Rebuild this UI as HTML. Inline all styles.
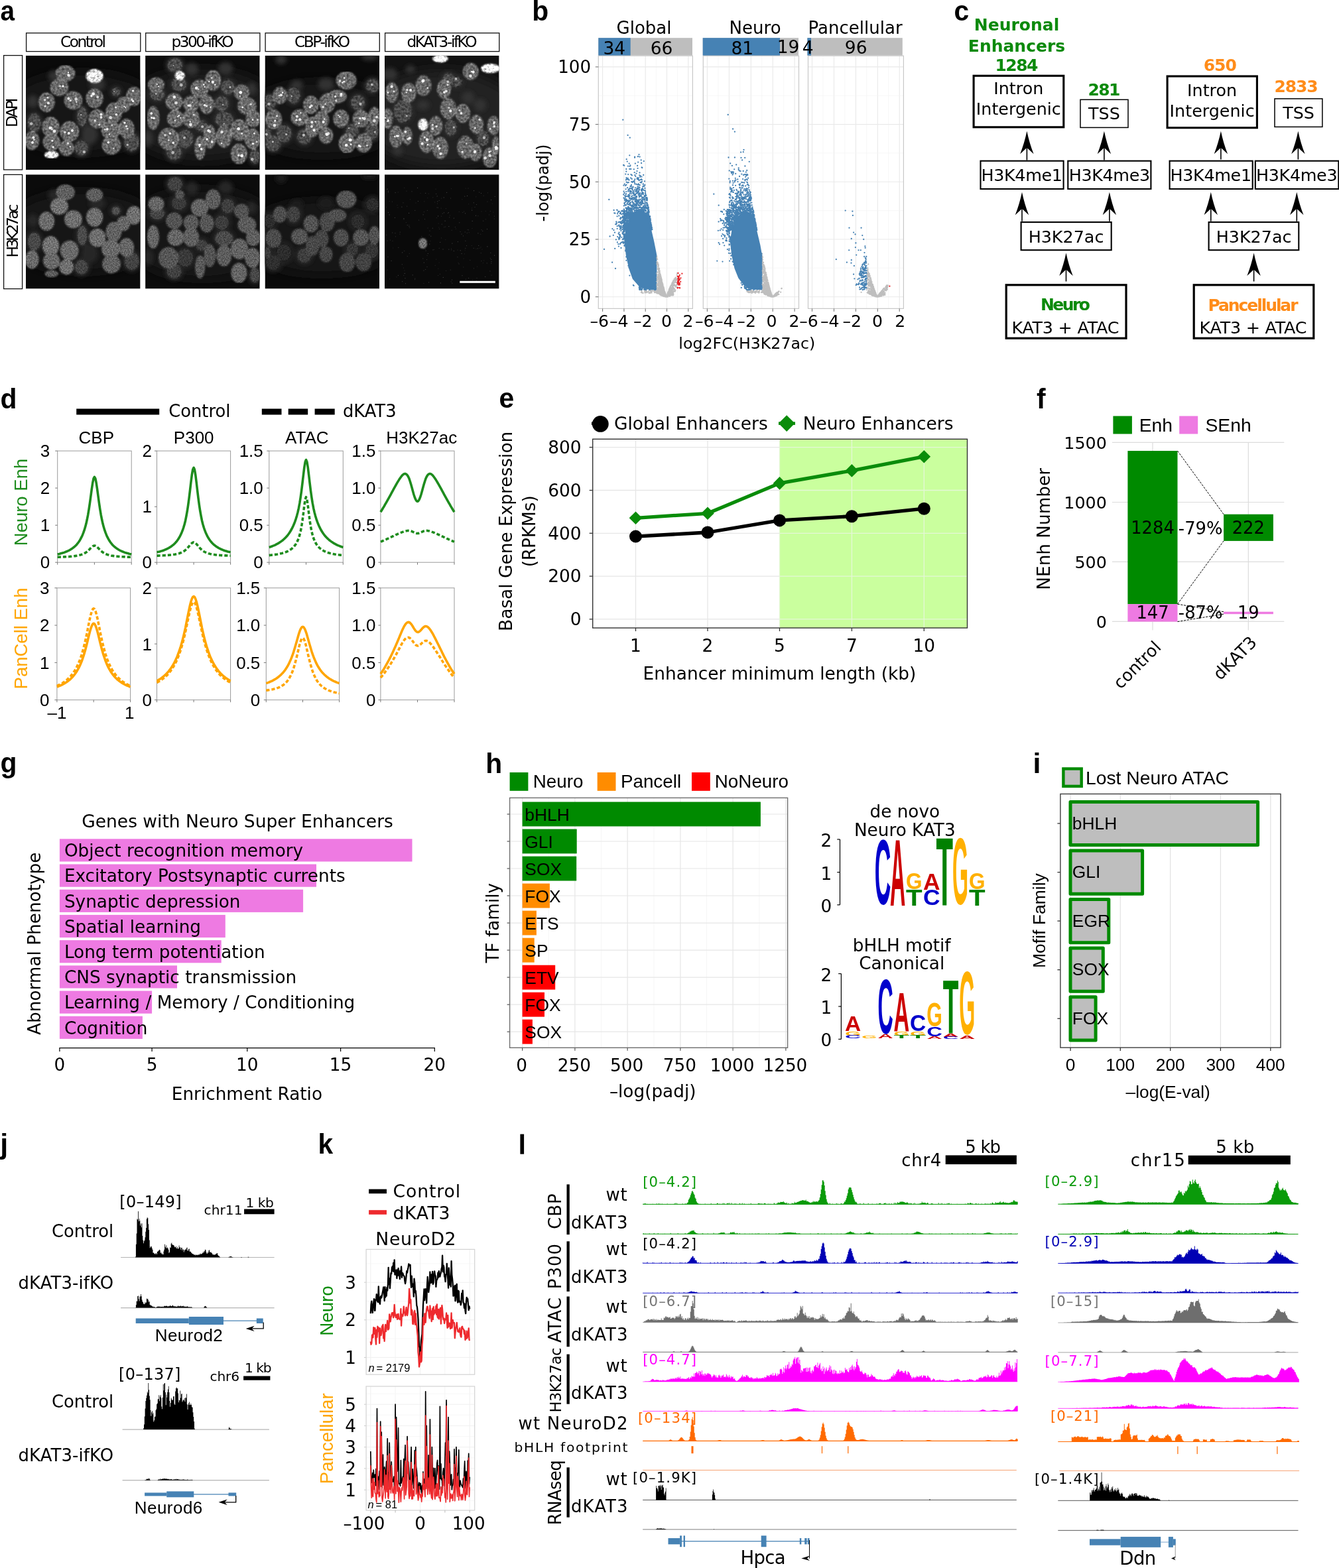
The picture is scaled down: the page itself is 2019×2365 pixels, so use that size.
<!DOCTYPE html>
<html lang="en"><head><meta charset="utf-8"><title>Figure</title>
<style>
html,body{margin:0;padding:0;background:#fff}
svg{display:block}
text{font-family:"Liberation Sans",sans-serif}
text.d{font-family:"DejaVu Sans","Liberation Sans",sans-serif}
</style></head>
<body>
<svg width="2019" height="2365" viewBox="0 0 2019 2365">
<defs>
<filter id="bl1" x="-20%" y="-20%" width="140%" height="140%"><feGaussianBlur stdDeviation="1.1"/></filter>
<filter id="bl2" x="-30%" y="-30%" width="160%" height="160%"><feGaussianBlur stdDeviation="3"/></filter>
<filter id="bl0" x="-30%" y="-30%" width="160%" height="160%"><feGaussianBlur stdDeviation="0.6"/></filter>
<filter id="bl3" x="-30%" y="-30%" width="160%" height="160%"><feGaussianBlur stdDeviation="9"/></filter>
<filter id="tx1" x="0" y="0" width="100%" height="100%" color-interpolation-filters="sRGB"><feGaussianBlur in="SourceGraphic" stdDeviation="1.0" result="b"/><feTurbulence type="fractalNoise" baseFrequency="0.3" numOctaves="3" seed="5" result="n"/><feColorMatrix in="n" type="matrix" values="1 0 0 0 0  1 0 0 0 0  1 0 0 0 0  0 0 0 0 1" result="g"/><feComposite in="b" in2="g" operator="arithmetic" k1="1.3" k2="0.4" k3="0" k4="0" result="c"/><feGaussianBlur in="c" stdDeviation="0.45"/></filter>
<filter id="tx2" x="0" y="0" width="100%" height="100%" color-interpolation-filters="sRGB"><feGaussianBlur in="SourceGraphic" stdDeviation="1.3" result="b"/><feTurbulence type="fractalNoise" baseFrequency="0.55" numOctaves="2" seed="9" result="n"/><feColorMatrix in="n" type="matrix" values="1 0 0 0 0  1 0 0 0 0  1 0 0 0 0  0 0 0 0 1" result="g"/><feComposite in="b" in2="g" operator="arithmetic" k1="1.2" k2="0.4" k3="0" k4="0" result="c"/><feGaussianBlur in="c" stdDeviation="0.5"/></filter>
<clipPath id="ca00"><rect x="39.0" y="83.8" width="172.6" height="172.4"/></clipPath>
<clipPath id="ca01"><rect x="219.1" y="83.8" width="172.6" height="172.4"/></clipPath>
<clipPath id="ca02"><rect x="399.5" y="83.8" width="172.6" height="172.4"/></clipPath>
<clipPath id="ca03"><rect x="580.0" y="83.8" width="172.6" height="172.4"/></clipPath>
<clipPath id="ca10"><rect x="39.0" y="263.2" width="172.6" height="172.4"/></clipPath>
<clipPath id="ca11"><rect x="219.1" y="263.2" width="172.6" height="172.4"/></clipPath>
<clipPath id="ca12"><rect x="399.5" y="263.2" width="172.6" height="172.4"/></clipPath>
<clipPath id="ca13"><rect x="580.0" y="263.2" width="172.6" height="172.4"/></clipPath>
<clipPath id="cd00"><rect x="84.7" y="680.1" width="115.49999999999999" height="168.10000000000002"/></clipPath>
<clipPath id="cd01"><rect x="234.5" y="680.1" width="115.10000000000002" height="168.10000000000002"/></clipPath>
<clipPath id="cd02"><rect x="403.8" y="680.1" width="115.49999999999994" height="168.10000000000002"/></clipPath>
<clipPath id="cd03"><rect x="571.9" y="680.1" width="115.10000000000002" height="168.10000000000002"/></clipPath>
<clipPath id="cd10"><rect x="83.9" y="886.8" width="114.69999999999999" height="168.9000000000001"/></clipPath>
<clipPath id="cd11"><rect x="234.5" y="886.8" width="115.10000000000002" height="168.9000000000001"/></clipPath>
<clipPath id="cd12"><rect x="399.3" y="886.8" width="114.30000000000001" height="168.9000000000001"/></clipPath>
<clipPath id="cd13"><rect x="571.9" y="886.8" width="115.10000000000002" height="168.9000000000001"/></clipPath>
<clipPath id="ck1"><rect x="552.1" y="1884.4" width="163.6" height="188.8"/></clipPath>
<clipPath id="ck2"><rect x="552.1" y="2091" width="163.6" height="187"/></clipPath>
</defs>
<rect width="2019" height="2365" fill="#fff"/>
<text transform="translate(0.5 31.2) scale(0.9 1)" font-size="43" font-weight="bold">a</text>
<rect x="39.6" y="49.8" width="172.2" height="27.8" fill="#fff" stroke="#111" stroke-width="1.3" />
<text x="125.5" y="71.2" font-size="23.3" class="d" text-anchor="middle" textLength="69" lengthAdjust="spacing">Control</text>
<rect x="219.7" y="49.8" width="172.2" height="27.8" fill="#fff" stroke="#111" stroke-width="1.3" />
<text x="305.6" y="71.2" font-size="23.3" class="d" text-anchor="middle" textLength="94" lengthAdjust="spacing">p300-ifKO</text>
<rect x="400.1" y="49.8" width="172.2" height="27.8" fill="#fff" stroke="#111" stroke-width="1.3" />
<text x="486.0" y="71.2" font-size="23.3" class="d" text-anchor="middle" textLength="84" lengthAdjust="spacing">CBP-ifKO</text>
<rect x="580.6" y="49.8" width="172.2" height="27.8" fill="#fff" stroke="#111" stroke-width="1.3" />
<text x="666.5" y="71.2" font-size="23.3" class="d" text-anchor="middle" textLength="106" lengthAdjust="spacing">dKAT3-ifKO</text>
<rect x="5.6" y="83.6" width="28.0" height="172.4" fill="#fff" stroke="#111" stroke-width="1.3" />
<rect x="5.6" y="263.4" width="28.0" height="172.2" fill="#fff" stroke="#111" stroke-width="1.3" />
<text x="26.4" y="169.8" font-size="23.3" class="d" text-anchor="middle" transform="rotate(-90 26.4 169.8)" textLength="44.5" lengthAdjust="spacing">DAPI</text>
<text x="26.6" y="348.0" font-size="23.3" class="d" text-anchor="middle" transform="rotate(-90 26.6 348.0)" textLength="81" lengthAdjust="spacing">H3K27ac</text>
<g clip-path="url(#ca00)">
<rect x="39.0" y="83.8" width="172.6" height="172.4" fill="#0a0a0a" />
<ellipse cx="125.0" cy="170.0" rx="120" ry="62.1" fill="#181818" filter="url(#bl3)"/>
<g filter="url(#bl2)">
<ellipse cx="124.0" cy="175.8" rx="10.5" ry="17.9" fill="#2c2c2c"/>
<ellipse cx="122.9" cy="223.3" rx="13.0" ry="14.2" fill="#2c2c2c"/>
<ellipse cx="51.7" cy="184.9" rx="13.0" ry="16.7" fill="#2c2c2c"/>
<ellipse cx="198.6" cy="214.3" rx="14.2" ry="16.7" fill="#2c2c2c"/>
<ellipse cx="49.4" cy="153.2" rx="8.5" ry="9.8" fill="#303030"/>
<ellipse cx="174.9" cy="138.5" rx="9.3" ry="9.3" fill="#2c2c2c"/>
<ellipse cx="146.6" cy="127.2" rx="12.2" ry="9.8" fill="#303030"/>
<ellipse cx="81.1" cy="114.8" rx="8.5" ry="8.5" fill="#303030"/>
<ellipse cx="135.3" cy="203.0" rx="12.2" ry="14.7" fill="#303030"/>
</g>
<g filter="url(#tx1)">
<ellipse cx="124.0" cy="175.8" rx="7.7" ry="15.1" fill="#484848" stroke="#565656" stroke-width="1"/>
<ellipse cx="122.9" cy="223.3" rx="10.2" ry="11.4" fill="#484848" stroke="#565656" stroke-width="1"/>
<ellipse cx="51.7" cy="184.9" rx="10.2" ry="13.9" fill="#484848" stroke="#565656" stroke-width="1"/>
<ellipse cx="198.6" cy="214.3" rx="11.4" ry="13.9" fill="#484848" stroke="#565656" stroke-width="1"/>
<ellipse cx="174.9" cy="138.5" rx="6.5" ry="6.5" fill="#484848" stroke="#565656" stroke-width="1"/>
<ellipse cx="98.5" cy="110.7" rx="14.3" ry="11.9" fill="#646464" stroke="#9a9a9a" stroke-width="1"/>
<ellipse cx="89.4" cy="131.7" rx="13.4" ry="12.6" fill="#646464" stroke="#9a9a9a" stroke-width="1"/>
<ellipse cx="142.6" cy="114.8" rx="12.6" ry="10.2" fill="#e0e0e0" stroke="#f0f0f0" stroke-width="1"/>
<ellipse cx="70.2" cy="154.3" rx="11.9" ry="14.3" fill="#646464" stroke="#9a9a9a" stroke-width="1"/>
<ellipse cx="110.5" cy="151.4" rx="13.4" ry="13.4" fill="#646464" stroke="#9a9a9a" stroke-width="1"/>
<ellipse cx="142.6" cy="148.2" rx="12.6" ry="14.3" fill="#646464" stroke="#9a9a9a" stroke-width="1"/>
<ellipse cx="202.0" cy="145.3" rx="11.4" ry="13.9" fill="#646464" stroke="#9a9a9a" stroke-width="1"/>
<ellipse cx="171.5" cy="170.2" rx="11.9" ry="15.1" fill="#646464" stroke="#9a9a9a" stroke-width="1"/>
<ellipse cx="186.2" cy="157.7" rx="10.2" ry="11.4" fill="#646464" stroke="#9a9a9a" stroke-width="1"/>
<ellipse cx="146.6" cy="179.2" rx="12.6" ry="13.9" fill="#646464" stroke="#9a9a9a" stroke-width="1"/>
<ellipse cx="76.5" cy="191.7" rx="12.6" ry="15.1" fill="#646464" stroke="#9a9a9a" stroke-width="1"/>
<ellipse cx="104.8" cy="198.4" rx="13.9" ry="15.1" fill="#646464" stroke="#9a9a9a" stroke-width="1"/>
<ellipse cx="167.0" cy="196.2" rx="13.9" ry="13.9" fill="#646464" stroke="#9a9a9a" stroke-width="1"/>
<ellipse cx="190.7" cy="193.9" rx="11.4" ry="14.3" fill="#646464" stroke="#9a9a9a" stroke-width="1"/>
<ellipse cx="48.3" cy="212.0" rx="10.2" ry="13.9" fill="#646464" stroke="#9a9a9a" stroke-width="1"/>
<ellipse cx="77.7" cy="214.3" rx="12.6" ry="12.6" fill="#646464" stroke="#9a9a9a" stroke-width="1"/>
<ellipse cx="100.3" cy="223.3" rx="10.9" ry="11.4" fill="#646464" stroke="#9a9a9a" stroke-width="1"/>
<ellipse cx="168.1" cy="218.8" rx="13.9" ry="13.9" fill="#646464" stroke="#9a9a9a" stroke-width="1"/>
<ellipse cx="77.7" cy="233.5" rx="10.2" ry="5.3" fill="#e0e0e0" stroke="#f0f0f0" stroke-width="1"/>
</g>
<g filter="url(#bl0)" fill="#fff">
<circle cx="103.0" cy="109.4" r="1.1" opacity="0.95"/>
<circle cx="103.8" cy="113.7" r="2.3" opacity="0.76"/>
<circle cx="102.8" cy="112.9" r="1.3" opacity="0.87"/>
<circle cx="90.5" cy="129.7" r="1.3" opacity="0.89"/>
<circle cx="95.0" cy="129.9" r="1.6" opacity="0.99"/>
<circle cx="140.4" cy="114.1" r="1.6" opacity="0.86"/>
<circle cx="137.6" cy="112.9" r="2.0" opacity="0.73"/>
<circle cx="67.7" cy="150.8" r="1.8" opacity="0.72"/>
<circle cx="72.7" cy="155.5" r="2.0" opacity="0.83"/>
<circle cx="68.1" cy="160.2" r="1.6" opacity="0.79"/>
<circle cx="71.9" cy="147.3" r="1.3" opacity="0.87"/>
<circle cx="106.4" cy="151.5" r="1.6" opacity="0.88"/>
<circle cx="115.3" cy="153.8" r="1.2" opacity="0.80"/>
<circle cx="114.7" cy="149.5" r="2.3" opacity="0.72"/>
<circle cx="103.4" cy="148.7" r="2.1" opacity="0.80"/>
<circle cx="137.9" cy="144.7" r="1.6" opacity="0.95"/>
<circle cx="147.1" cy="146.4" r="1.9" opacity="0.72"/>
<circle cx="140.7" cy="141.7" r="2.4" opacity="0.95"/>
<circle cx="200.5" cy="136.9" r="1.5" opacity="0.98"/>
<circle cx="198.8" cy="150.3" r="1.7" opacity="0.77"/>
<circle cx="200.6" cy="152.5" r="1.6" opacity="0.98"/>
<circle cx="175.4" cy="172.8" r="1.8" opacity="0.97"/>
<circle cx="174.6" cy="161.9" r="1.4" opacity="0.82"/>
<circle cx="166.8" cy="177.4" r="2.3" opacity="0.75"/>
<circle cx="189.2" cy="162.3" r="1.0" opacity="0.95"/>
<circle cx="187.4" cy="160.6" r="1.2" opacity="0.86"/>
<circle cx="122.2" cy="173.1" r="1.2" opacity="0.60"/>
<circle cx="152.5" cy="177.1" r="2.0" opacity="0.84"/>
<circle cx="152.4" cy="172.6" r="2.0" opacity="0.87"/>
<circle cx="143.2" cy="182.0" r="1.7" opacity="0.82"/>
<circle cx="149.8" cy="188.0" r="1.6" opacity="0.73"/>
<circle cx="77.8" cy="192.2" r="1.2" opacity="0.73"/>
<circle cx="75.5" cy="193.0" r="2.2" opacity="0.88"/>
<circle cx="78.4" cy="194.7" r="1.5" opacity="0.81"/>
<circle cx="82.0" cy="197.9" r="2.4" opacity="0.84"/>
<circle cx="103.8" cy="201.1" r="2.0" opacity="0.92"/>
<circle cx="97.8" cy="199.5" r="1.7" opacity="0.76"/>
<circle cx="109.0" cy="197.0" r="2.0" opacity="0.97"/>
<circle cx="165.0" cy="202.5" r="1.1" opacity="0.95"/>
<circle cx="158.3" cy="195.2" r="1.5" opacity="0.77"/>
<circle cx="161.7" cy="194.8" r="1.9" opacity="0.88"/>
<circle cx="168.8" cy="188.8" r="1.3" opacity="0.77"/>
<circle cx="190.5" cy="190.5" r="1.7" opacity="0.81"/>
<circle cx="192.1" cy="194.2" r="1.4" opacity="0.78"/>
<circle cx="188.0" cy="185.1" r="1.6" opacity="0.98"/>
<circle cx="51.4" cy="210.8" r="1.3" opacity="0.77"/>
<circle cx="49.0" cy="214.9" r="1.9" opacity="0.97"/>
<circle cx="50.4" cy="207.5" r="1.9" opacity="0.94"/>
<circle cx="78.8" cy="212.3" r="1.5" opacity="0.91"/>
<circle cx="80.1" cy="221.8" r="1.6" opacity="0.89"/>
<circle cx="102.6" cy="216.0" r="1.6" opacity="0.82"/>
<circle cx="105.8" cy="221.3" r="1.2" opacity="0.74"/>
<circle cx="126.7" cy="229.2" r="2.1" opacity="0.60"/>
<circle cx="163.3" cy="214.8" r="1.7" opacity="0.98"/>
<circle cx="171.4" cy="223.7" r="1.0" opacity="0.94"/>
<circle cx="75.1" cy="231.6" r="2.3" opacity="0.83"/>
<circle cx="81.9" cy="231.0" r="1.3" opacity="0.78"/>
<circle cx="77.0" cy="234.9" r="1.8" opacity="0.78"/>
<circle cx="76.0" cy="234.0" r="2.3" opacity="0.81"/>
<circle cx="47.2" cy="186.5" r="2.3" opacity="0.60"/>
<circle cx="192.2" cy="218.5" r="1.7" opacity="0.60"/>
<circle cx="172.1" cy="138.0" r="1.0" opacity="0.60"/>
</g>
</g>
<g clip-path="url(#ca01)">
<rect x="219.1" y="83.8" width="172.6" height="172.4" fill="#0c0c0c" />
<ellipse cx="305.1" cy="173.4" rx="120" ry="69.0" fill="#1a1a1a" filter="url(#bl3)"/>
<g filter="url(#bl2)">
<ellipse cx="263.8" cy="98.2" rx="14.2" ry="13.6" fill="#2c2c2c"/>
<ellipse cx="270.0" cy="127.0" rx="14.2" ry="13.6" fill="#2c2c2c"/>
<ellipse cx="237.2" cy="142.8" rx="14.2" ry="11.8" fill="#2c2c2c"/>
<ellipse cx="343.5" cy="131.5" rx="13.0" ry="14.2" fill="#2c2c2c"/>
<ellipse cx="334.4" cy="156.4" rx="13.6" ry="14.2" fill="#2c2c2c"/>
<ellipse cx="337.8" cy="180.1" rx="16.7" ry="14.2" fill="#2c2c2c"/>
<ellipse cx="279.0" cy="209.5" rx="15.4" ry="16.7" fill="#2c2c2c"/>
<ellipse cx="262.6" cy="229.9" rx="14.2" ry="14.2" fill="#2c2c2c"/>
<ellipse cx="384.2" cy="235.5" rx="10.5" ry="14.2" fill="#2c2c2c"/>
<ellipse cx="303.9" cy="190.3" rx="11.8" ry="11.8" fill="#2c2c2c"/>
<ellipse cx="289.2" cy="104.4" rx="9.8" ry="9.8" fill="#303030"/>
<ellipse cx="340.1" cy="103.2" rx="11.0" ry="9.8" fill="#303030"/>
<ellipse cx="379.6" cy="133.8" rx="7.3" ry="9.8" fill="#303030"/>
<ellipse cx="223.6" cy="208.4" rx="7.3" ry="12.2" fill="#303030"/>
</g>
<g filter="url(#tx1)">
<ellipse cx="263.8" cy="98.2" rx="11.4" ry="10.8" fill="#484848" stroke="#565656" stroke-width="1"/>
<ellipse cx="270.0" cy="127.0" rx="11.4" ry="10.8" fill="#484848" stroke="#565656" stroke-width="1"/>
<ellipse cx="237.2" cy="142.8" rx="11.4" ry="9.0" fill="#484848" stroke="#565656" stroke-width="1"/>
<ellipse cx="343.5" cy="131.5" rx="10.2" ry="11.4" fill="#484848" stroke="#565656" stroke-width="1"/>
<ellipse cx="334.4" cy="156.4" rx="10.8" ry="11.4" fill="#484848" stroke="#565656" stroke-width="1"/>
<ellipse cx="337.8" cy="180.1" rx="13.9" ry="11.4" fill="#484848" stroke="#565656" stroke-width="1"/>
<ellipse cx="279.0" cy="209.5" rx="12.6" ry="13.9" fill="#484848" stroke="#565656" stroke-width="1"/>
<ellipse cx="262.6" cy="229.9" rx="11.4" ry="11.4" fill="#484848" stroke="#565656" stroke-width="1"/>
<ellipse cx="384.2" cy="235.5" rx="7.7" ry="11.4" fill="#484848" stroke="#565656" stroke-width="1"/>
<ellipse cx="303.9" cy="190.3" rx="9.0" ry="9.0" fill="#484848" stroke="#565656" stroke-width="1"/>
<ellipse cx="271.1" cy="114.0" rx="7.1" ry="6.5" fill="#e0e0e0" stroke="#f0f0f0" stroke-width="1"/>
<ellipse cx="235.5" cy="128.1" rx="12.0" ry="10.8" fill="#646464" stroke="#9a9a9a" stroke-width="1"/>
<ellipse cx="301.1" cy="133.8" rx="13.2" ry="13.2" fill="#646464" stroke="#9a9a9a" stroke-width="1"/>
<ellipse cx="321.4" cy="121.3" rx="11.4" ry="15.1" fill="#646464" stroke="#9a9a9a" stroke-width="1"/>
<ellipse cx="364.4" cy="139.4" rx="11.4" ry="11.4" fill="#646464" stroke="#9a9a9a" stroke-width="1"/>
<ellipse cx="262.6" cy="153.6" rx="12.6" ry="12.6" fill="#646464" stroke="#9a9a9a" stroke-width="1"/>
<ellipse cx="288.1" cy="156.4" rx="11.4" ry="12.0" fill="#646464" stroke="#9a9a9a" stroke-width="1"/>
<ellipse cx="311.8" cy="157.5" rx="10.8" ry="13.9" fill="#646464" stroke="#9a9a9a" stroke-width="1"/>
<ellipse cx="372.3" cy="159.8" rx="13.9" ry="12.6" fill="#646464" stroke="#9a9a9a" stroke-width="1"/>
<ellipse cx="231.0" cy="177.9" rx="9.0" ry="17.5" fill="#646464" stroke="#9a9a9a" stroke-width="1"/>
<ellipse cx="264.9" cy="179.0" rx="12.6" ry="12.6" fill="#646464" stroke="#9a9a9a" stroke-width="1"/>
<ellipse cx="288.1" cy="178.4" rx="12.0" ry="14.5" fill="#646464" stroke="#9a9a9a" stroke-width="1"/>
<ellipse cx="381.9" cy="179.0" rx="10.8" ry="12.6" fill="#646464" stroke="#9a9a9a" stroke-width="1"/>
<ellipse cx="361.0" cy="196.0" rx="13.2" ry="15.7" fill="#646464" stroke="#9a9a9a" stroke-width="1"/>
<ellipse cx="337.8" cy="206.1" rx="11.4" ry="16.3" fill="#646464" stroke="#9a9a9a" stroke-width="1"/>
<ellipse cx="316.3" cy="206.1" rx="9.0" ry="17.5" fill="#646464" stroke="#9a9a9a" stroke-width="1"/>
<ellipse cx="254.1" cy="209.5" rx="15.1" ry="16.3" fill="#646464" stroke="#9a9a9a" stroke-width="1"/>
<ellipse cx="380.8" cy="209.5" rx="11.4" ry="15.1" fill="#646464" stroke="#9a9a9a" stroke-width="1"/>
<ellipse cx="301.6" cy="223.1" rx="7.7" ry="17.5" fill="#646464" stroke="#9a9a9a" stroke-width="1"/>
<ellipse cx="360.4" cy="232.1" rx="12.0" ry="15.1" fill="#646464" stroke="#9a9a9a" stroke-width="1"/>
</g>
<g filter="url(#bl0)" fill="#fff">
<circle cx="261.5" cy="99.0" r="1.0" opacity="0.60"/>
<circle cx="272.4" cy="116.3" r="2.0" opacity="0.87"/>
<circle cx="269.7" cy="116.5" r="1.8" opacity="0.94"/>
<circle cx="236.7" cy="127.1" r="1.3" opacity="0.71"/>
<circle cx="239.1" cy="130.4" r="1.0" opacity="0.97"/>
<circle cx="273.1" cy="128.2" r="2.4" opacity="0.60"/>
<circle cx="235.2" cy="141.6" r="1.4" opacity="0.60"/>
<circle cx="296.1" cy="132.7" r="2.3" opacity="0.91"/>
<circle cx="307.2" cy="127.7" r="1.4" opacity="0.87"/>
<circle cx="308.5" cy="131.0" r="1.2" opacity="0.74"/>
<circle cx="299.2" cy="134.5" r="1.3" opacity="0.72"/>
<circle cx="320.8" cy="123.8" r="2.1" opacity="0.98"/>
<circle cx="319.1" cy="117.6" r="1.4" opacity="0.74"/>
<circle cx="315.3" cy="123.0" r="1.1" opacity="0.97"/>
<circle cx="324.4" cy="127.7" r="1.3" opacity="0.91"/>
<circle cx="347.0" cy="131.4" r="1.6" opacity="0.60"/>
<circle cx="361.9" cy="144.9" r="1.0" opacity="0.87"/>
<circle cx="363.1" cy="139.9" r="1.5" opacity="0.89"/>
<circle cx="362.7" cy="139.3" r="2.4" opacity="0.94"/>
<circle cx="265.5" cy="155.2" r="2.3" opacity="0.75"/>
<circle cx="262.9" cy="146.2" r="2.2" opacity="0.90"/>
<circle cx="284.1" cy="159.2" r="1.7" opacity="0.85"/>
<circle cx="286.6" cy="159.3" r="2.1" opacity="0.76"/>
<circle cx="290.5" cy="154.4" r="1.0" opacity="0.73"/>
<circle cx="317.5" cy="161.7" r="1.1" opacity="0.96"/>
<circle cx="308.6" cy="158.7" r="1.8" opacity="0.98"/>
<circle cx="311.6" cy="160.0" r="1.7" opacity="0.77"/>
<circle cx="336.1" cy="157.8" r="1.1" opacity="0.60"/>
<circle cx="378.2" cy="157.3" r="1.7" opacity="0.76"/>
<circle cx="365.8" cy="161.9" r="1.4" opacity="0.94"/>
<circle cx="232.0" cy="178.3" r="1.7" opacity="0.99"/>
<circle cx="228.7" cy="177.5" r="1.6" opacity="0.90"/>
<circle cx="228.3" cy="171.0" r="1.8" opacity="0.97"/>
<circle cx="263.8" cy="181.7" r="1.3" opacity="0.76"/>
<circle cx="269.8" cy="174.4" r="1.2" opacity="1.00"/>
<circle cx="272.4" cy="178.1" r="1.0" opacity="0.89"/>
<circle cx="268.2" cy="175.9" r="1.1" opacity="0.90"/>
<circle cx="292.2" cy="173.2" r="1.4" opacity="0.77"/>
<circle cx="286.9" cy="183.6" r="1.2" opacity="0.83"/>
<circle cx="287.4" cy="188.0" r="2.4" opacity="0.86"/>
<circle cx="388.5" cy="180.7" r="1.3" opacity="0.75"/>
<circle cx="381.0" cy="180.7" r="1.4" opacity="0.90"/>
<circle cx="337.9" cy="186.6" r="1.1" opacity="0.60"/>
<circle cx="364.7" cy="201.4" r="1.6" opacity="0.79"/>
<circle cx="359.6" cy="194.2" r="2.3" opacity="0.96"/>
<circle cx="334.5" cy="199.1" r="2.2" opacity="0.82"/>
<circle cx="334.2" cy="215.9" r="1.2" opacity="0.92"/>
<circle cx="319.7" cy="214.1" r="2.0" opacity="0.85"/>
<circle cx="312.1" cy="210.0" r="1.7" opacity="0.97"/>
<circle cx="316.4" cy="198.6" r="2.1" opacity="0.70"/>
<circle cx="314.3" cy="197.0" r="2.0" opacity="0.99"/>
<circle cx="254.4" cy="211.5" r="1.2" opacity="0.81"/>
<circle cx="261.2" cy="215.4" r="1.8" opacity="0.89"/>
<circle cx="248.9" cy="203.8" r="1.7" opacity="0.70"/>
<circle cx="256.5" cy="201.2" r="1.7" opacity="0.86"/>
<circle cx="278.0" cy="207.8" r="2.0" opacity="0.60"/>
<circle cx="383.3" cy="201.2" r="1.3" opacity="0.93"/>
<circle cx="381.5" cy="216.7" r="1.6" opacity="0.95"/>
<circle cx="387.3" cy="213.9" r="1.4" opacity="0.71"/>
<circle cx="300.9" cy="221.0" r="1.2" opacity="0.78"/>
<circle cx="301.5" cy="218.2" r="1.8" opacity="0.70"/>
<circle cx="303.6" cy="224.8" r="1.9" opacity="0.91"/>
<circle cx="300.6" cy="218.8" r="1.7" opacity="0.84"/>
<circle cx="260.7" cy="230.3" r="2.3" opacity="0.60"/>
<circle cx="359.7" cy="234.3" r="1.7" opacity="0.79"/>
<circle cx="364.7" cy="234.9" r="2.4" opacity="1.00"/>
<circle cx="380.3" cy="240.3" r="2.3" opacity="0.60"/>
<circle cx="305.2" cy="191.0" r="2.0" opacity="0.60"/>
</g>
</g>
<g clip-path="url(#ca02)">
<rect x="399.5" y="83.8" width="172.6" height="172.4" fill="#0a0a0a" />
<ellipse cx="485.5" cy="178.6" rx="120" ry="56.9" fill="#171717" filter="url(#bl3)"/>
<g filter="url(#bl2)">
<ellipse cx="442.5" cy="143.9" rx="13.0" ry="15.4" fill="#2c2c2c"/>
<ellipse cx="447.5" cy="128.1" rx="9.8" ry="7.3" fill="#303030"/>
<ellipse cx="406.8" cy="154.1" rx="11.8" ry="14.2" fill="#2c2c2c"/>
<ellipse cx="491.6" cy="127.0" rx="12.2" ry="9.8" fill="#303030"/>
<ellipse cx="561.7" cy="129.2" rx="13.0" ry="13.0" fill="#2c2c2c"/>
<ellipse cx="539.7" cy="154.7" rx="13.6" ry="14.2" fill="#2c2c2c"/>
<ellipse cx="428.3" cy="201.6" rx="14.2" ry="16.0" fill="#2c2c2c"/>
<ellipse cx="458.9" cy="206.1" rx="13.6" ry="14.2" fill="#2c2c2c"/>
<ellipse cx="531.2" cy="197.1" rx="12.4" ry="13.0" fill="#2c2c2c"/>
<ellipse cx="560.6" cy="198.2" rx="13.0" ry="15.4" fill="#2c2c2c"/>
<ellipse cx="411.9" cy="216.3" rx="14.2" ry="14.8" fill="#2c2c2c"/>
<ellipse cx="403.5" cy="201.6" rx="8.1" ry="11.8" fill="#2c2c2c"/>
<ellipse cx="423.8" cy="89.7" rx="8.5" ry="7.3" fill="#303030"/>
<ellipse cx="557.2" cy="86.3" rx="12.2" ry="4.9" fill="#303030"/>
</g>
<g filter="url(#tx1)">
<ellipse cx="442.5" cy="143.9" rx="10.2" ry="12.6" fill="#484848" stroke="#565656" stroke-width="1"/>
<ellipse cx="406.8" cy="154.1" rx="9.0" ry="11.4" fill="#484848" stroke="#565656" stroke-width="1"/>
<ellipse cx="561.7" cy="129.2" rx="10.2" ry="10.2" fill="#484848" stroke="#565656" stroke-width="1"/>
<ellipse cx="539.7" cy="154.7" rx="10.8" ry="11.4" fill="#484848" stroke="#565656" stroke-width="1"/>
<ellipse cx="428.3" cy="201.6" rx="11.4" ry="13.2" fill="#484848" stroke="#565656" stroke-width="1"/>
<ellipse cx="458.9" cy="206.1" rx="10.8" ry="11.4" fill="#484848" stroke="#565656" stroke-width="1"/>
<ellipse cx="531.2" cy="197.1" rx="9.6" ry="10.2" fill="#484848" stroke="#565656" stroke-width="1"/>
<ellipse cx="560.6" cy="198.2" rx="10.2" ry="12.6" fill="#484848" stroke="#565656" stroke-width="1"/>
<ellipse cx="411.9" cy="216.3" rx="11.4" ry="12.0" fill="#484848" stroke="#565656" stroke-width="1"/>
<ellipse cx="403.5" cy="201.6" rx="5.3" ry="9.0" fill="#484848" stroke="#565656" stroke-width="1"/>
<ellipse cx="422.1" cy="143.9" rx="10.2" ry="12.6" fill="#646464" stroke="#9a9a9a" stroke-width="1"/>
<ellipse cx="469.0" cy="158.1" rx="11.4" ry="13.2" fill="#646464" stroke="#9a9a9a" stroke-width="1"/>
<ellipse cx="493.3" cy="155.3" rx="11.4" ry="14.5" fill="#646464" stroke="#9a9a9a" stroke-width="1"/>
<ellipse cx="508.6" cy="145.6" rx="13.9" ry="9.6" fill="#646464" stroke="#9a9a9a" stroke-width="1"/>
<ellipse cx="522.2" cy="121.3" rx="15.1" ry="13.2" fill="#646464" stroke="#9a9a9a" stroke-width="1"/>
<ellipse cx="412.5" cy="180.1" rx="12.0" ry="14.5" fill="#646464" stroke="#9a9a9a" stroke-width="1"/>
<ellipse cx="451.5" cy="177.3" rx="12.6" ry="12.0" fill="#646464" stroke="#9a9a9a" stroke-width="1"/>
<ellipse cx="484.9" cy="180.7" rx="10.8" ry="13.2" fill="#646464" stroke="#9a9a9a" stroke-width="1"/>
<ellipse cx="471.3" cy="191.4" rx="10.2" ry="15.1" fill="#646464" stroke="#9a9a9a" stroke-width="1"/>
<ellipse cx="514.3" cy="179.0" rx="11.4" ry="13.2" fill="#646464" stroke="#9a9a9a" stroke-width="1"/>
<ellipse cx="544.2" cy="179.0" rx="12.0" ry="12.6" fill="#646464" stroke="#9a9a9a" stroke-width="1"/>
<ellipse cx="564.6" cy="175.6" rx="8.4" ry="13.9" fill="#646464" stroke="#9a9a9a" stroke-width="1"/>
<ellipse cx="491.6" cy="204.4" rx="10.2" ry="12.0" fill="#646464" stroke="#9a9a9a" stroke-width="1"/>
<ellipse cx="523.3" cy="216.3" rx="12.0" ry="14.5" fill="#646464" stroke="#9a9a9a" stroke-width="1"/>
<ellipse cx="548.2" cy="215.7" rx="12.0" ry="13.9" fill="#646464" stroke="#9a9a9a" stroke-width="1"/>
</g>
<g filter="url(#bl0)" fill="#fff">
<circle cx="423.9" cy="143.3" r="2.1" opacity="0.85"/>
<circle cx="426.2" cy="139.7" r="1.3" opacity="0.97"/>
<circle cx="420.9" cy="144.1" r="1.0" opacity="0.85"/>
<circle cx="439.7" cy="145.0" r="1.2" opacity="0.60"/>
<circle cx="405.4" cy="156.9" r="2.2" opacity="0.60"/>
<circle cx="467.5" cy="161.7" r="1.6" opacity="0.98"/>
<circle cx="469.5" cy="159.5" r="2.0" opacity="0.78"/>
<circle cx="487.1" cy="161.4" r="1.8" opacity="0.81"/>
<circle cx="490.6" cy="156.9" r="1.1" opacity="0.73"/>
<circle cx="506.6" cy="151.9" r="1.3" opacity="0.78"/>
<circle cx="505.6" cy="145.5" r="1.5" opacity="0.99"/>
<circle cx="514.6" cy="141.9" r="1.9" opacity="0.97"/>
<circle cx="514.1" cy="144.1" r="2.0" opacity="0.71"/>
<circle cx="516.3" cy="124.6" r="1.2" opacity="0.96"/>
<circle cx="512.7" cy="122.1" r="1.8" opacity="0.75"/>
<circle cx="518.7" cy="123.2" r="1.4" opacity="0.92"/>
<circle cx="519.2" cy="117.6" r="1.3" opacity="0.84"/>
<circle cx="560.8" cy="127.7" r="1.9" opacity="0.60"/>
<circle cx="543.6" cy="156.8" r="2.1" opacity="0.60"/>
<circle cx="413.9" cy="189.1" r="2.4" opacity="0.83"/>
<circle cx="414.2" cy="182.5" r="1.1" opacity="0.80"/>
<circle cx="415.0" cy="182.0" r="1.4" opacity="0.87"/>
<circle cx="417.5" cy="175.0" r="1.6" opacity="0.82"/>
<circle cx="452.3" cy="180.4" r="2.1" opacity="0.85"/>
<circle cx="447.9" cy="175.6" r="2.0" opacity="0.86"/>
<circle cx="453.4" cy="170.3" r="1.1" opacity="0.97"/>
<circle cx="446.9" cy="181.2" r="1.6" opacity="0.79"/>
<circle cx="487.6" cy="184.1" r="2.1" opacity="0.94"/>
<circle cx="489.1" cy="179.6" r="1.1" opacity="0.98"/>
<circle cx="475.6" cy="183.5" r="1.3" opacity="0.73"/>
<circle cx="473.7" cy="196.5" r="2.0" opacity="0.98"/>
<circle cx="470.4" cy="184.3" r="2.1" opacity="0.84"/>
<circle cx="470.0" cy="190.8" r="2.1" opacity="0.77"/>
<circle cx="512.3" cy="176.0" r="1.2" opacity="0.78"/>
<circle cx="510.4" cy="173.9" r="1.2" opacity="0.72"/>
<circle cx="546.7" cy="178.0" r="1.4" opacity="0.94"/>
<circle cx="549.3" cy="179.0" r="2.4" opacity="0.78"/>
<circle cx="541.3" cy="185.9" r="1.3" opacity="0.86"/>
<circle cx="542.8" cy="178.5" r="1.6" opacity="0.89"/>
<circle cx="568.0" cy="176.4" r="1.9" opacity="0.83"/>
<circle cx="564.4" cy="182.4" r="2.3" opacity="0.77"/>
<circle cx="431.7" cy="202.5" r="1.6" opacity="0.60"/>
<circle cx="457.9" cy="203.8" r="2.1" opacity="0.60"/>
<circle cx="492.5" cy="203.0" r="1.7" opacity="0.76"/>
<circle cx="491.9" cy="201.8" r="1.7" opacity="0.78"/>
<circle cx="493.0" cy="203.1" r="1.9" opacity="0.88"/>
<circle cx="494.8" cy="201.6" r="2.3" opacity="0.72"/>
<circle cx="526.0" cy="193.4" r="1.1" opacity="0.60"/>
<circle cx="565.3" cy="199.1" r="1.6" opacity="0.60"/>
<circle cx="411.3" cy="213.8" r="1.6" opacity="0.60"/>
<circle cx="528.1" cy="211.2" r="2.4" opacity="0.98"/>
<circle cx="522.1" cy="219.0" r="2.3" opacity="0.92"/>
<circle cx="529.1" cy="217.7" r="1.5" opacity="0.81"/>
<circle cx="522.1" cy="218.9" r="1.0" opacity="0.78"/>
<circle cx="541.6" cy="219.9" r="1.8" opacity="0.93"/>
<circle cx="543.3" cy="221.0" r="1.4" opacity="0.94"/>
<circle cx="553.5" cy="219.5" r="1.3" opacity="0.86"/>
<circle cx="401.9" cy="202.5" r="2.0" opacity="0.60"/>
</g>
</g>
<g clip-path="url(#ca03)">
<rect x="580.0" y="83.8" width="172.6" height="172.4" fill="#121212" />
<ellipse cx="666.0" cy="178.6" rx="120" ry="72.4" fill="#242424" filter="url(#bl3)"/>
<g filter="url(#bl2)">
<ellipse cx="676.3" cy="117.9" rx="11.8" ry="10.5" fill="#2c2c2c"/>
<ellipse cx="687.6" cy="123.6" rx="11.8" ry="10.5" fill="#2c2c2c"/>
<ellipse cx="607.4" cy="167.7" rx="16.7" ry="20.3" fill="#2c2c2c"/>
<ellipse cx="723.8" cy="158.6" rx="9.8" ry="9.8" fill="#303030"/>
<ellipse cx="679.7" cy="192.6" rx="11.8" ry="15.4" fill="#2c2c2c"/>
<ellipse cx="728.3" cy="208.4" rx="11.8" ry="15.4" fill="#2c2c2c"/>
<ellipse cx="588.1" cy="112.3" rx="11.0" ry="9.8" fill="#303030"/>
<ellipse cx="618.7" cy="104.4" rx="7.3" ry="6.1" fill="#303030"/>
<ellipse cx="637.9" cy="158.6" rx="9.8" ry="7.3" fill="#303030"/>
<ellipse cx="705.7" cy="147.3" rx="9.8" ry="9.8" fill="#303030"/>
<ellipse cx="599.4" cy="227.6" rx="8.5" ry="7.3" fill="#303030"/>
</g>
<g filter="url(#tx1)">
<ellipse cx="676.3" cy="117.9" rx="9.0" ry="7.7" fill="#484848" stroke="#565656" stroke-width="1"/>
<ellipse cx="687.6" cy="123.6" rx="9.0" ry="7.7" fill="#484848" stroke="#565656" stroke-width="1"/>
<ellipse cx="607.4" cy="167.7" rx="13.9" ry="17.5" fill="#484848" stroke="#565656" stroke-width="1"/>
<ellipse cx="679.7" cy="192.6" rx="9.0" ry="12.6" fill="#484848" stroke="#565656" stroke-width="1"/>
<ellipse cx="728.3" cy="208.4" rx="9.0" ry="12.6" fill="#484848" stroke="#565656" stroke-width="1"/>
<ellipse cx="663.9" cy="88.5" rx="11.4" ry="5.3" fill="#f8f8f8" stroke="#fff" stroke-width="1"/>
<ellipse cx="739.6" cy="103.2" rx="13.9" ry="6.5" fill="#f8f8f8" stroke="#fff" stroke-width="1"/>
<ellipse cx="709.7" cy="107.8" rx="11.4" ry="12.6" fill="#646464" stroke="#9a9a9a" stroke-width="1"/>
<ellipse cx="638.5" cy="129.2" rx="11.4" ry="15.1" fill="#646464" stroke="#9a9a9a" stroke-width="1"/>
<ellipse cx="591.0" cy="139.4" rx="9.0" ry="15.1" fill="#646464" stroke="#9a9a9a" stroke-width="1"/>
<ellipse cx="616.4" cy="140.0" rx="10.8" ry="14.5" fill="#646464" stroke="#9a9a9a" stroke-width="1"/>
<ellipse cx="669.5" cy="134.3" rx="10.2" ry="13.9" fill="#646464" stroke="#9a9a9a" stroke-width="1"/>
<ellipse cx="584.7" cy="179.0" rx="7.1" ry="15.1" fill="#646464" stroke="#9a9a9a" stroke-width="1"/>
<ellipse cx="675.8" cy="163.7" rx="11.4" ry="15.7" fill="#646464" stroke="#9a9a9a" stroke-width="1"/>
<ellipse cx="697.8" cy="171.1" rx="10.8" ry="13.9" fill="#646464" stroke="#9a9a9a" stroke-width="1"/>
<ellipse cx="637.9" cy="188.0" rx="7.1" ry="9.0" fill="#e0e0e0" stroke="#f0f0f0" stroke-width="1"/>
<ellipse cx="657.1" cy="189.7" rx="9.6" ry="14.5" fill="#646464" stroke="#9a9a9a" stroke-width="1"/>
<ellipse cx="718.2" cy="187.5" rx="10.2" ry="13.9" fill="#646464" stroke="#9a9a9a" stroke-width="1"/>
<ellipse cx="744.2" cy="189.2" rx="9.0" ry="13.9" fill="#646464" stroke="#9a9a9a" stroke-width="1"/>
<ellipse cx="597.2" cy="206.1" rx="9.6" ry="16.3" fill="#646464" stroke="#9a9a9a" stroke-width="1"/>
<ellipse cx="614.1" cy="205.0" rx="7.1" ry="13.2" fill="#646464" stroke="#9a9a9a" stroke-width="1"/>
<ellipse cx="643.0" cy="214.0" rx="10.8" ry="16.3" fill="#646464" stroke="#9a9a9a" stroke-width="1"/>
<ellipse cx="663.9" cy="223.1" rx="11.4" ry="16.3" fill="#646464" stroke="#9a9a9a" stroke-width="1"/>
<ellipse cx="701.8" cy="222.0" rx="12.0" ry="16.9" fill="#646464" stroke="#9a9a9a" stroke-width="1"/>
<ellipse cx="717.0" cy="229.9" rx="9.0" ry="12.6" fill="#646464" stroke="#9a9a9a" stroke-width="1"/>
<ellipse cx="738.5" cy="237.8" rx="10.2" ry="15.1" fill="#646464" stroke="#9a9a9a" stroke-width="1"/>
<ellipse cx="747.6" cy="219.7" rx="5.3" ry="13.9" fill="#646464" stroke="#9a9a9a" stroke-width="1"/>
</g>
<g filter="url(#bl0)" fill="#fff">
<circle cx="713.6" cy="108.6" r="2.1" opacity="0.93"/>
<circle cx="711.1" cy="108.2" r="1.1" opacity="0.98"/>
<circle cx="709.4" cy="114.6" r="2.3" opacity="0.80"/>
<circle cx="675.5" cy="123.2" r="1.9" opacity="0.60"/>
<circle cx="638.3" cy="121.6" r="2.3" opacity="0.79"/>
<circle cx="637.5" cy="122.6" r="2.1" opacity="0.98"/>
<circle cx="644.7" cy="132.8" r="1.2" opacity="0.91"/>
<circle cx="593.9" cy="138.0" r="1.4" opacity="0.83"/>
<circle cx="585.0" cy="139.8" r="1.3" opacity="0.94"/>
<circle cx="590.6" cy="130.7" r="2.1" opacity="0.88"/>
<circle cx="619.0" cy="135.9" r="2.1" opacity="0.88"/>
<circle cx="612.8" cy="139.6" r="1.2" opacity="0.82"/>
<circle cx="613.9" cy="135.5" r="1.8" opacity="0.75"/>
<circle cx="674.8" cy="128.0" r="1.4" opacity="0.73"/>
<circle cx="672.9" cy="137.5" r="2.0" opacity="0.83"/>
<circle cx="669.9" cy="139.1" r="1.9" opacity="0.90"/>
<circle cx="687.5" cy="118.8" r="1.9" opacity="0.60"/>
<circle cx="613.3" cy="174.8" r="1.4" opacity="0.60"/>
<circle cx="584.5" cy="182.8" r="1.4" opacity="0.83"/>
<circle cx="585.5" cy="182.3" r="1.4" opacity="0.97"/>
<circle cx="585.2" cy="181.0" r="1.4" opacity="0.77"/>
<circle cx="581.2" cy="177.8" r="1.1" opacity="0.84"/>
<circle cx="679.3" cy="167.3" r="2.1" opacity="0.95"/>
<circle cx="677.0" cy="162.7" r="1.4" opacity="0.74"/>
<circle cx="692.6" cy="166.3" r="1.3" opacity="0.72"/>
<circle cx="695.5" cy="170.9" r="1.8" opacity="0.93"/>
<circle cx="639.1" cy="187.5" r="1.8" opacity="0.89"/>
<circle cx="638.4" cy="190.9" r="1.2" opacity="0.76"/>
<circle cx="637.8" cy="192.2" r="1.9" opacity="0.76"/>
<circle cx="640.1" cy="188.2" r="1.9" opacity="0.76"/>
<circle cx="658.2" cy="190.6" r="1.7" opacity="0.85"/>
<circle cx="652.4" cy="194.2" r="1.9" opacity="0.75"/>
<circle cx="652.4" cy="188.3" r="1.6" opacity="0.78"/>
<circle cx="684.3" cy="192.1" r="1.6" opacity="0.60"/>
<circle cx="716.4" cy="193.1" r="1.5" opacity="0.82"/>
<circle cx="722.8" cy="180.3" r="1.5" opacity="0.76"/>
<circle cx="739.2" cy="194.3" r="1.6" opacity="0.75"/>
<circle cx="745.3" cy="190.6" r="1.8" opacity="0.81"/>
<circle cx="744.4" cy="186.7" r="1.1" opacity="0.74"/>
<circle cx="745.2" cy="184.8" r="1.8" opacity="0.98"/>
<circle cx="595.3" cy="206.0" r="1.4" opacity="0.86"/>
<circle cx="598.7" cy="204.9" r="1.7" opacity="0.94"/>
<circle cx="599.3" cy="205.4" r="1.2" opacity="0.98"/>
<circle cx="600.9" cy="205.2" r="1.1" opacity="0.98"/>
<circle cx="617.5" cy="208.6" r="2.0" opacity="0.97"/>
<circle cx="611.3" cy="198.8" r="1.9" opacity="0.88"/>
<circle cx="615.1" cy="209.8" r="1.8" opacity="0.71"/>
<circle cx="644.9" cy="218.3" r="1.2" opacity="0.99"/>
<circle cx="643.9" cy="210.8" r="2.2" opacity="0.95"/>
<circle cx="640.4" cy="207.0" r="1.5" opacity="0.82"/>
<circle cx="636.7" cy="216.7" r="2.1" opacity="0.89"/>
<circle cx="660.3" cy="220.3" r="1.9" opacity="0.83"/>
<circle cx="662.6" cy="223.8" r="1.9" opacity="0.85"/>
<circle cx="664.5" cy="231.9" r="2.1" opacity="0.84"/>
<circle cx="703.3" cy="216.7" r="1.1" opacity="0.81"/>
<circle cx="697.2" cy="229.1" r="1.7" opacity="0.90"/>
<circle cx="716.1" cy="228.4" r="2.0" opacity="0.93"/>
<circle cx="715.8" cy="229.7" r="1.7" opacity="0.81"/>
<circle cx="730.0" cy="207.7" r="2.2" opacity="0.60"/>
<circle cx="737.8" cy="229.1" r="1.3" opacity="0.99"/>
<circle cx="731.6" cy="238.3" r="2.3" opacity="0.75"/>
<circle cx="740.1" cy="228.3" r="1.1" opacity="0.81"/>
<circle cx="738.6" cy="234.8" r="2.3" opacity="0.78"/>
<circle cx="749.0" cy="224.0" r="2.3" opacity="0.76"/>
<circle cx="747.4" cy="225.2" r="1.4" opacity="0.71"/>
<circle cx="748.0" cy="222.2" r="2.3" opacity="0.90"/>
</g>
</g>
<g clip-path="url(#ca10)">
<rect x="39.0" y="263.2" width="172.6" height="172.4" fill="#0b0b0b" />
<ellipse cx="125.0" cy="349.4" rx="120" ry="62.1" fill="#151515" filter="url(#bl3)"/>
<g filter="url(#bl2)">
<ellipse cx="124.0" cy="355.2" rx="10.5" ry="17.9" fill="#262626"/>
<ellipse cx="122.9" cy="402.7" rx="13.0" ry="14.2" fill="#262626"/>
<ellipse cx="51.7" cy="364.3" rx="13.0" ry="16.7" fill="#262626"/>
<ellipse cx="198.6" cy="393.7" rx="14.2" ry="16.7" fill="#262626"/>
<ellipse cx="49.4" cy="332.6" rx="8.5" ry="9.8" fill="#282828"/>
<ellipse cx="174.9" cy="317.9" rx="9.3" ry="9.3" fill="#262626"/>
<ellipse cx="146.6" cy="306.6" rx="12.2" ry="9.8" fill="#282828"/>
<ellipse cx="81.1" cy="294.2" rx="8.5" ry="8.5" fill="#282828"/>
<ellipse cx="135.3" cy="382.4" rx="12.2" ry="14.7" fill="#282828"/>
</g>
<g filter="url(#tx2)">
<ellipse cx="124.0" cy="355.2" rx="8.0" ry="15.4" fill="#4c4c4c"/>
<ellipse cx="122.9" cy="402.7" rx="10.5" ry="11.7" fill="#454545"/>
<ellipse cx="51.7" cy="364.3" rx="10.5" ry="14.2" fill="#484848"/>
<ellipse cx="198.6" cy="393.7" rx="11.7" ry="14.2" fill="#434343"/>
<ellipse cx="174.9" cy="317.9" rx="6.8" ry="6.8" fill="#505050"/>
<ellipse cx="98.5" cy="290.1" rx="14.6" ry="12.2" fill="#5f5f5f"/>
<ellipse cx="89.4" cy="311.1" rx="13.7" ry="12.9" fill="#727272"/>
<ellipse cx="142.6" cy="294.2" rx="12.9" ry="10.5" fill="#5e5e5e"/>
<ellipse cx="70.2" cy="333.7" rx="12.2" ry="14.6" fill="#6c6c6c"/>
<ellipse cx="110.5" cy="330.8" rx="13.7" ry="13.7" fill="#6f6f6f"/>
<ellipse cx="142.6" cy="327.6" rx="12.9" ry="14.6" fill="#6e6e6e"/>
<ellipse cx="202.0" cy="324.7" rx="11.7" ry="14.2" fill="#707070"/>
<ellipse cx="171.5" cy="349.6" rx="12.2" ry="15.4" fill="#616161"/>
<ellipse cx="186.2" cy="337.1" rx="10.5" ry="11.7" fill="#666666"/>
<ellipse cx="146.6" cy="358.6" rx="12.9" ry="14.2" fill="#6f6f6f"/>
<ellipse cx="76.5" cy="371.1" rx="12.9" ry="15.4" fill="#727272"/>
<ellipse cx="104.8" cy="377.8" rx="14.2" ry="15.4" fill="#6a6a6a"/>
<ellipse cx="167.0" cy="375.6" rx="14.2" ry="14.2" fill="#696969"/>
<ellipse cx="190.7" cy="373.3" rx="11.7" ry="14.6" fill="#666666"/>
<ellipse cx="48.3" cy="391.4" rx="10.5" ry="14.2" fill="#6a6a6a"/>
<ellipse cx="77.7" cy="393.7" rx="12.9" ry="12.9" fill="#696969"/>
<ellipse cx="100.3" cy="402.7" rx="11.2" ry="11.7" fill="#707070"/>
<ellipse cx="168.1" cy="398.2" rx="14.2" ry="14.2" fill="#626262"/>
<ellipse cx="77.7" cy="412.9" rx="10.5" ry="5.6" fill="#5e5e5e"/>
</g>
</g>
<g clip-path="url(#ca11)">
<rect x="219.1" y="263.2" width="172.6" height="172.4" fill="#0c0c0c" />
<ellipse cx="305.1" cy="352.8" rx="120" ry="69.0" fill="#151515" filter="url(#bl3)"/>
<g filter="url(#bl2)">
<ellipse cx="263.8" cy="277.6" rx="14.2" ry="13.6" fill="#262626"/>
<ellipse cx="270.0" cy="306.4" rx="14.2" ry="13.6" fill="#262626"/>
<ellipse cx="237.2" cy="322.2" rx="14.2" ry="11.8" fill="#262626"/>
<ellipse cx="343.5" cy="310.9" rx="13.0" ry="14.2" fill="#262626"/>
<ellipse cx="334.4" cy="335.8" rx="13.6" ry="14.2" fill="#262626"/>
<ellipse cx="337.8" cy="359.5" rx="16.7" ry="14.2" fill="#262626"/>
<ellipse cx="279.0" cy="388.9" rx="15.4" ry="16.7" fill="#262626"/>
<ellipse cx="262.6" cy="409.3" rx="14.2" ry="14.2" fill="#262626"/>
<ellipse cx="384.2" cy="414.9" rx="10.5" ry="14.2" fill="#262626"/>
<ellipse cx="303.9" cy="369.7" rx="11.8" ry="11.8" fill="#262626"/>
<ellipse cx="289.2" cy="283.8" rx="9.8" ry="9.8" fill="#282828"/>
<ellipse cx="340.1" cy="282.6" rx="11.0" ry="9.8" fill="#282828"/>
<ellipse cx="379.6" cy="313.2" rx="7.3" ry="9.8" fill="#282828"/>
<ellipse cx="223.6" cy="387.8" rx="7.3" ry="12.2" fill="#282828"/>
</g>
<g filter="url(#tx2)">
<ellipse cx="263.8" cy="277.6" rx="11.7" ry="11.1" fill="#424242"/>
<ellipse cx="270.0" cy="306.4" rx="11.7" ry="11.1" fill="#3a3a3a"/>
<ellipse cx="237.2" cy="322.2" rx="11.7" ry="9.3" fill="#464646"/>
<ellipse cx="343.5" cy="310.9" rx="10.5" ry="11.7" fill="#3f3f3f"/>
<ellipse cx="334.4" cy="335.8" rx="11.1" ry="11.7" fill="#3d3d3d"/>
<ellipse cx="337.8" cy="359.5" rx="14.2" ry="11.7" fill="#4b4b4b"/>
<ellipse cx="279.0" cy="388.9" rx="12.9" ry="14.2" fill="#393939"/>
<ellipse cx="262.6" cy="409.3" rx="11.7" ry="11.7" fill="#414141"/>
<ellipse cx="384.2" cy="414.9" rx="8.0" ry="11.7" fill="#484848"/>
<ellipse cx="303.9" cy="369.7" rx="9.3" ry="9.3" fill="#404040"/>
<ellipse cx="271.1" cy="293.4" rx="7.4" ry="6.8" fill="#515151"/>
<ellipse cx="235.5" cy="307.5" rx="12.3" ry="11.1" fill="#666666"/>
<ellipse cx="301.1" cy="313.2" rx="13.5" ry="13.5" fill="#646464"/>
<ellipse cx="321.4" cy="300.7" rx="11.7" ry="15.4" fill="#5c5c5c"/>
<ellipse cx="364.4" cy="318.8" rx="11.7" ry="11.7" fill="#525252"/>
<ellipse cx="262.6" cy="333.0" rx="12.9" ry="12.9" fill="#535353"/>
<ellipse cx="288.1" cy="335.8" rx="11.7" ry="12.3" fill="#595959"/>
<ellipse cx="311.8" cy="336.9" rx="11.1" ry="14.2" fill="#565656"/>
<ellipse cx="372.3" cy="339.2" rx="14.2" ry="12.9" fill="#5b5b5b"/>
<ellipse cx="231.0" cy="357.3" rx="9.3" ry="17.8" fill="#656565"/>
<ellipse cx="264.9" cy="358.4" rx="12.9" ry="12.9" fill="#666666"/>
<ellipse cx="288.1" cy="357.8" rx="12.3" ry="14.8" fill="#5f5f5f"/>
<ellipse cx="381.9" cy="358.4" rx="11.1" ry="12.9" fill="#5f5f5f"/>
<ellipse cx="361.0" cy="375.4" rx="13.5" ry="16.0" fill="#626262"/>
<ellipse cx="337.8" cy="385.5" rx="11.7" ry="16.6" fill="#5d5d5d"/>
<ellipse cx="316.3" cy="385.5" rx="9.3" ry="17.8" fill="#535353"/>
<ellipse cx="254.1" cy="388.9" rx="15.4" ry="16.6" fill="#565656"/>
<ellipse cx="380.8" cy="388.9" rx="11.7" ry="15.4" fill="#616161"/>
<ellipse cx="301.6" cy="402.5" rx="8.0" ry="17.8" fill="#595959"/>
<ellipse cx="360.4" cy="411.5" rx="12.3" ry="15.4" fill="#656565"/>
</g>
</g>
<g clip-path="url(#ca12)">
<rect x="399.5" y="263.2" width="172.6" height="172.4" fill="#0a0a0a" />
<ellipse cx="485.5" cy="358.0" rx="120" ry="56.9" fill="#121212" filter="url(#bl3)"/>
<g filter="url(#bl2)">
<ellipse cx="442.5" cy="323.3" rx="13.0" ry="15.4" fill="#262626"/>
<ellipse cx="447.5" cy="307.5" rx="9.8" ry="7.3" fill="#1e1e1e"/>
<ellipse cx="406.8" cy="333.5" rx="11.8" ry="14.2" fill="#262626"/>
<ellipse cx="491.6" cy="306.4" rx="12.2" ry="9.8" fill="#1e1e1e"/>
<ellipse cx="561.7" cy="308.6" rx="13.0" ry="13.0" fill="#262626"/>
<ellipse cx="539.7" cy="334.1" rx="13.6" ry="14.2" fill="#262626"/>
<ellipse cx="428.3" cy="381.0" rx="14.2" ry="16.0" fill="#262626"/>
<ellipse cx="458.9" cy="385.5" rx="13.6" ry="14.2" fill="#262626"/>
<ellipse cx="531.2" cy="376.5" rx="12.4" ry="13.0" fill="#262626"/>
<ellipse cx="560.6" cy="377.6" rx="13.0" ry="15.4" fill="#262626"/>
<ellipse cx="411.9" cy="395.7" rx="14.2" ry="14.8" fill="#262626"/>
<ellipse cx="403.5" cy="381.0" rx="8.1" ry="11.8" fill="#262626"/>
<ellipse cx="423.8" cy="269.1" rx="8.5" ry="7.3" fill="#1e1e1e"/>
<ellipse cx="557.2" cy="265.7" rx="12.2" ry="4.9" fill="#1e1e1e"/>
</g>
<g filter="url(#tx2)">
<ellipse cx="442.5" cy="323.3" rx="10.5" ry="12.9" fill="#404040"/>
<ellipse cx="406.8" cy="333.5" rx="9.3" ry="11.7" fill="#2d2d2d"/>
<ellipse cx="561.7" cy="308.6" rx="10.5" ry="10.5" fill="#2c2c2c"/>
<ellipse cx="539.7" cy="334.1" rx="11.1" ry="11.7" fill="#2d2d2d"/>
<ellipse cx="428.3" cy="381.0" rx="11.7" ry="13.5" fill="#2c2c2c"/>
<ellipse cx="458.9" cy="385.5" rx="11.1" ry="11.7" fill="#3e3e3e"/>
<ellipse cx="531.2" cy="376.5" rx="9.9" ry="10.5" fill="#373737"/>
<ellipse cx="560.6" cy="377.6" rx="10.5" ry="12.9" fill="#353535"/>
<ellipse cx="411.9" cy="395.7" rx="11.7" ry="12.3" fill="#2f2f2f"/>
<ellipse cx="403.5" cy="381.0" rx="5.6" ry="9.3" fill="#3c3c3c"/>
<ellipse cx="422.1" cy="323.3" rx="10.5" ry="12.9" fill="#4d4d4d"/>
<ellipse cx="469.0" cy="337.5" rx="11.7" ry="13.5" fill="#535353"/>
<ellipse cx="493.3" cy="334.7" rx="11.7" ry="14.8" fill="#494949"/>
<ellipse cx="508.6" cy="325.0" rx="14.2" ry="9.9" fill="#4f4f4f"/>
<ellipse cx="522.2" cy="300.7" rx="15.4" ry="13.5" fill="#545454"/>
<ellipse cx="412.5" cy="359.5" rx="12.3" ry="14.8" fill="#4b4b4b"/>
<ellipse cx="451.5" cy="356.7" rx="12.9" ry="12.3" fill="#545454"/>
<ellipse cx="484.9" cy="360.1" rx="11.1" ry="13.5" fill="#464646"/>
<ellipse cx="471.3" cy="370.8" rx="10.5" ry="15.4" fill="#484848"/>
<ellipse cx="514.3" cy="358.4" rx="11.7" ry="13.5" fill="#4d4d4d"/>
<ellipse cx="544.2" cy="358.4" rx="12.3" ry="12.9" fill="#555555"/>
<ellipse cx="564.6" cy="355.0" rx="8.7" ry="14.2" fill="#515151"/>
<ellipse cx="491.6" cy="383.8" rx="10.5" ry="12.3" fill="#474747"/>
<ellipse cx="523.3" cy="395.7" rx="12.3" ry="14.8" fill="#464646"/>
<ellipse cx="548.2" cy="395.1" rx="12.3" ry="14.2" fill="#424242"/>
</g>
</g>
<g clip-path="url(#ca13)">
<rect x="580.0" y="263.2" width="172.6" height="172.4" fill="#0a0a0a" />
<g filter="url(#tx2)">
<ellipse cx="637.5" cy="367.2" rx="6.6" ry="8.3" fill="#767676"/>
</g>
<circle cx="739.3" cy="318.5" r="0.6" fill="#333"/>
<circle cx="657.7" cy="292.4" r="0.6" fill="#333"/>
<circle cx="728.4" cy="396.6" r="0.6" fill="#262626"/>
<circle cx="718.3" cy="423.4" r="0.6" fill="#2a2a2a"/>
<circle cx="690.4" cy="364.7" r="0.6" fill="#3c3c3c"/>
<circle cx="681.9" cy="367.1" r="0.6" fill="#444"/>
<circle cx="739.4" cy="389.6" r="0.6" fill="#333"/>
<circle cx="609.7" cy="283.3" r="0.6" fill="#2a2a2a"/>
<circle cx="671.3" cy="342.1" r="0.6" fill="#333"/>
<circle cx="608.7" cy="415.4" r="0.6" fill="#2a2a2a"/>
<circle cx="584.1" cy="363.1" r="0.6" fill="#333"/>
<circle cx="605.9" cy="312.1" r="0.6" fill="#444"/>
<circle cx="690.0" cy="377.1" r="0.6" fill="#262626"/>
<circle cx="718.6" cy="308.5" r="0.6" fill="#3c3c3c"/>
<circle cx="592.7" cy="374.0" r="0.6" fill="#262626"/>
<circle cx="702.2" cy="284.1" r="0.6" fill="#262626"/>
<circle cx="707.2" cy="350.7" r="0.6" fill="#262626"/>
<circle cx="611.5" cy="427.7" r="0.6" fill="#3c3c3c"/>
<circle cx="621.0" cy="288.8" r="0.6" fill="#3c3c3c"/>
<circle cx="731.7" cy="417.4" r="0.6" fill="#3c3c3c"/>
<circle cx="701.6" cy="321.8" r="0.6" fill="#444"/>
<circle cx="696.1" cy="382.6" r="0.6" fill="#444"/>
<circle cx="745.3" cy="326.1" r="0.6" fill="#333"/>
<circle cx="596.4" cy="356.8" r="0.6" fill="#333"/>
<circle cx="625.7" cy="317.4" r="0.6" fill="#333"/>
<circle cx="740.7" cy="391.4" r="0.6" fill="#3c3c3c"/>
<circle cx="614.2" cy="339.6" r="0.6" fill="#444"/>
<circle cx="622.2" cy="414.8" r="0.6" fill="#444"/>
<circle cx="660.9" cy="405.0" r="0.6" fill="#2a2a2a"/>
<circle cx="726.1" cy="346.6" r="0.6" fill="#333"/>
<circle cx="677.8" cy="327.8" r="0.6" fill="#333"/>
<circle cx="647.8" cy="368.1" r="0.6" fill="#444"/>
<circle cx="735.0" cy="304.2" r="0.6" fill="#2a2a2a"/>
<circle cx="600.8" cy="373.4" r="0.6" fill="#333"/>
<circle cx="639.9" cy="303.8" r="0.6" fill="#2a2a2a"/>
<circle cx="587.2" cy="303.3" r="0.6" fill="#2a2a2a"/>
<circle cx="699.1" cy="390.0" r="0.6" fill="#2a2a2a"/>
<circle cx="725.9" cy="393.7" r="0.6" fill="#333"/>
<circle cx="719.4" cy="402.0" r="0.6" fill="#2a2a2a"/>
<circle cx="729.8" cy="392.8" r="0.6" fill="#262626"/>
<circle cx="600.0" cy="313.0" r="0.6" fill="#2a2a2a"/>
<circle cx="587.7" cy="420.8" r="0.6" fill="#2a2a2a"/>
<circle cx="720.6" cy="374.8" r="0.6" fill="#3c3c3c"/>
<circle cx="662.2" cy="302.4" r="0.6" fill="#333"/>
<circle cx="631.5" cy="332.0" r="0.6" fill="#3c3c3c"/>
<circle cx="585.5" cy="320.4" r="0.6" fill="#3c3c3c"/>
<circle cx="590.1" cy="393.4" r="0.6" fill="#3c3c3c"/>
<circle cx="711.2" cy="370.5" r="0.6" fill="#262626"/>
<circle cx="725.0" cy="372.8" r="0.6" fill="#2a2a2a"/>
<circle cx="714.6" cy="287.7" r="0.6" fill="#444"/>
<circle cx="711.9" cy="333.5" r="0.6" fill="#2a2a2a"/>
<circle cx="672.4" cy="314.6" r="0.6" fill="#2a2a2a"/>
<circle cx="678.5" cy="324.8" r="0.6" fill="#262626"/>
<circle cx="582.2" cy="312.5" r="0.6" fill="#2a2a2a"/>
<circle cx="582.7" cy="354.4" r="0.6" fill="#262626"/>
<circle cx="698.8" cy="402.9" r="0.6" fill="#262626"/>
<circle cx="681.5" cy="422.0" r="0.6" fill="#444"/>
<circle cx="625.8" cy="420.1" r="0.6" fill="#3c3c3c"/>
<circle cx="719.0" cy="419.3" r="0.6" fill="#333"/>
<circle cx="665.7" cy="299.1" r="0.6" fill="#2a2a2a"/>
<circle cx="664.4" cy="426.9" r="0.6" fill="#444"/>
<circle cx="714.2" cy="374.3" r="0.6" fill="#3c3c3c"/>
<circle cx="598.0" cy="417.8" r="0.6" fill="#2a2a2a"/>
<circle cx="652.9" cy="376.9" r="0.6" fill="#3c3c3c"/>
<circle cx="616.6" cy="321.4" r="0.6" fill="#444"/>
<circle cx="666.2" cy="338.2" r="0.6" fill="#333"/>
<circle cx="740.6" cy="301.6" r="0.6" fill="#444"/>
<circle cx="708.8" cy="392.4" r="0.6" fill="#2a2a2a"/>
<circle cx="640.5" cy="330.6" r="0.6" fill="#333"/>
<circle cx="727.8" cy="348.5" r="0.6" fill="#444"/>
<circle cx="706.7" cy="307.8" r="0.6" fill="#262626"/>
<circle cx="697.8" cy="320.5" r="0.6" fill="#333"/>
<circle cx="603.2" cy="350.2" r="0.6" fill="#333"/>
<circle cx="667.3" cy="322.0" r="0.6" fill="#444"/>
<circle cx="608.0" cy="305.8" r="0.6" fill="#333"/>
<circle cx="703.5" cy="370.6" r="0.6" fill="#3c3c3c"/>
<circle cx="609.0" cy="330.8" r="0.6" fill="#333"/>
<circle cx="625.5" cy="421.7" r="0.6" fill="#2a2a2a"/>
<circle cx="609.7" cy="378.6" r="0.6" fill="#333"/>
<circle cx="646.6" cy="425.9" r="0.6" fill="#3c3c3c"/>
<circle cx="705.2" cy="346.3" r="0.6" fill="#333"/>
<circle cx="600.4" cy="415.4" r="0.6" fill="#3c3c3c"/>
<circle cx="616.7" cy="339.5" r="0.6" fill="#2a2a2a"/>
<circle cx="584.1" cy="407.1" r="0.6" fill="#262626"/>
<circle cx="698.5" cy="355.8" r="0.6" fill="#3c3c3c"/>
<circle cx="659.8" cy="303.8" r="0.6" fill="#444"/>
<circle cx="706.0" cy="284.0" r="0.6" fill="#333"/>
<circle cx="734.5" cy="345.6" r="0.6" fill="#444"/>
<circle cx="680.7" cy="377.0" r="0.6" fill="#333"/>
<circle cx="694.2" cy="377.8" r="0.6" fill="#444"/>
<circle cx="725.2" cy="381.7" r="0.6" fill="#2a2a2a"/>
<circle cx="658.3" cy="328.6" r="0.6" fill="#2a2a2a"/>
<circle cx="732.3" cy="318.3" r="0.6" fill="#262626"/>
<circle cx="701.8" cy="374.5" r="0.6" fill="#3c3c3c"/>
<circle cx="724.7" cy="353.2" r="0.6" fill="#2a2a2a"/>
<circle cx="686.4" cy="342.6" r="0.6" fill="#333"/>
<circle cx="732.3" cy="330.8" r="0.6" fill="#2a2a2a"/>
<circle cx="647.3" cy="354.2" r="0.6" fill="#2a2a2a"/>
<circle cx="588.4" cy="362.0" r="0.6" fill="#333"/>
<circle cx="702.3" cy="421.1" r="0.6" fill="#333"/>
<circle cx="669.2" cy="297.9" r="0.6" fill="#444"/>
<circle cx="658.7" cy="312.9" r="0.6" fill="#262626"/>
<circle cx="668.0" cy="375.9" r="0.6" fill="#3c3c3c"/>
<circle cx="669.6" cy="342.7" r="0.6" fill="#262626"/>
<circle cx="617.3" cy="382.4" r="0.6" fill="#262626"/>
<circle cx="668.3" cy="418.4" r="0.6" fill="#444"/>
<circle cx="641.7" cy="291.4" r="0.6" fill="#3c3c3c"/>
<circle cx="646.1" cy="292.1" r="0.6" fill="#2a2a2a"/>
<circle cx="652.3" cy="344.2" r="0.6" fill="#3c3c3c"/>
<circle cx="679.5" cy="299.0" r="0.6" fill="#3c3c3c"/>
<circle cx="706.6" cy="419.5" r="0.6" fill="#444"/>
<circle cx="745.2" cy="427.4" r="0.6" fill="#262626"/>
<circle cx="659.6" cy="307.1" r="0.6" fill="#2a2a2a"/>
<circle cx="718.0" cy="375.2" r="0.6" fill="#262626"/>
<circle cx="689.9" cy="387.7" r="0.6" fill="#333"/>
<circle cx="641.3" cy="375.8" r="0.6" fill="#262626"/>
<circle cx="660.6" cy="325.9" r="0.6" fill="#444"/>
<circle cx="691.1" cy="396.3" r="0.6" fill="#262626"/>
<circle cx="641.6" cy="406.5" r="0.6" fill="#3c3c3c"/>
<circle cx="700.3" cy="382.9" r="0.6" fill="#262626"/>
<circle cx="696.0" cy="353.0" r="0.6" fill="#3c3c3c"/>
<circle cx="642.1" cy="378.1" r="0.6" fill="#3c3c3c"/>
<circle cx="662.6" cy="345.3" r="0.6" fill="#2a2a2a"/>
<circle cx="692.8" cy="335.8" r="0.6" fill="#3c3c3c"/>
<circle cx="725.5" cy="291.5" r="0.6" fill="#444"/>
<circle cx="734.2" cy="396.9" r="0.6" fill="#333"/>
<circle cx="671.1" cy="333.2" r="0.6" fill="#444"/>
<circle cx="584.5" cy="284.9" r="0.6" fill="#2a2a2a"/>
<circle cx="692.2" cy="319.5" r="0.6" fill="#2a2a2a"/>
<circle cx="679.2" cy="407.1" r="0.6" fill="#333"/>
<circle cx="712.4" cy="333.4" r="0.6" fill="#333"/>
<circle cx="617.0" cy="341.6" r="0.6" fill="#444"/>
<circle cx="610.2" cy="412.4" r="0.6" fill="#444"/>
<circle cx="746.2" cy="296.3" r="0.6" fill="#444"/>
<circle cx="714.4" cy="404.8" r="0.6" fill="#333"/>
<circle cx="665.1" cy="314.1" r="0.6" fill="#2a2a2a"/>
<circle cx="706.6" cy="346.8" r="0.6" fill="#2a2a2a"/>
<circle cx="675.3" cy="321.6" r="0.6" fill="#333"/>
<circle cx="720.9" cy="351.8" r="0.6" fill="#444"/>
<circle cx="591.8" cy="350.9" r="0.6" fill="#333"/>
<circle cx="699.7" cy="319.0" r="0.6" fill="#333"/>
<circle cx="672.6" cy="408.3" r="0.6" fill="#2a2a2a"/>
<circle cx="608.9" cy="329.7" r="0.6" fill="#444"/>
<circle cx="665.6" cy="326.2" r="0.6" fill="#262626"/>
<circle cx="645.0" cy="343.9" r="0.6" fill="#2a2a2a"/>
<circle cx="612.3" cy="335.5" r="0.6" fill="#2a2a2a"/>
<circle cx="585.5" cy="289.9" r="0.6" fill="#3c3c3c"/>
<circle cx="717.8" cy="296.8" r="0.6" fill="#262626"/>
<circle cx="663.4" cy="413.3" r="0.6" fill="#2a2a2a"/>
<circle cx="617.8" cy="343.5" r="0.6" fill="#333"/>
<circle cx="638.9" cy="408.1" r="0.6" fill="#3c3c3c"/>
<circle cx="639.3" cy="396.1" r="0.6" fill="#444"/>
<circle cx="711.5" cy="313.8" r="0.6" fill="#262626"/>
<circle cx="639.4" cy="319.7" r="0.6" fill="#2a2a2a"/>
<circle cx="720.9" cy="325.7" r="0.6" fill="#262626"/>
<circle cx="649.8" cy="356.2" r="0.6" fill="#3c3c3c"/>
<circle cx="728.7" cy="333.2" r="0.6" fill="#333"/>
<circle cx="692.0" cy="398.0" r="0.6" fill="#3c3c3c"/>
<circle cx="614.3" cy="386.6" r="0.6" fill="#333"/>
<circle cx="680.5" cy="375.2" r="0.6" fill="#2a2a2a"/>
<circle cx="649.0" cy="363.6" r="0.6" fill="#262626"/>
<circle cx="673.6" cy="290.4" r="0.6" fill="#3c3c3c"/>
<circle cx="600.2" cy="289.9" r="0.6" fill="#262626"/>
<circle cx="684.3" cy="378.6" r="0.6" fill="#444"/>
<circle cx="734.9" cy="371.9" r="0.6" fill="#444"/>
<circle cx="606.7" cy="380.9" r="0.6" fill="#444"/>
<circle cx="729.2" cy="295.2" r="0.6" fill="#2a2a2a"/>
<circle cx="694.1" cy="349.6" r="0.6" fill="#333"/>
<circle cx="599.0" cy="309.5" r="0.6" fill="#2a2a2a"/>
<circle cx="652.8" cy="297.8" r="0.6" fill="#2a2a2a"/>
<circle cx="644.0" cy="402.5" r="0.6" fill="#3c3c3c"/>
<circle cx="676.4" cy="320.6" r="0.6" fill="#3c3c3c"/>
<circle cx="613.0" cy="288.2" r="0.6" fill="#2a2a2a"/>
<circle cx="654.4" cy="376.3" r="0.6" fill="#2a2a2a"/>
<circle cx="665.6" cy="358.9" r="0.6" fill="#2a2a2a"/>
<circle cx="712.0" cy="344.3" r="0.6" fill="#262626"/>
<circle cx="657.0" cy="285.2" r="0.6" fill="#262626"/>
<circle cx="681.8" cy="427.2" r="0.6" fill="#333"/>
<circle cx="661.9" cy="343.0" r="0.6" fill="#2a2a2a"/>
<circle cx="595.9" cy="351.7" r="0.6" fill="#333"/>
<circle cx="687.3" cy="345.1" r="0.6" fill="#2a2a2a"/>
<circle cx="696.9" cy="300.8" r="0.6" fill="#2a2a2a"/>
<circle cx="618.7" cy="300.8" r="0.6" fill="#262626"/>
<circle cx="585.0" cy="387.5" r="0.6" fill="#333"/>
<circle cx="657.7" cy="391.1" r="0.6" fill="#2a2a2a"/>
<circle cx="643.5" cy="391.6" r="0.6" fill="#333"/>
<circle cx="704.6" cy="295.4" r="0.6" fill="#444"/>
<circle cx="701.2" cy="350.0" r="0.6" fill="#3c3c3c"/>
<circle cx="735.5" cy="290.8" r="0.6" fill="#2a2a2a"/>
<circle cx="583.9" cy="285.3" r="0.6" fill="#444"/>
<circle cx="595.4" cy="328.3" r="0.6" fill="#444"/>
<circle cx="609.9" cy="408.0" r="0.6" fill="#262626"/>
<circle cx="684.3" cy="329.1" r="0.6" fill="#444"/>
<circle cx="704.3" cy="351.3" r="0.6" fill="#333"/>
<circle cx="606.3" cy="398.8" r="0.6" fill="#3c3c3c"/>
<circle cx="742.3" cy="307.0" r="0.6" fill="#262626"/>
<circle cx="662.1" cy="396.0" r="0.6" fill="#262626"/>
<circle cx="740.7" cy="397.0" r="0.6" fill="#444"/>
<circle cx="638.1" cy="323.8" r="0.6" fill="#444"/>
<circle cx="745.6" cy="385.2" r="0.6" fill="#444"/>
<circle cx="637.8" cy="371.0" r="0.6" fill="#2a2a2a"/>
<circle cx="721.7" cy="370.4" r="0.6" fill="#3c3c3c"/>
<circle cx="680.2" cy="424.8" r="0.6" fill="#333"/>
<circle cx="645.3" cy="382.5" r="0.6" fill="#444"/>
<circle cx="711.6" cy="317.2" r="0.6" fill="#262626"/>
<circle cx="629.6" cy="283.4" r="0.6" fill="#3c3c3c"/>
<circle cx="627.0" cy="306.0" r="0.6" fill="#2a2a2a"/>
<circle cx="630.5" cy="303.6" r="0.6" fill="#444"/>
<circle cx="606.7" cy="424.6" r="0.6" fill="#444"/>
<circle cx="697.0" cy="415.7" r="0.6" fill="#3c3c3c"/>
<circle cx="671.8" cy="361.5" r="0.6" fill="#262626"/>
<circle cx="716.0" cy="312.3" r="0.6" fill="#333"/>
<circle cx="634.0" cy="291.5" r="0.6" fill="#262626"/>
<circle cx="660.2" cy="313.2" r="0.6" fill="#3c3c3c"/>
<circle cx="680.5" cy="284.6" r="0.6" fill="#262626"/>
<circle cx="659.2" cy="295.9" r="0.6" fill="#3c3c3c"/>
<circle cx="711.7" cy="317.0" r="0.6" fill="#444"/>
<circle cx="669.5" cy="320.8" r="0.6" fill="#444"/>
<circle cx="635.9" cy="356.6" r="0.6" fill="#333"/>
<circle cx="613.8" cy="311.1" r="0.6" fill="#333"/>
<circle cx="717.4" cy="325.2" r="0.6" fill="#444"/>
<circle cx="676.8" cy="341.6" r="0.6" fill="#444"/>
<circle cx="726.0" cy="318.9" r="0.6" fill="#262626"/>
<circle cx="644.8" cy="298.6" r="0.6" fill="#262626"/>
<circle cx="714.3" cy="305.8" r="0.6" fill="#444"/>
<circle cx="587.1" cy="323.9" r="0.6" fill="#444"/>
<circle cx="585.5" cy="288.1" r="0.6" fill="#444"/>
<circle cx="663.7" cy="365.4" r="0.6" fill="#3c3c3c"/>
<circle cx="737.5" cy="323.8" r="0.6" fill="#2a2a2a"/>
<circle cx="741.0" cy="394.5" r="0.6" fill="#444"/>
<circle cx="743.9" cy="320.0" r="0.6" fill="#2a2a2a"/>
<circle cx="638.9" cy="427.4" r="0.6" fill="#262626"/>
<circle cx="596.1" cy="290.6" r="0.6" fill="#444"/>
<circle cx="644.1" cy="385.5" r="0.6" fill="#262626"/>
<circle cx="741.1" cy="415.1" r="0.6" fill="#2a2a2a"/>
<circle cx="727.0" cy="376.0" r="0.6" fill="#2a2a2a"/>
<circle cx="700.7" cy="296.2" r="0.6" fill="#3c3c3c"/>
<circle cx="676.8" cy="376.1" r="0.6" fill="#444"/>
<circle cx="648.0" cy="348.2" r="0.6" fill="#333"/>
<circle cx="644.3" cy="317.3" r="0.6" fill="#333"/>
<circle cx="610.9" cy="419.7" r="0.6" fill="#3c3c3c"/>
<circle cx="592.0" cy="363.4" r="0.6" fill="#2a2a2a"/>
<circle cx="722.7" cy="290.0" r="0.6" fill="#444"/>
<circle cx="701.2" cy="377.0" r="0.6" fill="#262626"/>
<circle cx="591.4" cy="304.2" r="0.6" fill="#2a2a2a"/>
<circle cx="739.8" cy="381.3" r="0.6" fill="#3c3c3c"/>
<circle cx="681.1" cy="347.2" r="0.6" fill="#2a2a2a"/>
<circle cx="661.1" cy="337.1" r="0.6" fill="#262626"/>
<circle cx="602.9" cy="353.0" r="0.6" fill="#333"/>
<circle cx="656.2" cy="400.3" r="0.6" fill="#2a2a2a"/>
<circle cx="660.6" cy="415.5" r="0.6" fill="#2a2a2a"/>
<circle cx="608.4" cy="404.0" r="0.6" fill="#2a2a2a"/>
<circle cx="738.9" cy="408.9" r="0.6" fill="#333"/>
<circle cx="712.8" cy="422.1" r="0.6" fill="#262626"/>
<circle cx="723.5" cy="374.3" r="0.6" fill="#262626"/>
<circle cx="745.3" cy="330.0" r="0.6" fill="#333"/>
<circle cx="662.2" cy="374.3" r="0.6" fill="#333"/>
<circle cx="637.8" cy="389.9" r="0.6" fill="#333"/>
<circle cx="701.9" cy="363.4" r="0.6" fill="#333"/>
<circle cx="655.7" cy="304.9" r="0.6" fill="#262626"/>
<rect x="693.3" y="423.8" width="53.5" height="3.0" fill="#fff" />
</g>
<text transform="translate(802.3 31.0) scale(0.95 1)" font-size="43" font-weight="bold">b</text>
<rect x="902.3" y="84.2" width="142.1" height="381.2" fill="#fff" />
<line x1="908.6" y1="84.2" x2="908.6" y2="465.4" stroke="#e9e9e9" stroke-width="1.1" />
<line x1="924.8" y1="84.2" x2="924.8" y2="465.4" stroke="#f4f4f4" stroke-width="0.7" />
<line x1="940.9" y1="84.2" x2="940.9" y2="465.4" stroke="#e9e9e9" stroke-width="1.1" />
<line x1="957.0" y1="84.2" x2="957.0" y2="465.4" stroke="#f4f4f4" stroke-width="0.7" />
<line x1="973.2" y1="84.2" x2="973.2" y2="465.4" stroke="#e9e9e9" stroke-width="1.1" />
<line x1="989.4" y1="84.2" x2="989.4" y2="465.4" stroke="#f4f4f4" stroke-width="0.7" />
<line x1="1005.5" y1="84.2" x2="1005.5" y2="465.4" stroke="#e9e9e9" stroke-width="1.1" />
<line x1="1021.6" y1="84.2" x2="1021.6" y2="465.4" stroke="#f4f4f4" stroke-width="0.7" />
<line x1="1037.8" y1="84.2" x2="1037.8" y2="465.4" stroke="#e9e9e9" stroke-width="1.1" />
<line x1="902.3" y1="447.7" x2="1044.4" y2="447.7" stroke="#e9e9e9" stroke-width="1.1" />
<line x1="902.3" y1="404.3" x2="1044.4" y2="404.3" stroke="#f4f4f4" stroke-width="0.7" />
<line x1="902.3" y1="361.0" x2="1044.4" y2="361.0" stroke="#e9e9e9" stroke-width="1.1" />
<line x1="902.3" y1="317.6" x2="1044.4" y2="317.6" stroke="#f4f4f4" stroke-width="0.7" />
<line x1="902.3" y1="274.3" x2="1044.4" y2="274.3" stroke="#e9e9e9" stroke-width="1.1" />
<line x1="902.3" y1="230.9" x2="1044.4" y2="230.9" stroke="#f4f4f4" stroke-width="0.7" />
<line x1="902.3" y1="187.6" x2="1044.4" y2="187.6" stroke="#e9e9e9" stroke-width="1.1" />
<line x1="902.3" y1="144.2" x2="1044.4" y2="144.2" stroke="#f4f4f4" stroke-width="0.7" />
<line x1="902.3" y1="100.9" x2="1044.4" y2="100.9" stroke="#e9e9e9" stroke-width="1.1" />
<path d="M989.4,436.3 L989.4,385.3 L985.3,364.5 L980.5,343.7 L975.6,326.3 L968.4,317.6 L958.7,319.4 L950.6,329.8 L944.1,347.1 L942.5,364.5 L944.9,385.3 L949.0,404.3 L954.6,420.0 L963.5,430.4 L974.8,435.6Z" fill="#4682b4" stroke="#4682b4" stroke-width="2" stroke-linejoin="round"/>
<path d="M1004.1,445.3h0M1001.1,440.9h0M997.3,433.1h0M996.8,421.5h0M1001.4,437.1h0M999.3,444.4h0M994.0,432.1h0M997.8,442.8h0M998.3,425.3h0M997.7,423.3h0M993.1,429.0h0M1004.9,447.3h0M1001.6,447.0h0M989.7,397.7h0M998.1,433.3h0M1001.9,439.6h0M999.8,444.5h0M1004.4,446.7h0M997.7,430.3h0M997.3,438.2h0M1004.9,447.5h0M995.6,420.3h0M1003.6,446.4h0M1004.6,447.5h0M999.3,439.0h0M995.6,430.6h0M994.8,441.1h0M1001.5,442.8h0M996.8,437.7h0M1000.8,436.5h0M998.9,436.0h0M996.1,429.4h0M1001.1,440.4h0M994.3,410.8h0M1002.2,444.1h0M1004.3,447.5h0M993.8,438.8h0M991.4,397.7h0M1000.2,440.2h0M998.5,439.6h0M1000.6,436.1h0M1003.8,446.6h0M1005.3,447.6h0M999.7,431.3h0M1000.7,439.9h0M1002.9,446.1h0M1002.2,444.2h0M1005.3,447.7h0M989.6,412.4h0M1001.4,446.8h0M996.0,440.8h0M993.0,437.6h0M1003.8,446.9h0M994.9,421.2h0M995.4,419.8h0M993.2,420.0h0M996.7,443.6h0M1002.6,447.1h0M1002.9,445.0h0M1001.0,440.7h0M999.6,438.9h0M1000.0,434.5h0M1001.9,446.5h0M996.7,418.4h0M997.3,442.4h0M999.0,434.0h0M993.6,423.4h0M1001.2,437.5h0M991.7,405.9h0M1004.7,447.5h0M1004.4,446.3h0M990.1,421.7h0M999.8,443.8h0M1005.2,447.6h0M1003.9,446.4h0M1003.1,442.9h0M998.3,428.2h0M993.9,435.3h0M1003.2,444.9h0M994.0,420.0h0M1004.1,446.2h0M997.5,441.6h0M995.3,443.9h0M1000.3,433.7h0M990.2,440.5h0M994.3,422.8h0M1002.3,441.7h0M1004.9,447.6h0M1000.6,434.8h0M992.5,420.3h0M993.3,437.4h0M996.2,436.3h0M995.4,444.7h0M998.8,444.9h0M992.4,436.7h0M1004.8,447.3h0M999.1,434.0h0M1002.1,445.6h0M1003.4,444.3h0M996.8,429.1h0M999.5,437.0h0M1001.3,436.0h0M995.2,422.9h0M1001.3,446.3h0M990.8,399.4h0M999.2,441.3h0M1002.6,443.0h0M1005.2,447.4h0M1000.5,445.9h0M997.0,439.6h0M991.9,410.5h0M1001.0,438.5h0M997.1,421.1h0M992.0,396.7h0M997.5,438.9h0M999.8,442.6h0M994.2,437.9h0M998.5,428.8h0M1001.4,444.1h0M995.8,428.0h0M993.7,436.2h0M997.0,433.0h0M996.2,417.7h0M998.7,442.5h0M995.3,416.8h0M999.6,435.2h0M1002.7,441.1h0M1000.6,434.4h0M994.2,420.3h0M1003.2,443.5h0M1000.4,432.9h0M998.7,436.3h0M997.9,425.4h0M1003.5,445.6h0M996.4,420.4h0M998.7,432.5h0M1002.3,447.2h0M999.5,444.7h0M1003.9,447.5h0M1002.7,443.2h0M1002.4,445.1h0M996.4,419.6h0M1003.9,444.6h0M997.8,441.7h0M998.3,434.9h0M999.7,443.2h0M999.4,430.6h0M992.4,398.8h0M998.9,442.4h0M990.2,439.1h0M1004.3,447.4h0M993.0,437.4h0M1003.8,444.2h0M1001.5,445.6h0M1004.1,446.9h0M999.7,446.5h0M1005.5,447.7h0M995.8,435.2h0M1004.8,446.9h0M997.1,434.9h0M1004.6,446.7h0M989.9,424.6h0M995.0,421.0h0M994.1,406.6h0M998.5,441.2h0M1002.8,441.3h0M1003.2,442.8h0M994.7,412.2h0M997.5,434.4h0M991.6,421.8h0M994.9,424.5h0M996.6,445.2h0M996.3,442.2h0M991.7,421.8h0M992.8,400.7h0M997.5,427.3h0M1005.3,447.7h0M998.4,433.8h0M1002.5,443.4h0M995.0,425.3h0M1001.9,445.6h0M995.9,439.7h0M995.3,440.7h0M1000.9,437.5h0M992.3,437.6h0M1004.2,445.6h0M1000.2,439.3h0M1003.4,445.9h0M997.4,426.4h0M999.7,443.1h0M1003.4,446.1h0M1000.8,446.6h0M998.9,435.5h0M998.6,434.2h0M994.9,427.9h0M1004.6,446.7h0M992.3,405.8h0M1000.5,443.9h0M1003.5,445.0h0M998.2,426.9h0M1004.9,447.3h0M995.3,442.3h0M1004.4,445.7h0M1005.4,447.6h0M992.9,427.1h0M1000.1,442.7h0M990.4,438.2h0M998.9,445.8h0M995.1,441.9h0M1002.3,446.9h0M998.6,429.9h0M1004.7,447.6h0M998.9,440.0h0M1004.9,447.6h0M992.9,407.9h0M999.2,429.7h0M1000.9,445.8h0M996.7,420.6h0M997.0,423.9h0M998.3,438.7h0M1004.2,446.9h0M1003.9,444.9h0M998.4,431.1h0M1000.2,441.8h0M999.0,442.3h0M991.6,419.3h0M1004.3,445.5h0M1002.9,441.8h0M1000.6,446.5h0M998.6,434.8h0M999.3,440.9h0M1002.0,442.6h0M999.7,435.5h0M999.2,428.7h0M999.7,436.9h0M1000.5,443.2h0M1001.7,444.1h0M1004.6,446.8h0M994.3,414.7h0M998.3,442.8h0M1002.0,439.3h0M1001.4,437.1h0M995.4,436.4h0M1005.1,447.5h0M1004.0,444.8h0M1003.8,445.5h0M1004.8,447.2h0M1005.4,447.6h0M997.0,436.2h0M997.5,439.7h0M994.4,423.5h0M999.7,431.6h0M1004.1,446.3h0M997.6,422.4h0M996.0,435.5h0M1004.6,446.4h0M997.5,443.6h0M1000.3,444.7h0M1000.7,438.8h0M999.4,441.2h0M1004.0,446.1h0M1004.2,447.1h0M1002.9,445.3h0M989.8,424.9h0M993.7,415.4h0M999.6,431.2h0M997.0,438.8h0M999.4,434.5h0M994.1,443.1h0M997.0,431.2h0M999.6,438.3h0M994.9,435.4h0M991.7,435.4h0M994.3,419.2h0M998.2,425.6h0M993.9,408.9h0M998.2,426.3h0M993.7,441.0h0M1004.4,445.6h0M990.6,396.9h0M1002.6,446.9h0M989.5,441.5h0M997.9,422.9h0M1001.6,439.2h0M998.6,445.4h0M989.8,429.1h0M1000.3,438.4h0M1002.2,444.2h0M1004.9,446.8h0M997.3,445.2h0M1003.5,444.1h0M996.7,437.9h0M1004.4,445.8h0M996.7,438.7h0M998.9,437.5h0M993.9,435.4h0M1005.2,447.7h0M999.2,430.9h0M1001.2,446.8h0M998.8,441.3h0M1001.0,440.3h0M996.9,421.6h0M1001.8,440.2h0M1002.4,446.7h0M998.0,438.5h0M1004.4,446.6h0M1000.8,437.7h0M995.4,437.7h0M1000.5,440.3h0M1004.8,447.5h0M1003.9,446.5h0M1004.8,447.6h0M1004.6,447.3h0M993.0,413.3h0M991.3,429.8h0M992.9,430.8h0M1000.3,445.2h0M995.9,423.1h0M999.6,430.1h0M1000.6,446.8h0M1000.0,445.8h0M1003.2,445.4h0M994.3,417.3h0M1003.9,446.7h0M1000.6,441.1h0M1004.9,447.6h0M991.4,417.4h0M1005.5,447.7h0M1002.8,443.7h0M997.2,429.6h0M999.8,435.7h0M994.3,437.4h0M998.2,431.6h0M1004.2,446.8h0M998.4,431.7h0M997.0,432.8h0M993.6,426.7h0M999.7,432.3h0M1005.3,447.6h0M1001.9,445.7h0M995.5,426.2h0M1004.3,446.6h0M1005.3,447.7h0M993.1,442.8h0M995.2,441.1h0M1003.0,445.7h0M996.4,416.4h0M998.6,430.5h0M1001.5,438.1h0M1004.6,446.2h0M1005.1,447.5h0M990.8,430.9h0M994.6,442.0h0M1005.3,447.7h0M1004.0,445.9h0M1004.5,447.4h0M1005.3,447.5h0M996.8,419.9h0M1002.9,445.0h0M999.3,428.2h0M1004.4,446.2h0M1001.1,441.5h0M995.8,417.0h0M1004.7,447.1h0M999.9,441.0h0M997.1,427.2h0M991.2,442.7h0M1001.6,439.9h0M1003.0,442.2h0M1003.5,446.8h0M997.8,435.1h0M996.4,437.3h0M1003.4,443.0h0M1000.5,434.0h0M1001.6,442.0h0M1003.0,444.4h0M997.9,429.9h0M997.1,420.0h0M1005.3,447.6h0M1002.2,441.9h0M1003.9,445.9h0M997.5,428.2h0M1000.4,440.4h0M1003.0,447.4h0M1003.5,444.5h0M997.9,427.4h0M1001.2,437.2h0M998.9,430.9h0M1003.6,443.6h0M995.4,429.6h0M1003.8,445.5h0M999.2,442.3h0M996.1,439.9h0M1003.3,447.4h0M998.7,436.5h0M996.9,420.6h0M990.8,421.7h0M1003.0,442.2h0M1002.0,440.0h0M997.1,444.8h0M1004.8,447.3h0M990.6,397.5h0M1001.2,441.5h0M1000.4,443.6h0M1001.2,439.1h0M1004.4,446.8h0M990.0,429.7h0M994.4,421.7h0M1000.5,441.3h0M1005.1,447.6h0M991.1,395.6h0M1002.5,446.7h0M1001.1,442.4h0M1004.8,447.4h0M999.6,442.5h0M1000.2,441.2h0M998.8,437.7h0M1003.1,446.0h0M993.7,435.2h0M998.2,434.6h0M1005.2,447.4h0M998.3,437.8h0M1001.9,442.4h0M1000.0,434.8h0M1002.3,440.1h0M1002.0,442.6h0M1002.5,441.2h0M998.4,441.7h0M1004.8,446.8h0M996.6,440.8h0M997.5,440.8h0M994.9,443.9h0M1001.1,439.4h0M1004.1,445.1h0M1003.2,443.4h0M1003.2,446.7h0M993.8,405.6h0M1001.7,444.1h0M996.6,433.4h0M1000.8,441.1h0M994.0,404.7h0M1000.7,442.6h0M1003.3,446.1h0M1000.5,446.1h0M992.9,401.7h0M1005.0,447.6h0M994.5,439.1h0M1000.8,440.6h0M995.9,414.6h0M998.2,445.9h0M996.6,445.4h0M993.6,415.6h0M1004.9,446.9h0M995.5,443.4h0M1004.2,446.0h0M990.9,395.4h0M994.7,440.7h0M1001.2,436.4h0M999.0,441.5h0M994.1,406.3h0M1000.5,441.6h0M1004.3,445.9h0M1004.8,446.7h0M1000.1,445.7h0M1003.8,445.3h0M1005.1,447.1h0M1004.3,447.4h0M991.5,433.6h0M991.3,438.3h0M995.8,444.5h0M1004.7,447.3h0M1001.0,446.8h0M995.8,422.6h0M1001.2,436.5h0M999.3,442.4h0M1003.4,445.5h0M997.5,424.5h0M1004.0,447.4h0M994.1,410.2h0M994.3,422.8h0M1003.3,445.7h0M999.9,444.2h0M1001.7,439.4h0M997.8,443.1h0M998.1,442.2h0M1003.6,444.4h0M994.3,437.3h0M1000.9,442.0h0M1005.2,447.4h0M1001.8,442.1h0M994.4,415.9h0M1002.5,442.2h0M997.3,424.1h0M1003.1,443.3h0M1003.5,443.2h0M1000.6,445.9h0M997.7,423.4h0M1003.2,446.3h0M1001.5,442.8h0M1002.5,442.4h0M992.9,437.4h0M1002.4,446.5h0M994.9,434.0h0M998.2,443.9h0M998.3,443.4h0M999.3,432.5h0M991.2,421.5h0M998.2,428.8h0M999.4,436.2h0M995.0,417.2h0M1002.3,445.7h0M999.1,428.1h0M999.2,444.8h0M999.9,434.5h0M995.2,432.3h0M993.0,420.1h0M999.6,431.8h0M1003.7,445.8h0M989.8,398.1h0M1000.9,437.0h0M990.6,414.1h0M1004.8,446.9h0M997.2,430.8h0M997.9,427.0h0M994.1,442.1h0M1001.3,442.6h0M994.3,435.4h0M1005.5,447.7h0M1002.6,441.2h0M1002.9,443.1h0M1003.3,444.5h0M998.9,440.0h0M1004.3,446.2h0M1004.5,447.0h0M1001.8,445.7h0M1003.4,447.5h0M1002.6,442.0h0M1002.4,440.3h0M1002.0,444.7h0M1000.1,439.0h0M992.4,417.7h0M1001.4,443.4h0M999.2,435.6h0M1003.2,445.1h0M997.5,436.8h0M995.5,431.4h0M998.4,435.2h0M1002.1,439.8h0M1005.2,447.7h0M1003.1,446.7h0M1002.4,443.8h0M992.6,426.8h0M1004.3,446.5h0M999.6,444.8h0M1000.3,443.8h0M1005.0,447.2h0M1005.3,447.5h0M1001.7,446.1h0M1002.2,439.7h0M1000.0,440.1h0M1001.2,442.2h0M994.9,431.9h0M999.8,441.2h0M997.6,438.3h0M1000.1,441.3h0M995.5,425.7h0M1000.5,433.7h0M1000.7,441.2h0M1002.5,442.0h0M992.7,438.8h0M998.6,426.9h0M1001.9,445.3h0M994.2,433.9h0M996.1,434.3h0M990.6,427.8h0M990.7,423.5h0M1005.4,447.7h0M1000.9,439.1h0M997.3,438.8h0M992.8,398.8h0M1002.4,445.7h0M995.9,421.1h0M1004.5,447.3h0M998.5,425.9h0M1003.9,446.5h0M1004.6,446.8h0M999.7,436.9h0M1004.6,447.5h0M1000.5,437.5h0M1004.2,446.6h0M1004.6,447.0h0M1005.3,447.7h0M993.5,432.4h0M990.0,430.7h0M996.4,437.6h0M990.4,434.0h0M991.9,398.9h0M990.4,394.9h0M1002.3,446.4h0M998.6,444.2h0M994.6,430.9h0M993.9,425.3h0M997.3,444.0h0M997.8,435.5h0M997.7,426.1h0M992.6,405.5h0M1000.1,437.8h0M995.7,431.4h0M1002.9,443.3h0M997.4,420.8h0M1002.7,441.8h0M1003.3,447.1h0M997.6,424.0h0M1005.0,447.3h0M998.5,444.6h0M996.3,421.5h0M995.8,424.5h0M993.9,433.8h0M993.5,405.4h0M1004.1,446.3h0M998.9,438.1h0M992.0,396.9h0M999.1,431.8h0M1004.5,446.4h0M1005.1,447.7h0M1004.1,445.1h0M1002.5,441.4h0M999.6,440.5h0M1004.0,445.7h0M995.4,433.7h0M1002.3,444.5h0M997.1,445.1h0M1004.7,447.0h0M997.2,435.1h0M1003.2,443.5h0M1000.2,434.9h0M1000.8,434.0h0M998.7,439.1h0M992.2,428.2h0M1000.5,442.0h0M990.4,388.9h0M998.6,435.0h0M1003.4,446.4h0M1002.1,447.0h0M997.2,441.9h0M1002.5,445.1h0M1002.1,446.6h0M997.8,438.6h0M1004.6,446.9h0M989.6,410.9h0M1003.1,442.2h0M1000.5,441.2h0M1002.8,445.5h0M1000.5,437.4h0M990.1,434.0h0M998.4,444.5h0M1003.6,446.3h0M999.9,444.7h0M997.1,436.1h0M997.3,425.3h0M1004.3,445.6h0M995.1,412.1h0M995.1,436.8h0M999.8,444.3h0M995.6,414.0h0M995.9,444.6h0M1000.3,433.7h0M1002.3,440.8h0M1002.2,446.7h0M993.0,419.8h0M990.5,386.6h0M1000.8,443.5h0M992.3,403.8h0M999.8,433.7h0M996.1,444.9h0M1005.0,447.5h0M1003.1,447.1h0M998.7,439.0h0M996.5,442.7h0M1004.9,446.9h0M995.0,411.6h0M994.2,415.4h0M1001.5,441.1h0M995.1,419.6h0M999.6,433.4h0M995.7,421.2h0M990.9,398.3h0M1000.3,445.7h0M993.8,425.2h0M1003.4,444.9h0M996.3,417.6h0M997.6,421.5h0M995.1,424.2h0M998.7,443.7h0M1005.3,447.5h0M1004.7,446.5h0M996.8,432.6h0M1005.0,447.4h0M1002.4,446.8h0M1004.3,445.9h0M995.4,420.0h0M1005.0,447.6h0M1004.8,446.7h0M990.9,397.2h0M996.2,425.0h0M1000.2,439.3h0M999.2,444.4h0M1004.0,447.3h0M997.7,440.4h0M1004.3,447.4h0M996.8,435.6h0M992.0,441.5h0M994.3,433.7h0M998.6,433.9h0M1003.3,445.7h0M997.3,420.4h0M991.2,391.3h0M993.2,410.7h0M1004.5,446.9h0M995.4,416.7h0M1004.2,445.9h0M1000.2,441.8h0M995.9,436.5h0M998.2,427.1h0M998.1,436.1h0M992.4,417.4h0M1001.9,441.4h0M995.6,422.9h0M1000.9,438.6h0M1002.9,442.2h0M1005.1,447.3h0M1002.5,441.4h0M996.5,428.9h0M1003.6,444.8h0M1002.6,440.5h0M996.2,426.7h0M998.4,443.0h0M998.4,444.5h0M997.9,429.6h0M999.6,440.9h0M1001.5,443.4h0M1002.2,444.1h0M997.8,435.9h0M1002.2,440.7h0M996.5,420.0h0M993.6,406.9h0M994.9,408.8h0M1004.4,447.3h0M995.1,415.0h0M992.4,425.5h0M990.7,418.5h0M992.4,415.4h0M998.9,436.0h0M1000.3,444.2h0M1004.0,446.8h0M993.1,434.5h0M1001.0,437.8h0M993.6,421.3h0M994.7,428.1h0M994.1,422.8h0M1000.7,446.5h0M991.8,405.5h0M994.2,434.4h0M994.6,427.5h0M990.7,390.3h0M993.0,431.2h0M993.0,416.6h0M993.3,423.6h0M1002.3,444.4h0M1003.9,444.5h0M1000.1,432.9h0M1002.5,445.7h0M1001.8,445.2h0M994.9,443.5h0M993.8,439.5h0M1003.8,447.0h0M999.6,433.3h0M1001.9,445.5h0M997.9,430.7h0M999.3,436.2h0M1001.5,440.5h0M993.3,430.0h0M997.8,444.1h0M1003.5,444.0h0M990.6,436.7h0M991.5,440.5h0M1003.6,443.9h0M992.0,401.8h0M1004.1,447.6h0M998.1,445.2h0M996.0,427.7h0M998.0,443.1h0M1003.3,446.4h0M1000.1,436.7h0M1000.8,439.3h0M992.8,417.2h0M1001.2,440.7h0M1003.0,442.3h0M996.9,419.0h0M1001.6,438.8h0M998.9,437.5h0M997.1,441.6h0M995.8,417.2h0M998.7,443.7h0M1002.1,443.1h0M996.7,442.0h0M1005.1,447.4h0M999.9,436.0h0M1003.5,444.5h0M1003.9,447.1h0M1003.4,443.6h0M996.3,444.3h0M990.1,430.3h0M1002.3,444.0h0M1003.6,446.8h0M1002.0,446.1h0M990.2,441.7h0M982.0,441.2h0M981.5,439.1h0M978.8,442.1h0M989.6,440.9h0M988.9,441.0h0M980.6,441.3h0M987.9,440.8h0M995.7,438.0h0M981.0,439.0h0M982.6,441.6h0M986.9,441.2h0M992.0,438.0h0M992.6,439.6h0M980.0,441.3h0M983.8,438.6h0M973.2,440.4h0M995.4,438.8h0M990.6,439.0h0M994.3,440.0h0M975.1,441.3h0M993.8,439.0h0M991.7,438.1h0M985.8,438.1h0M978.2,439.0h0M972.5,440.5h0M978.3,441.5h0M989.2,440.6h0M973.0,441.4h0M981.5,438.1h0M968.2,441.7h0M966.9,440.9h0M972.6,441.5h0M986.6,438.5h0M989.5,441.7h0M972.2,437.8h0M990.9,440.7h0M982.1,440.4h0M973.0,438.9h0M982.9,439.4h0M974.7,439.2h0M987.9,438.1h0M989.5,439.9h0M993.2,437.8h0M980.5,442.1h0M966.9,438.0h0M969.6,441.9h0M985.7,438.7h0M986.7,440.2h0M972.1,439.6h0M987.9,437.9h0M994.6,438.1h0M976.2,440.4h0M986.9,441.3h0M987.1,438.3h0M988.2,438.0h0M990.5,440.3h0M993.3,437.7h0M967.7,439.6h0M995.4,440.7h0M988.4,440.3h0M1016.9,430.9h0M1011.1,442.0h0M1007.9,442.1h0M1006.1,447.6h0M1009.4,436.2h0M1007.7,443.0h0M1009.1,441.0h0M1009.9,434.5h0M1007.6,443.8h0M1011.0,445.5h0M1009.1,445.7h0M1011.5,439.4h0M1019.6,432.6h0M1011.9,441.7h0M1010.9,436.4h0M1011.8,441.8h0M1007.4,441.0h0M1014.0,439.6h0M1020.1,430.0h0M1012.1,439.5h0M1007.0,447.2h0M1005.6,446.8h0M1008.0,442.3h0M1008.0,445.1h0M1007.0,444.2h0M1020.9,426.1h0M1014.2,437.6h0M1006.8,445.0h0M1014.0,443.7h0M1011.4,431.2h0M1005.9,446.9h0M1013.7,444.0h0M1015.5,436.6h0M1009.8,446.6h0M1009.0,444.3h0M1009.1,438.3h0M1010.1,443.2h0M1006.5,446.8h0M1015.3,440.7h0M1006.2,445.4h0M1015.7,435.9h0M1009.9,443.2h0M1014.1,443.9h0M1012.8,429.0h0M1010.7,436.2h0M1010.1,439.2h0M1009.4,441.7h0M1005.7,446.7h0M1014.9,442.0h0M1010.1,435.9h0M1014.0,433.5h0M1013.3,436.0h0M1007.9,445.1h0M1008.9,442.9h0M1006.6,443.1h0M1013.0,442.5h0M1010.7,438.7h0M1007.6,446.8h0M1005.8,446.2h0M1021.1,412.2h0M1010.6,432.7h0M1018.8,432.5h0M1014.1,427.5h0M1011.1,439.6h0M1009.1,443.7h0M1011.1,432.0h0M1019.6,420.6h0M1011.5,440.7h0M1012.0,440.3h0M1015.9,431.2h0M1017.4,430.2h0M1017.1,423.6h0M1014.7,433.6h0M1020.7,414.7h0M1012.7,444.2h0M1007.9,446.2h0M1020.4,432.8h0M1008.9,441.5h0M1006.0,446.1h0M1011.4,437.0h0M1018.5,421.6h0M1009.8,439.7h0M1007.5,442.4h0M1009.5,440.4h0M1006.9,443.8h0M1011.8,443.1h0M1013.9,431.5h0M1019.4,422.4h0M1007.6,441.7h0M1019.6,421.5h0M1005.9,445.5h0M1007.0,445.1h0M1013.2,444.4h0M1007.8,445.3h0M1007.5,443.3h0M1012.6,433.6h0M1013.1,442.4h0M1006.8,444.7h0M1010.4,440.1h0M1006.8,446.0h0M1014.3,425.8h0M1013.1,441.8h0M1007.2,441.8h0M1009.6,446.8h0M1007.1,447.5h0M1017.1,435.9h0M1007.8,444.9h0M1005.6,447.3h0M1008.2,442.5h0M1009.8,441.7h0M1008.9,437.8h0M1018.1,419.3h0M1008.1,445.3h0M1011.1,436.8h0M1018.9,418.7h0M1016.9,439.3h0M1015.4,443.5h0M1012.2,430.9h0M1006.5,444.2h0M1019.5,422.8h0M1009.4,438.5h0M1009.5,438.5h0M1021.1,420.9h0M1013.2,434.0h0M1009.1,440.7h0M1008.1,445.8h0M1015.3,436.4h0M1009.3,437.5h0M1017.0,429.1h0M1016.0,439.1h0M1013.8,440.3h0M1005.8,446.5h0M1013.6,437.9h0M1008.8,437.9h0M1010.1,446.7h0M1008.2,446.4h0M1008.8,440.0h0M1012.9,445.4h0M1014.2,441.6h0M1008.5,443.2h0M1010.1,438.6h0M1013.6,437.0h0M1010.3,439.4h0M1008.9,441.1h0M1011.8,433.5h0M1021.0,428.3h0M1013.5,441.7h0M1005.8,445.8h0M1008.5,439.7h0M1007.8,444.0h0M1006.9,442.1h0M1006.8,446.9h0M1006.8,443.6h0M1018.7,423.9h0M1007.1,444.2h0M1009.2,446.5h0M1012.2,437.2h0M1019.7,432.6h0M1006.3,447.0h0M1007.3,441.1h0M1012.1,437.1h0M1008.7,437.4h0M1017.5,438.1h0M1006.7,447.6h0M1013.3,429.5h0M1019.3,430.5h0M1015.2,444.8h0M1008.4,444.2h0M1006.6,446.0h0M1018.0,425.8h0M1019.3,420.7h0M1016.0,434.3h0M1007.6,446.4h0M1012.5,435.0h0M1013.0,443.0h0M1006.8,445.5h0M1006.6,443.4h0M1011.4,442.7h0M1013.7,426.6h0M1011.0,434.9h0M1014.9,429.6h0M1008.5,438.5h0M1015.3,444.9h0M1017.5,421.6h0M1015.4,435.8h0M1011.0,442.8h0M1014.9,443.6h0M1015.1,427.5h0M1012.1,430.5h0M1014.3,439.8h0M1014.7,445.6h0M1010.8,434.7h0M1019.8,426.1h0M1014.5,440.0h0M1010.0,434.2h0M1006.9,447.4h0M1012.6,430.8h0M1014.3,425.3h0M1014.7,441.5h0M1012.8,441.2h0M1009.7,439.1h0M1007.9,446.3h0M1009.5,439.1h0M1006.8,447.0h0M1007.1,447.1h0M1005.7,446.6h0M1015.1,444.8h0M1007.9,443.1h0M1010.4,439.2h0M1011.5,434.0h0M1009.2,435.6h0M1013.9,430.3h0M1007.3,441.7h0M1011.1,442.2h0M1007.7,440.0h0M1011.9,444.9h0M1008.6,443.9h0M1020.7,433.2h0M1009.1,436.3h0M1009.4,436.1h0M1011.7,433.8h0M1007.7,443.1h0M1006.5,444.4h0M1005.9,446.1h0M1014.9,434.3h0M1011.4,437.7h0M1007.1,447.1h0M1006.2,445.1h0M1013.6,438.9h0M1013.2,437.9h0M1005.6,447.3h0M1005.7,447.0h0M1019.9,422.7h0M1009.4,436.2h0M1011.1,437.5h0M1006.9,442.1h0M1009.9,446.9h0M1007.1,442.6h0M1021.5,420.4h0M1006.2,445.7h0M1011.1,432.7h0M1015.3,428.5h0M1007.3,444.0h0M1012.1,445.3h0M1010.6,438.9h0M1013.3,427.3h0M1010.1,445.9h0M1017.0,429.3h0M1012.9,430.4h0M1014.4,442.7h0M1006.9,442.6h0M1006.8,446.3h0M1012.2,441.7h0M1008.6,438.8h0M1010.0,445.2h0M1012.2,434.6h0M1017.7,423.3h0M1015.5,423.0h0M1015.2,425.4h0M1018.5,421.9h0M1010.2,442.5h0M1011.2,441.8h0M1005.6,447.1h0M1014.9,425.5h0M1013.6,430.1h0M1014.7,437.3h0M1005.5,447.7h0M1013.5,434.1h0M1013.6,427.4h0M1015.7,433.8h0M1014.4,442.9h0M1011.6,443.9h0M1014.0,444.3h0M1018.5,437.6h0M1008.0,445.8h0M1008.6,444.2h0M1011.8,430.5h0M1014.0,440.7h0M1017.0,423.8h0M1009.2,446.1h0M1010.1,442.1h0M1006.8,443.6h0M1014.1,445.0h0M1009.8,446.3h0M1014.1,427.7h0M1016.7,420.9h0M1013.0,436.2h0M1007.4,445.0h0M1006.3,447.0h0M1007.2,444.3h0M1006.3,445.0h0M1008.8,444.9h0M1008.8,443.9h0M1017.5,421.3h0M1018.8,431.5h0M1011.6,436.9h0M1006.3,446.1h0M1015.3,423.5h0M1007.6,445.0h0M1014.0,431.9h0M1014.1,431.1h0M1009.3,439.1h0M1012.8,445.2h0M1009.7,440.8h0M1005.8,446.8h0M1008.1,445.2h0M1016.8,426.4h0M1017.9,439.6h0" stroke="#bebebe" stroke-width="2.3" stroke-linecap="round" fill="none"/>
<path d="M948.3,318.4h0M944.3,325.6h0M972.4,296.3h0M966.4,305.1h0M958.1,310.4h0M959.3,306.1h0M945.4,322.5h0M957.3,320.4h0M947.9,316.9h0M949.7,330.9h0M968.5,286.9h0M942.3,339.2h0M940.7,342.7h0M946.0,337.6h0M948.1,325.7h0M953.1,320.2h0M975.1,299.2h0M944.1,344.2h0M942.5,305.3h0M956.8,275.1h0M968.3,253.0h0M948.1,321.1h0M947.5,326.0h0M975.9,306.5h0M941.1,339.5h0M969.0,304.7h0M981.0,335.8h0M969.8,313.0h0M951.9,292.3h0M947.0,308.4h0M953.3,303.9h0M980.5,335.8h0M978.3,321.1h0M954.5,273.6h0M941.7,329.5h0M956.2,294.6h0M948.6,320.0h0M968.1,271.3h0M963.8,313.0h0M972.0,273.3h0M953.5,325.0h0M980.6,336.3h0M946.4,320.0h0M977.0,314.3h0M982.0,346.7h0M977.3,331.1h0M960.9,316.6h0M955.8,255.3h0M942.0,335.5h0M966.7,303.6h0M964.8,293.5h0M963.2,317.2h0M944.7,318.7h0M948.5,335.0h0M981.7,342.2h0M944.1,329.7h0M974.4,294.8h0M971.7,317.6h0M979.1,329.5h0M942.2,339.6h0M981.8,342.7h0M979.2,332.0h0M951.0,328.7h0M948.4,328.0h0M972.4,302.6h0M978.3,329.3h0M982.4,344.4h0M972.8,312.0h0M950.3,318.1h0M976.3,322.4h0M963.9,271.9h0M982.5,345.3h0M953.8,295.3h0M940.2,293.5h0M958.6,296.9h0M963.2,278.9h0M981.8,342.4h0M953.7,275.0h0M954.3,323.3h0M969.9,310.7h0M964.5,282.7h0M982.8,343.1h0M972.4,317.3h0M964.8,312.7h0M944.4,346.4h0M952.3,314.2h0M961.5,281.3h0M979.5,339.1h0M962.6,316.1h0M973.8,323.6h0M943.7,323.6h0M940.7,340.7h0M942.1,331.4h0M947.8,328.9h0M974.1,318.0h0M943.9,328.8h0M944.5,330.2h0M941.6,346.5h0M943.0,328.4h0M970.7,313.2h0M975.4,321.7h0M940.9,341.7h0M960.7,287.0h0M944.4,318.7h0M944.4,328.6h0M942.8,337.9h0M963.3,316.6h0M977.8,328.8h0M957.1,236.7h0M965.4,312.9h0M980.1,327.3h0M944.3,255.0h0M970.9,318.3h0M961.6,253.8h0M964.8,296.2h0M953.8,303.7h0M971.8,296.2h0M973.2,289.7h0M963.3,282.1h0M945.8,243.6h0M957.7,297.6h0M943.0,330.5h0M977.9,324.3h0M957.5,304.1h0M953.6,286.2h0M945.0,340.2h0M977.5,318.8h0M951.0,305.3h0M963.7,310.0h0M948.7,246.6h0M964.4,306.0h0M972.0,309.4h0M970.0,291.2h0M941.2,249.7h0M969.8,293.2h0M969.1,297.9h0M978.0,331.8h0M982.3,340.8h0M961.3,313.2h0M944.3,258.7h0M975.8,309.8h0M951.5,288.3h0M971.2,320.0h0M978.3,323.3h0M955.6,323.0h0M960.0,312.6h0M940.4,344.5h0M974.4,313.1h0M949.3,302.4h0M944.9,324.9h0M976.7,313.7h0M968.3,313.5h0M943.4,329.8h0M953.4,286.1h0M963.1,304.0h0M941.8,340.4h0M980.8,331.7h0M941.8,343.5h0M943.4,325.1h0M950.0,284.4h0M950.5,326.0h0M969.8,290.9h0M975.5,325.6h0M959.2,314.4h0M975.7,326.4h0M944.9,321.3h0M977.7,321.4h0M974.5,300.1h0M982.0,343.9h0M966.9,307.1h0M967.2,306.0h0M962.4,308.3h0M961.0,278.4h0M947.6,304.1h0M945.9,323.8h0M980.4,330.3h0M956.9,294.2h0M964.0,291.5h0M960.1,285.4h0M976.9,321.5h0M946.2,275.6h0M982.0,346.3h0M940.4,327.1h0M945.7,342.6h0M971.9,295.0h0M960.1,288.8h0M981.8,340.0h0M947.8,285.7h0M963.3,287.3h0M941.2,342.5h0M958.8,314.3h0M978.1,325.6h0M961.7,318.8h0M975.4,297.8h0M950.9,315.2h0M945.7,337.3h0M978.2,317.3h0M945.0,296.0h0M982.1,339.1h0M946.2,331.7h0M946.2,329.0h0M958.4,266.1h0M960.9,270.3h0M962.2,244.6h0M969.0,300.6h0M954.8,321.0h0M955.9,306.8h0M943.8,338.9h0M977.0,318.1h0M976.4,322.1h0M942.3,340.0h0M952.0,281.4h0M949.6,289.1h0M963.5,233.1h0M980.2,337.5h0M974.1,322.2h0M947.9,324.7h0M950.4,289.9h0M953.4,311.4h0M966.5,294.4h0M960.2,302.3h0M945.9,314.5h0M946.9,314.5h0M978.1,318.2h0M953.6,285.6h0M963.9,302.4h0M964.8,279.2h0M962.1,235.8h0M943.8,333.4h0M957.9,286.7h0M981.8,339.9h0M947.9,329.2h0M973.9,318.4h0M965.9,271.1h0M965.4,316.2h0M941.1,344.0h0M954.0,298.5h0M945.1,336.0h0M945.2,328.3h0M982.0,345.3h0M944.4,319.2h0M952.4,325.6h0M963.4,282.7h0M946.3,314.9h0M951.5,321.5h0M957.1,319.8h0M945.4,327.0h0M977.6,327.3h0M959.8,291.9h0M945.9,341.7h0M968.1,299.1h0M948.0,332.9h0M977.0,315.1h0M944.5,327.9h0M956.4,295.1h0M960.1,287.5h0M947.0,329.8h0M961.6,302.0h0M962.5,284.6h0M959.5,286.4h0M972.2,301.2h0M973.6,292.9h0M943.7,326.2h0M959.9,302.9h0M944.3,321.5h0M948.8,324.2h0M948.5,286.3h0M975.8,299.2h0M960.1,297.2h0M951.9,300.5h0M968.7,315.0h0M957.4,264.2h0M972.3,279.0h0M980.3,338.4h0M981.2,337.2h0M960.1,296.1h0M953.6,310.2h0M983.0,346.3h0M977.9,313.6h0M949.0,299.5h0M949.6,250.9h0M944.3,335.8h0M943.0,297.6h0M959.2,314.2h0M956.4,293.0h0M981.8,341.0h0M980.2,342.6h0M980.7,332.8h0M941.5,345.6h0M958.2,294.6h0M975.0,302.2h0M978.7,334.7h0M973.7,306.7h0M947.5,293.8h0M959.6,318.2h0M973.5,295.2h0M953.4,318.6h0M940.6,344.6h0M944.9,333.6h0M979.4,337.7h0M956.3,298.6h0M966.4,301.3h0M942.3,295.2h0M967.3,302.8h0M944.9,315.2h0M943.7,301.3h0M940.6,288.7h0M981.6,341.5h0M979.8,330.4h0M980.5,336.7h0M958.1,292.9h0M967.9,274.1h0M960.8,304.5h0M952.0,278.9h0M947.1,337.3h0M943.9,271.4h0M982.9,345.6h0M972.8,317.3h0M969.2,281.6h0M968.8,305.6h0M951.5,263.2h0M962.2,267.9h0M966.3,295.6h0M964.4,312.4h0M977.6,324.0h0M945.4,307.4h0M945.2,334.8h0M943.8,345.1h0M976.0,324.5h0M951.8,284.2h0M944.7,274.7h0M981.1,344.0h0M949.8,328.2h0M949.6,322.5h0M948.0,329.6h0M959.2,277.7h0M949.6,317.0h0M957.3,294.0h0M948.3,323.7h0M944.6,341.1h0M940.7,346.9h0M947.9,316.3h0M980.3,340.7h0M966.9,275.5h0M950.8,318.8h0M978.7,331.4h0M968.9,304.0h0M944.4,336.1h0M975.3,324.4h0M942.6,328.3h0M969.1,307.3h0M946.4,339.5h0M958.1,314.2h0M949.3,234.3h0M978.3,333.9h0M977.8,329.8h0M962.4,305.1h0M963.8,297.2h0M950.4,249.5h0M950.5,305.6h0M975.8,320.3h0M952.7,311.6h0M942.0,325.6h0M947.0,250.6h0M956.7,260.2h0M947.9,308.3h0M941.9,344.3h0M972.7,311.7h0M958.5,301.7h0M943.8,314.1h0M954.3,315.2h0M959.8,300.4h0M964.3,307.0h0M979.2,326.4h0M943.3,262.6h0M980.8,341.8h0M943.4,339.9h0M980.7,331.4h0M942.8,343.4h0M957.8,312.9h0M946.4,338.0h0M960.4,307.7h0M962.7,317.8h0M953.2,318.2h0M940.8,332.1h0M958.8,312.8h0M973.9,314.1h0M979.9,326.0h0M945.4,333.8h0M980.9,342.3h0M944.8,316.3h0M948.7,296.5h0M947.5,286.7h0M947.3,332.8h0M946.5,328.1h0M947.1,311.8h0M950.1,287.6h0M977.7,312.4h0M974.4,313.5h0M978.6,331.0h0M963.7,300.7h0M972.7,311.4h0M955.9,314.7h0M973.8,297.8h0M949.9,299.0h0M979.1,326.8h0M956.0,273.9h0M978.8,329.8h0M977.3,327.5h0M944.6,268.2h0M981.6,336.4h0M944.7,240.2h0M944.9,343.9h0M965.6,275.1h0M943.2,343.7h0M955.1,306.0h0M945.3,315.5h0M946.0,338.7h0M977.4,332.0h0M955.4,308.3h0M942.1,347.1h0M979.5,331.5h0M965.4,305.2h0M943.7,300.2h0M947.7,275.2h0M963.5,295.1h0M978.7,334.8h0M948.8,326.5h0M969.8,277.8h0M949.3,254.9h0M961.2,289.3h0M963.3,310.1h0M957.9,303.9h0M941.8,336.3h0M952.0,296.1h0M977.9,328.0h0M969.0,298.1h0M957.3,310.2h0M981.5,345.4h0M943.5,331.3h0M980.2,340.4h0M940.4,332.7h0M974.9,306.0h0M968.6,286.1h0M944.5,323.0h0M946.0,335.8h0M941.4,306.5h0M980.8,343.3h0M975.1,301.2h0M943.1,279.9h0M941.8,277.7h0M981.1,344.5h0M948.6,322.9h0M968.3,316.5h0M950.8,281.0h0M971.6,320.2h0M978.9,319.6h0M970.4,311.5h0M950.2,308.1h0M944.9,302.0h0M941.3,329.7h0M951.8,309.7h0M942.8,324.8h0M972.8,316.8h0M980.6,335.7h0M944.9,340.2h0M968.3,315.5h0M966.8,307.9h0M942.6,335.9h0M952.9,264.4h0M960.1,289.7h0M968.8,284.2h0M969.5,317.9h0M951.0,323.9h0M957.4,308.8h0M958.2,294.3h0M962.8,309.9h0M946.4,313.7h0M943.9,337.8h0M959.5,261.7h0M974.9,309.3h0M944.5,278.7h0M946.5,339.1h0M949.8,309.7h0M957.4,292.8h0M963.0,271.6h0M947.4,311.9h0M949.1,314.7h0M965.5,309.5h0M952.2,289.6h0M942.7,330.8h0M951.7,321.6h0M967.3,296.7h0M951.2,268.4h0M954.5,291.4h0M962.8,277.4h0M940.7,310.3h0M948.0,313.0h0M973.1,309.3h0M951.8,326.9h0M946.5,270.5h0M973.2,321.7h0M947.4,321.4h0M944.1,325.2h0M942.5,325.1h0M971.2,312.8h0M971.3,287.1h0M966.2,300.6h0M951.1,305.3h0M980.8,336.2h0M966.9,294.2h0M961.0,318.5h0M963.9,317.4h0M950.5,281.0h0M974.9,324.1h0M979.4,330.6h0M943.0,337.5h0M966.8,313.8h0M953.4,311.1h0M956.6,320.9h0M974.1,298.9h0M978.0,328.1h0M949.6,330.4h0M940.4,279.6h0M966.9,316.1h0M961.4,306.5h0M943.8,341.9h0M960.5,258.1h0M951.1,318.9h0M972.9,287.3h0M979.1,327.5h0M942.2,340.0h0M952.3,315.6h0M943.7,345.4h0M981.5,338.1h0M980.3,332.0h0M971.4,281.1h0M952.0,325.3h0M971.0,314.1h0M942.1,322.5h0M962.1,289.6h0M943.1,295.7h0M955.9,316.1h0M947.2,302.5h0M943.2,340.3h0M962.7,269.2h0M976.0,320.2h0M943.6,343.0h0M957.1,277.3h0M942.4,338.0h0M959.8,308.8h0M947.1,288.7h0M946.1,283.2h0M944.9,334.2h0M978.7,336.4h0M949.3,294.9h0M958.8,308.1h0M981.3,344.3h0M980.0,339.1h0M982.1,338.9h0M951.9,320.1h0M973.2,316.3h0M952.7,299.9h0M945.8,340.6h0M942.3,342.4h0M965.9,306.5h0M972.5,304.7h0M948.3,294.0h0M964.3,317.3h0M948.7,297.0h0M967.9,292.3h0M971.5,317.6h0M969.3,297.7h0M946.5,332.6h0M944.8,322.8h0M948.6,331.9h0M942.2,346.0h0M963.7,291.6h0M942.3,342.2h0M955.0,311.1h0M941.6,346.7h0M950.4,307.7h0M954.4,301.0h0M940.7,329.8h0M980.6,329.8h0M944.9,301.4h0M941.9,342.3h0M943.5,321.7h0M951.8,326.8h0M967.6,314.5h0M946.0,339.1h0M941.8,307.6h0M977.1,320.1h0M957.3,320.5h0M943.7,325.9h0M965.1,291.3h0M964.0,317.3h0M968.9,301.7h0M942.7,309.5h0M950.3,313.6h0M964.2,285.4h0M949.4,284.0h0M967.6,313.4h0M952.2,327.1h0M976.7,323.4h0M943.7,302.4h0M955.9,312.7h0M960.7,313.2h0M977.1,326.0h0M977.1,326.3h0M980.6,338.0h0M943.8,304.2h0M949.0,322.0h0M957.1,237.7h0M953.8,312.7h0M944.8,337.8h0M945.1,316.7h0M967.1,246.0h0M958.1,299.6h0M960.6,268.7h0M962.0,303.4h0M944.6,324.6h0M970.2,301.3h0M949.4,323.0h0M980.7,342.4h0M941.6,291.0h0M976.7,319.8h0M942.3,333.8h0M949.1,328.3h0M947.4,302.7h0M959.6,297.8h0M963.0,288.9h0M962.2,314.0h0M945.7,334.9h0M978.1,328.1h0M969.8,277.4h0M947.4,295.6h0M976.0,322.7h0M940.8,315.6h0M947.6,337.4h0M947.4,322.8h0M962.1,318.7h0M942.1,329.2h0M981.3,346.5h0M947.7,304.7h0M948.6,271.5h0M943.4,318.1h0M954.8,287.8h0M977.2,329.7h0M979.2,338.6h0M941.5,291.3h0M951.2,316.9h0M978.1,335.0h0M970.4,280.5h0M966.9,316.5h0M972.7,294.6h0M961.5,318.8h0M955.1,298.1h0M961.8,284.8h0M953.0,317.1h0M982.4,346.5h0M981.3,337.3h0M978.6,333.7h0M961.8,291.1h0M947.1,320.2h0M976.0,315.2h0M974.3,311.9h0M964.6,236.5h0M971.3,315.7h0M976.7,310.6h0M958.0,309.6h0M952.8,269.9h0M975.6,314.0h0M942.0,302.2h0M942.2,346.5h0M946.9,296.3h0M942.6,329.2h0M957.8,317.4h0M977.7,330.7h0M976.0,300.6h0M941.6,300.0h0M977.3,323.6h0M977.5,318.8h0M944.0,309.4h0M966.0,271.1h0M944.7,270.1h0M944.9,336.6h0M951.5,299.0h0M949.3,306.9h0M957.3,270.4h0M954.9,289.1h0M940.3,342.5h0M967.4,291.4h0M946.4,340.8h0M944.2,289.1h0M957.7,299.6h0M946.9,329.2h0M941.2,345.8h0M968.9,313.5h0M959.2,316.6h0M980.3,330.8h0M945.6,337.1h0M979.6,334.0h0M978.0,332.7h0M967.3,285.4h0M960.3,318.4h0M972.4,310.0h0M955.5,291.2h0M968.9,290.0h0M951.3,254.9h0M978.7,326.3h0M959.3,306.0h0M977.4,329.8h0M954.2,324.2h0M980.2,339.4h0M978.0,331.5h0M967.3,288.1h0M953.2,316.8h0M964.1,296.9h0M955.2,321.7h0M953.9,305.9h0M976.8,322.1h0M981.0,345.4h0M971.3,320.2h0M965.6,312.1h0M945.8,332.9h0M950.9,327.9h0M965.7,265.1h0M978.9,335.5h0M951.2,301.4h0M967.1,309.1h0M954.1,320.3h0M980.5,333.4h0M971.5,307.1h0M946.0,340.2h0M956.7,317.9h0M974.8,305.6h0M982.1,343.3h0M955.8,300.3h0M980.0,326.2h0M957.7,289.2h0M969.7,316.9h0M959.3,304.3h0M980.8,334.0h0M976.9,309.7h0M979.7,337.7h0M952.3,274.2h0M967.5,266.6h0M964.5,260.5h0M967.2,274.5h0M950.3,322.3h0M957.5,301.9h0M954.4,290.5h0M948.9,332.1h0M983.4,346.0h0M947.8,321.5h0M953.8,322.5h0M942.6,341.3h0M965.1,266.9h0M940.6,298.5h0M982.2,342.0h0M954.5,282.6h0M964.3,317.1h0M945.6,318.1h0M947.1,333.0h0M940.2,345.7h0M964.5,315.8h0M943.6,285.3h0M967.4,316.5h0M962.5,316.2h0M972.9,313.8h0M951.4,321.3h0M972.4,283.9h0M947.2,263.1h0M954.7,292.3h0M949.7,292.2h0M954.5,281.6h0M953.9,320.8h0M953.5,283.7h0M962.6,293.5h0M957.7,308.1h0M972.1,300.2h0M974.4,321.6h0M946.5,334.9h0M940.3,321.4h0M977.3,317.3h0M947.6,329.5h0M954.6,308.7h0M945.5,324.4h0M944.2,292.4h0M945.7,303.2h0M953.9,309.2h0M980.0,333.5h0M970.2,263.9h0M947.0,270.8h0M963.9,286.3h0M954.7,308.8h0M941.0,328.4h0M967.9,286.5h0M952.2,309.8h0M957.8,310.1h0M956.1,310.6h0M956.7,320.3h0M959.4,313.2h0M942.8,331.2h0M952.3,323.3h0M980.0,330.6h0M960.2,309.9h0M960.7,283.7h0M971.5,296.9h0M959.7,314.3h0M978.2,331.0h0M945.0,343.4h0M978.8,333.6h0M978.3,316.3h0M969.9,316.8h0M977.1,330.4h0M960.4,312.5h0M982.0,342.5h0M945.5,313.6h0M972.9,291.8h0M958.2,308.3h0M962.9,270.9h0M946.0,320.0h0M948.2,325.6h0M973.9,321.5h0M946.4,326.1h0M967.0,286.8h0M943.6,313.3h0M949.3,321.5h0M981.8,340.5h0M953.4,298.5h0M973.6,317.3h0M948.1,297.1h0M942.0,343.2h0M956.6,272.5h0M942.3,339.3h0M980.6,341.6h0M971.4,313.8h0M970.6,316.2h0M941.8,345.2h0M949.0,303.7h0M978.2,329.3h0M941.9,340.2h0M967.0,270.3h0M949.4,325.0h0M970.8,299.0h0M961.1,284.0h0M966.0,305.6h0M982.9,343.8h0M960.9,313.9h0M945.8,315.7h0M969.5,285.7h0M946.3,305.8h0M969.7,286.3h0M967.7,252.5h0M980.6,343.7h0M948.3,295.8h0M982.2,340.4h0M946.0,324.1h0M940.4,328.2h0M977.7,314.4h0M945.7,342.4h0M958.3,310.9h0M952.0,311.0h0M957.5,314.1h0M943.7,292.9h0M957.0,286.4h0M958.0,283.3h0M980.2,331.5h0M982.0,343.3h0M968.6,313.0h0M949.3,331.3h0M975.8,302.5h0M966.9,305.3h0M960.7,317.5h0M942.5,328.8h0M976.4,308.3h0M969.1,292.1h0M981.0,337.2h0M961.6,302.5h0M943.9,332.3h0M946.8,269.0h0M943.5,333.2h0M969.7,306.6h0M953.2,322.0h0M982.8,342.8h0M978.8,336.4h0M946.2,321.4h0M981.1,339.1h0M976.8,312.7h0M950.1,320.6h0M959.6,314.2h0M940.1,333.4h0M947.5,320.6h0M975.5,299.6h0M942.6,343.9h0M945.8,302.4h0M979.7,328.4h0M964.2,264.3h0M935.7,330.3h0M939.4,350.1h0M930.7,344.8h0M939.3,340.7h0M934.0,334.7h0M929.3,334.5h0M942.7,355.6h0M938.8,326.1h0M930.2,316.6h0M948.7,403.7h0M927.4,321.7h0M941.4,358.9h0M931.2,357.1h0M938.5,342.8h0M936.4,344.2h0M933.3,361.2h0M941.0,329.6h0M941.3,360.7h0M938.9,331.8h0M939.3,360.4h0M941.8,369.7h0M937.9,346.1h0M940.7,341.0h0M941.5,369.9h0M941.5,335.9h0M941.6,352.8h0M931.9,320.2h0M936.1,322.3h0M941.4,357.3h0M936.5,342.0h0M938.6,317.6h0M934.4,354.2h0M941.6,325.5h0M940.7,356.6h0M963.7,433.3h0M940.7,366.8h0M939.0,327.4h0M940.8,343.8h0M929.6,337.9h0M941.0,348.7h0M938.5,351.5h0M939.2,361.3h0M971.1,436.6h0M939.6,366.5h0M938.5,336.0h0M944.3,387.4h0M941.8,331.4h0M939.3,364.7h0M941.5,370.1h0M931.1,322.4h0M935.8,328.2h0M930.6,326.3h0M942.2,354.0h0M944.4,392.8h0M941.9,327.3h0M939.5,333.8h0M941.6,341.1h0M948.5,403.3h0M932.9,319.0h0M940.9,317.9h0M940.3,332.3h0M933.7,318.9h0M972.1,434.7h0M939.5,321.7h0M935.5,336.4h0M947.4,400.8h0M964.1,430.7h0M933.5,350.7h0M941.1,342.9h0M955.6,430.8h0M964.7,432.5h0M937.3,337.4h0M940.2,340.3h0M942.7,355.9h0M972.8,436.4h0M919.6,356.5h0M973.5,435.8h0M938.9,361.1h0M941.8,349.1h0M934.2,341.3h0M934.9,356.0h0M941.2,329.1h0M941.1,316.0h0M964.4,437.0h0M933.4,339.3h0M940.8,319.3h0M940.5,319.2h0M941.7,337.2h0M972.9,435.0h0M971.7,435.2h0M935.4,335.6h0M941.8,337.0h0M941.1,332.8h0M933.0,359.0h0M941.3,344.8h0M936.4,340.3h0M971.2,434.0h0M941.7,338.0h0M936.2,366.3h0M933.1,340.4h0M936.4,334.1h0M940.4,347.2h0M940.5,322.4h0M968.8,434.8h0M927.0,350.7h0M941.4,334.6h0M928.9,361.4h0M939.7,349.1h0M941.4,331.7h0M937.6,318.6h0M935.0,368.0h0M940.1,329.9h0M941.1,332.0h0M943.3,377.2h0M935.1,356.8h0M930.7,341.0h0M940.5,350.2h0M939.5,334.5h0M937.5,365.4h0M941.1,354.6h0M940.2,344.8h0M939.5,345.5h0M941.6,339.3h0M935.5,345.3h0M939.3,353.0h0M941.3,324.1h0M929.6,336.3h0M940.3,342.4h0M941.9,328.4h0M942.7,358.6h0M942.4,362.8h0M933.9,341.6h0M939.3,345.4h0M939.3,335.8h0M942.0,330.1h0M942.0,333.8h0M941.1,336.8h0M939.4,332.1h0M940.6,366.8h0M941.1,345.5h0M940.8,344.4h0M934.8,321.9h0M940.2,341.5h0M941.4,335.3h0M938.8,332.6h0M940.9,321.5h0M939.9,339.9h0M935.2,343.4h0M939.0,322.8h0M932.4,335.3h0M941.8,317.8h0M939.2,351.4h0M935.1,354.3h0M939.1,327.6h0M965.8,433.7h0M964.4,431.9h0M935.7,320.5h0M933.2,334.9h0M923.4,345.1h0M966.9,432.2h0M941.1,338.6h0M940.9,324.8h0M941.3,353.9h0M940.7,358.5h0M932.4,368.2h0M941.8,342.1h0M928.1,338.3h0M932.9,371.6h0M941.0,327.6h0M938.1,317.9h0M941.2,365.5h0M937.7,328.6h0M941.1,334.6h0M949.4,415.6h0M940.4,328.5h0M941.9,323.2h0M939.2,318.5h0M971.7,436.5h0M941.7,370.9h0M967.9,436.8h0M940.4,330.0h0M941.0,330.1h0M938.7,352.0h0M930.9,365.4h0M940.1,353.1h0M934.4,359.6h0M936.2,342.0h0M938.1,333.5h0M967.7,433.0h0M941.9,320.1h0M936.9,323.1h0M930.8,317.1h0M934.1,353.9h0M939.1,336.3h0M933.3,325.4h0M926.3,321.3h0M954.9,430.1h0M942.7,360.5h0M925.5,347.1h0M971.1,434.0h0M939.6,328.1h0M941.8,336.3h0M940.6,354.6h0M932.6,352.6h0M942.9,359.7h0M936.4,348.2h0M942.3,353.7h0M935.0,345.8h0M941.6,321.4h0M941.4,346.0h0M941.9,319.4h0M968.2,435.5h0M941.1,327.5h0M940.5,343.5h0M937.3,357.8h0M941.9,345.5h0M941.6,338.4h0M934.6,357.4h0M941.8,322.8h0M940.8,360.5h0M941.3,331.9h0M940.8,334.6h0M935.1,330.0h0M936.5,335.7h0M943.2,378.5h0M974.3,437.1h0M936.5,374.0h0M940.4,347.6h0M937.3,318.2h0M941.0,354.9h0M988.6,411.0h0M988.2,414.3h0M988.7,390.5h0M988.6,398.9h0M988.3,385.0h0M988.0,417.8h0M988.2,389.8h0M988.2,421.2h0M988.7,429.1h0M988.5,412.1h0M987.9,386.1h0M987.8,418.7h0M988.6,400.7h0M988.1,435.5h0M988.1,402.0h0M989.0,414.6h0M987.7,429.7h0M988.2,391.8h0M988.2,406.9h0M988.2,407.0h0M988.2,432.4h0M988.6,387.6h0M989.0,396.6h0M987.8,414.8h0M988.5,414.9h0M988.0,390.2h0M987.9,396.9h0M989.0,421.1h0M988.0,424.2h0M988.7,425.8h0M988.9,422.9h0M988.4,411.0h0M988.8,427.0h0M988.0,400.4h0M989.0,409.6h0M988.1,401.7h0M988.5,430.7h0M988.2,423.4h0M988.5,413.7h0M987.8,402.4h0M988.0,396.0h0M988.9,407.7h0M988.9,410.4h0M988.8,422.4h0M988.8,434.5h0M987.8,393.9h0M988.2,397.1h0M987.8,425.5h0M988.5,403.6h0M988.2,408.2h0M988.6,430.7h0M987.8,406.3h0M988.0,428.8h0M987.9,428.6h0M988.5,398.8h0M988.3,435.7h0M988.9,386.8h0M988.3,436.0h0M988.9,403.0h0M988.3,400.7h0M966.0,432.6h0M983.1,436.6h0M972.2,435.7h0M964.7,433.5h0M973.6,436.7h0M979.0,435.5h0M968.8,433.6h0M965.4,436.7h0M970.7,432.9h0M982.9,434.4h0M983.4,433.7h0M973.1,436.8h0M965.1,435.4h0M972.7,434.9h0M984.3,433.3h0M968.0,436.8h0M984.0,435.8h0M987.7,434.6h0M970.8,432.7h0M977.5,433.2h0M965.1,432.3h0M973.6,436.3h0M985.1,432.8h0M967.9,436.3h0M966.4,433.1h0M964.7,433.1h0M966.1,435.0h0M971.3,433.4h0M985.6,433.6h0M981.3,432.7h0M985.3,435.4h0M988.5,433.1h0M966.4,436.3h0M980.0,437.0h0M965.4,432.6h0M975.6,432.5h0M966.5,436.7h0M987.6,437.2h0M979.4,437.0h0M988.6,436.8h0M971.5,436.4h0M965.2,432.2h0M983.7,433.5h0M976.3,434.7h0M971.7,434.1h0M978.6,433.5h0M986.2,436.4h0M964.0,435.5h0M979.1,434.6h0M964.9,436.0h0M939.3,180.7h0M946.6,203.9h0M949.8,207.7h0M961.9,236.2h0M966.7,241.4h0M970.8,243.1h0M957.9,246.6h0M961.1,250.0h0M940.1,249.0h0M918.3,301.0h0M911.0,375.9h0M923.1,395.7h0M925.6,317.0h0M924.8,354.8h0M927.2,374.9h0M928.0,405.0h0" stroke="#4682b4" stroke-width="2.3" stroke-linecap="round" fill="none"/>
<path d="M1024.8,427.5h0M1024.0,422.2h0M1024.0,429.4h0M1024.8,429.6h0M1023.5,421.1h0M1024.8,433.8h0M1024.0,428.3h0M1023.0,418.3h0M1021.7,434.4h0M1022.1,417.0h0M1024.5,429.2h0M1025.0,434.6h0M1023.4,426.7h0M1024.8,427.2h0M1021.8,416.9h0M1023.5,418.9h0M1022.7,429.4h0M1022.9,422.3h0M1021.9,425.5h0M1023.7,419.1h0M1023.1,424.8h0M1022.4,434.1h0M1023.2,419.0h0M1024.1,416.7h0M1022.2,433.8h0M1023.0,424.3h0M1025.0,429.1h0M1023.4,422.4h0M1025.0,421.2h0M1022.3,424.1h0M1022.1,420.7h0M1022.7,420.9h0M1023.3,425.6h0M1021.7,417.2h0M1022.0,427.3h0M1022.5,427.1h0M1022.0,423.6h0M1021.8,427.8h0M1021.8,426.3h0M1024.3,422.5h0M1022.5,412.0h0M1024.9,414.8h0M1028.4,412.7h0M1026.5,419.3h0M1026.2,424.8h0" stroke="#e8262a" stroke-width="2.3" stroke-linecap="round" fill="none"/>
<rect x="902.3" y="84.2" width="142.1" height="381.2" fill="none" stroke="#c8c8c8" stroke-width="1.2" />
<rect x="902.3" y="57.2" width="141.7" height="26.4" fill="#bebebe" />
<rect x="902.3" y="57.2" width="48.4" height="26.4" fill="#4682b4" />
<text x="926.3" y="82.0" font-size="26.5" class="d" text-anchor="middle">34</text>
<text x="997.5" y="82.0" font-size="26.5" class="d" text-anchor="middle">66</text>
<text x="971.0" y="50.8" font-size="26" class="d" text-anchor="middle">Global</text>
<line x1="908.6" y1="465.4" x2="908.6" y2="469.9" stroke="#777" stroke-width="1.1" />
<text x="903.7" y="493.0" font-size="25.2" class="d" text-anchor="middle">–6</text>
<line x1="940.9" y1="465.4" x2="940.9" y2="469.9" stroke="#777" stroke-width="1.1" />
<text x="933.2" y="493.0" font-size="25.2" class="d" text-anchor="middle">–4</text>
<line x1="973.2" y1="465.4" x2="973.2" y2="469.9" stroke="#777" stroke-width="1.1" />
<text x="969.3" y="493.0" font-size="25.2" class="d" text-anchor="middle">–2</text>
<line x1="1005.5" y1="465.4" x2="1005.5" y2="469.9" stroke="#777" stroke-width="1.1" />
<text x="1004.9" y="493.0" font-size="25.2" class="d" text-anchor="middle">0</text>
<line x1="1037.8" y1="465.4" x2="1037.8" y2="469.9" stroke="#777" stroke-width="1.1" />
<text x="1037.6" y="493.0" font-size="25.2" class="d" text-anchor="middle">2</text>
<rect x="1060.3" y="84.2" width="144.2" height="381.2" fill="#fff" />
<line x1="1066.4" y1="84.2" x2="1066.4" y2="465.4" stroke="#e9e9e9" stroke-width="1.1" />
<line x1="1082.9" y1="84.2" x2="1082.9" y2="465.4" stroke="#f4f4f4" stroke-width="0.7" />
<line x1="1099.4" y1="84.2" x2="1099.4" y2="465.4" stroke="#e9e9e9" stroke-width="1.1" />
<line x1="1115.8" y1="84.2" x2="1115.8" y2="465.4" stroke="#f4f4f4" stroke-width="0.7" />
<line x1="1132.3" y1="84.2" x2="1132.3" y2="465.4" stroke="#e9e9e9" stroke-width="1.1" />
<line x1="1148.7" y1="84.2" x2="1148.7" y2="465.4" stroke="#f4f4f4" stroke-width="0.7" />
<line x1="1165.2" y1="84.2" x2="1165.2" y2="465.4" stroke="#e9e9e9" stroke-width="1.1" />
<line x1="1181.7" y1="84.2" x2="1181.7" y2="465.4" stroke="#f4f4f4" stroke-width="0.7" />
<line x1="1198.1" y1="84.2" x2="1198.1" y2="465.4" stroke="#e9e9e9" stroke-width="1.1" />
<line x1="1060.3" y1="447.7" x2="1204.5" y2="447.7" stroke="#e9e9e9" stroke-width="1.1" />
<line x1="1060.3" y1="404.3" x2="1204.5" y2="404.3" stroke="#f4f4f4" stroke-width="0.7" />
<line x1="1060.3" y1="361.0" x2="1204.5" y2="361.0" stroke="#e9e9e9" stroke-width="1.1" />
<line x1="1060.3" y1="317.6" x2="1204.5" y2="317.6" stroke="#f4f4f4" stroke-width="0.7" />
<line x1="1060.3" y1="274.3" x2="1204.5" y2="274.3" stroke="#e9e9e9" stroke-width="1.1" />
<line x1="1060.3" y1="230.9" x2="1204.5" y2="230.9" stroke="#f4f4f4" stroke-width="0.7" />
<line x1="1060.3" y1="187.6" x2="1204.5" y2="187.6" stroke="#e9e9e9" stroke-width="1.1" />
<line x1="1060.3" y1="144.2" x2="1204.5" y2="144.2" stroke="#f4f4f4" stroke-width="0.7" />
<line x1="1060.3" y1="100.9" x2="1204.5" y2="100.9" stroke="#e9e9e9" stroke-width="1.1" />
<path d="M1148.7,436.3 L1148.7,388.7 L1145.4,369.7 L1140.5,348.9 L1135.6,331.5 L1129.0,321.1 L1119.1,321.1 L1110.9,329.8 L1104.3,347.1 L1101.8,364.5 L1104.3,385.3 L1108.4,404.3 L1114.2,418.9 L1122.4,429.7 L1133.9,435.6Z" fill="#4682b4" stroke="#4682b4" stroke-width="2" stroke-linejoin="round"/>
<path d="M1158.3,440.9h0M1151.6,433.5h0M1156.4,418.4h0M1159.6,432.4h0M1163.0,446.2h0M1159.6,443.2h0M1159.2,430.6h0M1163.7,445.0h0M1161.3,446.9h0M1165.0,447.7h0M1163.6,447.3h0M1152.9,409.4h0M1156.2,430.8h0M1154.9,443.5h0M1156.5,420.2h0M1163.0,447.5h0M1157.5,423.4h0M1161.2,442.3h0M1161.0,443.4h0M1156.5,422.6h0M1151.1,395.9h0M1158.7,428.0h0M1160.9,437.6h0M1158.4,436.2h0M1153.4,435.7h0M1161.2,447.0h0M1163.9,446.1h0M1164.1,446.7h0M1152.5,420.7h0M1154.4,415.5h0M1159.1,431.5h0M1155.7,427.9h0M1160.5,444.8h0M1161.4,438.1h0M1156.4,434.5h0M1160.3,438.3h0M1158.3,433.8h0M1159.3,445.7h0M1155.1,438.9h0M1155.6,434.5h0M1152.8,402.3h0M1159.6,444.7h0M1155.2,419.2h0M1153.8,443.4h0M1162.0,447.0h0M1163.6,446.8h0M1149.2,432.0h0M1162.6,442.1h0M1157.0,442.2h0M1164.6,447.0h0M1154.9,437.5h0M1152.4,433.6h0M1158.7,445.9h0M1149.8,400.0h0M1151.1,435.6h0M1149.7,411.0h0M1156.3,427.2h0M1160.9,437.1h0M1159.2,445.9h0M1153.6,427.9h0M1151.0,435.4h0M1158.9,441.2h0M1151.0,424.5h0M1156.4,418.9h0M1156.7,433.1h0M1162.1,444.5h0M1163.1,445.6h0M1155.4,440.7h0M1161.9,444.1h0M1157.3,442.9h0M1165.2,447.7h0M1149.8,397.6h0M1159.6,432.7h0M1150.0,433.0h0M1165.1,447.7h0M1160.2,442.4h0M1149.9,420.3h0M1157.9,426.4h0M1163.1,445.3h0M1162.8,443.4h0M1158.7,436.5h0M1161.2,438.1h0M1160.1,442.5h0M1162.8,447.2h0M1161.6,442.1h0M1159.5,441.2h0M1161.0,444.6h0M1150.6,435.0h0M1152.8,411.4h0M1158.4,437.9h0M1161.4,439.8h0M1160.3,441.5h0M1163.5,445.3h0M1164.6,447.4h0M1149.8,397.0h0M1159.3,432.6h0M1158.1,427.3h0M1162.5,441.6h0M1159.1,438.5h0M1155.8,443.9h0M1156.0,423.0h0M1149.7,420.4h0M1161.9,443.6h0M1162.1,442.7h0M1151.8,430.2h0M1153.3,436.9h0M1158.0,431.6h0M1154.5,416.8h0M1163.1,443.4h0M1159.2,444.5h0M1164.2,446.3h0M1162.2,443.1h0M1162.5,442.3h0M1162.4,444.0h0M1156.4,429.1h0M1149.4,417.5h0M1159.5,442.5h0M1150.3,399.3h0M1161.9,441.3h0M1159.0,437.6h0M1154.0,432.4h0M1161.5,445.2h0M1157.5,445.9h0M1155.5,438.8h0M1159.4,430.8h0M1162.7,446.8h0M1153.1,416.1h0M1156.4,424.3h0M1159.2,443.1h0M1154.0,421.6h0M1161.5,442.4h0M1157.1,427.0h0M1161.2,442.5h0M1158.0,430.5h0M1150.7,421.5h0M1164.9,447.5h0M1162.1,440.2h0M1151.3,402.2h0M1156.5,439.1h0M1162.9,445.6h0M1165.0,447.7h0M1152.7,437.7h0M1153.0,419.0h0M1160.6,437.2h0M1164.9,447.4h0M1158.4,426.7h0M1160.9,441.5h0M1157.2,436.9h0M1157.0,430.2h0M1151.5,425.4h0M1156.5,428.5h0M1153.9,443.4h0M1158.4,432.4h0M1163.3,446.3h0M1162.8,444.2h0M1158.2,443.9h0M1154.7,411.5h0M1164.2,446.7h0M1164.8,447.2h0M1159.1,444.9h0M1160.9,441.2h0M1164.3,447.2h0M1161.7,439.8h0M1150.7,403.4h0M1161.0,441.6h0M1152.1,416.0h0M1161.5,438.3h0M1161.5,442.9h0M1158.8,431.4h0M1152.2,432.7h0M1150.2,419.4h0M1149.1,437.4h0M1164.4,447.3h0M1152.4,406.1h0M1157.0,421.9h0M1149.3,393.3h0M1158.5,433.9h0M1156.3,431.6h0M1154.8,422.7h0M1157.2,438.5h0M1154.5,437.4h0M1163.5,447.1h0M1157.7,426.9h0M1165.1,447.6h0M1162.4,443.7h0M1160.8,436.1h0M1153.4,422.8h0M1158.1,436.0h0M1154.8,443.0h0M1162.9,444.8h0M1151.8,408.9h0M1153.3,411.1h0M1155.8,420.9h0M1157.0,437.9h0M1160.8,443.6h0M1155.6,418.2h0M1162.6,444.1h0M1160.1,445.3h0M1161.2,443.7h0M1150.9,439.9h0M1149.3,386.7h0M1150.5,410.7h0M1163.5,444.7h0M1154.6,444.5h0M1153.3,426.4h0M1162.9,443.1h0M1153.6,418.3h0M1161.8,440.8h0M1151.5,408.9h0M1159.9,441.9h0M1162.2,443.6h0M1162.3,446.7h0M1157.9,430.9h0M1159.0,438.0h0M1158.9,441.8h0M1154.0,437.6h0M1153.6,431.0h0M1152.5,443.7h0M1161.2,441.2h0M1157.6,432.7h0M1164.4,446.6h0M1159.2,431.9h0M1158.1,426.3h0M1152.9,413.3h0M1164.3,446.8h0M1161.4,445.9h0M1159.4,435.9h0M1163.4,447.4h0M1164.0,445.9h0M1153.5,405.3h0M1155.5,415.0h0M1157.7,433.2h0M1161.1,443.5h0M1162.2,447.1h0M1164.2,446.3h0M1159.5,433.0h0M1163.1,444.8h0M1163.2,446.7h0M1154.7,442.3h0M1160.7,438.7h0M1150.3,409.4h0M1163.5,445.4h0M1152.7,404.1h0M1149.4,432.8h0M1150.6,420.1h0M1158.2,444.1h0M1161.9,441.0h0M1154.3,424.3h0M1160.0,437.1h0M1160.3,440.7h0M1156.7,440.2h0M1152.0,417.7h0M1160.7,435.2h0M1161.7,442.3h0M1164.6,447.6h0M1162.4,443.3h0M1158.6,430.4h0M1149.2,406.3h0M1150.0,421.8h0M1160.0,435.0h0M1162.1,446.3h0M1158.3,443.3h0M1163.1,445.1h0M1151.8,411.4h0M1164.4,446.9h0M1160.3,434.3h0M1164.6,447.4h0M1163.1,443.3h0M1165.0,447.5h0M1152.3,406.9h0M1157.8,438.2h0M1162.2,444.6h0M1165.1,447.7h0M1156.7,436.5h0M1158.4,428.2h0M1148.8,423.2h0M1156.8,421.1h0M1150.0,395.1h0M1163.2,447.5h0M1162.1,441.2h0M1159.6,442.5h0M1158.8,431.9h0M1164.1,447.0h0M1159.3,440.8h0M1151.4,422.7h0M1157.2,443.5h0M1160.4,443.3h0M1162.9,443.2h0M1149.1,382.8h0M1152.0,400.9h0M1159.6,435.7h0M1160.8,444.6h0M1161.4,443.8h0M1161.3,447.0h0M1163.7,444.8h0M1152.4,431.0h0M1158.3,436.1h0M1161.1,445.9h0M1164.6,447.1h0M1158.6,434.3h0M1154.8,424.9h0M1156.9,444.3h0M1152.1,435.7h0M1150.1,413.0h0M1164.4,447.5h0M1148.9,426.7h0M1162.3,444.4h0M1161.5,446.6h0M1160.7,443.8h0M1152.3,403.7h0M1161.1,441.3h0M1159.5,437.7h0M1163.5,445.6h0M1162.0,441.8h0M1154.3,414.4h0M1151.7,432.2h0M1153.7,414.3h0M1159.4,446.6h0M1164.8,447.4h0M1165.1,447.6h0M1160.0,446.2h0M1153.7,412.2h0M1156.9,444.3h0M1161.4,437.9h0M1162.1,444.4h0M1154.9,423.5h0M1164.9,447.6h0M1160.8,438.7h0M1158.9,439.7h0M1150.0,417.8h0M1161.3,446.3h0M1151.1,431.2h0M1157.4,423.5h0M1151.4,428.5h0M1162.1,445.1h0M1157.0,436.5h0M1151.0,402.0h0M1158.2,434.5h0M1155.7,418.0h0M1162.4,443.4h0M1160.1,433.3h0M1153.4,421.1h0M1162.8,444.4h0M1162.5,445.0h0M1157.2,422.3h0M1165.1,447.6h0M1165.0,447.5h0M1149.9,388.5h0M1162.1,440.7h0M1156.7,429.9h0M1164.1,447.5h0M1156.3,444.3h0M1157.3,431.2h0M1160.2,436.7h0M1157.7,439.7h0M1153.3,405.8h0M1164.8,447.4h0M1162.9,447.2h0M1162.7,446.3h0M1163.5,446.5h0M1158.3,433.0h0M1158.9,431.5h0M1164.1,445.9h0M1160.2,437.7h0M1162.6,442.4h0M1165.2,447.7h0M1161.5,443.7h0M1156.1,424.7h0M1149.7,387.2h0M1152.7,436.8h0M1161.6,447.2h0M1152.8,421.3h0M1154.0,420.1h0M1165.1,447.7h0M1158.5,428.5h0M1156.0,443.4h0M1158.5,439.6h0M1155.6,429.0h0M1158.4,430.6h0M1151.9,434.1h0M1156.9,438.8h0M1163.7,447.0h0M1159.4,438.2h0M1159.0,429.0h0M1150.8,438.8h0M1160.6,435.7h0M1150.0,420.3h0M1150.0,391.7h0M1154.0,442.0h0M1163.5,444.3h0M1156.4,428.5h0M1154.8,411.1h0M1162.0,441.4h0M1151.8,418.8h0M1152.6,408.0h0M1160.9,446.1h0M1164.0,447.6h0M1153.4,410.2h0M1160.9,442.6h0M1161.7,441.4h0M1158.3,426.0h0M1162.2,443.8h0M1153.2,427.0h0M1158.7,445.8h0M1152.6,437.4h0M1160.4,441.3h0M1149.9,406.2h0M1161.6,444.3h0M1162.0,446.9h0M1157.2,428.5h0M1165.0,447.6h0M1159.7,431.9h0M1150.4,434.1h0M1163.9,446.1h0M1163.9,447.2h0M1152.2,400.6h0M1152.6,434.0h0M1165.1,447.7h0M1149.3,403.4h0M1162.7,444.8h0M1163.8,445.2h0M1161.0,440.2h0M1160.0,442.2h0M1161.9,443.9h0M1149.6,411.4h0M1154.6,443.6h0M1162.8,443.1h0M1150.2,440.9h0M1164.1,445.8h0M1161.0,441.2h0M1162.7,446.4h0M1161.8,441.1h0M1163.1,446.3h0M1152.3,415.5h0M1159.3,435.4h0M1150.3,405.8h0M1159.3,430.6h0M1159.0,436.1h0M1155.4,415.6h0M1155.1,420.1h0M1158.6,439.3h0M1162.4,441.0h0M1163.6,446.0h0M1155.7,430.8h0M1155.1,418.9h0M1162.1,443.5h0M1164.0,447.3h0M1164.2,446.9h0M1159.2,439.1h0M1162.4,444.4h0M1150.5,422.2h0M1157.8,434.0h0M1153.6,414.7h0M1164.8,447.5h0M1156.6,422.1h0M1155.9,435.0h0M1164.2,446.9h0M1158.8,440.5h0M1157.6,433.8h0M1153.8,418.1h0M1163.2,446.4h0M1154.7,428.9h0M1152.1,436.4h0M1163.2,444.9h0M1156.7,438.5h0M1165.2,447.7h0M1165.1,447.7h0M1163.3,447.2h0M1155.1,417.9h0M1152.3,422.7h0M1158.4,427.3h0M1163.3,445.0h0M1151.8,431.4h0M1164.1,447.6h0M1162.3,445.1h0M1164.7,447.0h0M1163.2,447.1h0M1162.7,442.0h0M1160.9,443.2h0M1162.1,446.4h0M1161.3,445.1h0M1157.3,441.2h0M1149.7,404.4h0M1162.2,447.3h0M1163.3,445.4h0M1162.0,446.2h0M1152.1,422.7h0M1154.7,426.9h0M1159.4,437.6h0M1149.8,406.7h0M1164.3,446.2h0M1159.4,446.5h0M1162.2,442.0h0M1164.2,446.3h0M1154.0,437.8h0M1151.2,432.3h0M1156.0,431.4h0M1158.8,432.0h0M1154.0,430.1h0M1163.2,445.2h0M1160.2,440.1h0M1161.3,441.3h0M1157.5,431.7h0M1158.2,434.8h0M1151.4,437.9h0M1164.6,447.7h0M1159.6,437.9h0M1149.1,386.8h0M1164.8,447.4h0M1158.4,431.9h0M1155.8,432.1h0M1160.0,435.1h0M1153.5,414.1h0M1159.4,430.6h0M1163.2,446.5h0M1151.0,400.3h0M1154.2,435.3h0M1164.1,446.7h0M1160.0,439.6h0M1164.7,447.3h0M1153.9,443.9h0M1158.1,442.4h0M1161.4,437.9h0M1153.9,411.7h0M1160.4,438.8h0M1159.4,438.8h0M1155.6,428.1h0M1153.5,418.8h0M1164.9,447.6h0M1158.3,436.7h0M1149.6,429.8h0M1153.6,407.6h0M1163.1,444.4h0M1159.0,434.5h0M1155.4,428.2h0M1159.0,429.8h0M1159.4,432.3h0M1162.1,445.7h0M1157.9,427.8h0M1158.1,439.7h0M1153.5,433.2h0M1161.7,438.8h0M1154.5,431.2h0M1155.6,436.4h0M1153.4,436.2h0M1158.6,440.2h0M1163.5,447.4h0M1160.6,439.9h0M1162.3,441.6h0M1152.5,432.2h0M1159.1,438.0h0M1162.6,447.0h0M1155.6,432.9h0M1161.2,440.8h0M1157.8,439.3h0M1164.4,446.6h0M1153.1,430.1h0M1162.7,446.1h0M1165.1,447.7h0M1162.7,442.4h0M1160.2,435.6h0M1160.9,444.6h0M1151.9,425.1h0M1159.4,440.8h0M1159.2,437.0h0M1160.4,439.4h0M1151.8,438.9h0M1157.2,435.9h0M1161.5,442.3h0M1160.7,441.6h0M1164.5,447.5h0M1163.1,446.4h0M1156.3,430.0h0M1158.0,430.4h0M1164.6,447.2h0M1163.5,444.3h0M1163.2,447.0h0M1164.6,447.1h0M1160.5,441.9h0M1161.6,444.2h0M1150.8,401.6h0M1161.5,440.0h0M1154.9,423.0h0M1151.7,420.0h0M1155.3,438.2h0M1154.2,415.6h0M1151.7,439.3h0M1161.4,446.9h0M1164.4,447.4h0M1155.1,443.2h0M1163.7,445.1h0M1156.8,441.3h0M1164.2,446.9h0M1161.3,440.5h0M1152.0,403.7h0M1158.5,427.8h0M1150.5,429.1h0M1163.0,445.8h0M1153.4,440.1h0M1157.4,438.0h0M1163.2,444.6h0M1163.6,446.2h0M1161.7,442.9h0M1157.8,427.6h0M1152.4,438.4h0M1155.3,429.0h0M1158.9,438.0h0M1161.6,441.3h0M1158.9,446.3h0M1152.0,410.4h0M1162.7,446.4h0M1151.6,408.7h0M1156.1,431.3h0M1159.8,435.1h0M1155.3,426.3h0M1154.3,442.9h0M1151.4,423.8h0M1155.6,432.3h0M1155.9,433.1h0M1163.4,444.6h0M1163.4,444.1h0M1161.6,444.2h0M1158.9,438.4h0M1159.7,442.7h0M1159.0,428.9h0M1162.6,444.9h0M1164.5,446.8h0M1165.0,447.6h0M1153.1,404.2h0M1161.2,442.0h0M1162.4,444.0h0M1154.6,444.0h0M1160.8,438.9h0M1152.5,416.2h0M1160.5,444.8h0M1160.7,441.7h0M1158.8,434.8h0M1159.2,440.1h0M1161.6,442.9h0M1161.3,439.1h0M1160.3,440.7h0M1151.9,433.7h0M1158.2,435.0h0M1164.5,447.1h0M1153.4,437.2h0M1162.6,442.4h0M1164.1,446.4h0M1156.2,438.3h0M1153.7,409.9h0M1163.5,444.3h0M1155.9,419.7h0M1158.5,436.5h0M1157.1,445.0h0M1162.9,446.0h0M1162.3,442.7h0M1163.5,445.7h0M1163.7,447.4h0M1164.7,447.6h0M1160.1,443.7h0M1161.4,438.6h0M1156.6,434.0h0M1161.4,445.1h0M1163.9,446.8h0M1149.1,430.7h0M1156.4,419.0h0M1162.6,447.0h0M1156.0,419.9h0M1151.4,406.6h0M1163.2,447.3h0M1163.3,447.5h0M1152.9,411.1h0M1155.2,443.5h0M1151.1,398.9h0M1163.7,446.5h0M1157.7,429.8h0M1157.0,425.8h0M1157.4,426.7h0M1156.3,440.5h0M1165.2,447.7h0M1159.3,441.0h0M1156.2,441.5h0M1156.5,422.3h0M1151.5,399.2h0M1163.5,446.8h0M1158.9,442.5h0M1159.1,436.2h0M1163.2,445.8h0M1156.3,442.2h0M1157.8,444.6h0M1149.4,429.1h0M1157.7,429.3h0M1164.3,447.2h0M1163.3,444.2h0M1163.1,444.7h0M1160.6,434.8h0M1157.9,427.9h0M1161.0,446.2h0M1159.0,433.3h0M1162.7,447.0h0M1153.9,431.2h0M1159.7,440.4h0M1164.7,447.6h0M1165.1,447.7h0M1159.3,444.4h0M1157.1,430.3h0M1155.2,413.7h0M1155.1,414.0h0M1163.4,444.3h0M1152.8,426.8h0M1158.1,443.3h0M1164.2,447.6h0M1154.4,441.4h0M1154.7,411.0h0M1158.8,440.1h0M1161.3,439.6h0M1159.9,441.4h0M1155.5,428.7h0M1161.4,442.6h0M1151.7,441.7h0M1160.2,444.9h0M1165.0,447.6h0M1162.1,446.4h0M1158.6,435.6h0M1159.6,445.6h0M1164.5,446.6h0M1158.7,435.5h0M1162.4,445.9h0M1163.9,445.5h0M1152.6,430.8h0M1159.4,446.0h0M1163.2,443.7h0M1159.9,435.8h0M1156.4,440.7h0M1164.8,447.6h0M1159.4,434.3h0M1156.0,419.6h0M1161.7,441.4h0M1161.7,442.0h0M1162.1,441.0h0M1164.2,446.7h0M1159.4,437.5h0M1164.7,447.4h0M1149.3,396.7h0M1156.9,431.6h0M1161.4,438.1h0M1161.6,438.5h0M1160.5,438.9h0M1152.0,435.1h0M1151.7,438.7h0M1150.0,429.8h0M1164.2,446.2h0M1152.3,400.7h0M1160.6,446.4h0M1156.6,431.6h0M1152.1,410.4h0M1155.0,443.1h0M1154.4,424.3h0M1164.0,446.4h0M1151.7,411.6h0M1160.1,440.3h0M1165.0,447.7h0M1157.9,435.8h0M1154.6,422.9h0M1164.4,447.5h0M1149.8,416.0h0M1155.9,420.6h0M1157.3,426.8h0M1161.6,440.7h0M1158.6,440.7h0M1162.0,447.0h0M1160.9,440.2h0M1149.3,408.2h0M1164.0,446.8h0M1157.4,428.8h0M1157.9,436.3h0M1165.1,447.7h0M1159.0,431.1h0M1164.4,446.6h0M1153.6,419.3h0M1162.5,443.6h0M1153.6,429.7h0M1164.0,445.5h0M1160.9,438.9h0M1159.8,442.2h0M1162.9,442.9h0M1162.9,447.4h0M1157.6,430.6h0M1164.5,446.6h0M1163.2,444.9h0M1149.3,403.6h0M1156.7,439.7h0M1164.0,445.6h0M1164.7,447.1h0M1162.6,446.2h0M1162.3,443.3h0M1155.3,413.5h0M1160.2,438.3h0M1164.4,446.7h0M1161.4,443.5h0M1162.8,444.1h0M1156.2,417.6h0M1164.8,447.4h0M1154.8,437.3h0M1154.8,434.9h0M1161.8,441.3h0M1151.2,430.3h0M1157.8,439.0h0M1159.3,435.5h0M1156.5,434.6h0M1152.7,427.0h0M1151.6,437.0h0M1156.2,430.7h0M1163.4,444.1h0M1152.8,434.8h0M1152.7,430.1h0M1159.8,443.6h0M1162.0,444.6h0M1151.5,439.9h0M1165.0,447.7h0M1137.5,440.4h0M1151.1,437.9h0M1134.7,441.3h0M1129.4,440.3h0M1133.4,438.5h0M1127.9,440.4h0M1139.5,440.4h0M1133.0,440.5h0M1144.7,441.4h0M1128.2,441.0h0M1143.3,439.8h0M1141.6,437.9h0M1154.3,440.1h0M1136.1,438.7h0M1128.3,438.6h0M1126.5,438.1h0M1152.0,439.5h0M1136.5,439.7h0M1137.6,441.0h0M1153.0,441.8h0M1128.9,440.4h0M1145.0,438.4h0M1139.1,441.9h0M1130.3,440.6h0M1153.4,441.5h0M1126.4,439.6h0M1131.7,439.3h0M1144.7,440.0h0M1133.6,440.4h0M1149.1,439.9h0M1151.7,442.1h0M1149.7,440.3h0M1149.6,441.0h0M1131.8,437.7h0M1133.5,441.9h0M1144.2,440.2h0M1126.5,438.0h0M1149.2,439.8h0M1131.5,438.1h0M1145.2,438.4h0M1144.2,441.6h0M1138.7,439.6h0M1135.8,439.1h0M1130.0,441.2h0M1143.3,441.3h0M1150.5,437.7h0M1144.5,439.1h0M1132.4,438.4h0M1128.5,440.6h0M1134.2,439.0h0M1148.0,441.0h0M1139.8,438.8h0M1135.3,441.0h0M1141.2,440.4h0M1131.0,441.0h0M1128.4,440.4h0M1128.6,441.1h0M1135.8,439.4h0M1154.4,440.4h0M1132.8,440.9h0M1166.1,447.6h0M1168.5,444.6h0M1168.0,445.7h0M1165.4,447.5h0M1166.6,446.3h0M1169.2,446.3h0M1173.1,443.1h0M1165.4,447.1h0M1173.8,440.4h0M1167.9,445.1h0M1169.6,443.0h0M1167.0,447.4h0M1165.2,447.2h0M1170.6,444.0h0M1166.3,447.1h0M1166.5,446.1h0M1169.1,443.2h0M1169.3,444.7h0M1172.7,442.8h0M1170.9,445.9h0M1169.6,443.4h0M1167.3,447.1h0M1177.2,440.7h0M1169.5,443.6h0M1178.3,435.2h0M1169.0,444.1h0M1169.4,443.5h0M1170.2,442.1h0M1173.3,440.9h0M1170.6,442.8h0M1169.2,444.0h0M1169.8,444.9h0M1166.5,447.3h0M1167.1,446.3h0M1171.0,441.8h0M1168.0,445.1h0M1169.2,445.6h0M1165.9,446.6h0M1169.6,446.4h0M1171.9,443.5h0M1169.6,444.9h0M1169.2,446.2h0M1171.8,443.7h0M1166.8,446.0h0M1168.5,444.2h0M1166.7,447.4h0M1165.7,447.0h0M1170.4,445.8h0M1168.0,445.2h0M1166.0,447.2h0M1171.5,441.1h0M1168.9,445.5h0M1167.3,447.0h0M1167.9,445.0h0M1167.5,445.8h0M1166.4,447.4h0M1169.5,444.8h0M1169.1,443.7h0M1167.6,447.1h0M1167.3,446.8h0M1166.5,447.1h0M1167.9,447.1h0M1171.1,442.3h0M1166.6,447.0h0M1174.6,439.6h0M1178.6,435.3h0M1170.5,444.8h0M1168.3,445.8h0M1170.5,442.4h0M1168.5,446.2h0M1171.9,442.9h0M1165.7,446.6h0M1171.7,445.3h0M1166.2,447.2h0M1167.7,445.2h0M1173.3,441.1h0M1166.2,447.1h0M1167.1,446.6h0M1172.3,442.3h0M1174.4,444.0h0M1172.6,440.8h0M1168.8,445.2h0M1167.7,444.7h0M1170.3,442.9h0M1169.2,443.7h0M1169.1,445.3h0M1166.2,447.5h0M1167.3,446.7h0M1171.3,442.7h0M1172.3,442.3h0M1168.3,444.4h0M1170.6,442.4h0M1171.8,442.3h0M1178.7,434.9h0M1165.5,446.9h0M1165.8,447.6h0M1166.2,446.6h0M1174.0,439.7h0M1168.9,444.7h0M1173.2,444.2h0M1171.1,442.0h0M1167.5,445.6h0M1174.5,439.3h0M1169.9,444.1h0M1165.2,447.7h0M1171.2,442.9h0M1166.6,446.9h0M1170.2,445.8h0M1171.9,441.9h0M1165.2,447.2h0M1166.1,447.2h0M1165.4,447.6h0M1165.6,447.2h0M1168.8,444.9h0M1166.9,447.0h0M1169.2,446.1h0M1168.4,445.3h0" stroke="#bebebe" stroke-width="2.3" stroke-linecap="round" fill="none"/>
<path d="M1100.1,341.9h0M1114.7,322.2h0M1099.2,335.8h0M1102.6,330.4h0M1129.6,318.7h0M1107.7,332.1h0M1100.7,321.5h0M1116.0,283.3h0M1103.7,310.9h0M1110.9,312.8h0M1102.3,340.0h0M1109.4,296.6h0M1133.0,299.4h0M1102.1,339.7h0M1130.2,321.7h0M1127.9,318.1h0M1128.3,317.7h0M1118.7,320.1h0M1099.7,257.4h0M1100.7,317.1h0M1130.3,312.2h0M1125.3,318.5h0M1111.2,319.7h0M1106.3,327.5h0M1117.8,296.0h0M1140.0,344.6h0M1107.9,237.5h0M1113.7,253.5h0M1100.1,292.1h0M1111.2,297.3h0M1102.7,346.4h0M1113.0,312.8h0M1133.3,305.7h0M1128.3,305.0h0M1102.9,307.7h0M1109.0,312.5h0M1110.8,318.7h0M1121.5,316.1h0M1100.4,335.2h0M1136.5,319.9h0M1106.6,325.7h0M1103.3,344.8h0M1128.9,299.8h0M1139.8,343.2h0M1116.3,305.2h0M1123.8,317.7h0M1105.5,261.7h0M1123.2,308.9h0M1125.0,312.7h0M1131.1,299.5h0M1134.6,319.8h0M1105.0,299.4h0M1113.6,290.5h0M1115.7,322.2h0M1120.2,291.3h0M1100.4,342.1h0M1133.4,319.6h0M1105.4,343.6h0M1110.0,316.1h0M1105.6,341.8h0M1122.4,300.0h0M1131.5,301.5h0M1104.9,339.7h0M1102.0,329.8h0M1107.6,310.2h0M1113.2,303.9h0M1106.1,307.9h0M1135.4,318.3h0M1103.5,288.6h0M1127.8,309.5h0M1119.1,315.5h0M1101.2,285.3h0M1099.2,318.9h0M1124.8,286.9h0M1140.5,344.3h0M1116.2,319.6h0M1139.3,339.8h0M1114.0,314.3h0M1107.8,334.5h0M1129.0,310.2h0M1103.9,321.8h0M1105.5,276.1h0M1140.0,342.8h0M1122.5,284.8h0M1126.9,271.3h0M1134.0,325.5h0M1120.8,280.6h0M1113.6,303.2h0M1125.9,284.2h0M1117.4,304.1h0M1121.0,263.9h0M1111.2,303.6h0M1126.6,316.5h0M1128.4,290.2h0M1140.4,342.3h0M1101.6,302.3h0M1107.7,332.1h0M1107.4,337.1h0M1104.9,324.5h0M1138.6,334.2h0M1103.4,325.6h0M1123.6,296.1h0M1111.1,312.4h0M1118.1,312.7h0M1130.2,298.7h0M1101.6,346.9h0M1127.5,308.0h0M1127.2,317.0h0M1104.5,317.7h0M1133.7,309.4h0M1102.0,309.6h0M1138.4,331.6h0M1111.9,324.3h0M1116.4,321.8h0M1116.1,291.4h0M1131.5,316.8h0M1133.8,327.8h0M1109.8,329.5h0M1115.1,301.6h0M1103.5,284.5h0M1118.8,299.7h0M1118.3,283.5h0M1121.7,319.9h0M1105.7,312.1h0M1131.5,321.1h0M1124.5,312.4h0M1124.8,312.7h0M1139.2,335.9h0M1102.3,345.4h0M1118.2,321.0h0M1127.4,295.6h0M1137.4,333.2h0M1112.3,319.4h0M1126.7,320.0h0M1117.4,294.3h0M1103.7,260.2h0M1106.9,329.7h0M1139.7,337.7h0M1126.2,274.6h0M1114.9,322.5h0M1125.0,319.3h0M1100.7,339.7h0M1131.0,314.5h0M1125.6,315.5h0M1102.7,345.0h0M1116.8,288.6h0M1112.8,313.6h0M1106.7,333.4h0M1109.1,279.8h0M1127.0,275.5h0M1108.2,272.3h0M1112.5,321.6h0M1127.1,290.3h0M1101.0,341.2h0M1131.1,306.3h0M1101.2,284.6h0M1122.2,305.5h0M1104.8,316.6h0M1123.5,272.4h0M1117.9,313.7h0M1105.0,272.8h0M1132.0,317.3h0M1115.0,266.0h0M1120.2,318.8h0M1107.5,332.7h0M1105.6,323.9h0M1118.4,280.3h0M1110.2,322.8h0M1111.3,319.3h0M1119.8,275.3h0M1101.6,329.8h0M1106.9,287.0h0M1106.5,337.3h0M1121.5,314.0h0M1112.8,313.9h0M1132.0,323.9h0M1126.6,304.5h0M1106.0,329.6h0M1117.1,303.9h0M1109.8,317.3h0M1112.1,317.3h0M1099.8,309.8h0M1134.5,312.3h0M1105.4,311.5h0M1138.6,334.4h0M1116.0,300.9h0M1126.1,290.6h0M1114.1,303.1h0M1114.8,293.6h0M1123.0,317.7h0M1120.7,258.0h0M1121.6,293.7h0M1138.9,341.3h0M1125.4,320.4h0M1102.4,345.8h0M1110.8,328.4h0M1117.4,305.9h0M1107.2,255.3h0M1137.8,335.3h0M1100.2,335.3h0M1136.2,330.6h0M1139.2,343.6h0M1122.1,320.6h0M1128.1,294.7h0M1123.4,271.3h0M1102.5,313.9h0M1134.5,326.7h0M1106.5,314.7h0M1115.8,321.9h0M1125.5,286.4h0M1135.7,318.0h0M1100.2,320.6h0M1104.5,298.7h0M1103.0,286.9h0M1134.2,315.5h0M1105.4,329.7h0M1128.6,292.4h0M1119.0,304.6h0M1128.0,308.9h0M1116.1,321.7h0M1124.2,280.5h0M1134.1,325.6h0M1138.1,334.1h0M1111.1,304.0h0M1113.9,313.4h0M1108.5,323.5h0M1128.5,314.2h0M1102.3,339.9h0M1130.0,294.4h0M1102.7,339.8h0M1110.4,328.8h0M1115.8,303.7h0M1121.7,298.0h0M1117.2,286.9h0M1136.6,328.7h0M1109.5,324.1h0M1140.5,344.9h0M1103.7,344.0h0M1127.1,287.8h0M1123.5,319.8h0M1107.0,328.0h0M1117.4,305.5h0M1124.9,300.2h0M1112.3,325.5h0M1117.5,305.8h0M1129.9,286.6h0M1109.3,314.0h0M1099.1,324.8h0M1103.0,261.2h0M1104.5,342.3h0M1104.5,259.2h0M1126.5,262.9h0M1123.3,319.2h0M1119.7,312.1h0M1104.1,327.7h0M1109.7,323.0h0M1102.6,324.0h0M1100.9,344.0h0M1108.8,268.8h0M1134.0,326.5h0M1118.9,307.9h0M1112.1,323.9h0M1125.9,308.2h0M1103.0,288.6h0M1114.7,315.8h0M1099.6,342.4h0M1105.8,317.1h0M1130.6,316.0h0M1117.1,314.0h0M1101.1,293.2h0M1102.0,316.8h0M1131.4,318.2h0M1108.7,310.4h0M1102.5,317.8h0M1132.4,319.0h0M1135.0,322.7h0M1132.1,296.7h0M1132.5,323.5h0M1124.8,259.6h0M1119.9,305.2h0M1118.2,313.1h0M1102.7,288.1h0M1103.5,340.0h0M1108.5,308.5h0M1132.1,302.0h0M1106.6,313.9h0M1126.9,320.6h0M1131.4,319.9h0M1117.3,306.8h0M1130.9,292.0h0M1132.7,297.6h0M1102.8,344.0h0M1138.0,332.1h0M1135.3,318.9h0M1120.1,316.2h0M1115.4,317.3h0M1099.2,317.1h0M1103.3,288.8h0M1103.8,305.7h0M1103.8,337.7h0M1123.4,250.5h0M1109.4,320.7h0M1131.6,320.9h0M1130.6,318.7h0M1104.7,339.1h0M1127.6,321.0h0M1123.2,298.4h0M1105.3,327.7h0M1107.0,303.1h0M1139.1,343.7h0M1104.6,315.2h0M1114.1,322.2h0M1103.2,301.8h0M1108.4,323.6h0M1111.9,318.2h0M1141.3,347.1h0M1108.2,329.2h0M1121.4,312.1h0M1126.2,257.0h0M1135.9,326.5h0M1115.4,279.6h0M1130.6,313.3h0M1130.7,322.7h0M1138.2,331.9h0M1102.6,333.9h0M1128.4,301.8h0M1136.4,327.7h0M1106.0,341.6h0M1123.7,287.8h0M1109.2,322.4h0M1127.7,295.6h0M1112.5,321.5h0M1124.9,304.8h0M1132.3,324.2h0M1118.5,310.2h0M1101.8,335.7h0M1103.4,309.1h0M1109.9,324.9h0M1113.8,306.0h0M1139.8,340.0h0M1109.0,331.1h0M1127.5,289.8h0M1114.8,257.6h0M1134.5,320.8h0M1109.1,325.1h0M1099.7,327.2h0M1124.5,294.0h0M1133.4,320.3h0M1120.4,301.4h0M1106.6,336.2h0M1117.1,286.0h0M1100.2,340.2h0M1131.4,311.4h0M1139.1,339.9h0M1135.8,325.4h0M1126.7,310.4h0M1101.9,337.9h0M1107.1,325.3h0M1116.6,311.6h0M1111.5,305.7h0M1103.8,320.1h0M1106.0,317.0h0M1104.2,346.9h0M1101.3,334.1h0M1109.5,314.6h0M1120.2,289.3h0M1140.0,340.1h0M1110.3,299.7h0M1139.2,343.0h0M1101.2,325.2h0M1120.2,300.1h0M1109.6,323.9h0M1099.5,345.3h0M1123.4,309.9h0M1108.0,336.4h0M1131.1,309.4h0M1104.4,345.4h0M1099.4,293.2h0M1139.9,344.2h0M1103.8,303.2h0M1105.7,317.4h0M1112.0,316.2h0M1110.4,307.4h0M1125.0,297.6h0M1137.5,329.0h0M1133.0,320.8h0M1105.6,338.5h0M1116.3,293.9h0M1105.0,328.1h0M1103.5,313.4h0M1121.1,305.0h0M1115.3,299.2h0M1122.9,314.9h0M1104.6,315.1h0M1099.7,317.5h0M1129.5,302.8h0M1124.0,317.4h0M1112.3,319.1h0M1112.6,290.5h0M1136.9,332.7h0M1122.9,316.8h0M1099.6,308.7h0M1127.7,295.9h0M1124.1,266.8h0M1120.8,318.4h0M1121.4,309.7h0M1116.5,307.5h0M1101.0,293.4h0M1101.2,246.4h0M1107.0,327.0h0M1115.5,313.3h0M1135.3,323.9h0M1117.1,309.8h0M1124.9,314.2h0M1106.4,330.0h0M1111.1,295.5h0M1105.6,340.2h0M1120.7,319.1h0M1138.5,340.9h0M1116.0,294.1h0M1137.1,324.0h0M1103.2,306.0h0M1101.3,345.0h0M1099.9,342.5h0M1113.9,314.6h0M1128.0,316.8h0M1105.6,305.9h0M1134.2,314.7h0M1122.4,316.4h0M1113.9,320.7h0M1113.3,314.1h0M1105.9,335.8h0M1112.3,324.2h0M1138.9,341.8h0M1103.8,343.9h0M1139.7,341.7h0M1136.3,332.3h0M1134.2,324.1h0M1107.7,274.4h0M1132.2,301.2h0M1098.8,335.1h0M1132.2,322.5h0M1124.4,263.4h0M1114.9,318.4h0M1122.5,320.8h0M1122.4,303.2h0M1099.8,344.5h0M1124.0,313.6h0M1125.6,264.9h0M1117.4,298.3h0M1100.1,326.6h0M1118.7,298.4h0M1100.2,345.4h0M1137.8,332.4h0M1123.2,307.6h0M1102.0,289.6h0M1104.7,310.1h0M1110.7,299.6h0M1126.2,311.6h0M1121.2,298.5h0M1108.4,332.0h0M1129.7,301.7h0M1102.3,259.1h0M1126.3,296.0h0M1099.5,336.5h0M1103.8,333.7h0M1136.0,319.2h0M1100.0,345.5h0M1104.1,346.2h0M1141.2,346.7h0M1115.2,282.9h0M1106.7,329.8h0M1100.5,304.2h0M1132.0,294.1h0M1138.4,330.3h0M1099.6,345.6h0M1116.2,321.7h0M1100.8,273.2h0M1139.4,342.6h0M1109.2,261.9h0M1117.1,315.3h0M1114.9,303.3h0M1113.7,317.2h0M1131.3,309.3h0M1108.6,332.3h0M1107.4,337.5h0M1134.6,327.9h0M1137.3,326.2h0M1108.8,291.9h0M1101.0,327.3h0M1123.5,311.4h0M1118.4,303.1h0M1110.5,285.9h0M1116.6,315.5h0M1116.3,277.3h0M1109.1,326.7h0M1112.1,307.6h0M1136.5,328.9h0M1119.7,299.5h0M1137.5,325.8h0M1116.1,316.5h0M1105.8,314.1h0M1121.5,225.9h0M1125.1,293.3h0M1127.8,278.2h0M1132.8,317.7h0M1127.4,317.2h0M1111.1,321.1h0M1114.2,299.1h0M1113.4,297.2h0M1114.0,311.3h0M1107.8,336.0h0M1122.9,297.3h0M1104.8,341.6h0M1100.8,318.5h0M1125.7,270.4h0M1120.0,297.4h0M1109.6,314.5h0M1112.3,270.5h0M1109.4,317.3h0M1103.9,249.9h0M1100.6,339.6h0M1112.5,274.1h0M1105.0,339.3h0M1103.0,326.4h0M1141.1,346.4h0M1100.6,347.1h0M1140.1,343.1h0M1110.8,328.7h0M1137.7,331.6h0M1102.7,323.3h0M1099.7,345.7h0M1108.1,333.4h0M1138.2,340.6h0M1126.5,292.6h0M1099.8,339.1h0M1101.9,345.5h0M1138.0,330.7h0M1129.8,315.5h0M1111.1,326.0h0M1110.2,248.4h0M1118.3,275.0h0M1133.8,313.8h0M1108.7,327.0h0M1120.5,320.9h0M1107.9,320.9h0M1113.0,290.0h0M1104.0,334.9h0M1116.3,301.7h0M1114.6,323.0h0M1110.9,316.3h0M1130.0,312.9h0M1130.0,317.5h0M1136.1,317.6h0M1111.6,318.4h0M1137.1,330.7h0M1099.4,343.4h0M1127.8,304.0h0M1105.0,331.2h0M1109.5,271.4h0M1139.4,335.9h0M1112.2,291.7h0M1127.4,290.4h0M1113.6,320.3h0M1124.4,318.6h0M1130.5,288.8h0M1104.3,335.1h0M1111.5,293.3h0M1103.4,331.8h0M1118.4,300.5h0M1108.5,318.0h0M1106.7,310.0h0M1111.2,299.1h0M1105.6,319.6h0M1114.1,289.0h0M1138.5,333.1h0M1115.0,298.0h0M1134.6,329.7h0M1103.8,344.7h0M1117.0,309.2h0M1101.7,346.2h0M1117.0,321.0h0M1107.0,330.8h0M1137.8,335.9h0M1125.3,317.5h0M1116.2,306.1h0M1106.0,283.1h0M1133.1,326.4h0M1126.8,316.4h0M1111.2,325.0h0M1103.6,344.7h0M1121.6,286.8h0M1105.2,318.1h0M1103.0,344.8h0M1111.1,308.7h0M1107.1,333.5h0M1110.5,317.2h0M1111.3,287.6h0M1138.4,331.7h0M1110.0,310.4h0M1117.4,290.0h0M1105.5,315.3h0M1112.6,326.2h0M1128.3,313.3h0M1135.3,326.2h0M1130.3,298.9h0M1138.2,336.6h0M1102.1,284.9h0M1120.2,279.2h0M1105.1,315.8h0M1131.7,290.2h0M1135.5,322.8h0M1131.4,322.7h0M1120.1,270.1h0M1109.8,326.5h0M1100.0,329.4h0M1117.0,319.9h0M1100.0,305.3h0M1126.8,278.6h0M1115.4,294.5h0M1123.5,270.8h0M1113.2,314.9h0M1141.0,345.2h0M1111.9,325.6h0M1101.3,319.9h0M1101.7,342.2h0M1101.8,339.4h0M1118.5,315.7h0M1106.4,328.9h0M1110.9,328.0h0M1104.1,287.2h0M1104.9,315.6h0M1107.4,317.5h0M1115.8,314.4h0M1101.6,295.3h0M1138.1,337.4h0M1125.3,306.6h0M1099.0,324.4h0M1104.4,317.1h0M1138.8,334.4h0M1099.4,332.5h0M1107.2,329.4h0M1117.6,293.2h0M1099.9,297.8h0M1102.9,326.7h0M1134.7,325.5h0M1112.6,322.8h0M1110.3,325.2h0M1103.0,339.6h0M1115.6,313.2h0M1109.8,301.1h0M1127.6,303.3h0M1133.8,324.7h0M1130.5,301.0h0M1130.8,291.7h0M1118.9,290.6h0M1099.1,334.5h0M1116.1,309.0h0M1116.8,318.3h0M1103.8,314.2h0M1109.4,327.3h0M1136.5,323.2h0M1105.2,336.0h0M1121.8,299.5h0M1105.6,330.0h0M1126.6,315.3h0M1129.3,307.6h0M1110.2,291.7h0M1106.1,336.3h0M1127.6,285.2h0M1104.9,329.1h0M1106.4,319.5h0M1123.3,308.4h0M1130.5,310.9h0M1105.8,298.8h0M1103.4,333.4h0M1101.7,326.9h0M1106.0,259.7h0M1132.1,297.6h0M1104.4,342.3h0M1131.1,313.1h0M1109.4,311.2h0M1102.3,340.0h0M1109.7,322.4h0M1104.4,314.4h0M1104.8,345.3h0M1132.2,301.8h0M1107.0,332.3h0M1135.7,321.3h0M1131.5,301.4h0M1121.6,318.7h0M1100.2,312.7h0M1109.1,333.7h0M1109.0,319.7h0M1105.1,289.8h0M1113.9,312.2h0M1135.3,330.2h0M1140.7,343.3h0M1139.4,338.9h0M1121.9,275.6h0M1104.1,335.0h0M1100.4,344.3h0M1112.8,324.3h0M1099.2,332.0h0M1110.2,307.8h0M1134.1,329.2h0M1135.0,315.9h0M1105.9,289.8h0M1116.1,321.4h0M1116.6,258.1h0M1106.3,333.6h0M1108.1,272.8h0M1131.3,318.5h0M1117.1,292.5h0M1103.6,341.8h0M1129.6,321.3h0M1113.2,326.7h0M1100.6,275.4h0M1099.2,346.7h0M1127.1,309.2h0M1109.6,301.6h0M1099.8,342.6h0M1138.5,334.2h0M1107.0,336.8h0M1134.4,323.5h0M1134.2,319.5h0M1109.0,304.5h0M1103.5,329.7h0M1127.0,314.5h0M1113.7,255.9h0M1102.9,320.2h0M1105.7,329.0h0M1108.6,300.7h0M1129.1,313.1h0M1140.0,340.6h0M1132.2,315.6h0M1123.0,308.4h0M1100.5,335.4h0M1110.1,324.6h0M1132.3,316.6h0M1116.2,317.8h0M1136.0,328.7h0M1104.5,327.6h0M1105.7,316.5h0M1117.1,229.6h0M1137.4,331.4h0M1103.9,341.7h0M1112.9,295.4h0M1104.6,263.6h0M1108.2,334.5h0M1112.0,316.4h0M1132.4,315.1h0M1105.6,298.8h0M1099.3,269.7h0M1104.3,335.0h0M1126.9,315.5h0M1104.0,337.1h0M1127.9,310.9h0M1119.9,317.7h0M1131.1,303.1h0M1101.3,324.8h0M1106.6,310.1h0M1118.3,262.6h0M1127.2,314.8h0M1125.3,287.7h0M1115.1,279.3h0M1121.3,313.2h0M1104.5,342.0h0M1131.1,296.5h0M1127.3,263.8h0M1105.4,336.2h0M1104.0,335.0h0M1105.0,343.0h0M1122.9,263.2h0M1121.5,308.3h0M1104.4,297.1h0M1106.0,336.4h0M1120.1,309.7h0M1129.7,301.8h0M1111.0,294.1h0M1103.4,340.9h0M1129.7,297.3h0M1138.9,337.8h0M1106.3,317.4h0M1101.2,298.7h0M1139.0,338.1h0M1115.9,314.8h0M1134.4,323.2h0M1105.7,331.3h0M1123.2,308.2h0M1126.0,319.5h0M1104.5,344.6h0M1134.8,314.4h0M1129.1,279.9h0M1103.7,336.7h0M1140.1,339.5h0M1114.8,306.5h0M1112.0,323.7h0M1106.7,329.9h0M1101.9,337.8h0M1124.2,285.3h0M1119.3,314.9h0M1129.6,308.4h0M1122.3,275.7h0M1102.9,331.4h0M1127.4,301.4h0M1127.1,301.3h0M1114.6,278.1h0M1121.4,315.7h0M1105.3,309.1h0M1140.7,344.2h0M1105.6,310.4h0M1119.8,283.3h0M1128.1,268.7h0M1123.9,304.9h0M1116.9,309.8h0M1100.3,320.4h0M1118.9,310.1h0M1101.1,282.6h0M1131.3,323.2h0M1137.9,334.1h0M1111.5,318.5h0M1108.7,331.6h0M1103.7,308.9h0M1120.1,312.6h0M1103.8,322.8h0M1135.5,321.0h0M1136.8,324.4h0M1105.0,279.2h0M1105.7,329.8h0M1124.0,293.6h0M1110.2,324.3h0M1130.1,317.2h0M1107.0,321.6h0M1108.5,313.2h0M1106.9,337.3h0M1125.8,308.7h0M1137.7,328.9h0M1111.8,324.3h0M1107.6,312.0h0M1131.4,321.7h0M1098.9,342.8h0M1125.9,314.8h0M1107.2,337.5h0M1113.4,288.9h0M1100.2,341.2h0M1129.7,310.9h0M1099.1,345.7h0M1129.0,282.8h0M1112.2,322.4h0M1127.8,433.7h0M1089.4,353.1h0M1095.5,328.7h0M1098.2,348.1h0M1090.1,359.9h0M1090.2,346.9h0M1097.4,332.1h0M1099.5,328.6h0M1098.2,328.2h0M1098.5,332.4h0M1095.2,347.7h0M1093.2,355.3h0M1103.6,385.3h0M1089.7,337.0h0M1125.9,436.9h0M1096.6,327.5h0M1094.3,363.1h0M1100.4,328.3h0M1131.7,436.4h0M1098.3,345.8h0M1119.6,429.5h0M1101.5,363.9h0M1097.5,318.4h0M1100.3,319.8h0M1100.2,335.6h0M1095.8,348.3h0M1100.1,341.5h0M1100.2,336.7h0M1097.4,326.1h0M1100.1,337.7h0M1095.1,348.2h0M1092.1,339.9h0M1091.2,354.4h0M1099.5,350.2h0M1099.1,357.4h0M1097.3,354.2h0M1099.7,324.3h0M1097.0,330.0h0M1095.5,333.3h0M1098.3,339.7h0M1100.3,332.9h0M1096.6,332.6h0M1085.0,368.4h0M1095.6,343.7h0M1100.5,336.1h0M1095.7,331.5h0M1096.5,322.3h0M1097.9,346.6h0M1100.1,393.6h0M1097.4,324.1h0M1095.1,339.8h0M1099.2,318.2h0M1092.2,370.3h0M1123.1,431.2h0M1099.5,375.5h0M1097.8,318.1h0M1098.1,321.4h0M1092.7,343.3h0M1095.9,318.8h0M1100.1,330.6h0M1083.6,334.4h0M1095.8,330.4h0M1096.9,343.1h0M1087.6,345.3h0M1099.0,335.0h0M1123.0,434.7h0M1099.0,336.5h0M1100.5,357.6h0M1096.9,376.2h0M1091.1,333.0h0M1098.7,338.4h0M1099.2,321.9h0M1104.6,394.6h0M1095.4,330.9h0M1098.2,331.9h0M1105.8,395.3h0M1098.7,318.7h0M1088.6,318.8h0M1098.7,325.8h0M1099.9,344.6h0M1100.2,330.2h0M1101.4,358.0h0M1101.8,366.1h0M1095.9,363.3h0M1099.3,330.2h0M1102.9,375.0h0M1099.7,337.8h0M1096.2,349.3h0M1096.4,352.0h0M1100.8,359.9h0M1101.2,359.0h0M1097.0,321.7h0M1100.0,351.8h0M1096.3,347.9h0M1098.0,329.7h0M1098.8,336.0h0M1101.5,360.3h0M1100.2,316.2h0M1097.2,328.0h0M1101.2,358.3h0M1098.0,346.3h0M1101.2,382.2h0M1096.3,322.8h0M1097.1,345.0h0M1085.8,347.4h0M1096.8,319.3h0M1100.3,319.3h0M1098.7,325.1h0M1098.9,381.8h0M1097.6,338.8h0M1101.9,357.6h0M1101.9,361.6h0M1096.1,349.4h0M1100.2,340.8h0M1131.8,435.4h0M1101.5,358.3h0M1129.2,437.2h0M1098.9,344.0h0M1098.9,345.2h0M1102.1,390.5h0M1100.4,343.1h0M1097.4,349.3h0M1099.7,327.9h0M1097.5,322.0h0M1094.4,327.8h0M1096.2,335.1h0M1100.0,331.7h0M1099.5,357.4h0M1100.3,348.3h0M1099.8,324.2h0M1102.3,385.7h0M1096.7,316.1h0M1106.2,399.2h0M1100.1,327.5h0M1099.2,351.8h0M1092.3,337.7h0M1099.9,325.2h0M1097.8,349.6h0M1092.8,357.3h0M1091.3,335.0h0M1100.2,316.9h0M1100.5,333.8h0M1087.2,331.7h0M1095.4,359.2h0M1098.6,348.1h0M1103.7,381.0h0M1098.9,331.2h0M1095.4,332.7h0M1090.6,343.7h0M1088.0,355.9h0M1117.7,426.8h0M1096.5,320.5h0M1096.5,337.9h0M1099.6,336.7h0M1099.5,327.5h0M1096.5,319.9h0M1101.2,359.6h0M1095.8,342.4h0M1091.8,316.0h0M1097.1,334.4h0M1094.6,342.1h0M1098.7,331.4h0M1089.1,319.9h0M1099.3,321.9h0M1094.7,318.1h0M1099.2,332.9h0M1100.1,322.3h0M1100.4,361.2h0M1099.5,325.3h0M1093.7,335.9h0M1133.1,435.3h0M1095.2,318.4h0M1102.2,361.5h0M1099.9,318.7h0M1099.1,329.5h0M1098.3,337.5h0M1096.3,321.4h0M1097.2,320.3h0M1099.3,345.0h0M1091.3,323.1h0M1100.3,327.2h0M1099.2,377.7h0M1086.9,318.8h0M1100.1,357.2h0M1100.2,356.6h0M1118.9,429.5h0M1095.8,324.5h0M1094.2,342.0h0M1097.3,316.5h0M1096.9,353.6h0M1094.7,336.6h0M1099.5,327.2h0M1132.0,434.8h0M1095.3,321.9h0M1099.5,325.0h0M1098.5,331.4h0M1097.6,334.8h0M1098.5,333.8h0M1088.9,332.4h0M1129.4,435.5h0M1097.7,316.1h0M1099.6,369.4h0M1099.3,352.4h0M1099.4,355.0h0M1125.2,433.4h0M1097.8,321.5h0M1097.3,327.9h0M1097.3,348.8h0M1094.1,330.9h0M1099.5,363.6h0M1086.7,332.9h0M1100.5,364.2h0M1097.1,348.1h0M1093.4,329.6h0M1097.7,339.0h0M1099.6,368.5h0M1092.9,355.8h0M1099.1,316.2h0M1101.6,362.4h0M1090.4,366.2h0M1096.1,335.1h0M1117.8,433.9h0M1097.1,316.2h0M1099.6,356.6h0M1099.6,327.1h0M1097.2,319.5h0M1097.2,344.4h0M1100.0,369.1h0M1099.5,319.5h0M1095.1,361.8h0M1147.6,427.7h0M1147.3,426.8h0M1147.4,395.8h0M1147.2,434.8h0M1148.2,403.4h0M1147.4,381.9h0M1147.6,411.7h0M1147.1,430.9h0M1148.3,392.4h0M1147.3,385.5h0M1147.2,417.4h0M1147.3,402.0h0M1148.4,404.8h0M1147.6,392.6h0M1147.7,414.9h0M1147.8,394.7h0M1147.3,390.3h0M1147.3,411.2h0M1147.1,400.8h0M1147.2,429.5h0M1147.7,424.1h0M1147.4,411.9h0M1147.6,426.8h0M1147.8,401.0h0M1147.7,421.2h0M1148.2,394.5h0M1147.3,391.2h0M1147.7,433.1h0M1148.0,409.6h0M1147.4,411.7h0M1148.2,397.1h0M1148.0,413.3h0M1147.6,436.4h0M1147.9,416.6h0M1148.1,386.6h0M1148.3,419.0h0M1147.9,426.7h0M1147.9,419.7h0M1148.2,431.1h0M1148.4,384.8h0M1148.1,434.3h0M1148.0,401.8h0M1147.2,409.7h0M1148.2,411.5h0M1147.8,427.2h0M1147.4,427.7h0M1148.1,433.1h0M1148.3,407.1h0M1147.4,388.6h0M1148.2,430.6h0M1148.1,423.5h0M1148.3,382.5h0M1148.1,386.8h0M1147.6,407.5h0M1147.3,395.6h0M1148.1,421.9h0M1148.0,410.5h0M1147.2,424.7h0M1148.4,422.3h0M1148.4,432.2h0M1123.0,434.7h0M1125.6,436.6h0M1141.7,436.1h0M1138.2,434.8h0M1125.1,434.6h0M1134.7,433.2h0M1142.0,436.3h0M1142.9,435.0h0M1148.6,434.0h0M1130.4,437.2h0M1136.6,437.0h0M1132.5,435.0h0M1138.3,435.7h0M1138.5,433.2h0M1125.5,436.3h0M1137.9,436.1h0M1127.4,437.0h0M1138.6,435.6h0M1124.7,434.6h0M1132.8,432.5h0M1133.5,433.7h0M1131.1,434.3h0M1141.2,434.4h0M1129.1,434.2h0M1128.6,434.1h0M1144.4,432.5h0M1144.2,432.6h0M1128.5,434.0h0M1132.1,435.8h0M1124.7,434.0h0M1124.9,433.6h0M1147.3,432.2h0M1140.9,433.6h0M1122.5,432.6h0M1126.5,437.1h0M1126.0,432.9h0M1137.5,436.2h0M1126.4,432.8h0M1148.4,433.2h0M1127.0,433.5h0M1143.0,434.5h0M1142.7,433.0h0M1124.6,435.6h0M1147.8,433.2h0M1132.0,433.4h0M1123.9,433.3h0M1146.6,434.0h0M1144.7,434.2h0M1138.8,433.4h0M1123.4,432.6h0M1097.7,173.0h0M1105.1,194.5h0M1107.9,198.7h0M1120.8,229.2h0M1117.5,237.9h0M1123.2,237.9h0M1119.1,241.4h0M1129.8,243.8h0M1098.5,237.5h0M1076.3,292.7h0M1083.7,309.7h0M1086.2,329.8h0M1082.9,347.8h0M1083.7,366.2h0M1081.3,393.6h0M1089.5,394.6h0" stroke="#4682b4" stroke-width="2.3" stroke-linecap="round" fill="none"/>
<rect x="1060.3" y="84.2" width="144.2" height="381.2" fill="none" stroke="#c8c8c8" stroke-width="1.2" />
<rect x="1059.7" y="57.2" width="144.3" height="26.4" fill="#bebebe" />
<rect x="1059.7" y="57.2" width="116.3" height="26.4" fill="#4682b4" />
<text x="1119.3" y="82.0" font-size="26.5" class="d" text-anchor="middle">81</text>
<text x="1188.5" y="79.6" font-size="26.5" class="d" text-anchor="middle">19</text>
<text x="1138.6" y="50.8" font-size="26" class="d" text-anchor="middle">Neuro</text>
<line x1="1066.4" y1="465.4" x2="1066.4" y2="469.9" stroke="#777" stroke-width="1.1" />
<text x="1062.2" y="493.0" font-size="25.2" class="d" text-anchor="middle">–6</text>
<line x1="1099.4" y1="465.4" x2="1099.4" y2="469.9" stroke="#777" stroke-width="1.1" />
<text x="1092.3" y="493.0" font-size="25.2" class="d" text-anchor="middle">–4</text>
<line x1="1132.3" y1="465.4" x2="1132.3" y2="469.9" stroke="#777" stroke-width="1.1" />
<text x="1125.6" y="493.0" font-size="25.2" class="d" text-anchor="middle">–2</text>
<line x1="1165.2" y1="465.4" x2="1165.2" y2="469.9" stroke="#777" stroke-width="1.1" />
<text x="1163.5" y="493.0" font-size="25.2" class="d" text-anchor="middle">0</text>
<line x1="1198.1" y1="465.4" x2="1198.1" y2="469.9" stroke="#777" stroke-width="1.1" />
<text x="1197.6" y="493.0" font-size="25.2" class="d" text-anchor="middle">2</text>
<rect x="1218.5" y="84.2" width="143.9" height="381.2" fill="#fff" />
<line x1="1224.5" y1="84.2" x2="1224.5" y2="465.4" stroke="#e9e9e9" stroke-width="1.1" />
<line x1="1241.0" y1="84.2" x2="1241.0" y2="465.4" stroke="#f4f4f4" stroke-width="0.7" />
<line x1="1257.5" y1="84.2" x2="1257.5" y2="465.4" stroke="#e9e9e9" stroke-width="1.1" />
<line x1="1273.9" y1="84.2" x2="1273.9" y2="465.4" stroke="#f4f4f4" stroke-width="0.7" />
<line x1="1290.4" y1="84.2" x2="1290.4" y2="465.4" stroke="#e9e9e9" stroke-width="1.1" />
<line x1="1306.8" y1="84.2" x2="1306.8" y2="465.4" stroke="#f4f4f4" stroke-width="0.7" />
<line x1="1323.3" y1="84.2" x2="1323.3" y2="465.4" stroke="#e9e9e9" stroke-width="1.1" />
<line x1="1339.8" y1="84.2" x2="1339.8" y2="465.4" stroke="#f4f4f4" stroke-width="0.7" />
<line x1="1356.2" y1="84.2" x2="1356.2" y2="465.4" stroke="#e9e9e9" stroke-width="1.1" />
<line x1="1218.5" y1="447.7" x2="1362.4" y2="447.7" stroke="#e9e9e9" stroke-width="1.1" />
<line x1="1218.5" y1="404.3" x2="1362.4" y2="404.3" stroke="#f4f4f4" stroke-width="0.7" />
<line x1="1218.5" y1="361.0" x2="1362.4" y2="361.0" stroke="#e9e9e9" stroke-width="1.1" />
<line x1="1218.5" y1="317.6" x2="1362.4" y2="317.6" stroke="#f4f4f4" stroke-width="0.7" />
<line x1="1218.5" y1="274.3" x2="1362.4" y2="274.3" stroke="#e9e9e9" stroke-width="1.1" />
<line x1="1218.5" y1="230.9" x2="1362.4" y2="230.9" stroke="#f4f4f4" stroke-width="0.7" />
<line x1="1218.5" y1="187.6" x2="1362.4" y2="187.6" stroke="#e9e9e9" stroke-width="1.1" />
<line x1="1218.5" y1="144.2" x2="1362.4" y2="144.2" stroke="#f4f4f4" stroke-width="0.7" />
<line x1="1218.5" y1="100.9" x2="1362.4" y2="100.9" stroke="#e9e9e9" stroke-width="1.1" />
<path d="M1321.2,444.8h0M1317.5,434.4h0M1319.4,439.7h0M1316.4,440.1h0M1321.0,444.2h0M1319.1,444.4h0M1315.7,443.0h0M1316.1,429.8h0M1312.2,428.1h0M1315.3,431.9h0M1318.1,444.2h0M1321.5,445.3h0M1311.5,419.5h0M1318.5,440.8h0M1322.6,447.2h0M1310.8,428.9h0M1316.4,432.4h0M1319.3,440.5h0M1320.6,446.6h0M1307.7,434.7h0M1312.8,439.9h0M1320.6,445.6h0M1314.6,430.2h0M1321.1,445.3h0M1319.6,440.7h0M1319.5,441.6h0M1322.3,447.2h0M1315.3,444.1h0M1321.8,446.8h0M1318.2,438.6h0M1322.8,447.5h0M1323.0,447.5h0M1317.3,438.0h0M1321.5,445.0h0M1316.7,440.7h0M1316.7,436.2h0M1314.0,426.1h0M1308.5,407.8h0M1316.9,433.3h0M1312.2,425.5h0M1317.2,441.3h0M1308.7,427.2h0M1311.8,434.8h0M1310.1,415.5h0M1319.1,446.1h0M1319.2,438.9h0M1313.3,423.4h0M1319.5,442.7h0M1308.8,429.0h0M1313.5,423.0h0M1313.7,424.3h0M1314.6,443.2h0M1321.2,444.4h0M1322.7,447.6h0M1319.1,439.3h0M1310.7,442.0h0M1315.9,438.1h0M1322.9,447.6h0M1309.2,425.6h0M1316.3,444.9h0M1308.6,418.9h0M1314.3,428.6h0M1320.5,447.3h0M1314.1,428.0h0M1318.5,437.5h0M1321.3,446.8h0M1310.4,441.5h0M1320.5,444.0h0M1322.1,446.3h0M1322.0,446.3h0M1316.3,435.0h0M1312.4,440.2h0M1313.5,424.6h0M1318.3,440.0h0M1308.1,408.6h0M1322.1,447.2h0M1322.9,447.3h0M1322.5,447.4h0M1314.4,431.8h0M1318.5,437.7h0M1320.5,445.2h0M1319.1,445.5h0M1313.3,429.3h0M1314.2,431.9h0M1323.2,447.6h0M1310.5,443.3h0M1315.0,432.8h0M1322.9,447.6h0M1319.6,440.3h0M1321.4,447.4h0M1311.4,427.1h0M1317.5,442.6h0M1311.4,431.0h0M1318.7,440.2h0M1307.9,427.9h0M1316.9,435.4h0M1321.8,445.2h0M1315.3,432.3h0M1314.9,437.3h0M1317.3,437.3h0M1314.3,436.7h0M1322.0,445.9h0M1321.0,445.9h0M1317.6,435.6h0M1321.9,446.2h0M1312.2,439.3h0M1310.9,430.3h0M1317.7,441.8h0M1313.2,439.8h0M1318.6,439.0h0M1310.3,426.3h0M1317.7,443.7h0M1323.3,447.7h0M1316.8,432.0h0M1322.7,447.1h0M1319.9,440.9h0M1321.9,446.3h0M1317.5,442.6h0M1312.9,419.5h0M1320.6,445.5h0M1314.9,434.6h0M1313.5,424.4h0M1312.6,431.4h0M1318.6,441.1h0M1318.4,445.7h0M1323.0,447.5h0M1313.5,433.4h0M1323.3,447.7h0M1322.1,446.9h0M1315.7,440.3h0M1314.8,433.8h0M1319.2,439.4h0M1317.0,432.6h0M1313.7,428.0h0M1315.0,442.1h0M1310.8,423.8h0M1319.0,445.9h0M1316.9,435.5h0M1308.8,426.6h0M1315.7,429.9h0M1319.5,441.2h0M1312.6,424.2h0M1311.9,426.0h0M1322.5,447.2h0M1318.4,446.0h0M1310.7,431.7h0M1315.3,444.0h0M1322.9,447.7h0M1319.4,445.8h0M1310.8,413.1h0M1317.3,443.1h0M1309.0,410.4h0M1307.5,423.8h0M1322.6,447.4h0M1322.0,447.4h0M1322.2,447.4h0M1310.4,435.9h0M1318.2,440.6h0M1322.8,447.2h0M1322.6,447.6h0M1313.8,436.6h0M1321.7,446.5h0M1322.4,446.8h0M1322.2,447.4h0M1314.6,441.3h0M1320.1,444.1h0M1320.6,443.6h0M1321.6,446.4h0M1315.7,431.5h0M1311.7,416.7h0M1320.3,444.1h0M1313.1,429.7h0M1322.9,447.4h0M1309.3,421.4h0M1318.9,444.6h0M1322.1,447.4h0M1314.1,440.7h0M1316.9,441.1h0M1320.1,444.0h0M1319.7,443.7h0M1316.7,432.3h0M1322.1,446.6h0M1320.0,447.1h0M1323.3,447.7h0M1322.2,446.4h0M1310.9,442.4h0M1318.2,439.8h0M1318.4,441.1h0M1321.8,446.4h0M1321.5,445.4h0M1322.1,446.8h0M1321.3,446.7h0M1307.9,412.3h0M1318.8,440.9h0M1314.0,435.6h0M1313.7,427.5h0M1314.9,428.4h0M1317.9,435.8h0M1317.4,437.8h0M1317.0,433.0h0M1316.0,444.0h0M1318.4,445.9h0M1318.5,446.0h0M1321.0,445.1h0M1314.2,445.1h0M1320.1,446.5h0M1320.4,446.8h0M1322.6,447.3h0M1310.1,413.4h0M1318.6,439.3h0M1312.8,427.6h0M1315.3,428.9h0M1318.6,445.7h0M1321.4,446.2h0M1319.8,442.0h0M1317.7,435.5h0M1320.3,446.4h0M1322.0,446.8h0M1321.5,445.0h0M1309.5,439.2h0M1320.8,444.3h0M1322.3,446.5h0M1320.1,446.9h0M1315.9,431.3h0M1319.7,444.6h0M1317.7,444.8h0M1322.0,446.5h0M1315.7,429.6h0M1317.7,446.3h0M1321.0,446.2h0M1311.2,429.0h0M1316.1,431.0h0M1318.3,439.6h0M1310.0,437.9h0M1314.3,430.3h0M1315.6,445.9h0M1321.5,445.7h0M1319.8,445.4h0M1321.3,445.0h0M1318.7,441.8h0M1318.2,441.6h0M1317.5,436.7h0M1322.8,447.4h0M1314.5,432.8h0M1319.5,444.6h0M1314.6,445.4h0M1321.8,446.9h0M1320.1,443.6h0M1315.5,428.6h0M1314.5,445.3h0M1318.9,440.6h0M1310.6,412.5h0M1320.2,441.7h0M1321.9,445.6h0M1316.4,432.7h0M1317.3,438.8h0M1317.6,436.5h0M1322.2,447.4h0M1320.1,446.2h0M1308.4,419.7h0M1320.9,445.1h0M1318.9,440.0h0M1318.6,440.0h0M1319.3,441.5h0M1311.1,428.0h0M1322.2,446.0h0M1314.2,444.0h0M1316.5,439.1h0M1318.5,441.9h0M1321.7,445.4h0M1307.9,422.3h0M1320.1,444.6h0M1320.7,447.3h0M1316.0,433.8h0M1307.0,414.1h0M1317.7,437.0h0M1321.4,444.7h0M1317.6,440.3h0M1321.6,445.6h0M1311.5,418.0h0M1318.3,441.6h0M1318.4,438.3h0M1319.5,444.7h0M1323.0,447.5h0M1312.4,436.6h0M1318.2,440.6h0M1317.6,441.6h0M1307.9,419.7h0M1320.4,447.0h0M1313.9,437.5h0M1314.6,425.4h0M1322.7,447.1h0M1318.7,440.6h0M1322.6,446.9h0M1309.0,439.8h0M1318.1,436.8h0M1317.9,446.0h0M1321.9,445.7h0M1311.4,427.8h0M1322.5,446.9h0M1316.8,441.6h0M1309.2,421.9h0M1321.6,445.2h0M1320.8,444.7h0M1315.6,438.5h0M1319.4,445.1h0M1322.2,447.6h0M1316.6,442.7h0M1316.2,444.9h0M1319.6,440.9h0M1315.5,434.8h0M1310.8,415.8h0M1313.9,431.2h0M1312.0,441.9h0M1322.8,447.3h0M1316.1,438.0h0M1321.4,446.4h0M1322.5,447.5h0M1322.3,447.0h0M1322.6,447.3h0M1309.2,413.7h0M1315.1,430.0h0M1317.3,439.2h0M1315.5,442.9h0M1320.3,442.2h0M1321.5,447.2h0M1313.4,425.3h0M1310.0,440.8h0M1319.5,441.5h0M1322.7,446.9h0M1318.6,439.2h0M1313.3,425.7h0M1318.0,441.0h0M1312.3,430.1h0M1322.2,446.5h0M1309.7,412.6h0M1322.2,447.0h0M1315.9,441.8h0M1323.0,447.3h0M1321.9,447.3h0M1315.5,441.2h0M1312.1,443.9h0M1321.6,446.2h0M1322.5,446.9h0M1313.8,442.7h0M1313.7,440.5h0M1314.9,438.9h0M1318.3,442.3h0M1318.8,445.9h0M1315.1,433.0h0M1308.9,426.1h0M1318.1,439.0h0M1317.8,441.2h0M1322.4,447.0h0M1310.7,421.7h0M1315.8,429.0h0M1323.2,447.6h0M1322.5,447.1h0M1322.6,447.3h0M1308.3,414.6h0M1308.5,442.1h0M1321.0,445.2h0M1318.3,438.4h0M1314.8,428.9h0M1314.4,438.3h0M1318.5,438.6h0M1314.3,428.7h0M1321.3,447.2h0M1311.3,439.2h0M1308.9,415.3h0M1322.9,447.3h0M1320.3,444.2h0M1310.3,430.4h0M1323.2,447.6h0M1310.5,430.0h0M1317.2,441.0h0M1320.5,442.9h0M1318.8,441.6h0M1312.8,425.1h0M1318.2,440.7h0M1307.2,437.2h0M1323.3,447.7h0M1319.0,438.5h0M1323.1,447.7h0M1314.0,429.8h0M1318.6,440.0h0M1322.6,447.1h0M1320.0,446.9h0M1323.2,447.6h0M1317.4,444.8h0M1312.3,427.1h0M1315.8,434.3h0M1320.1,446.4h0M1312.5,441.1h0M1321.8,445.9h0M1321.8,445.2h0M1308.5,406.6h0M1316.1,434.8h0M1317.2,446.1h0M1309.1,417.2h0M1321.7,447.0h0M1322.3,447.2h0M1308.4,421.1h0M1323.0,447.5h0M1320.4,442.2h0M1320.5,443.1h0M1315.8,441.1h0M1320.2,442.8h0M1322.6,447.1h0M1317.0,440.9h0M1319.3,444.3h0M1321.3,444.5h0M1319.0,442.6h0M1310.8,413.8h0M1317.4,442.6h0M1315.4,433.0h0M1311.5,415.6h0M1318.9,439.5h0M1317.2,445.9h0M1321.8,446.7h0M1317.5,434.4h0M1313.8,433.4h0M1318.2,442.9h0M1308.5,416.5h0M1317.6,445.5h0M1312.9,442.6h0M1322.5,446.9h0M1314.1,425.5h0M1319.5,441.6h0M1316.2,443.4h0M1319.8,442.0h0M1323.0,447.6h0M1321.3,444.9h0M1314.1,431.5h0M1320.0,444.5h0M1321.3,447.5h0M1319.5,442.1h0M1322.7,446.9h0M1309.5,422.1h0M1313.4,426.1h0M1319.9,442.4h0M1307.5,434.3h0M1313.0,422.3h0M1316.8,436.9h0M1319.0,443.2h0M1318.0,435.9h0M1316.0,440.3h0M1308.8,434.6h0M1319.3,447.0h0M1322.0,446.5h0M1317.9,445.7h0M1313.2,421.4h0M1315.1,428.4h0M1309.2,431.3h0M1309.3,412.2h0M1307.7,441.3h0M1312.4,427.8h0M1307.0,433.2h0M1322.1,446.3h0M1310.7,427.4h0M1310.6,422.5h0M1313.4,429.4h0M1317.6,437.6h0M1314.2,429.3h0M1322.8,447.3h0M1321.4,444.3h0M1320.4,446.7h0M1313.0,432.5h0M1318.6,444.0h0M1321.4,446.6h0M1314.0,427.5h0M1321.8,446.1h0M1315.9,435.3h0M1322.4,446.9h0M1321.4,447.3h0M1314.9,439.1h0M1309.5,434.3h0M1317.0,440.5h0M1317.2,437.5h0M1314.5,436.9h0M1319.9,446.2h0M1320.7,445.8h0M1315.8,440.9h0M1317.5,442.3h0M1311.1,417.5h0M1320.0,442.7h0M1323.3,447.7h0M1316.9,440.1h0M1321.6,445.3h0M1320.9,445.2h0M1315.4,438.7h0M1312.3,440.2h0M1322.7,447.2h0M1313.6,438.2h0M1326.5,445.6h0M1327.4,445.0h0M1325.3,444.7h0M1323.4,446.9h0M1332.8,439.3h0M1330.2,442.1h0M1336.0,431.9h0M1333.0,434.7h0M1326.3,443.7h0M1329.0,444.0h0M1329.7,439.9h0M1325.8,446.4h0M1338.4,431.9h0M1324.7,445.1h0M1323.4,447.6h0M1324.7,446.3h0M1325.2,444.3h0M1326.8,442.0h0M1324.8,444.9h0M1336.1,434.2h0M1323.7,447.3h0M1326.1,447.2h0M1331.7,439.6h0M1328.7,440.0h0M1325.9,444.3h0M1326.7,446.1h0M1337.0,430.5h0M1330.7,443.0h0M1328.5,444.5h0M1329.4,446.5h0M1329.1,443.2h0M1327.9,440.9h0M1326.2,447.3h0M1326.0,446.1h0M1330.2,443.5h0M1329.2,439.4h0M1324.5,446.6h0M1330.9,439.3h0M1323.5,446.9h0M1325.3,446.7h0M1328.8,442.6h0M1332.5,438.8h0M1326.6,446.0h0M1336.8,431.1h0M1327.8,443.9h0M1332.1,442.8h0M1325.8,443.3h0M1331.2,441.7h0M1324.7,446.8h0M1338.0,432.7h0M1333.9,436.4h0M1333.8,442.9h0M1332.6,439.4h0M1329.5,441.8h0M1335.3,436.9h0M1326.5,445.5h0M1325.3,444.4h0M1325.9,446.3h0M1327.8,445.3h0M1328.8,440.3h0M1330.4,440.7h0M1332.8,445.1h0M1326.9,443.9h0M1335.4,436.2h0M1331.2,437.0h0M1326.1,444.1h0M1327.3,444.0h0M1335.2,433.5h0M1332.0,445.6h0M1328.2,440.6h0M1336.6,437.7h0M1323.7,447.6h0M1326.3,444.0h0M1336.5,435.7h0M1327.8,446.8h0M1324.1,447.6h0M1335.8,438.6h0M1333.5,435.3h0M1325.5,445.0h0M1333.3,443.2h0M1327.8,442.3h0M1324.1,446.8h0M1325.1,446.0h0M1329.6,438.5h0M1334.5,444.7h0M1324.1,446.1h0M1329.4,439.6h0M1323.9,447.5h0M1336.5,431.7h0M1328.7,444.9h0M1326.6,445.9h0M1333.1,439.7h0M1329.7,444.5h0M1336.3,434.9h0M1330.8,440.1h0M1334.7,441.8h0M1331.0,440.8h0M1327.9,442.3h0M1332.5,439.3h0M1323.5,446.8h0M1324.9,444.8h0M1325.1,446.3h0M1324.8,446.9h0M1325.3,446.0h0M1330.9,438.3h0M1328.6,440.5h0M1324.7,445.7h0M1325.3,445.0h0M1324.3,446.8h0M1328.9,440.0h0M1329.5,441.9h0M1325.9,443.9h0M1325.2,444.6h0M1330.6,440.2h0M1330.4,442.0h0M1329.7,443.0h0M1326.3,444.0h0M1324.5,447.6h0M1323.6,447.5h0M1331.4,441.5h0M1331.6,436.2h0M1326.4,447.1h0M1333.6,436.8h0M1324.7,447.3h0M1326.2,443.8h0M1331.5,445.2h0M1338.6,430.5h0M1328.1,441.5h0M1326.7,444.1h0M1323.3,446.8h0M1325.1,445.2h0M1334.6,437.7h0M1329.9,441.8h0M1327.4,443.5h0M1327.3,442.0h0M1332.1,444.1h0M1330.6,439.1h0M1335.5,438.0h0M1326.7,446.2h0M1337.9,436.5h0M1326.2,442.7h0M1326.5,442.5h0M1331.8,436.0h0M1326.3,446.8h0M1325.7,444.0h0M1329.2,440.2h0M1332.5,444.9h0M1333.0,440.8h0M1323.8,446.5h0M1323.9,447.3h0M1327.4,446.9h0M1330.3,441.5h0M1337.9,434.1h0M1324.4,447.6h0M1337.1,432.9h0M1324.1,446.3h0M1329.1,443.4h0M1324.8,445.9h0M1298.6,440.8h0M1308.5,404.3h0M1310.1,416.5h0M1309.3,398.5h0" stroke="#bebebe" stroke-width="2.3" stroke-linecap="round" fill="none"/>
<path d="M1274.7,317.6h0M1285.4,318.7h0M1285.9,324.9h0M1280.5,343.7h0M1298.6,343.7h0M1287.1,350.6h0M1289.6,353.4h0M1300.3,355.1h0M1283.8,360.0h0M1302.2,361.0h0M1290.4,366.5h0M1289.9,373.1h0M1304.4,371.4h0M1304.7,373.8h0M1280.2,377.3h0M1294.5,377.3h0M1297.8,377.3h0M1303.5,381.1h0M1291.2,384.6h0M1303.2,387.0h0M1260.8,391.2h0M1283.8,392.2h0M1276.9,395.7h0M1283.5,396.7h0M1287.9,400.9h0M1287.1,413.7h0M1288.4,420.3h0M1301.7,430.2h0M1299.9,410.5h0M1302.0,411.0h0M1303.0,411.9h0M1299.4,414.6h0M1304.8,411.8h0M1299.4,423.5h0M1299.8,428.8h0M1298.9,412.9h0M1298.6,416.1h0M1300.0,428.9h0M1304.2,412.0h0M1301.5,411.2h0M1299.9,412.0h0M1306.8,419.4h0M1304.1,404.7h0M1296.5,424.5h0M1306.2,416.5h0M1303.7,427.7h0M1304.8,408.5h0M1302.3,413.1h0M1301.9,418.6h0M1300.4,405.2h0M1295.4,419.9h0M1291.9,428.7h0M1304.0,407.8h0M1300.4,422.1h0M1299.9,409.4h0M1295.6,420.0h0M1298.7,418.7h0M1299.3,422.9h0M1305.6,389.6h0M1303.2,434.0h0M1305.5,393.8h0M1302.3,426.3h0M1302.7,407.1h0M1302.8,417.4h0M1305.2,404.1h0M1305.7,430.0h0M1300.5,418.6h0M1306.5,416.7h0M1304.3,430.1h0M1304.2,417.4h0M1304.4,422.0h0M1306.0,424.7h0M1300.4,430.0h0M1303.8,427.9h0M1297.0,422.9h0M1302.7,416.8h0M1295.8,413.5h0M1304.0,432.9h0M1303.3,429.5h0M1305.3,395.3h0M1300.8,398.8h0M1300.7,437.0h0M1303.4,424.6h0M1305.1,402.4h0M1298.0,406.7h0M1302.4,409.5h0M1291.6,428.5h0M1304.2,400.1h0M1302.6,405.4h0M1305.4,427.8h0M1305.2,389.8h0M1302.5,410.9h0M1301.5,417.3h0M1295.5,427.9h0M1296.1,433.4h0M1300.9,427.3h0M1303.3,431.0h0M1298.6,427.6h0M1306.4,408.0h0M1300.4,400.2h0M1303.5,434.2h0M1306.3,386.9h0M1296.4,436.4h0M1298.9,416.2h0M1306.5,412.3h0M1304.9,394.0h0M1293.5,421.3h0M1299.2,434.4h0M1304.8,403.2h0M1298.6,414.8h0M1300.5,429.2h0M1305.5,428.3h0M1304.9,389.1h0M1305.0,430.6h0M1294.0,429.2h0M1301.0,398.4h0M1305.8,425.0h0M1302.6,432.5h0M1306.4,400.9h0M1303.0,406.2h0M1300.7,433.8h0M1297.9,404.6h0M1303.6,436.4h0M1300.9,404.1h0M1299.2,402.3h0M1306.3,434.4h0M1294.9,427.1h0M1304.7,415.8h0M1301.0,404.5h0M1304.9,389.3h0M1306.2,395.3h0M1301.4,406.8h0M1303.1,396.0h0M1298.1,408.9h0M1303.4,433.4h0M1303.0,398.6h0M1298.6,428.1h0M1296.6,415.2h0M1303.0,436.2h0M1305.0,428.7h0M1305.0,396.6h0M1297.6,410.9h0M1300.4,399.6h0M1290.8,430.0h0M1298.1,429.1h0M1302.1,412.2h0M1303.8,399.3h0M1301.3,436.9h0M1300.3,426.4h0M1305.3,434.0h0M1301.3,433.3h0M1306.0,416.5h0M1305.7,397.1h0M1304.5,433.3h0M1301.0,402.9h0M1305.7,391.6h0M1306.4,420.2h0M1301.6,402.9h0M1298.0,413.3h0M1306.3,427.2h0M1295.2,428.4h0M1296.5,411.9h0M1306.2,411.0h0M1306.0,422.6h0M1298.0,436.0h0M1300.8,417.5h0M1297.3,410.6h0M1297.1,409.6h0M1306.5,404.4h0M1301.1,415.3h0M1303.3,407.7h0M1303.0,397.0h0M1306.5,428.9h0M1301.0,422.6h0M1304.7,405.8h0M1305.1,420.2h0" stroke="#4682b4" stroke-width="2.3" stroke-linecap="round" fill="none"/>
<path d="M1341.4,431.7h0" stroke="#e8262a" stroke-width="2.3" stroke-linecap="round" fill="none"/>
<rect x="1218.5" y="84.2" width="143.9" height="381.2" fill="none" stroke="#c8c8c8" stroke-width="1.2" />
<rect x="1217.4" y="57.2" width="143.4" height="26.4" fill="#bebebe" />
<rect x="1217.4" y="57.2" width="5.6" height="26.4" fill="#4682b4" />
<text x="1218.3" y="80.5" font-size="26.5" class="d" text-anchor="middle">4</text>
<text x="1290.7" y="80.5" font-size="26.5" class="d" text-anchor="middle">96</text>
<text x="1289.6" y="50.8" font-size="26" class="d" text-anchor="middle">Pancellular</text>
<line x1="1224.5" y1="465.4" x2="1224.5" y2="469.9" stroke="#777" stroke-width="1.1" />
<text x="1219.5" y="493.0" font-size="25.2" class="d" text-anchor="middle">–6</text>
<line x1="1257.5" y1="465.4" x2="1257.5" y2="469.9" stroke="#777" stroke-width="1.1" />
<text x="1251.2" y="493.0" font-size="25.2" class="d" text-anchor="middle">–4</text>
<line x1="1290.4" y1="465.4" x2="1290.4" y2="469.9" stroke="#777" stroke-width="1.1" />
<text x="1284.7" y="493.0" font-size="25.2" class="d" text-anchor="middle">–2</text>
<line x1="1323.3" y1="465.4" x2="1323.3" y2="469.9" stroke="#777" stroke-width="1.1" />
<text x="1323.0" y="493.0" font-size="25.2" class="d" text-anchor="middle">0</text>
<line x1="1356.2" y1="465.4" x2="1356.2" y2="469.9" stroke="#777" stroke-width="1.1" />
<text x="1357.3" y="493.0" font-size="25.2" class="d" text-anchor="middle">2</text>
<line x1="897.8" y1="447.7" x2="902.3" y2="447.7" stroke="#777" stroke-width="1.1" />
<text x="891.0" y="457.0" font-size="26.1" class="d" text-anchor="end">0</text>
<line x1="897.8" y1="361.0" x2="902.3" y2="361.0" stroke="#777" stroke-width="1.1" />
<text x="891.0" y="370.3" font-size="26.1" class="d" text-anchor="end">25</text>
<line x1="897.8" y1="274.3" x2="902.3" y2="274.3" stroke="#777" stroke-width="1.1" />
<text x="891.0" y="283.6" font-size="26.1" class="d" text-anchor="end">50</text>
<line x1="897.8" y1="187.6" x2="902.3" y2="187.6" stroke="#777" stroke-width="1.1" />
<text x="891.0" y="196.9" font-size="26.1" class="d" text-anchor="end">75</text>
<line x1="897.8" y1="100.9" x2="902.3" y2="100.9" stroke="#777" stroke-width="1.1" />
<text x="891.0" y="110.2" font-size="26.1" class="d" text-anchor="end">100</text>
<text x="1126.3" y="526.0" font-size="23.7" class="d" text-anchor="middle">log2FC(H3K27ac)</text>
<text x="826.8" y="276.0" font-size="24.2" class="d" text-anchor="middle" transform="rotate(-90 826.8 276.0)">-log(padj)</text>
<text transform="translate(1438.5 30.8) scale(0.95 1)" font-size="43" font-weight="bold">c</text>
<text x="1533.0" y="46.4" font-size="25" class="d" text-anchor="middle" font-weight="bold" fill="#0b8a0b">Neuronal</text>
<text x="1533.0" y="77.9" font-size="25" class="d" text-anchor="middle" font-weight="bold" fill="#0b8a0b">Enhancers</text>
<text x="1533.0" y="106.8" font-size="25" class="d" text-anchor="middle" font-weight="bold" fill="#0b8a0b" textLength="65" lengthAdjust="spacing">1284</text>
<rect x="1468.1" y="114.3" width="135.7" height="77.5" fill="#fff" stroke="#000" stroke-width="3.1" />
<text x="1535.8" y="141.8" font-size="25.4" class="d" text-anchor="middle">Intron</text>
<text x="1535.8" y="173.3" font-size="25.4" class="d" text-anchor="middle">Intergenic</text>
<text x="1664.9" y="143.6" font-size="25" class="d" text-anchor="middle" font-weight="bold" fill="#0b8a0b" textLength="49" lengthAdjust="spacing">281</text>
<rect x="1629.0" y="150.3" width="72.0" height="42.1" fill="#fff" stroke="#000" stroke-width="1.5" />
<text x="1664.9" y="180.3" font-size="25.4" class="d" text-anchor="middle">TSS</text>
<line x1="1548.4" y1="221.7" x2="1548.4" y2="241.6" stroke="#000" stroke-width="1.6" />
<path d="M1548.4,197.7 C1550.9,209.7 1554.4,221.7 1558.6,232.2 L1548.4,222.7 L1538.2,232.2 C1542.4,221.7 1545.9,209.7 1548.4,197.7Z" fill="#000" />
<line x1="1664.9" y1="221.7" x2="1664.9" y2="241.6" stroke="#000" stroke-width="1.6" />
<path d="M1664.9,197.7 C1667.4,209.7 1670.9,221.7 1675.1,232.2 L1664.9,222.7 L1654.7,232.2 C1658.9,221.7 1662.4,209.7 1664.9,197.7Z" fill="#000" />
<rect x="1478.5" y="242.7" width="125.1" height="42.3" fill="#fff" stroke="#000" stroke-width="2.1" />
<text x="1540.7" y="273.0" font-size="25.4" class="d" text-anchor="middle" textLength="122.5" lengthAdjust="spacing">H3K4me1</text>
<rect x="1610.3" y="242.7" width="125.1" height="42.3" fill="#fff" stroke="#000" stroke-width="2.1" />
<text x="1672.9" y="273.0" font-size="25.4" class="d" text-anchor="middle" textLength="122.5" lengthAdjust="spacing">H3K4me3</text>
<line x1="1541.0" y1="313.7" x2="1541.0" y2="333.8" stroke="#000" stroke-width="1.6" />
<path d="M1541.0,289.7 C1543.5,301.7 1547.0,313.7 1551.2,324.2 L1541.0,314.7 L1530.8,324.2 C1535.0,313.7 1538.5,301.7 1541.0,289.7Z" fill="#000" />
<line x1="1672.9" y1="313.7" x2="1672.9" y2="333.8" stroke="#000" stroke-width="1.6" />
<path d="M1672.9,289.7 C1675.4,301.7 1678.9,313.7 1683.1,324.2 L1672.9,314.7 L1662.7,324.2 C1666.9,313.7 1670.4,301.7 1672.9,289.7Z" fill="#000" />
<rect x="1539.6" y="335.1" width="136.1" height="42.1" fill="#fff" stroke="#000" stroke-width="2.1" />
<text x="1607.5" y="365.8" font-size="25.4" class="d" text-anchor="middle">H3K27ac</text>
<line x1="1607.5" y1="405.4" x2="1607.5" y2="424.5" stroke="#000" stroke-width="1.6" />
<path d="M1607.5,381.4 C1610.0,393.4 1613.5,405.4 1617.7,415.9 L1607.5,406.4 L1597.3,415.9 C1601.5,405.4 1605.0,393.4 1607.5,381.4Z" fill="#000" />
<rect x="1517.2" y="429.8" width="180.8" height="80.4" fill="#fff" stroke="#000" stroke-width="3.2" />
<text x="1606.4" y="468.0" font-size="25" class="d" text-anchor="middle" font-weight="bold" fill="#0b8a0b" textLength="75" lengthAdjust="spacing">Neuro</text>
<text x="1606.4" y="503.0" font-size="25.4" class="d" text-anchor="middle" textLength="162" lengthAdjust="spacing">KAT3 + ATAC</text>
<text x="1839.8" y="106.8" font-size="25" class="d" text-anchor="middle" font-weight="bold" fill="#ff8c1a" textLength="50" lengthAdjust="spacing">650</text>
<rect x="1760.1" y="115.0" width="135.3" height="77.7" fill="#fff" stroke="#000" stroke-width="3.1" />
<text x="1827.6" y="144.6" font-size="25.4" class="d" text-anchor="middle">Intron</text>
<text x="1827.6" y="176.1" font-size="25.4" class="d" text-anchor="middle">Intergenic</text>
<text x="1954.6" y="139.4" font-size="25" class="d" text-anchor="middle" font-weight="bold" fill="#ff8c1a" textLength="66" lengthAdjust="spacing">2833</text>
<rect x="1922.0" y="148.9" width="71.9" height="42.5" fill="#fff" stroke="#000" stroke-width="1.5" />
<text x="1958.0" y="178.5" font-size="25.4" class="d" text-anchor="middle">TSS</text>
<line x1="1840.9" y1="221.7" x2="1840.9" y2="240.5" stroke="#000" stroke-width="1.6" />
<path d="M1840.9,197.7 C1843.4,209.7 1846.9,221.7 1851.1,232.2 L1840.9,222.7 L1830.7,232.2 C1834.9,221.7 1838.4,209.7 1840.9,197.7Z" fill="#000" />
<line x1="1957.4" y1="221.7" x2="1957.4" y2="240.5" stroke="#000" stroke-width="1.6" />
<path d="M1957.4,197.7 C1959.9,209.7 1963.4,221.7 1967.6,232.2 L1957.4,222.7 L1947.2,232.2 C1951.4,221.7 1954.9,209.7 1957.4,197.7Z" fill="#000" />
<rect x="1763.6" y="242.7" width="125.1" height="42.3" fill="#fff" stroke="#000" stroke-width="2.1" />
<text x="1825.8" y="273.0" font-size="25.4" class="d" text-anchor="middle" textLength="122.5" lengthAdjust="spacing">H3K4me1</text>
<rect x="1892.8" y="242.7" width="125.6" height="42.3" fill="#fff" stroke="#000" stroke-width="2.1" />
<text x="1955.3" y="273.0" font-size="25.4" class="d" text-anchor="middle" textLength="122.5" lengthAdjust="spacing">H3K4me3</text>
<line x1="1825.8" y1="313.7" x2="1825.8" y2="333.8" stroke="#000" stroke-width="1.6" />
<path d="M1825.8,289.7 C1828.3,301.7 1831.8,313.7 1836.0,324.2 L1825.8,314.7 L1815.6,324.2 C1819.8,313.7 1823.3,301.7 1825.8,289.7Z" fill="#000" />
<line x1="1955.3" y1="313.7" x2="1955.3" y2="333.8" stroke="#000" stroke-width="1.6" />
<path d="M1955.3,289.7 C1957.8,301.7 1961.3,313.7 1965.5,324.2 L1955.3,314.7 L1945.1,324.2 C1949.3,313.7 1952.8,301.7 1955.3,289.7Z" fill="#000" />
<rect x="1822.6" y="335.1" width="135.7" height="42.1" fill="#fff" stroke="#000" stroke-width="2.1" />
<text x="1890.6" y="365.8" font-size="25.4" class="d" text-anchor="middle">H3K27ac</text>
<line x1="1890.6" y1="405.4" x2="1890.6" y2="424.5" stroke="#000" stroke-width="1.6" />
<path d="M1890.6,381.4 C1893.1,393.4 1896.6,405.4 1900.8,415.9 L1890.6,406.4 L1880.4,415.9 C1884.6,405.4 1888.1,393.4 1890.6,381.4Z" fill="#000" />
<rect x="1800.2" y="429.8" width="180.6" height="80.4" fill="#fff" stroke="#000" stroke-width="3.2" />
<text x="1889.5" y="469.0" font-size="25" class="d" text-anchor="middle" font-weight="bold" fill="#ff8c1a" textLength="136" lengthAdjust="spacing">Pancellular</text>
<text x="1889.5" y="503.0" font-size="25.4" class="d" text-anchor="middle" textLength="162" lengthAdjust="spacing">KAT3 + ATAC</text>
<text transform="translate(0.5 616.3) scale(0.95 1)" font-size="43" font-weight="bold">d</text>
<rect x="115.2" y="616.5" width="125.0" height="9.0" fill="#000" />
<text x="254.2" y="628.6" font-size="25.8" class="d">Control</text>
<rect x="394.8" y="616.5" width="29.7" height="9.0" fill="#000" />
<rect x="434.7" y="616.5" width="29.5" height="9.0" fill="#000" />
<rect x="474.6" y="616.5" width="30.1" height="9.0" fill="#000" />
<text x="516.9" y="628.6" font-size="25.8" class="d">dKAT3</text>
<rect x="86.7" y="680.1" width="111.5" height="168.1" fill="#fff" stroke="#9a9a9a" stroke-width="1" />
<line x1="86.7" y1="848.2" x2="86.7" y2="851.7" stroke="#777" stroke-width="1" />
<line x1="142.4" y1="848.2" x2="142.4" y2="851.7" stroke="#777" stroke-width="1" />
<line x1="198.2" y1="848.2" x2="198.2" y2="851.7" stroke="#777" stroke-width="1" />
<line x1="83.2" y1="680.1" x2="86.7" y2="680.1" stroke="#777" stroke-width="1" />
<text x="75.3" y="689.3" font-size="26" text-anchor="end">3</text>
<line x1="83.2" y1="736.1" x2="86.7" y2="736.1" stroke="#777" stroke-width="1" />
<text x="75.3" y="745.3" font-size="26" text-anchor="end">2</text>
<line x1="83.2" y1="792.2" x2="86.7" y2="792.2" stroke="#777" stroke-width="1" />
<text x="75.3" y="801.4" font-size="26" text-anchor="end">1</text>
<line x1="83.2" y1="848.2" x2="86.7" y2="848.2" stroke="#777" stroke-width="1" />
<text x="75.3" y="857.4" font-size="26" text-anchor="end">0</text>
<path d="M86.7,840.2 L88.1,840.2 L89.5,840.2 L90.9,840.1 L92.3,840.1 L93.7,840.0 L95.1,840.0 L96.5,839.9 L97.8,839.9 L99.2,839.8 L100.6,839.7 L102.0,839.6 L103.4,839.6 L104.8,839.5 L106.2,839.4 L107.6,839.3 L109.0,839.1 L110.4,839.0 L111.8,838.8 L113.2,838.6 L114.6,838.4 L116.0,838.2 L117.4,838.0 L118.8,837.7 L120.2,837.3 L121.5,836.9 L122.9,836.5 L124.3,836.0 L125.7,835.4 L127.1,834.7 L128.5,833.9 L129.9,833.0 L131.3,832.0 L132.7,830.8 L134.1,829.4 L135.5,828.0 L136.9,826.6 L138.3,825.2 L139.7,824.0 L141.1,823.3 L142.4,823.0 L143.8,823.3 L145.2,824.0 L146.6,825.2 L148.0,826.6 L149.4,828.0 L150.8,829.4 L152.2,830.8 L153.6,832.0 L155.0,833.0 L156.4,833.9 L157.8,834.7 L159.2,835.4 L160.6,836.0 L162.0,836.5 L163.4,836.9 L164.8,837.3 L166.1,837.7 L167.5,838.0 L168.9,838.2 L170.3,838.4 L171.7,838.6 L173.1,838.8 L174.5,839.0 L175.9,839.1 L177.3,839.3 L178.7,839.4 L180.1,839.5 L181.5,839.6 L182.9,839.6 L184.3,839.7 L185.7,839.8 L187.1,839.9 L188.4,839.9 L189.8,840.0 L191.2,840.0 L192.6,840.1 L194.0,840.1 L195.4,840.2 L196.8,840.2 L198.2,840.2" fill="none" stroke="#1e8c1e" stroke-width="3.6" clip-path="url(#cd00)" stroke-linejoin="round" stroke-dasharray="5.2 3"/>
<path d="M86.7,836.0 L88.1,835.7 L89.5,835.4 L90.9,835.0 L92.3,834.6 L93.7,834.2 L95.1,833.8 L96.5,833.4 L97.8,832.9 L99.2,832.3 L100.6,831.8 L102.0,831.2 L103.4,830.5 L104.8,829.8 L106.2,829.0 L107.6,828.1 L109.0,827.2 L110.4,826.1 L111.8,825.0 L113.2,823.8 L114.6,822.4 L116.0,820.9 L117.4,819.2 L118.8,817.3 L120.2,815.2 L121.5,812.9 L122.9,810.2 L124.3,807.2 L125.7,803.7 L127.1,799.7 L128.5,795.1 L129.9,789.8 L131.3,783.5 L132.7,776.3 L134.1,767.9 L135.5,758.5 L136.9,748.2 L138.3,737.8 L139.7,728.4 L141.1,721.7 L142.4,719.3 L143.8,721.7 L145.2,728.4 L146.6,737.8 L148.0,748.2 L149.4,758.5 L150.8,767.9 L152.2,776.3 L153.6,783.5 L155.0,789.8 L156.4,795.1 L157.8,799.7 L159.2,803.7 L160.6,807.2 L162.0,810.2 L163.4,812.9 L164.8,815.2 L166.1,817.3 L167.5,819.2 L168.9,820.9 L170.3,822.4 L171.7,823.8 L173.1,825.0 L174.5,826.1 L175.9,827.2 L177.3,828.1 L178.7,829.0 L180.1,829.8 L181.5,830.5 L182.9,831.2 L184.3,831.8 L185.7,832.3 L187.1,832.9 L188.4,833.4 L189.8,833.8 L191.2,834.2 L192.6,834.6 L194.0,835.0 L195.4,835.4 L196.8,835.7 L198.2,836.0" fill="none" stroke="#1e8c1e" stroke-width="3.6" clip-path="url(#cd00)" stroke-linejoin="round"/>
<text x="145.3" y="669.2" font-size="26" text-anchor="middle">CBP</text>
<rect x="236.5" y="680.1" width="111.1" height="168.1" fill="#fff" stroke="#9a9a9a" stroke-width="1" />
<line x1="236.5" y1="848.2" x2="236.5" y2="851.7" stroke="#777" stroke-width="1" />
<line x1="292.1" y1="848.2" x2="292.1" y2="851.7" stroke="#777" stroke-width="1" />
<line x1="347.6" y1="848.2" x2="347.6" y2="851.7" stroke="#777" stroke-width="1" />
<line x1="233.0" y1="680.1" x2="236.5" y2="680.1" stroke="#777" stroke-width="1" />
<text x="229.0" y="689.3" font-size="26" text-anchor="end">2</text>
<line x1="233.0" y1="764.2" x2="236.5" y2="764.2" stroke="#777" stroke-width="1" />
<text x="229.0" y="773.4" font-size="26" text-anchor="end">1</text>
<line x1="233.0" y1="848.2" x2="236.5" y2="848.2" stroke="#777" stroke-width="1" />
<text x="229.0" y="857.4" font-size="26" text-anchor="end">0</text>
<path d="M236.5,838.1 L237.9,838.1 L239.3,838.1 L240.7,838.0 L242.1,838.0 L243.4,837.9 L244.8,837.9 L246.2,837.8 L247.6,837.7 L249.0,837.6 L250.4,837.6 L251.8,837.5 L253.2,837.4 L254.6,837.3 L255.9,837.1 L257.3,837.0 L258.7,836.9 L260.1,836.7 L261.5,836.5 L262.9,836.3 L264.3,836.1 L265.7,835.8 L267.1,835.5 L268.4,835.1 L269.8,834.8 L271.2,834.3 L272.6,833.8 L274.0,833.2 L275.4,832.5 L276.8,831.7 L278.2,830.8 L279.6,829.7 L280.9,828.4 L282.3,827.1 L283.7,825.5 L285.1,823.8 L286.5,822.1 L287.9,820.5 L289.3,819.2 L290.7,818.3 L292.1,817.9 L293.4,818.3 L294.8,819.2 L296.2,820.5 L297.6,822.1 L299.0,823.8 L300.4,825.5 L301.8,827.1 L303.2,828.4 L304.5,829.7 L305.9,830.8 L307.3,831.7 L308.7,832.5 L310.1,833.2 L311.5,833.8 L312.9,834.3 L314.3,834.8 L315.7,835.1 L317.0,835.5 L318.4,835.8 L319.8,836.1 L321.2,836.3 L322.6,836.5 L324.0,836.7 L325.4,836.9 L326.8,837.0 L328.2,837.1 L329.5,837.3 L330.9,837.4 L332.3,837.5 L333.7,837.6 L335.1,837.6 L336.5,837.7 L337.9,837.8 L339.3,837.9 L340.7,837.9 L342.0,838.0 L343.4,838.0 L344.8,838.1 L346.2,838.1 L347.6,838.1" fill="none" stroke="#1e8c1e" stroke-width="3.6" clip-path="url(#cd01)" stroke-linejoin="round" stroke-dasharray="5.2 3"/>
<path d="M236.5,832.9 L237.9,832.6 L239.3,832.2 L240.7,831.9 L242.1,831.5 L243.4,831.1 L244.8,830.7 L246.2,830.2 L247.6,829.7 L249.0,829.1 L250.4,828.5 L251.8,827.9 L253.2,827.2 L254.6,826.5 L255.9,825.6 L257.3,824.8 L258.7,823.8 L260.1,822.7 L261.5,821.6 L262.9,820.3 L264.3,818.9 L265.7,817.3 L267.1,815.6 L268.4,813.7 L269.8,811.5 L271.2,809.1 L272.6,806.3 L274.0,803.2 L275.4,799.7 L276.8,795.5 L278.2,790.8 L279.6,785.2 L280.9,778.6 L282.3,770.9 L283.7,761.8 L285.1,751.3 L286.5,739.7 L287.9,727.6 L289.3,716.4 L290.7,708.3 L292.1,705.3 L293.4,708.3 L294.8,716.4 L296.2,727.6 L297.6,739.7 L299.0,751.3 L300.4,761.8 L301.8,770.9 L303.2,778.6 L304.5,785.2 L305.9,790.8 L307.3,795.5 L308.7,799.7 L310.1,803.2 L311.5,806.3 L312.9,809.1 L314.3,811.5 L315.7,813.7 L317.0,815.6 L318.4,817.3 L319.8,818.9 L321.2,820.3 L322.6,821.6 L324.0,822.7 L325.4,823.8 L326.8,824.8 L328.2,825.6 L329.5,826.5 L330.9,827.2 L332.3,827.9 L333.7,828.5 L335.1,829.1 L336.5,829.7 L337.9,830.2 L339.3,830.7 L340.7,831.1 L342.0,831.5 L343.4,831.9 L344.8,832.2 L346.2,832.6 L347.6,832.9" fill="none" stroke="#1e8c1e" stroke-width="3.6" clip-path="url(#cd01)" stroke-linejoin="round"/>
<text x="292.2" y="669.2" font-size="26" text-anchor="middle">P300</text>
<rect x="405.8" y="680.1" width="111.5" height="168.1" fill="#fff" stroke="#9a9a9a" stroke-width="1" />
<line x1="405.8" y1="848.2" x2="405.8" y2="851.7" stroke="#777" stroke-width="1" />
<line x1="461.5" y1="848.2" x2="461.5" y2="851.7" stroke="#777" stroke-width="1" />
<line x1="517.3" y1="848.2" x2="517.3" y2="851.7" stroke="#777" stroke-width="1" />
<line x1="402.3" y1="680.1" x2="405.8" y2="680.1" stroke="#777" stroke-width="1" />
<text x="396.8" y="689.3" font-size="26" text-anchor="end">1.5</text>
<line x1="402.3" y1="736.1" x2="405.8" y2="736.1" stroke="#777" stroke-width="1" />
<text x="396.8" y="745.3" font-size="26" text-anchor="end">1.0</text>
<line x1="402.3" y1="792.2" x2="405.8" y2="792.2" stroke="#777" stroke-width="1" />
<text x="396.8" y="801.4" font-size="26" text-anchor="end">0.5</text>
<line x1="402.3" y1="848.2" x2="405.8" y2="848.2" stroke="#777" stroke-width="1" />
<text x="396.8" y="857.4" font-size="26" text-anchor="end">0</text>
<path d="M405.8,837.6 L407.2,837.4 L408.6,837.3 L410.0,837.1 L411.4,837.0 L412.8,836.8 L414.2,836.6 L415.6,836.4 L416.9,836.2 L418.3,836.0 L419.7,835.7 L421.1,835.4 L422.5,835.1 L423.9,834.8 L425.3,834.5 L426.7,834.1 L428.1,833.7 L429.5,833.2 L430.9,832.7 L432.3,832.1 L433.7,831.5 L435.1,830.8 L436.5,830.0 L437.9,829.1 L439.2,828.1 L440.6,827.0 L442.0,825.7 L443.4,824.2 L444.8,822.5 L446.2,820.5 L447.6,818.0 L449.0,815.1 L450.4,811.5 L451.8,807.1 L453.2,801.4 L454.6,794.3 L456.0,785.3 L457.4,774.5 L458.8,763.0 L460.2,753.4 L461.5,749.6 L462.9,753.4 L464.3,763.0 L465.7,774.5 L467.1,785.3 L468.5,794.3 L469.9,801.4 L471.3,807.1 L472.7,811.5 L474.1,815.1 L475.5,818.0 L476.9,820.5 L478.3,822.5 L479.7,824.2 L481.1,825.7 L482.5,827.0 L483.8,828.1 L485.2,829.1 L486.6,830.0 L488.0,830.8 L489.4,831.5 L490.8,832.1 L492.2,832.7 L493.6,833.2 L495.0,833.7 L496.4,834.1 L497.8,834.5 L499.2,834.8 L500.6,835.1 L502.0,835.4 L503.4,835.7 L504.8,836.0 L506.1,836.2 L507.5,836.4 L508.9,836.6 L510.3,836.8 L511.7,837.0 L513.1,837.1 L514.5,837.3 L515.9,837.4 L517.3,837.6" fill="none" stroke="#1e8c1e" stroke-width="3.6" clip-path="url(#cd02)" stroke-linejoin="round" stroke-dasharray="5.2 3"/>
<path d="M405.8,825.4 L407.2,825.0 L408.6,824.5 L410.0,824.0 L411.4,823.4 L412.8,822.9 L414.2,822.3 L415.6,821.6 L416.9,820.9 L418.3,820.2 L419.7,819.4 L421.1,818.5 L422.5,817.6 L423.9,816.6 L425.3,815.6 L426.7,814.5 L428.1,813.2 L429.5,811.9 L430.9,810.5 L432.3,809.0 L433.7,807.3 L435.1,805.5 L436.5,803.5 L437.9,801.3 L439.2,799.0 L440.6,796.4 L442.0,793.5 L443.4,790.3 L444.8,786.7 L446.2,782.6 L447.6,777.9 L449.0,772.6 L450.4,766.3 L451.8,759.0 L453.2,750.3 L454.6,740.3 L456.0,728.8 L457.4,716.7 L458.8,705.2 L460.2,696.7 L461.5,693.5 L462.9,696.7 L464.3,705.2 L465.7,716.7 L467.1,728.8 L468.5,740.3 L469.9,750.3 L471.3,759.0 L472.7,766.3 L474.1,772.6 L475.5,777.9 L476.9,782.6 L478.3,786.7 L479.7,790.3 L481.1,793.5 L482.5,796.4 L483.8,799.0 L485.2,801.3 L486.6,803.5 L488.0,805.5 L489.4,807.3 L490.8,809.0 L492.2,810.5 L493.6,811.9 L495.0,813.2 L496.4,814.5 L497.8,815.6 L499.2,816.6 L500.6,817.6 L502.0,818.5 L503.4,819.4 L504.8,820.2 L506.1,820.9 L507.5,821.6 L508.9,822.3 L510.3,822.9 L511.7,823.4 L513.1,824.0 L514.5,824.5 L515.9,825.0 L517.3,825.4" fill="none" stroke="#1e8c1e" stroke-width="3.6" clip-path="url(#cd02)" stroke-linejoin="round"/>
<text x="462.8" y="669.2" font-size="26" text-anchor="middle">ATAC</text>
<rect x="573.9" y="680.1" width="111.1" height="168.1" fill="#fff" stroke="#9a9a9a" stroke-width="1" />
<line x1="573.9" y1="848.2" x2="573.9" y2="851.7" stroke="#777" stroke-width="1" />
<line x1="629.5" y1="848.2" x2="629.5" y2="851.7" stroke="#777" stroke-width="1" />
<line x1="685.0" y1="848.2" x2="685.0" y2="851.7" stroke="#777" stroke-width="1" />
<line x1="570.4" y1="680.1" x2="573.9" y2="680.1" stroke="#777" stroke-width="1" />
<text x="566.5" y="689.3" font-size="26" text-anchor="end">1.5</text>
<line x1="570.4" y1="736.1" x2="573.9" y2="736.1" stroke="#777" stroke-width="1" />
<text x="566.5" y="745.3" font-size="26" text-anchor="end">1.0</text>
<line x1="570.4" y1="792.2" x2="573.9" y2="792.2" stroke="#777" stroke-width="1" />
<text x="566.5" y="801.4" font-size="26" text-anchor="end">0.5</text>
<line x1="570.4" y1="848.2" x2="573.9" y2="848.2" stroke="#777" stroke-width="1" />
<text x="566.5" y="857.4" font-size="26" text-anchor="end">0</text>
<path d="M573.9,817.1 L575.3,816.6 L576.7,816.0 L578.1,815.4 L579.5,814.8 L580.8,814.2 L582.2,813.6 L583.6,812.9 L585.0,812.3 L586.4,811.6 L587.8,811.0 L589.2,810.3 L590.6,809.7 L592.0,809.0 L593.3,808.4 L594.7,807.7 L596.1,807.1 L597.5,806.4 L598.9,805.8 L600.3,805.2 L601.7,804.6 L603.1,804.0 L604.5,803.4 L605.8,802.9 L607.2,802.4 L608.6,801.9 L610.0,801.4 L611.4,801.0 L612.8,800.7 L614.2,800.5 L615.6,800.4 L617.0,800.5 L618.3,800.7 L619.7,801.0 L621.1,801.5 L622.5,802.2 L623.9,802.8 L625.3,803.5 L626.7,804.0 L628.1,804.4 L629.5,804.5 L630.8,804.4 L632.2,804.0 L633.6,803.5 L635.0,802.8 L636.4,802.2 L637.8,801.5 L639.2,801.0 L640.6,800.7 L641.9,800.5 L643.3,800.4 L644.7,800.5 L646.1,800.7 L647.5,801.0 L648.9,801.4 L650.3,801.9 L651.7,802.4 L653.1,802.9 L654.4,803.4 L655.8,804.0 L657.2,804.6 L658.6,805.2 L660.0,805.8 L661.4,806.4 L662.8,807.1 L664.2,807.7 L665.6,808.4 L666.9,809.0 L668.3,809.7 L669.7,810.3 L671.1,811.0 L672.5,811.6 L673.9,812.3 L675.3,812.9 L676.7,813.6 L678.1,814.2 L679.4,814.8 L680.8,815.4 L682.2,816.0 L683.6,816.6 L685.0,817.1" fill="none" stroke="#1e8c1e" stroke-width="3.6" clip-path="url(#cd03)" stroke-linejoin="round" stroke-dasharray="5.2 3"/>
<path d="M573.9,772.2 L575.3,770.0 L576.7,767.7 L578.1,765.4 L579.5,763.1 L580.8,760.7 L582.2,758.3 L583.6,755.8 L585.0,753.3 L586.4,750.8 L587.8,748.3 L589.2,745.8 L590.6,743.2 L592.0,740.7 L593.3,738.1 L594.7,735.6 L596.1,733.1 L597.5,730.6 L598.9,728.2 L600.3,725.9 L601.7,723.6 L603.1,721.5 L604.5,719.5 L605.8,717.8 L607.2,716.3 L608.6,715.2 L610.0,714.6 L611.4,714.6 L612.8,715.3 L614.2,716.7 L615.6,719.0 L617.0,722.1 L618.3,726.0 L619.7,730.6 L621.1,735.6 L622.5,740.7 L623.9,745.7 L625.3,750.0 L626.7,753.4 L628.1,755.6 L629.5,756.3 L630.8,755.6 L632.2,753.4 L633.6,750.0 L635.0,745.7 L636.4,740.7 L637.8,735.6 L639.2,730.6 L640.6,726.0 L641.9,722.1 L643.3,719.0 L644.7,716.7 L646.1,715.3 L647.5,714.6 L648.9,714.6 L650.3,715.2 L651.7,716.3 L653.1,717.8 L654.4,719.5 L655.8,721.5 L657.2,723.6 L658.6,725.9 L660.0,728.2 L661.4,730.6 L662.8,733.1 L664.2,735.6 L665.6,738.1 L666.9,740.7 L668.3,743.2 L669.7,745.8 L671.1,748.3 L672.5,750.8 L673.9,753.3 L675.3,755.8 L676.7,758.3 L678.1,760.7 L679.4,763.1 L680.8,765.4 L682.2,767.7 L683.6,770.0 L685.0,772.2" fill="none" stroke="#1e8c1e" stroke-width="3.6" clip-path="url(#cd03)" stroke-linejoin="round"/>
<text x="635.7" y="669.2" font-size="26" text-anchor="middle">H3K27ac</text>
<rect x="85.9" y="886.8" width="110.7" height="168.9" fill="#fff" stroke="#9a9a9a" stroke-width="1" />
<line x1="85.9" y1="1055.7" x2="85.9" y2="1059.2" stroke="#777" stroke-width="1" />
<line x1="141.2" y1="1055.7" x2="141.2" y2="1059.2" stroke="#777" stroke-width="1" />
<line x1="196.6" y1="1055.7" x2="196.6" y2="1059.2" stroke="#777" stroke-width="1" />
<line x1="82.4" y1="886.8" x2="85.9" y2="886.8" stroke="#777" stroke-width="1" />
<text x="74.5" y="896.0" font-size="26" text-anchor="end">3</text>
<line x1="82.4" y1="943.1" x2="85.9" y2="943.1" stroke="#777" stroke-width="1" />
<text x="74.5" y="952.3" font-size="26" text-anchor="end">2</text>
<line x1="82.4" y1="999.4" x2="85.9" y2="999.4" stroke="#777" stroke-width="1" />
<text x="74.5" y="1008.6" font-size="26" text-anchor="end">1</text>
<line x1="82.4" y1="1055.7" x2="85.9" y2="1055.7" stroke="#777" stroke-width="1" />
<text x="74.5" y="1064.9" font-size="26" text-anchor="end">0</text>
<path d="M85.9,1034.5 L87.3,1033.9 L88.7,1033.2 L90.1,1032.5 L91.4,1031.8 L92.8,1031.0 L94.2,1030.2 L95.6,1029.3 L97.0,1028.4 L98.4,1027.4 L99.7,1026.3 L101.1,1025.2 L102.5,1023.9 L103.9,1022.6 L105.3,1021.2 L106.7,1019.6 L108.0,1018.0 L109.4,1016.2 L110.8,1014.3 L112.2,1012.2 L113.6,1009.9 L115.0,1007.4 L116.3,1004.8 L117.7,1001.8 L119.1,998.6 L120.5,995.1 L121.9,991.2 L123.3,987.0 L124.6,982.4 L126.0,977.3 L127.4,971.8 L128.8,965.8 L130.2,959.4 L131.6,952.7 L132.9,945.7 L134.3,938.8 L135.7,932.2 L137.1,926.4 L138.5,921.8 L139.9,918.8 L141.2,917.8 L142.6,918.8 L144.0,921.8 L145.4,926.4 L146.8,932.2 L148.2,938.8 L149.6,945.7 L150.9,952.7 L152.3,959.4 L153.7,965.8 L155.1,971.8 L156.5,977.3 L157.9,982.4 L159.2,987.0 L160.6,991.2 L162.0,995.1 L163.4,998.6 L164.8,1001.8 L166.2,1004.8 L167.5,1007.4 L168.9,1009.9 L170.3,1012.2 L171.7,1014.3 L173.1,1016.2 L174.5,1018.0 L175.8,1019.6 L177.2,1021.2 L178.6,1022.6 L180.0,1023.9 L181.4,1025.2 L182.8,1026.3 L184.1,1027.4 L185.5,1028.4 L186.9,1029.3 L188.3,1030.2 L189.7,1031.0 L191.1,1031.8 L192.4,1032.5 L193.8,1033.2 L195.2,1033.9 L196.6,1034.5" fill="none" stroke="#ffa500" stroke-width="3.6" clip-path="url(#cd10)" stroke-linejoin="round" stroke-dasharray="5.2 3"/>
<path d="M85.9,1036.0 L87.3,1035.5 L88.7,1034.9 L90.1,1034.4 L91.4,1033.8 L92.8,1033.1 L94.2,1032.5 L95.6,1031.7 L97.0,1031.0 L98.4,1030.1 L99.7,1029.3 L101.1,1028.3 L102.5,1027.3 L103.9,1026.2 L105.3,1025.1 L106.7,1023.8 L108.0,1022.4 L109.4,1021.0 L110.8,1019.4 L112.2,1017.7 L113.6,1015.8 L115.0,1013.8 L116.3,1011.6 L117.7,1009.2 L119.1,1006.6 L120.5,1003.7 L121.9,1000.5 L123.3,997.1 L124.6,993.3 L126.0,989.1 L127.4,984.6 L128.8,979.7 L130.2,974.4 L131.6,968.9 L132.9,963.2 L134.3,957.5 L135.7,952.1 L137.1,947.4 L138.5,943.6 L139.9,941.1 L141.2,940.3 L142.6,941.1 L144.0,943.6 L145.4,947.4 L146.8,952.1 L148.2,957.5 L149.6,963.2 L150.9,968.9 L152.3,974.4 L153.7,979.7 L155.1,984.6 L156.5,989.1 L157.9,993.3 L159.2,997.1 L160.6,1000.5 L162.0,1003.7 L163.4,1006.6 L164.8,1009.2 L166.2,1011.6 L167.5,1013.8 L168.9,1015.8 L170.3,1017.7 L171.7,1019.4 L173.1,1021.0 L174.5,1022.4 L175.8,1023.8 L177.2,1025.1 L178.6,1026.2 L180.0,1027.3 L181.4,1028.3 L182.8,1029.3 L184.1,1030.1 L185.5,1031.0 L186.9,1031.7 L188.3,1032.5 L189.7,1033.1 L191.1,1033.8 L192.4,1034.4 L193.8,1034.9 L195.2,1035.5 L196.6,1036.0" fill="none" stroke="#ffa500" stroke-width="3.6" clip-path="url(#cd10)" stroke-linejoin="round"/>
<rect x="236.5" y="886.8" width="111.1" height="168.9" fill="#fff" stroke="#9a9a9a" stroke-width="1" />
<line x1="236.5" y1="1055.7" x2="236.5" y2="1059.2" stroke="#777" stroke-width="1" />
<line x1="292.1" y1="1055.7" x2="292.1" y2="1059.2" stroke="#777" stroke-width="1" />
<line x1="347.6" y1="1055.7" x2="347.6" y2="1059.2" stroke="#777" stroke-width="1" />
<line x1="233.0" y1="886.8" x2="236.5" y2="886.8" stroke="#777" stroke-width="1" />
<text x="229.0" y="896.0" font-size="26" text-anchor="end">2</text>
<line x1="233.0" y1="971.2" x2="236.5" y2="971.2" stroke="#777" stroke-width="1" />
<text x="229.0" y="980.5" font-size="26" text-anchor="end">1</text>
<line x1="233.0" y1="1055.7" x2="236.5" y2="1055.7" stroke="#777" stroke-width="1" />
<text x="229.0" y="1064.9" font-size="26" text-anchor="end">0</text>
<path d="M236.5,1029.6 L237.9,1028.8 L239.3,1028.0 L240.7,1027.2 L242.1,1026.3 L243.4,1025.4 L244.8,1024.4 L246.2,1023.4 L247.6,1022.2 L249.0,1021.0 L250.4,1019.8 L251.8,1018.4 L253.2,1016.9 L254.6,1015.4 L255.9,1013.7 L257.3,1011.9 L258.7,1009.9 L260.1,1007.8 L261.5,1005.6 L262.9,1003.2 L264.3,1000.6 L265.7,997.7 L267.1,994.7 L268.4,991.4 L269.8,987.8 L271.2,983.9 L272.6,979.7 L274.0,975.1 L275.4,970.2 L276.8,964.8 L278.2,959.1 L279.6,953.0 L280.9,946.7 L282.3,940.0 L283.7,933.4 L285.1,926.9 L286.5,920.8 L287.9,915.5 L289.3,911.4 L290.7,908.8 L292.1,907.9 L293.4,908.8 L294.8,911.4 L296.2,915.5 L297.6,920.8 L299.0,926.9 L300.4,933.4 L301.8,940.0 L303.2,946.7 L304.5,953.0 L305.9,959.1 L307.3,964.8 L308.7,970.2 L310.1,975.1 L311.5,979.7 L312.9,983.9 L314.3,987.8 L315.7,991.4 L317.0,994.7 L318.4,997.7 L319.8,1000.6 L321.2,1003.2 L322.6,1005.6 L324.0,1007.8 L325.4,1009.9 L326.8,1011.9 L328.2,1013.7 L329.5,1015.4 L330.9,1016.9 L332.3,1018.4 L333.7,1019.8 L335.1,1021.0 L336.5,1022.2 L337.9,1023.4 L339.3,1024.4 L340.7,1025.4 L342.0,1026.3 L343.4,1027.2 L344.8,1028.0 L346.2,1028.8 L347.6,1029.6" fill="none" stroke="#ffa500" stroke-width="3.6" clip-path="url(#cd11)" stroke-linejoin="round" stroke-dasharray="5.2 3"/>
<path d="M236.5,1027.0 L237.9,1026.2 L239.3,1025.4 L240.7,1024.6 L242.1,1023.6 L243.4,1022.7 L244.8,1021.6 L246.2,1020.5 L247.6,1019.3 L249.0,1018.1 L250.4,1016.7 L251.8,1015.3 L253.2,1013.8 L254.6,1012.1 L255.9,1010.4 L257.3,1008.5 L258.7,1006.4 L260.1,1004.2 L261.5,1001.9 L262.9,999.4 L264.3,996.6 L265.7,993.6 L267.1,990.4 L268.4,987.0 L269.8,983.2 L271.2,979.1 L272.6,974.7 L274.0,969.9 L275.4,964.7 L276.8,959.1 L278.2,953.2 L279.6,946.8 L280.9,940.1 L282.3,933.2 L283.7,926.2 L285.1,919.3 L286.5,913.0 L287.9,907.5 L289.3,903.2 L290.7,900.4 L292.1,899.5 L293.4,900.4 L294.8,903.2 L296.2,907.5 L297.6,913.0 L299.0,919.3 L300.4,926.2 L301.8,933.2 L303.2,940.1 L304.5,946.8 L305.9,953.2 L307.3,959.1 L308.7,964.7 L310.1,969.9 L311.5,974.7 L312.9,979.1 L314.3,983.2 L315.7,987.0 L317.0,990.4 L318.4,993.6 L319.8,996.6 L321.2,999.4 L322.6,1001.9 L324.0,1004.2 L325.4,1006.4 L326.8,1008.5 L328.2,1010.4 L329.5,1012.1 L330.9,1013.8 L332.3,1015.3 L333.7,1016.7 L335.1,1018.1 L336.5,1019.3 L337.9,1020.5 L339.3,1021.6 L340.7,1022.7 L342.0,1023.6 L343.4,1024.6 L344.8,1025.4 L346.2,1026.2 L347.6,1027.0" fill="none" stroke="#ffa500" stroke-width="3.6" clip-path="url(#cd11)" stroke-linejoin="round"/>
<rect x="401.3" y="886.8" width="110.3" height="168.9" fill="#fff" stroke="#9a9a9a" stroke-width="1" />
<line x1="401.3" y1="1055.7" x2="401.3" y2="1059.2" stroke="#777" stroke-width="1" />
<line x1="456.5" y1="1055.7" x2="456.5" y2="1059.2" stroke="#777" stroke-width="1" />
<line x1="511.6" y1="1055.7" x2="511.6" y2="1059.2" stroke="#777" stroke-width="1" />
<line x1="397.8" y1="886.8" x2="401.3" y2="886.8" stroke="#777" stroke-width="1" />
<text x="392.3" y="896.0" font-size="26" text-anchor="end">1.5</text>
<line x1="397.8" y1="943.1" x2="401.3" y2="943.1" stroke="#777" stroke-width="1" />
<text x="392.3" y="952.3" font-size="26" text-anchor="end">1.0</text>
<line x1="397.8" y1="999.4" x2="401.3" y2="999.4" stroke="#777" stroke-width="1" />
<text x="392.3" y="1008.6" font-size="26" text-anchor="end">0.5</text>
<line x1="397.8" y1="1055.7" x2="401.3" y2="1055.7" stroke="#777" stroke-width="1" />
<text x="392.3" y="1064.9" font-size="26" text-anchor="end">0</text>
<path d="M401.3,1041.3 L402.7,1041.1 L404.1,1040.9 L405.4,1040.8 L406.8,1040.5 L408.2,1040.3 L409.6,1040.1 L411.0,1039.8 L412.3,1039.5 L413.7,1039.1 L415.1,1038.8 L416.5,1038.4 L417.8,1037.9 L419.2,1037.4 L420.6,1036.8 L422.0,1036.2 L423.4,1035.5 L424.7,1034.7 L426.1,1033.8 L427.5,1032.9 L428.9,1031.7 L430.3,1030.5 L431.6,1029.1 L433.0,1027.5 L434.4,1025.7 L435.8,1023.6 L437.1,1021.2 L438.5,1018.5 L439.9,1015.5 L441.3,1012.0 L442.7,1008.0 L444.0,1003.6 L445.4,998.6 L446.8,993.2 L448.2,987.4 L449.6,981.5 L450.9,975.6 L452.3,970.3 L453.7,966.0 L455.1,963.2 L456.5,962.2 L457.8,963.3 L459.2,966.2 L460.6,970.6 L462.0,976.1 L463.3,982.0 L464.7,988.1 L466.1,994.0 L467.5,999.5 L468.9,1004.6 L470.2,1009.2 L471.6,1013.2 L473.0,1016.8 L474.4,1020.0 L475.8,1022.8 L477.1,1025.3 L478.5,1027.5 L479.9,1029.4 L481.3,1031.1 L482.6,1032.6 L484.0,1034.0 L485.4,1035.2 L486.8,1036.3 L488.2,1037.3 L489.5,1038.2 L490.9,1039.0 L492.3,1039.8 L493.7,1040.4 L495.1,1041.1 L496.4,1041.6 L497.8,1042.2 L499.2,1042.6 L500.6,1043.1 L501.9,1043.5 L503.3,1043.9 L504.7,1044.3 L506.1,1044.6 L507.5,1044.9 L508.8,1045.2 L510.2,1045.5 L511.6,1045.8" fill="none" stroke="#ffa500" stroke-width="3.6" clip-path="url(#cd12)" stroke-linejoin="round" stroke-dasharray="5.2 3"/>
<path d="M401.3,1030.6 L402.7,1030.1 L404.1,1029.6 L405.4,1029.1 L406.8,1028.5 L408.2,1027.9 L409.6,1027.3 L411.0,1026.6 L412.3,1025.9 L413.7,1025.1 L415.1,1024.3 L416.5,1023.4 L417.8,1022.5 L419.2,1021.5 L420.6,1020.4 L422.0,1019.2 L423.4,1018.0 L424.7,1016.6 L426.1,1015.2 L427.5,1013.6 L428.9,1011.9 L430.3,1010.0 L431.6,1008.0 L433.0,1005.8 L434.4,1003.3 L435.8,1000.7 L437.1,997.8 L438.5,994.6 L439.9,991.2 L441.3,987.4 L442.7,983.3 L444.0,978.9 L445.4,974.3 L446.8,969.4 L448.2,964.5 L449.6,959.6 L450.9,955.1 L452.3,951.1 L453.7,948.0 L455.1,946.0 L456.5,945.4 L457.8,946.0 L459.2,948.0 L460.6,951.1 L462.0,955.1 L463.3,959.6 L464.7,964.5 L466.1,969.4 L467.5,974.3 L468.9,978.9 L470.2,983.3 L471.6,987.4 L473.0,991.2 L474.4,994.6 L475.8,997.8 L477.1,1000.7 L478.5,1003.3 L479.9,1005.8 L481.3,1008.0 L482.6,1010.0 L484.0,1011.9 L485.4,1013.6 L486.8,1015.2 L488.2,1016.6 L489.5,1018.0 L490.9,1019.2 L492.3,1020.4 L493.7,1021.5 L495.1,1022.5 L496.4,1023.4 L497.8,1024.3 L499.2,1025.1 L500.6,1025.9 L501.9,1026.6 L503.3,1027.3 L504.7,1027.9 L506.1,1028.5 L507.5,1029.1 L508.8,1029.6 L510.2,1030.1 L511.6,1030.6" fill="none" stroke="#ffa500" stroke-width="3.6" clip-path="url(#cd12)" stroke-linejoin="round"/>
<rect x="573.9" y="886.8" width="111.1" height="168.9" fill="#fff" stroke="#9a9a9a" stroke-width="1" />
<line x1="573.9" y1="1055.7" x2="573.9" y2="1059.2" stroke="#777" stroke-width="1" />
<line x1="629.5" y1="1055.7" x2="629.5" y2="1059.2" stroke="#777" stroke-width="1" />
<line x1="685.0" y1="1055.7" x2="685.0" y2="1059.2" stroke="#777" stroke-width="1" />
<line x1="570.4" y1="886.8" x2="573.9" y2="886.8" stroke="#777" stroke-width="1" />
<text x="566.5" y="896.0" font-size="26" text-anchor="end">1.5</text>
<line x1="570.4" y1="943.1" x2="573.9" y2="943.1" stroke="#777" stroke-width="1" />
<text x="566.5" y="952.3" font-size="26" text-anchor="end">1.0</text>
<line x1="570.4" y1="999.4" x2="573.9" y2="999.4" stroke="#777" stroke-width="1" />
<text x="566.5" y="1008.6" font-size="26" text-anchor="end">0.5</text>
<line x1="570.4" y1="1055.7" x2="573.9" y2="1055.7" stroke="#777" stroke-width="1" />
<text x="566.5" y="1064.9" font-size="26" text-anchor="end">0</text>
<path d="M573.9,1022.2 L575.3,1020.5 L576.7,1018.8 L578.1,1017.1 L579.5,1015.3 L580.8,1013.4 L582.2,1011.5 L583.6,1009.5 L585.0,1007.5 L586.4,1005.4 L587.8,1003.3 L589.2,1001.1 L590.6,998.8 L592.0,996.5 L593.3,994.2 L594.7,991.8 L596.1,989.3 L597.5,986.8 L598.9,984.2 L600.3,981.5 L601.7,978.9 L603.1,976.2 L604.5,973.6 L605.8,971.2 L607.2,968.8 L608.6,966.7 L610.0,964.8 L611.4,963.3 L612.8,962.2 L614.2,961.6 L615.6,961.4 L617.0,961.8 L618.3,962.6 L619.7,963.9 L621.1,965.5 L622.5,967.4 L623.9,969.3 L625.3,971.0 L626.7,972.5 L628.1,973.6 L629.5,974.0 L630.8,974.0 L632.2,973.4 L633.6,972.3 L635.0,971.1 L636.4,969.7 L637.8,968.4 L639.2,967.4 L640.6,966.7 L641.9,966.4 L643.3,966.5 L644.7,967.0 L646.1,967.8 L647.5,969.0 L648.9,970.4 L650.3,972.0 L651.7,973.7 L653.1,975.6 L654.4,977.5 L655.8,979.5 L657.2,981.6 L658.6,983.8 L660.0,985.9 L661.4,988.1 L662.8,990.3 L664.2,992.5 L665.6,994.7 L666.9,996.9 L668.3,999.1 L669.7,1001.2 L671.1,1003.4 L672.5,1005.5 L673.9,1007.5 L675.3,1009.5 L676.7,1011.5 L678.1,1013.4 L679.4,1015.3 L680.8,1017.1 L682.2,1018.8 L683.6,1020.5 L685.0,1022.2" fill="none" stroke="#ffa500" stroke-width="3.6" clip-path="url(#cd13)" stroke-linejoin="round" stroke-dasharray="5.2 3"/>
<path d="M573.9,1016.4 L575.3,1014.4 L576.7,1012.3 L578.1,1010.1 L579.5,1007.9 L580.8,1005.6 L582.2,1003.2 L583.6,1000.7 L585.0,998.1 L586.4,995.5 L587.8,992.8 L589.2,990.1 L590.6,987.2 L592.0,984.3 L593.3,981.4 L594.7,978.3 L596.1,975.2 L597.5,972.0 L598.9,968.8 L600.3,965.5 L601.7,962.1 L603.1,958.7 L604.5,955.4 L605.8,952.2 L607.2,949.1 L608.6,946.2 L610.0,943.7 L611.4,941.5 L612.8,939.9 L614.2,938.8 L615.6,938.4 L617.0,938.6 L618.3,939.4 L619.7,940.9 L621.1,942.8 L622.5,945.0 L623.9,947.4 L625.3,949.6 L626.7,951.5 L628.1,952.8 L629.5,953.4 L630.8,953.4 L632.2,952.7 L633.6,951.5 L635.0,950.0 L636.4,948.3 L637.8,946.8 L639.2,945.6 L640.6,944.8 L641.9,944.5 L643.3,944.7 L644.7,945.5 L646.1,946.6 L647.5,948.2 L648.9,950.1 L650.3,952.2 L651.7,954.5 L653.1,956.9 L654.4,959.5 L655.8,962.2 L657.2,964.9 L658.6,967.7 L660.0,970.5 L661.4,973.3 L662.8,976.1 L664.2,979.0 L665.6,981.8 L666.9,984.6 L668.3,987.4 L669.7,990.2 L671.1,992.9 L672.5,995.5 L673.9,998.1 L675.3,1000.7 L676.7,1003.2 L678.1,1005.6 L679.4,1007.9 L680.8,1010.1 L682.2,1012.3 L683.6,1014.4 L685.0,1016.4" fill="none" stroke="#ffa500" stroke-width="3.6" clip-path="url(#cd13)" stroke-linejoin="round"/>
<text x="41.2" y="757.5" font-size="27.5" text-anchor="middle" fill="#1e8c1e" transform="rotate(-90 41.2 757.5)">Neuro Enh</text>
<text x="41.2" y="963.0" font-size="27.5" text-anchor="middle" fill="#ffa500" transform="rotate(-90 41.2 963.0)">PanCell Enh</text>
<text x="86.0" y="1084.3" font-size="26" text-anchor="middle">–1</text>
<text x="195.3" y="1084.3" font-size="26" text-anchor="middle">1</text>
<text transform="translate(752.5 615.2) scale(0.95 1)" font-size="43" font-weight="bold">e</text>
<rect x="893.7" y="662.3" width="564.8" height="284.8" fill="#fff" />
<rect x="1175.5" y="662.3" width="283.0" height="284.8" fill="#caff9e" />
<line x1="893.7" y1="674.6" x2="1175.5" y2="674.6" stroke="#e6e6e6" stroke-width="1.3" />
<line x1="1175.5" y1="674.6" x2="1458.5" y2="674.6" stroke="#e4f7d6" stroke-width="1.3" />
<line x1="888.7" y1="674.6" x2="893.7" y2="674.6" stroke="#333" stroke-width="1.3" />
<text x="876.5" y="683.9" font-size="26.4" class="d" text-anchor="end">800</text>
<line x1="893.7" y1="739.5" x2="1175.5" y2="739.5" stroke="#e6e6e6" stroke-width="1.3" />
<line x1="1175.5" y1="739.5" x2="1458.5" y2="739.5" stroke="#e4f7d6" stroke-width="1.3" />
<line x1="888.7" y1="739.5" x2="893.7" y2="739.5" stroke="#333" stroke-width="1.3" />
<text x="876.5" y="748.8" font-size="26.4" class="d" text-anchor="end">600</text>
<line x1="893.7" y1="804.3" x2="1175.5" y2="804.3" stroke="#e6e6e6" stroke-width="1.3" />
<line x1="1175.5" y1="804.3" x2="1458.5" y2="804.3" stroke="#e4f7d6" stroke-width="1.3" />
<line x1="888.7" y1="804.3" x2="893.7" y2="804.3" stroke="#333" stroke-width="1.3" />
<text x="876.5" y="813.6" font-size="26.4" class="d" text-anchor="end">400</text>
<line x1="893.7" y1="869.1" x2="1175.5" y2="869.1" stroke="#e6e6e6" stroke-width="1.3" />
<line x1="1175.5" y1="869.1" x2="1458.5" y2="869.1" stroke="#e4f7d6" stroke-width="1.3" />
<line x1="888.7" y1="869.1" x2="893.7" y2="869.1" stroke="#333" stroke-width="1.3" />
<text x="876.5" y="878.4" font-size="26.4" class="d" text-anchor="end">200</text>
<line x1="893.7" y1="933.9" x2="1175.5" y2="933.9" stroke="#e6e6e6" stroke-width="1.3" />
<line x1="1175.5" y1="933.9" x2="1458.5" y2="933.9" stroke="#e4f7d6" stroke-width="1.3" />
<line x1="888.7" y1="933.9" x2="893.7" y2="933.9" stroke="#333" stroke-width="1.3" />
<text x="876.5" y="943.2" font-size="26.4" class="d" text-anchor="end">0</text>
<line x1="958.5" y1="662.3" x2="958.5" y2="947.1" stroke="#e6e6e6" stroke-width="1.3" />
<line x1="958.5" y1="947.1" x2="958.5" y2="952.1" stroke="#333" stroke-width="1.3" />
<text x="958.5" y="983.4" font-size="26.4" class="d" text-anchor="middle">1</text>
<line x1="1067.0" y1="662.3" x2="1067.0" y2="947.1" stroke="#e6e6e6" stroke-width="1.3" />
<line x1="1067.0" y1="947.1" x2="1067.0" y2="952.1" stroke="#333" stroke-width="1.3" />
<text x="1067.0" y="983.4" font-size="26.4" class="d" text-anchor="middle">2</text>
<line x1="1175.5" y1="662.3" x2="1175.5" y2="947.1" stroke="#e4f7d6" stroke-width="1.3" />
<line x1="1175.5" y1="947.1" x2="1175.5" y2="952.1" stroke="#333" stroke-width="1.3" />
<text x="1175.5" y="983.4" font-size="26.4" class="d" text-anchor="middle">5</text>
<line x1="1284.4" y1="662.3" x2="1284.4" y2="947.1" stroke="#e4f7d6" stroke-width="1.3" />
<line x1="1284.4" y1="947.1" x2="1284.4" y2="952.1" stroke="#333" stroke-width="1.3" />
<text x="1284.4" y="983.4" font-size="26.4" class="d" text-anchor="middle">7</text>
<line x1="1393.3" y1="662.3" x2="1393.3" y2="947.1" stroke="#e4f7d6" stroke-width="1.3" />
<line x1="1393.3" y1="947.1" x2="1393.3" y2="952.1" stroke="#333" stroke-width="1.3" />
<text x="1393.3" y="983.4" font-size="26.4" class="d" text-anchor="middle">10</text>
<rect x="893.7" y="662.3" width="564.8" height="284.8" fill="none" stroke="#333" stroke-width="1.4" />
<path d="M958.5,781.3 L1067.0,774.3 L1175.5,728.9 L1284.4,709.9 L1393.3,688.7" fill="none" stroke="#0a8c0a" stroke-width="5.3" stroke-linejoin="round"/>
<path d="M948.7,781.3L958.5,771.5L968.3,781.3L958.5,791.1Z" fill="#0a8c0a" />
<path d="M1057.2,774.3L1067.0,764.5L1076.8,774.3L1067.0,784.1Z" fill="#0a8c0a" />
<path d="M1165.7,728.9L1175.5,719.1L1185.3,728.9L1175.5,738.7Z" fill="#0a8c0a" />
<path d="M1274.6,709.9L1284.4,700.1L1294.2,709.9L1284.4,719.7Z" fill="#0a8c0a" />
<path d="M1383.5,688.7L1393.3,678.9L1403.1,688.7L1393.3,698.5Z" fill="#0a8c0a" />
<path d="M958.5,809.1 L1067.0,803.0 L1175.5,784.9 L1284.4,778.7 L1393.3,767.2" fill="none" stroke="#000" stroke-width="5.3" stroke-linejoin="round"/>
<circle cx="958.5" cy="809.1" r="9.5" fill="#000"/>
<circle cx="1067.0" cy="803.0" r="9.5" fill="#000"/>
<circle cx="1175.5" cy="784.9" r="9.5" fill="#000"/>
<circle cx="1284.4" cy="778.7" r="9.5" fill="#000"/>
<circle cx="1393.3" cy="767.2" r="9.5" fill="#000"/>
<line x1="892.0" y1="638.8" x2="905.0" y2="638.8" stroke="#000" stroke-width="4.6" />
<circle cx="905.3" cy="639.4" r="12.4" fill="#000"/>
<text x="925.9" y="648.3" font-size="26.5" class="d">Global Enhancers</text>
<line x1="1174.0" y1="638.6" x2="1199.0" y2="638.6" stroke="#0a8c0a" stroke-width="4.6" />
<path d="M1173.9,638.6L1186.2,626.3L1198.5,638.6L1186.2,650.9Z" fill="#0a8c0a" />
<text x="1210.7" y="648.3" font-size="26.5" class="d">Neuro Enhancers</text>
<text x="1175.5" y="1025.3" font-size="26.4" class="d" text-anchor="middle">Enhancer minimum length (kb)</text>
<text x="772.2" y="801.3" font-size="26.4" class="d" text-anchor="middle" transform="rotate(-90 772.2 801.3)">Basal Gene Expression</text>
<text x="807.5" y="801.3" font-size="26.4" class="d" text-anchor="middle" transform="rotate(-90 807.5 801.3)" textLength="108" lengthAdjust="spacing">(RPKMs)</text>
<text transform="translate(1563.0 615.9) scale(0.95 1)" font-size="43" font-weight="bold">f</text>
<rect x="1678.4" y="627.5" width="28.5" height="27.0" fill="#008a00" />
<text x="1717.7" y="651.0" font-size="28.3">Enh</text>
<rect x="1778.2" y="627.5" width="28.0" height="27.0" fill="#ee7ae2" />
<text x="1817.5" y="651.0" font-size="28.3">SEnh</text>
<line x1="1676.9" y1="667.4" x2="1936.3" y2="667.4" stroke="#dcdcdc" stroke-width="1.2" />
<text x="1668.9" y="676.7" font-size="25.4" class="d" text-anchor="end">1500</text>
<line x1="1676.9" y1="757.5" x2="1936.3" y2="757.5" stroke="#dcdcdc" stroke-width="1.2" />
<text x="1668.9" y="766.8" font-size="25.4" class="d" text-anchor="end">1000</text>
<line x1="1676.9" y1="847.3" x2="1936.3" y2="847.3" stroke="#dcdcdc" stroke-width="1.2" />
<text x="1668.9" y="856.6" font-size="25.4" class="d" text-anchor="end">500</text>
<line x1="1676.9" y1="937.3" x2="1936.3" y2="937.3" stroke="#dcdcdc" stroke-width="1.2" />
<text x="1668.9" y="946.6" font-size="25.4" class="d" text-anchor="end">0</text>
<line x1="1738.0" y1="667.4" x2="1738.0" y2="950.5" stroke="#dcdcdc" stroke-width="1.2" />
<line x1="1882.3" y1="667.4" x2="1882.3" y2="950.5" stroke="#dcdcdc" stroke-width="1.2" />
<rect x="1700.4" y="680.0" width="75.1" height="231.2" fill="#008a00" />
<rect x="1700.4" y="911.2" width="75.1" height="26.4" fill="#ee7ae2" />
<rect x="1845.1" y="775.7" width="74.8" height="40.2" fill="#008a00" />
<rect x="1845.1" y="922.7" width="74.8" height="3.5" fill="#ee7ae2" />
<line x1="1775.5" y1="680.0" x2="1845.1" y2="775.7" stroke="#000" stroke-width="1" stroke-dasharray="3.2 1.6"/>
<line x1="1775.5" y1="911.2" x2="1845.1" y2="815.9" stroke="#000" stroke-width="1" stroke-dasharray="3.2 1.6"/>
<line x1="1775.5" y1="911.2" x2="1845.1" y2="922.7" stroke="#000" stroke-width="1" stroke-dasharray="3.2 1.6"/>
<line x1="1775.5" y1="937.6" x2="1845.1" y2="926.2" stroke="#000" stroke-width="1" stroke-dasharray="3.2 1.6"/>
<text x="1738.0" y="805.2" font-size="25.8" class="d" text-anchor="middle">1284</text>
<text x="1810.2" y="806.0" font-size="25.8" class="d" text-anchor="middle">-79%</text>
<text x="1882.3" y="805.2" font-size="25.8" class="d" text-anchor="middle">222</text>
<text x="1738.0" y="932.8" font-size="25.8" class="d" text-anchor="middle">147</text>
<text x="1810.2" y="933.4" font-size="25.8" class="d" text-anchor="middle">-87%</text>
<text x="1882.3" y="932.8" font-size="25.8" class="d" text-anchor="middle">19</text>
<text x="1583.2" y="797.8" font-size="26.3" class="d" text-anchor="middle" transform="rotate(-90 1583.2 797.8)">NEnh Number</text>
<text x="1752.2" y="977.8" font-size="25.6" class="d" text-anchor="end" transform="rotate(-45 1752.2 977.8)">control</text>
<text x="1896.5" y="970.5" font-size="25.6" class="d" text-anchor="end" transform="rotate(-45 1896.5 970.5)">dKAT3</text>
<text transform="translate(0.5 1164.8) scale(0.95 1)" font-size="43" font-weight="bold">g</text>
<text x="123.2" y="1248.3" font-size="26.5" class="d">Genes with Neuro Super Enhancers</text>
<rect x="89.9" y="1265.3" width="531.6" height="34.2" fill="#ee7ae2" />
<text x="96.9" y="1292.2" font-size="26.3" class="d">Object recognition memory</text>
<rect x="89.9" y="1303.5" width="387.1" height="34.2" fill="#ee7ae2" />
<text x="96.9" y="1330.4" font-size="26.3" class="d">Excitatory Postsynaptic currents</text>
<rect x="89.9" y="1341.7" width="367.2" height="34.2" fill="#ee7ae2" />
<text x="96.9" y="1368.6" font-size="26.3" class="d">Synaptic depression</text>
<rect x="89.9" y="1379.9" width="249.9" height="34.2" fill="#ee7ae2" />
<text x="96.9" y="1406.8" font-size="26.3" class="d">Spatial learning</text>
<rect x="89.9" y="1418.1" width="243.8" height="34.2" fill="#ee7ae2" />
<text x="96.9" y="1445.0" font-size="26.3" class="d">Long term potentiation</text>
<rect x="89.9" y="1456.3" width="177.1" height="34.2" fill="#ee7ae2" />
<text x="96.9" y="1483.2" font-size="26.3" class="d">CNS synaptic transmission</text>
<rect x="89.9" y="1494.5" width="139.2" height="34.2" fill="#ee7ae2" />
<text x="96.9" y="1521.4" font-size="26.3" class="d">Learning / Memory / Conditioning</text>
<rect x="89.9" y="1532.7" width="125.0" height="34.2" fill="#ee7ae2" />
<text x="96.9" y="1559.6" font-size="26.3" class="d">Cognition</text>
<line x1="89.4" y1="1580.7" x2="655.9" y2="1580.7" stroke="#000" stroke-width="1.2" />
<line x1="89.9" y1="1580.7" x2="89.9" y2="1586.0" stroke="#000" stroke-width="1.2" />
<text x="89.9" y="1614.6" font-size="26.3" class="d" text-anchor="middle">0</text>
<line x1="229.1" y1="1580.7" x2="229.1" y2="1586.0" stroke="#000" stroke-width="1.2" />
<text x="229.1" y="1614.6" font-size="26.3" class="d" text-anchor="middle">5</text>
<line x1="372.8" y1="1580.7" x2="372.8" y2="1586.0" stroke="#000" stroke-width="1.2" />
<text x="372.8" y="1614.6" font-size="26.3" class="d" text-anchor="middle">10</text>
<line x1="513.6" y1="1580.7" x2="513.6" y2="1586.0" stroke="#000" stroke-width="1.2" />
<text x="513.6" y="1614.6" font-size="26.3" class="d" text-anchor="middle">15</text>
<line x1="655.3" y1="1580.7" x2="655.3" y2="1586.0" stroke="#000" stroke-width="1.2" />
<text x="655.3" y="1614.6" font-size="26.3" class="d" text-anchor="middle">20</text>
<text x="372.4" y="1659.4" font-size="26.3" class="d" text-anchor="middle">Enrichment Ratio</text>
<text x="61.2" y="1423.3" font-size="26.3" class="d" text-anchor="middle" transform="rotate(-90 61.2 1423.3)">Abnormal Phenotype</text>
<text transform="translate(732.2 1166.4) scale(0.95 1)" font-size="43" font-weight="bold">h</text>
<rect x="768.6" y="1165.0" width="27.8" height="27.8" fill="#008a00" />
<text x="803.8" y="1188.2" font-size="27.8">Neuro</text>
<rect x="900.7" y="1165.0" width="27.8" height="27.8" fill="#ff8c00" />
<text x="935.9" y="1188.2" font-size="27.8">Pancell</text>
<rect x="1043.0" y="1165.0" width="27.8" height="27.8" fill="#ff0000" />
<text x="1077.8" y="1188.2" font-size="27.8">NoNeuro</text>
<rect x="768.6" y="1203.4" width="419.0" height="376.9" fill="#fff" />
<line x1="787.6" y1="1203.4" x2="787.6" y2="1580.3" stroke="#e6e6e6" stroke-width="1.2" />
<line x1="866.9" y1="1203.4" x2="866.9" y2="1580.3" stroke="#e6e6e6" stroke-width="1.2" />
<line x1="946.1" y1="1203.4" x2="946.1" y2="1580.3" stroke="#e6e6e6" stroke-width="1.2" />
<line x1="1025.9" y1="1203.4" x2="1025.9" y2="1580.3" stroke="#e6e6e6" stroke-width="1.2" />
<line x1="1105.1" y1="1203.4" x2="1105.1" y2="1580.3" stroke="#e6e6e6" stroke-width="1.2" />
<line x1="1184.9" y1="1203.4" x2="1184.9" y2="1580.3" stroke="#e6e6e6" stroke-width="1.2" />
<line x1="827.2" y1="1203.4" x2="827.2" y2="1580.3" stroke="#f2f2f2" stroke-width="0.7" />
<line x1="906.5" y1="1203.4" x2="906.5" y2="1580.3" stroke="#f2f2f2" stroke-width="0.7" />
<line x1="986.0" y1="1203.4" x2="986.0" y2="1580.3" stroke="#f2f2f2" stroke-width="0.7" />
<line x1="1065.5" y1="1203.4" x2="1065.5" y2="1580.3" stroke="#f2f2f2" stroke-width="0.7" />
<line x1="1145.0" y1="1203.4" x2="1145.0" y2="1580.3" stroke="#f2f2f2" stroke-width="0.7" />
<line x1="768.6" y1="1228.0" x2="1187.6" y2="1228.0" stroke="#e6e6e6" stroke-width="1.2" />
<line x1="768.6" y1="1269.0" x2="1187.6" y2="1269.0" stroke="#e6e6e6" stroke-width="1.2" />
<line x1="768.6" y1="1310.0" x2="1187.6" y2="1310.0" stroke="#e6e6e6" stroke-width="1.2" />
<line x1="768.6" y1="1351.0" x2="1187.6" y2="1351.0" stroke="#e6e6e6" stroke-width="1.2" />
<line x1="768.6" y1="1392.1" x2="1187.6" y2="1392.1" stroke="#e6e6e6" stroke-width="1.2" />
<line x1="768.6" y1="1433.1" x2="1187.6" y2="1433.1" stroke="#e6e6e6" stroke-width="1.2" />
<line x1="768.6" y1="1474.1" x2="1187.6" y2="1474.1" stroke="#e6e6e6" stroke-width="1.2" />
<line x1="768.6" y1="1515.2" x2="1187.6" y2="1515.2" stroke="#e6e6e6" stroke-width="1.2" />
<line x1="768.6" y1="1556.2" x2="1187.6" y2="1556.2" stroke="#e6e6e6" stroke-width="1.2" />
<rect x="787.6" y="1209.5" width="359.3" height="36.9" fill="#008a00" />
<text x="791.3" y="1237.9" font-size="26.4">bHLH</text>
<line x1="764.6" y1="1228.0" x2="768.6" y2="1228.0" stroke="#555" stroke-width="1.2" />
<rect x="787.6" y="1250.5" width="82.1" height="36.9" fill="#008a00" />
<text x="791.3" y="1278.9" font-size="26.4">GLI</text>
<line x1="764.6" y1="1269.0" x2="768.6" y2="1269.0" stroke="#555" stroke-width="1.2" />
<rect x="787.6" y="1291.6" width="81.6" height="36.9" fill="#008a00" />
<text x="791.3" y="1320.0" font-size="26.4">SOX</text>
<line x1="764.6" y1="1310.0" x2="768.6" y2="1310.0" stroke="#555" stroke-width="1.2" />
<rect x="787.6" y="1332.6" width="41.3" height="36.9" fill="#ff8c00" />
<text x="791.3" y="1361.0" font-size="26.4">FOX</text>
<line x1="764.6" y1="1351.0" x2="768.6" y2="1351.0" stroke="#555" stroke-width="1.2" />
<rect x="787.6" y="1373.6" width="21.3" height="36.9" fill="#ff8c00" />
<text x="791.3" y="1402.0" font-size="26.4">ETS</text>
<line x1="764.6" y1="1392.1" x2="768.6" y2="1392.1" stroke="#555" stroke-width="1.2" />
<rect x="787.6" y="1414.7" width="18.1" height="36.9" fill="#ff8c00" />
<text x="791.3" y="1443.1" font-size="26.4">SP</text>
<line x1="764.6" y1="1433.1" x2="768.6" y2="1433.1" stroke="#555" stroke-width="1.2" />
<rect x="787.6" y="1455.7" width="49.6" height="36.9" fill="#ff0000" />
<text x="791.3" y="1484.1" font-size="26.4">ETV</text>
<line x1="764.6" y1="1474.1" x2="768.6" y2="1474.1" stroke="#555" stroke-width="1.2" />
<rect x="787.6" y="1496.7" width="33.4" height="36.9" fill="#ff0000" />
<text x="791.3" y="1525.1" font-size="26.4">FOX</text>
<line x1="764.6" y1="1515.2" x2="768.6" y2="1515.2" stroke="#555" stroke-width="1.2" />
<rect x="787.6" y="1537.7" width="15.3" height="36.9" fill="#ff0000" />
<text x="791.3" y="1566.1" font-size="26.4">SOX</text>
<line x1="764.6" y1="1556.2" x2="768.6" y2="1556.2" stroke="#555" stroke-width="1.2" />
<rect x="768.6" y="1203.4" width="419.0" height="376.9" fill="none" stroke="#6e6e6e" stroke-width="1.4" />
<line x1="787.6" y1="1580.3" x2="787.6" y2="1584.8" stroke="#555" stroke-width="1.2" />
<text x="786.6" y="1616.2" font-size="26.3" class="d" text-anchor="middle">0</text>
<line x1="866.9" y1="1580.3" x2="866.9" y2="1584.8" stroke="#555" stroke-width="1.2" />
<text x="865.9" y="1616.2" font-size="26.3" class="d" text-anchor="middle">250</text>
<line x1="946.1" y1="1580.3" x2="946.1" y2="1584.8" stroke="#555" stroke-width="1.2" />
<text x="945.1" y="1616.2" font-size="26.3" class="d" text-anchor="middle">500</text>
<line x1="1025.9" y1="1580.3" x2="1025.9" y2="1584.8" stroke="#555" stroke-width="1.2" />
<text x="1024.9" y="1616.2" font-size="26.3" class="d" text-anchor="middle">750</text>
<line x1="1105.1" y1="1580.3" x2="1105.1" y2="1584.8" stroke="#555" stroke-width="1.2" />
<text x="1104.1" y="1616.2" font-size="26.3" class="d" text-anchor="middle">1000</text>
<line x1="1184.9" y1="1580.3" x2="1184.9" y2="1584.8" stroke="#555" stroke-width="1.2" />
<text x="1183.9" y="1616.2" font-size="26.3" class="d" text-anchor="middle">1250</text>
<text x="984.2" y="1654.6" font-size="26.3" class="d" text-anchor="middle">–log(padj)</text>
<text x="751.8" y="1392.2" font-size="26.3" class="d" text-anchor="middle" transform="rotate(-90 751.8 1392.2)">TF family</text>
<text x="1364.3" y="1232.8" font-size="26.3" class="d" text-anchor="middle">de novo</text>
<text x="1364.3" y="1260.6" font-size="26.3" class="d" text-anchor="middle">Neuro KAT3</text>
<line x1="1266.5" y1="1266.0" x2="1266.5" y2="1364.8" stroke="#000" stroke-width="1.2" />
<line x1="1262.3" y1="1266.0" x2="1266.5" y2="1266.0" stroke="#000" stroke-width="1.2" />
<text x="1254.2" y="1277.0" font-size="26.3" class="d" text-anchor="end">2</text>
<line x1="1262.3" y1="1315.6" x2="1266.5" y2="1315.6" stroke="#000" stroke-width="1.2" />
<text x="1254.2" y="1326.6" font-size="26.3" class="d" text-anchor="end">1</text>
<line x1="1262.3" y1="1364.8" x2="1266.5" y2="1364.8" stroke="#000" stroke-width="1.2" />
<text x="1254.2" y="1375.8" font-size="26.3" class="d" text-anchor="end">0</text>
<text transform="translate(1318.8 1364.3) scale(0.341 1.384)" font-size="100" font-weight="bold" fill="#0000cc">C</text>
<text transform="translate(1342.0 1365.7) scale(0.322 1.424)" font-size="100" font-weight="bold" fill="#cc0000">A</text>
<text transform="translate(1366.1 1341.2) scale(0.315 0.346)" font-size="100" font-weight="bold" fill="#ffb000">G</text>
<text transform="translate(1366.1 1365.7) scale(0.403 0.349)" font-size="100" font-weight="bold" fill="#008000">T</text>
<text transform="translate(1392.1 1341.6) scale(0.354 0.356)" font-size="100" font-weight="bold" fill="#cc0000">A</text>
<text transform="translate(1392.1 1365.3) scale(0.354 0.339)" font-size="100" font-weight="bold" fill="#0000cc">C</text>
<text transform="translate(1411.5 1365.7) scale(0.418 1.465)" font-size="100" font-weight="bold" fill="#008000">T</text>
<text transform="translate(1436.1 1364.3) scale(0.309 1.423)" font-size="100" font-weight="bold" fill="#ffb000">G</text>
<text transform="translate(1461.1 1341.2) scale(0.315 0.346)" font-size="100" font-weight="bold" fill="#ffb000">G</text>
<text transform="translate(1461.1 1365.7) scale(0.403 0.349)" font-size="100" font-weight="bold" fill="#008000">T</text>
<text x="1359.7" y="1435.3" font-size="26.3" class="d" text-anchor="middle">bHLH motif</text>
<text x="1359.7" y="1462.2" font-size="26.3" class="d" text-anchor="middle">Canonical</text>
<line x1="1268.4" y1="1468.6" x2="1268.4" y2="1567.4" stroke="#000" stroke-width="1.2" />
<line x1="1264.2" y1="1468.6" x2="1268.4" y2="1468.6" stroke="#000" stroke-width="1.2" />
<text x="1254.2" y="1479.6" font-size="26.3" class="d" text-anchor="end">2</text>
<line x1="1264.2" y1="1518.0" x2="1268.4" y2="1518.0" stroke="#000" stroke-width="1.2" />
<text x="1254.2" y="1529.0" font-size="26.3" class="d" text-anchor="end">1</text>
<line x1="1264.2" y1="1567.4" x2="1268.4" y2="1567.4" stroke="#000" stroke-width="1.2" />
<text x="1254.2" y="1578.4" font-size="26.3" class="d" text-anchor="end">0</text>
<text transform="translate(1273.9 1554.8) scale(0.335 0.309)" font-size="100" font-weight="bold" fill="#cc0000">A</text>
<text transform="translate(1273.9 1561.7) scale(0.309 0.098)" font-size="100" font-weight="bold" fill="#ffb000">G</text>
<text transform="translate(1273.9 1566.3) scale(0.335 0.065)" font-size="100" font-weight="bold" fill="#0000cc">C</text>
<text transform="translate(1323.5 1559.2) scale(0.322 1.175)" font-size="100" font-weight="bold" fill="#0000cc">C</text>
<text transform="translate(1323.5 1566.4) scale(0.322 0.087)" font-size="100" font-weight="bold" fill="#cc0000">A</text>
<text transform="translate(1347.6 1555.7) scale(0.328 0.840)" font-size="100" font-weight="bold" fill="#cc0000">A</text>
<text transform="translate(1347.6 1561.7) scale(0.303 0.085)" font-size="100" font-weight="bold" fill="#ffb000">G</text>
<text transform="translate(1347.6 1566.4) scale(0.388 0.067)" font-size="100" font-weight="bold" fill="#008000">T</text>
<text transform="translate(1372.1 1554.5) scale(0.335 0.346)" font-size="100" font-weight="bold" fill="#0000cc">C</text>
<text transform="translate(1372.1 1561.7) scale(0.309 0.098)" font-size="100" font-weight="bold" fill="#ffb000">G</text>
<text transform="translate(1372.1 1566.4) scale(0.395 0.067)" font-size="100" font-weight="bold" fill="#008000">T</text>
<text transform="translate(1397.2 1548.3) scale(0.303 0.503)" font-size="100" font-weight="bold" fill="#ffb000">G</text>
<text transform="translate(1397.2 1562.5) scale(0.328 0.196)" font-size="100" font-weight="bold" fill="#0000cc">C</text>
<text transform="translate(1397.2 1566.9) scale(0.328 0.060)" font-size="100" font-weight="bold" fill="#cc0000">A</text>
<text transform="translate(1421.7 1558.0) scale(0.388 1.142)" font-size="100" font-weight="bold" fill="#008000">T</text>
<text transform="translate(1421.7 1563.6) scale(0.328 0.081)" font-size="100" font-weight="bold" fill="#cc0000">A</text>
<text transform="translate(1421.7 1566.8) scale(0.328 0.046)" font-size="100" font-weight="bold" fill="#0000cc">C</text>
<text transform="translate(1446.3 1559.9) scale(0.309 1.351)" font-size="100" font-weight="bold" fill="#ffb000">G</text>
<text transform="translate(1446.3 1566.9) scale(0.335 0.081)" font-size="100" font-weight="bold" fill="#cc0000">A</text>
<text transform="translate(1298.9 1566.3) scale(0.303 0.052)" font-size="100" font-weight="bold" fill="#ffb000">G</text>
<text transform="translate(1557.5 1165.5) scale(1.0 1)" font-size="43" font-weight="bold">i</text>
<rect x="1603.4" y="1159.5" width="27.3" height="26.4" fill="#bebebe" stroke="#008a00" stroke-width="4.4" />
<text x="1637.0" y="1182.6" font-size="28.3">Lost Neuro ATAC</text>
<rect x="1598.9" y="1197.5" width="332.1" height="382.6" fill="#fff" />
<line x1="1614.1" y1="1197.5" x2="1614.1" y2="1580.1" stroke="#e2e2e2" stroke-width="1.2" />
<line x1="1689.3" y1="1197.5" x2="1689.3" y2="1580.1" stroke="#e2e2e2" stroke-width="1.2" />
<line x1="1764.7" y1="1197.5" x2="1764.7" y2="1580.1" stroke="#e2e2e2" stroke-width="1.2" />
<line x1="1840.4" y1="1197.5" x2="1840.4" y2="1580.1" stroke="#e2e2e2" stroke-width="1.2" />
<line x1="1915.8" y1="1197.5" x2="1915.8" y2="1580.1" stroke="#e2e2e2" stroke-width="1.2" />
<rect x="1614.0" y="1209.4" width="282.6" height="65.2" fill="#bebebe" stroke="#008a00" stroke-width="5.0" stroke-linejoin="round"/>
<text x="1616.8" y="1250.6" font-size="26.4">bHLH</text>
<line x1="1594.4" y1="1242.0" x2="1598.9" y2="1242.0" stroke="#333" stroke-width="1.3" />
<rect x="1614.0" y="1283.0" width="108.6" height="65.2" fill="#bebebe" stroke="#008a00" stroke-width="5.0" stroke-linejoin="round"/>
<text x="1616.8" y="1324.2" font-size="26.4">GLI</text>
<line x1="1594.4" y1="1315.6" x2="1598.9" y2="1315.6" stroke="#333" stroke-width="1.3" />
<rect x="1614.0" y="1356.5" width="57.8" height="65.2" fill="#bebebe" stroke="#008a00" stroke-width="5.0" stroke-linejoin="round"/>
<text x="1616.8" y="1397.7" font-size="26.4">EGR</text>
<line x1="1594.4" y1="1389.1" x2="1598.9" y2="1389.1" stroke="#333" stroke-width="1.3" />
<rect x="1614.0" y="1430.1" width="49.3" height="65.2" fill="#bebebe" stroke="#008a00" stroke-width="5.0" stroke-linejoin="round"/>
<text x="1616.8" y="1471.3" font-size="26.4">SOX</text>
<line x1="1594.4" y1="1462.7" x2="1598.9" y2="1462.7" stroke="#333" stroke-width="1.3" />
<rect x="1614.0" y="1503.7" width="38.1" height="65.2" fill="#bebebe" stroke="#008a00" stroke-width="5.0" stroke-linejoin="round"/>
<text x="1616.8" y="1544.9" font-size="26.4">FOX</text>
<line x1="1594.4" y1="1536.3" x2="1598.9" y2="1536.3" stroke="#333" stroke-width="1.3" />
<rect x="1598.9" y="1197.5" width="332.1" height="382.6" fill="none" stroke="#3c3c3c" stroke-width="1.4" />
<line x1="1614.1" y1="1580.1" x2="1614.1" y2="1585.1" stroke="#333" stroke-width="1.3" />
<text x="1614.1" y="1615.4" font-size="26.3" text-anchor="middle">0</text>
<line x1="1689.3" y1="1580.1" x2="1689.3" y2="1585.1" stroke="#333" stroke-width="1.3" />
<text x="1689.3" y="1615.4" font-size="26.3" text-anchor="middle">100</text>
<line x1="1764.7" y1="1580.1" x2="1764.7" y2="1585.1" stroke="#333" stroke-width="1.3" />
<text x="1764.7" y="1615.4" font-size="26.3" text-anchor="middle">200</text>
<line x1="1840.4" y1="1580.1" x2="1840.4" y2="1585.1" stroke="#333" stroke-width="1.3" />
<text x="1840.4" y="1615.4" font-size="26.3" text-anchor="middle">300</text>
<line x1="1915.8" y1="1580.1" x2="1915.8" y2="1585.1" stroke="#333" stroke-width="1.3" />
<text x="1915.8" y="1615.4" font-size="26.3" text-anchor="middle">400</text>
<text x="1761.2" y="1655.6" font-size="26.3" text-anchor="middle">–log(E-val)</text>
<text x="1575.6" y="1388.6" font-size="26.5" text-anchor="middle" transform="rotate(-90 1575.6 1388.6)">Mofif Family</text>
<text transform="translate(0.3 1740.0) scale(1.0 1)" font-size="43" font-weight="bold">j</text>
<text x="180.3" y="1820.7" font-size="24" class="d" textLength="93.3" lengthAdjust="spacing">[0–149]</text>
<text x="307.6" y="1831.9" font-size="20.201999999999998" class="d" textLength="58" lengthAdjust="spacing">chr11</text>
<text x="370.4" y="1820.7" font-size="20.201999999999998" class="d" textLength="42.5" lengthAdjust="spacing">1 kb</text>
<rect x="368.1" y="1823.6" width="45.5" height="7.7" fill="#000" />
<text x="77.9" y="1866.3" font-size="25.9" class="d" textLength="93.3" lengthAdjust="spacing">Control</text>
<text x="27.4" y="1944.4" font-size="25.9" class="d" textLength="143.8" lengthAdjust="spacing">dKAT3-ifKO</text>
<line x1="182.1" y1="1896.5" x2="413.6" y2="1896.5" stroke="#b4b4b4" stroke-width="1.2" />
<path d="M204.1,1896.5V1895.5h0.8V1876.7h0.8V1860.4h0.8V1838.5h0.8V1839.6h0.8V1827.0h0.8V1842.3h0.8V1838.2h0.8V1841.3h0.8V1848.6h0.8V1845.4h0.8V1851.3h0.8V1845.2h0.8V1863.9h0.8V1870.6h0.8V1875.3h0.8V1872.0h0.8V1870.2h0.8V1866.2h0.8V1857.8h0.8V1852.0h0.8V1838.4h0.8V1836.2h0.8V1837.3h0.8V1846.2h0.8V1854.9h0.8V1870.5h0.8V1882.3h0.8V1879.8h0.8V1881.2h0.8V1879.7h0.8V1882.8h0.8V1885.0h0.8V1889.8h0.8V1889.5h0.8V1890.4h0.8V1891.3h0.8V1892.0h0.8V1890.3h0.8V1890.3h0.8V1892.0h0.8V1888.0h0.8V1887.4h0.8V1886.8h0.8V1885.8h0.8V1884.7h0.8V1885.7h0.8V1890.0h0.8V1889.1h0.8V1891.5h0.8V1890.5h0.8V1892.2h0.8V1892.0h0.8V1887.6h0.8V1884.7h0.8V1876.8h0.8V1880.5h0.8V1882.3h0.8V1878.3h0.8V1882.7h0.8V1881.6h0.8V1883.0h0.8V1885.1h0.8V1890.0h0.8V1888.4h0.8V1881.5h0.8V1882.1h0.8V1875.7h0.8V1874.6h0.8V1877.6h0.8V1877.3h0.8V1878.0h0.8V1878.2h0.8V1879.8h0.8V1881.2h0.8V1881.2h0.8V1879.7h0.8V1882.8h0.8V1883.0h0.8V1880.9h0.8V1883.7h0.8V1883.1h0.8V1878.4h0.8V1881.4h0.8V1881.3h0.8V1884.8h0.8V1882.1h0.8V1881.7h0.8V1886.1h0.8V1883.8h0.8V1884.8h0.8V1888.4h0.8V1885.4h0.8V1885.5h0.8V1883.8h0.8V1885.0h0.8V1882.4h0.8V1881.6h0.8V1886.2h0.8V1886.6h0.8V1884.1h0.8V1883.6h0.8V1887.7h0.8V1887.6h0.8V1887.9h0.8V1889.6h0.8V1890.2h0.8V1891.0h0.8V1891.4h0.8V1891.4h0.8V1892.5h0.8V1892.8h0.8V1892.3h0.8V1893.5h0.8V1892.7h0.8V1892.4h0.8V1893.1h0.8V1893.2h0.8V1892.0h0.8V1892.7h0.8V1892.5h0.8V1891.6h0.8V1890.6h0.8V1891.9h0.8V1891.2h0.8V1891.0h0.8V1889.5h0.8V1890.2h0.8V1887.6h0.8V1888.9h0.8V1887.1h0.8V1884.8h0.8V1885.2h0.8V1888.4h0.8V1890.4h0.8V1891.0h0.8V1889.0h0.8V1889.4h0.8V1886.3h0.8V1885.3h0.8V1888.6h0.8V1889.1h0.8V1888.2h0.8V1889.8h0.8V1890.3h0.8V1891.8h0.8V1892.6h0.8V1892.6h0.8V1892.1h0.8V1892.9h0.8V1892.3h0.8V1891.6h0.8V1891.1h0.8V1890.6h0.8V1890.1h0.8V1892.8h0.8V1894.0h0.8V1893.9h0.8V1895.2h0.8V1896.1h0.8V1896.5ZM344.1,1896.5V1896.2h0.8V1895.8h0.8V1895.6h0.8V1895.2h0.8V1894.9h0.8V1894.9h0.8V1895.4h0.8V1895.9h0.8V1896.0h0.8V1896.5ZM363.3,1896.5V1896.1h0.8V1895.9h0.8V1896.5ZM373.7,1896.5V1895.7h0.8V1895.8h0.8V1896.5Z" fill="#000" />
<line x1="182.1" y1="1972.6" x2="413.6" y2="1972.6" stroke="#b4b4b4" stroke-width="1.2" />
<path d="M204.1,1972.6V1972.3h0.8V1968.3h0.8V1962.5h0.8V1962.8h0.8V1954.9h0.8V1954.6h0.8V1959.2h0.8V1962.6h0.8V1955.6h0.8V1955.5h0.8V1951.9h0.8V1955.3h0.8V1960.6h0.8V1963.2h0.8V1964.2h0.8V1966.6h0.8V1967.3h0.8V1966.4h0.8V1963.7h0.8V1965.8h0.8V1964.4h0.8V1958.6h0.8V1959.7h0.8V1959.1h0.8V1961.3h0.8V1963.9h0.8V1962.8h0.8V1968.0h0.8V1968.3h0.8V1969.4h0.8V1969.1h0.8V1970.3h0.8V1970.8h0.8V1970.6h0.8V1971.2h0.8V1971.2h0.8V1971.1h0.8V1971.9h0.8V1972.0h0.8V1971.7h0.8V1970.9h0.8V1970.7h0.8V1970.8h0.8V1970.4h0.8V1970.8h0.8V1970.6h0.8V1971.3h0.8V1970.7h0.8V1970.8h0.8V1971.0h0.8V1971.0h0.8V1970.5h0.8V1971.3h0.8V1970.8h0.8V1969.7h0.8V1969.8h0.8V1970.2h0.8V1969.5h0.8V1969.9h0.8V1969.6h0.8V1970.4h0.8V1970.6h0.8V1970.1h0.8V1970.5h0.8V1969.9h0.8V1968.7h0.8V1969.7h0.8V1970.2h0.8V1970.0h0.8V1969.6h0.8V1968.6h0.8V1969.8h0.8V1970.2h0.8V1970.8h0.8V1970.0h0.8V1970.5h0.8V1970.7h0.8V1970.8h0.8V1970.7h0.8V1970.4h0.8V1969.3h0.8V1970.3h0.8V1970.5h0.8V1969.9h0.8V1970.3h0.8V1969.2h0.8V1970.7h0.8V1970.1h0.8V1969.8h0.8V1970.4h0.8V1969.6h0.8V1970.4h0.8V1970.8h0.8V1970.6h0.8V1971.1h0.8V1970.7h0.8V1970.9h0.8V1970.3h0.8V1970.4h0.8V1970.9h0.8V1971.4h0.8V1971.3h0.8V1971.3h0.8V1971.4h0.8V1971.5h0.8V1971.1h0.8V1971.9h0.8V1972.3h0.8V1972.6ZM307.3,1972.6V1971.4h0.8V1970.5h0.8V1969.7h0.8V1969.9h0.8V1971.1h0.8V1971.7h0.8V1972.6Z" fill="#000" />
<rect x="204.7" y="1988.5" width="80.1" height="7.5" fill="#4682b4" />
<rect x="284.8" y="1986.0" width="52.2" height="12.0" fill="#4682b4" />
<line x1="337.0" y1="1992.2" x2="387.0" y2="1992.2" stroke="#4682b4" stroke-width="1.3" />
<rect x="386.8" y="1988.5" width="9.9" height="7.5" fill="#4682b4" />
<path d="M397.2,1994.5V2003.9H378.4" fill="none" stroke="#000" stroke-width="1.3" />
<path d="M370.6,2003.9L383.6,1999.7L379.7,2003.9L383.6,2008.1Z" fill="#000" />
<text x="233.8" y="2023.4" font-size="26" textLength="102" lengthAdjust="spacing">Neurod2</text>
<text x="179.1" y="2081.1" font-size="24" class="d" textLength="93.3" lengthAdjust="spacing">[0–137]</text>
<text x="316.4" y="2083.1" font-size="20.201999999999998" class="d" textLength="44.8" lengthAdjust="spacing">chr6</text>
<text x="368.9" y="2070.4" font-size="20.201999999999998" class="d" textLength="40.8" lengthAdjust="spacing">1 kb</text>
<rect x="367.1" y="2075.5" width="40.3" height="6.2" fill="#000" />
<text x="77.9" y="2123.4" font-size="25.9" class="d" textLength="93.3" lengthAdjust="spacing">Control</text>
<text x="27.4" y="2204.2" font-size="25.9" class="d" textLength="143.8" lengthAdjust="spacing">dKAT3-ifKO</text>
<line x1="184.6" y1="2156.1" x2="405.9" y2="2156.1" stroke="#b4b4b4" stroke-width="1.2" />
<path d="M216.2,2156.1V2154.3h0.8V2148.4h0.8V2136.6h0.8V2124.6h0.8V2113.0h0.8V2108.8h0.8V2104.8h0.8V2099.3h0.8V2101.2h0.8V2086.1h0.8V2096.3h0.8V2105.6h0.8V2111.2h0.8V2127.0h0.8V2135.8h0.8V2130.2h0.8V2128.1h0.8V2133.2h0.8V2130.8h0.8V2144.5h0.8V2142.3h0.8V2137.0h0.8V2136.4h0.8V2127.1h0.8V2125.2h0.8V2117.8h0.8V2116.8h0.8V2110.2h0.8V2110.2h0.8V2104.2h0.8V2113.2h0.8V2106.5h0.8V2104.1h0.8V2108.6h0.8V2121.5h0.8V2125.3h0.8V2107.9h0.8V2088.0h0.8V2097.2h0.8V2086.7h0.8V2086.1h0.8V2099.9h0.8V2119.2h0.8V2103.5h0.8V2107.8h0.8V2099.8h0.8V2095.6h0.8V2090.8h0.8V2100.0h0.8V2113.0h0.8V2121.8h0.8V2116.0h0.8V2108.6h0.8V2110.5h0.8V2112.0h0.8V2111.5h0.8V2106.3h0.8V2105.9h0.8V2117.5h0.8V2118.9h0.8V2098.4h0.8V2093.9h0.8V2092.5h0.8V2094.6h0.8V2094.1h0.8V2101.5h0.8V2115.3h0.8V2111.8h0.8V2112.2h0.8V2097.6h0.8V2108.6h0.8V2102.7h0.8V2101.9h0.8V2114.4h0.8V2112.4h0.8V2110.9h0.8V2112.3h0.8V2109.0h0.8V2114.2h0.8V2107.8h0.8V2108.6h0.8V2102.6h0.8V2118.1h0.8V2126.0h0.8V2119.1h0.8V2116.5h0.8V2114.5h0.8V2119.2h0.8V2118.9h0.8V2116.7h0.8V2119.1h0.8V2122.2h0.8V2122.7h0.8V2130.2h0.8V2136.9h0.8V2144.1h0.8V2154.8h0.8V2156.1ZM344.2,2156.1V2155.6h0.8V2152.5h0.8V2153.7h0.8V2155.0h0.8V2155.1h0.8V2155.4h0.8V2155.7h0.8V2156.1Z" fill="#000" />
<line x1="184.6" y1="2232.7" x2="405.9" y2="2232.7" stroke="#b4b4b4" stroke-width="1.2" />
<path d="M218.6,2232.7V2232.1h0.8V2232.2h0.8V2231.4h0.8V2230.5h0.8V2231.0h0.8V2230.3h0.8V2231.3h0.8V2229.4h0.8V2230.6h0.8V2232.1h0.8V2232.7ZM237.8,2232.7V2232.1h0.8V2231.4h0.8V2231.3h0.8V2231.7h0.8V2230.3h0.8V2231.8h0.8V2231.1h0.8V2230.5h0.8V2231.1h0.8V2230.0h0.8V2231.3h0.8V2229.9h0.8V2230.0h0.8V2230.4h0.8V2230.0h0.8V2230.9h0.8V2230.2h0.8V2230.3h0.8V2230.9h0.8V2231.0h0.8V2230.6h0.8V2231.2h0.8V2231.7h0.8V2230.7h0.8V2231.5h0.8V2231.2h0.8V2230.8h0.8V2231.7h0.8V2231.9h0.8V2231.8h0.8V2231.1h0.8V2231.4h0.8V2231.6h0.8V2231.3h0.8V2230.6h0.8V2231.6h0.8V2231.3h0.8V2230.7h0.8V2231.1h0.8V2231.7h0.8V2231.5h0.8V2231.5h0.8V2232.0h0.8V2231.8h0.8V2231.9h0.8V2231.4h0.8V2231.9h0.8V2231.6h0.8V2231.4h0.8V2231.5h0.8V2232.0h0.8V2231.8h0.8V2232.1h0.8V2232.0h0.8V2232.0h0.8V2231.7h0.8V2231.6h0.8V2232.1h0.8V2232.3h0.8V2232.0h0.8V2232.3h0.8V2232.3h0.8V2231.7h0.8V2232.2h0.8V2231.8h0.8V2232.3h0.8V2232.7Z" fill="#000" />
<rect x="218.1" y="2251.4" width="33.1" height="5.0" fill="#4682b4" />
<rect x="251.2" y="2249.4" width="41.1" height="8.9" fill="#4682b4" />
<line x1="292.0" y1="2253.9" x2="345.0" y2="2253.9" stroke="#4682b4" stroke-width="1.3" />
<rect x="344.5" y="2251.4" width="11.7" height="5.0" fill="#4682b4" />
<path d="M355.7,2256.0V2265.8H337.4" fill="none" stroke="#000" stroke-width="1.3" />
<path d="M329.6,2265.8L342.6,2261.6L338.7,2265.8L342.6,2270.0Z" fill="#000" />
<text x="202.8" y="2283.1" font-size="26" textLength="102.5" lengthAdjust="spacing">Neurod6</text>
<text transform="translate(479.5 1740.3) scale(0.95 1)" font-size="43" font-weight="bold">k</text>
<rect x="556.1" y="1793.6" width="26.9" height="6.6" fill="#000" />
<text x="592.4" y="1806.1" font-size="26.7" class="d" textLength="101.8" lengthAdjust="spacing">Control</text>
<rect x="556.1" y="1825.2" width="26.9" height="6.6" fill="#ee2a2e" />
<text x="592.4" y="1839.1" font-size="26.7" class="d" textLength="86.1" lengthAdjust="spacing">dKAT3</text>
<text x="566.3" y="1877.6" font-size="26.7" class="d" textLength="121.3" lengthAdjust="spacing">NeuroD2</text>
<rect x="552.1" y="1884.4" width="163.6" height="188.8" fill="#fff" />
<line x1="558.8" y1="1884.4" x2="558.8" y2="2073.2" stroke="#efefef" stroke-width="1.0" />
<line x1="596.1" y1="1884.4" x2="596.1" y2="2073.2" stroke="#f4f4f4" stroke-width="1.0" />
<line x1="633.5" y1="1884.4" x2="633.5" y2="2073.2" stroke="#efefef" stroke-width="1.0" />
<line x1="670.9" y1="1884.4" x2="670.9" y2="2073.2" stroke="#f4f4f4" stroke-width="1.0" />
<line x1="708.2" y1="1884.4" x2="708.2" y2="2073.2" stroke="#efefef" stroke-width="1.0" />
<line x1="552.1" y1="1934.2" x2="715.7" y2="1934.2" stroke="#f0f0f0" stroke-width="1.0" />
<line x1="549.0" y1="1934.2" x2="552.1" y2="1934.2" stroke="#ccc" stroke-width="1" />
<text x="537.0" y="1943.7" font-size="26.2" class="d" text-anchor="end">3</text>
<line x1="552.1" y1="1990.8" x2="715.7" y2="1990.8" stroke="#f0f0f0" stroke-width="1.0" />
<line x1="549.0" y1="1990.8" x2="552.1" y2="1990.8" stroke="#ccc" stroke-width="1" />
<text x="537.0" y="2000.3" font-size="26.2" class="d" text-anchor="end">2</text>
<line x1="552.1" y1="2047.4" x2="715.7" y2="2047.4" stroke="#f0f0f0" stroke-width="1.0" />
<line x1="549.0" y1="2047.4" x2="552.1" y2="2047.4" stroke="#ccc" stroke-width="1" />
<text x="537.0" y="2056.9" font-size="26.2" class="d" text-anchor="end">1</text>
<line x1="552.1" y1="2019.1" x2="715.7" y2="2019.1" stroke="#f4f4f4" stroke-width="0.7" />
<line x1="552.1" y1="1962.5" x2="715.7" y2="1962.5" stroke="#f4f4f4" stroke-width="0.7" />
<line x1="552.1" y1="1905.9" x2="715.7" y2="1905.9" stroke="#f4f4f4" stroke-width="0.7" />
<rect x="552.1" y="2091.0" width="163.6" height="187.0" fill="#fff" />
<line x1="558.8" y1="2091.0" x2="558.8" y2="2278.0" stroke="#efefef" stroke-width="1.0" />
<line x1="596.1" y1="2091.0" x2="596.1" y2="2278.0" stroke="#f4f4f4" stroke-width="1.0" />
<line x1="633.5" y1="2091.0" x2="633.5" y2="2278.0" stroke="#efefef" stroke-width="1.0" />
<line x1="670.9" y1="2091.0" x2="670.9" y2="2278.0" stroke="#f4f4f4" stroke-width="1.0" />
<line x1="708.2" y1="2091.0" x2="708.2" y2="2278.0" stroke="#efefef" stroke-width="1.0" />
<line x1="552.1" y1="2118.2" x2="715.7" y2="2118.2" stroke="#f0f0f0" stroke-width="1.0" />
<line x1="549.0" y1="2118.2" x2="552.1" y2="2118.2" stroke="#ccc" stroke-width="1" />
<text x="537.0" y="2127.7" font-size="26.2" class="d" text-anchor="end">5</text>
<line x1="552.1" y1="2150.4" x2="715.7" y2="2150.4" stroke="#f0f0f0" stroke-width="1.0" />
<line x1="549.0" y1="2150.4" x2="552.1" y2="2150.4" stroke="#ccc" stroke-width="1" />
<text x="537.0" y="2159.9" font-size="26.2" class="d" text-anchor="end">4</text>
<line x1="552.1" y1="2182.7" x2="715.7" y2="2182.7" stroke="#f0f0f0" stroke-width="1.0" />
<line x1="549.0" y1="2182.7" x2="552.1" y2="2182.7" stroke="#ccc" stroke-width="1" />
<text x="537.0" y="2192.2" font-size="26.2" class="d" text-anchor="end">3</text>
<line x1="552.1" y1="2214.9" x2="715.7" y2="2214.9" stroke="#f0f0f0" stroke-width="1.0" />
<line x1="549.0" y1="2214.9" x2="552.1" y2="2214.9" stroke="#ccc" stroke-width="1" />
<text x="537.0" y="2224.4" font-size="26.2" class="d" text-anchor="end">2</text>
<line x1="552.1" y1="2247.2" x2="715.7" y2="2247.2" stroke="#f0f0f0" stroke-width="1.0" />
<line x1="549.0" y1="2247.2" x2="552.1" y2="2247.2" stroke="#ccc" stroke-width="1" />
<text x="537.0" y="2256.7" font-size="26.2" class="d" text-anchor="end">1</text>
<line x1="552.1" y1="2263.3" x2="715.7" y2="2263.3" stroke="#f4f4f4" stroke-width="0.7" />
<line x1="552.1" y1="2231.1" x2="715.7" y2="2231.1" stroke="#f4f4f4" stroke-width="0.7" />
<line x1="552.1" y1="2198.8" x2="715.7" y2="2198.8" stroke="#f4f4f4" stroke-width="0.7" />
<line x1="552.1" y1="2166.6" x2="715.7" y2="2166.6" stroke="#f4f4f4" stroke-width="0.7" />
<line x1="552.1" y1="2134.3" x2="715.7" y2="2134.3" stroke="#f4f4f4" stroke-width="0.7" />
<line x1="552.1" y1="2102.1" x2="715.7" y2="2102.1" stroke="#f4f4f4" stroke-width="0.7" />
<path d="M558.8,1981.1L559.5,1968.0L560.3,1962.6L561.0,1974.1L561.8,1980.0L562.5,1969.5L563.3,1964.6L564.0,1959.1L564.8,1976.8L565.5,1976.7L566.3,1960.2L567.0,1961.2L567.8,1952.1L568.5,1955.6L569.3,1963.4L570.0,1963.9L570.8,1940.4L571.5,1962.2L572.2,1965.1L573.0,1966.9L573.7,1956.1L574.5,1954.7L575.2,1957.5L576.0,1954.1L576.7,1950.3L577.5,1945.9L578.2,1941.5L579.0,1947.3L579.7,1962.0L580.5,1941.1L581.2,1956.7L582.0,1945.6L582.7,1954.7L583.5,1941.8L584.2,1946.7L584.9,1937.6L585.7,1911.9L586.4,1937.1L587.2,1928.3L587.9,1943.2L588.7,1931.8L589.4,1920.1L590.2,1921.1L590.9,1912.3L591.7,1910.3L592.4,1917.0L593.2,1904.9L593.9,1918.2L594.7,1900.4L595.4,1922.5L596.1,1915.6L596.9,1922.6L597.6,1915.7L598.4,1928.2L599.1,1915.4L599.9,1924.2L600.6,1913.0L601.4,1918.0L602.1,1921.8L602.9,1929.1L603.6,1916.9L604.4,1919.5L605.1,1910.5L605.9,1926.8L606.6,1919.8L607.4,1920.6L608.1,1923.0L608.8,1924.2L609.6,1925.0L610.3,1931.9L611.1,1936.0L611.8,1931.9L612.6,1924.6L613.3,1917.1L614.1,1919.6L614.8,1914.9L615.6,1911.2L616.3,1906.4L617.1,1909.0L617.8,1908.1L618.6,1907.8L619.3,1932.6L620.1,1941.8L620.8,1924.7L621.5,1940.6L622.3,1936.4L623.0,1938.5L623.8,1955.6L624.5,1928.6L625.3,1935.2L626.0,1949.5L626.8,1947.2L627.5,1955.5L628.3,1969.0L629.0,1971.3L629.8,1979.5L630.5,1989.1L631.3,2009.7L632.0,2031.1L632.8,2032.4L633.5,2053.4L634.2,2036.9L635.0,2022.7L635.7,2017.6L636.5,2012.1L637.2,1989.6L638.0,1968.5L638.7,1957.8L639.5,1944.3L640.2,1961.1L641.0,1950.9L641.7,1944.1L642.5,1949.1L643.2,1965.4L644.0,1939.0L644.7,1925.9L645.5,1935.0L646.2,1949.0L646.9,1943.8L647.7,1937.6L648.4,1918.5L649.2,1932.1L649.9,1935.0L650.7,1922.4L651.4,1934.3L652.2,1917.9L652.9,1937.0L653.7,1934.4L654.4,1924.0L655.2,1917.5L655.9,1922.8L656.7,1924.8L657.4,1940.9L658.2,1931.5L658.9,1930.0L659.6,1928.9L660.4,1919.6L661.1,1926.5L661.9,1917.2L662.6,1922.6L663.4,1925.6L664.1,1922.0L664.9,1919.4L665.6,1914.1L666.4,1911.1L667.1,1893.7L667.9,1918.3L668.6,1908.6L669.4,1911.7L670.1,1924.8L670.9,1927.2L671.6,1933.2L672.3,1922.0L673.1,1921.6L673.8,1905.9L674.6,1921.1L675.3,1929.3L676.1,1942.6L676.8,1912.5L677.6,1922.8L678.3,1937.9L679.1,1925.0L679.8,1940.7L680.6,1902.1L681.3,1922.7L682.1,1929.1L682.8,1937.1L683.5,1954.8L684.3,1940.9L685.0,1954.1L685.8,1938.9L686.5,1962.3L687.3,1954.1L688.0,1938.7L688.8,1936.8L689.5,1960.5L690.3,1964.5L691.0,1946.6L691.8,1947.9L692.5,1963.6L693.3,1962.4L694.0,1963.4L694.8,1968.3L695.5,1965.3L696.2,1950.9L697.0,1956.2L697.7,1946.3L698.5,1964.1L699.2,1965.3L700.0,1972.8L700.7,1966.7L701.5,1976.9L702.2,1981.2L703.0,1962.3L703.7,1957.0L704.5,1962.3L705.2,1959.0L706.0,1968.0L706.7,1976.2L707.5,1970.3L708.2,1974.4" fill="none" stroke="#000" stroke-width="2.3" stroke-linejoin="round" clip-path="url(#ck1)"/>
<path d="M558.8,2023.4L559.5,2027.8L560.3,2026.0L561.0,2014.1L561.8,2012.7L562.5,2017.4L563.3,2002.1L564.0,2011.8L564.8,2008.3L565.5,2003.0L566.3,2018.9L567.0,2027.7L567.8,2005.8L568.5,2016.9L569.3,2000.7L570.0,2008.0L570.8,2002.3L571.5,2003.9L572.2,2026.0L573.0,2003.3L573.7,2013.9L574.5,2014.1L575.2,2011.0L576.0,2000.9L576.7,1999.5L577.5,1997.9L578.2,2018.5L579.0,2009.4L579.7,2022.9L580.5,2004.2L581.2,1998.0L582.0,2008.1L582.7,1999.4L583.5,1998.8L584.2,1991.9L584.9,2005.6L585.7,2004.9L586.4,2003.4L587.2,1982.3L587.9,1986.0L588.7,1993.3L589.4,1987.5L590.2,1984.8L590.9,1980.3L591.7,1980.5L592.4,1979.9L593.2,1987.3L593.9,1983.9L594.7,1967.9L595.4,1978.9L596.1,1984.1L596.9,1987.1L597.6,1985.1L598.4,1982.5L599.1,1989.9L599.9,1982.7L600.6,1981.8L601.4,1989.1L602.1,1988.9L602.9,1990.1L603.6,1990.1L604.4,1974.2L605.1,1999.6L605.9,1982.7L606.6,1985.1L607.4,1985.0L608.1,1979.1L608.8,1970.7L609.6,1979.0L610.3,1980.6L611.1,1984.3L611.8,1980.4L612.6,1971.8L613.3,1981.0L614.1,1984.1L614.8,1979.7L615.6,1970.9L616.3,1966.3L617.1,1943.9L617.8,1953.2L618.6,1965.4L619.3,1960.2L620.1,1983.1L620.8,1975.4L621.5,1976.9L622.3,1996.4L623.0,1997.2L623.8,1992.9L624.5,1979.1L625.3,1976.8L626.0,1997.9L626.8,1981.4L627.5,1995.3L628.3,1999.6L629.0,2007.4L629.8,2015.2L630.5,2039.3L631.3,2046.7L632.0,2061.5L632.8,2057.1L633.5,2047.8L634.2,2039.4L635.0,2054.4L635.7,2052.4L636.5,2028.2L637.2,2020.1L638.0,1987.3L638.7,1991.9L639.5,1997.8L640.2,1981.4L641.0,1981.5L641.7,1994.8L642.5,1981.4L643.2,1974.8L644.0,1970.6L644.7,1970.6L645.5,1977.3L646.2,1976.5L646.9,1984.9L647.7,1988.4L648.4,1969.4L649.2,1978.4L649.9,1977.4L650.7,1993.2L651.4,1981.6L652.2,1973.6L652.9,1990.1L653.7,1971.0L654.4,1982.7L655.2,1976.3L655.9,1980.5L656.7,1977.8L657.4,1970.0L658.2,1982.9L658.9,1967.4L659.6,1986.2L660.4,1987.7L661.1,1975.0L661.9,1989.4L662.6,1984.2L663.4,1974.5L664.1,1972.6L664.9,1996.7L665.6,1979.2L666.4,1968.8L667.1,1974.8L667.9,1986.8L668.6,1990.3L669.4,1988.6L670.1,1996.0L670.9,1989.7L671.6,1989.8L672.3,1990.2L673.1,1980.5L673.8,1992.4L674.6,2002.9L675.3,1983.8L676.1,2001.4L676.8,1997.3L677.6,1995.6L678.3,1998.0L679.1,2004.0L679.8,1998.8L680.6,1980.3L681.3,2003.2L682.1,2000.2L682.8,1991.0L683.5,1994.7L684.3,1995.3L685.0,1995.2L685.8,2018.3L686.5,2010.3L687.3,2003.0L688.0,2000.7L688.8,1995.0L689.5,2002.2L690.3,2008.4L691.0,2006.7L691.8,2009.2L692.5,2006.1L693.3,2003.2L694.0,2011.7L694.8,2015.9L695.5,2016.7L696.2,2001.6L697.0,2000.6L697.7,2003.2L698.5,2004.7L699.2,2005.2L700.0,2012.1L700.7,2007.1L701.5,2021.0L702.2,2014.6L703.0,2019.0L703.7,2007.7L704.5,2018.2L705.2,2014.7L706.0,2010.9L706.7,2003.5L707.5,2020.7L708.2,2022.0" fill="none" stroke="#ee2a2e" stroke-width="2.3" stroke-linejoin="round" clip-path="url(#ck1)"/>
<path d="M558.8,2189.1L559.5,2220.4L560.3,2236.4L561.0,2235.7L561.8,2221.7L562.5,2233.4L563.3,2217.2L564.0,2228.4L564.8,2225.8L565.5,2224.1L566.3,2240.7L567.0,2215.5L567.8,2240.8L568.5,2124.6L569.3,2235.9L570.0,2226.9L570.8,2246.6L571.5,2235.7L572.2,2218.9L573.0,2231.4L573.7,2144.0L574.5,2240.8L575.2,2160.1L576.0,2244.2L576.7,2228.7L577.5,2194.0L578.2,2240.1L579.0,2230.1L579.7,2212.6L580.5,2219.4L581.2,2230.6L582.0,2216.9L582.7,2204.1L583.5,2233.2L584.2,2169.8L584.9,2231.5L585.7,2221.2L586.4,2242.4L587.2,2176.2L587.9,2212.2L588.7,2210.5L589.4,2242.6L590.2,2204.8L590.9,2221.6L591.7,2231.3L592.4,2234.9L593.2,2234.2L593.9,2227.1L594.7,2246.5L595.4,2227.7L596.1,2118.2L596.9,2230.0L597.6,2137.5L598.4,2178.4L599.1,2219.3L599.9,2210.5L600.6,2153.7L601.4,2237.8L602.1,2237.1L602.9,2238.7L603.6,2241.4L604.4,2202.7L605.1,2237.0L605.9,2234.3L606.6,2230.8L607.4,2227.2L608.1,2228.1L608.8,2200.5L609.6,2240.4L610.3,2202.1L611.1,2179.5L611.8,2243.6L612.6,2226.0L613.3,2233.9L614.1,2166.6L614.8,2207.4L615.6,2205.1L616.3,2213.1L617.1,2228.8L617.8,2232.2L618.6,2238.0L619.3,2212.5L620.1,2182.7L620.8,2244.5L621.5,2234.9L622.3,2215.9L623.0,2228.3L623.8,2244.6L624.5,2229.8L625.3,2187.6L626.0,2226.0L626.8,2182.7L627.5,2212.4L628.3,2218.1L629.0,2227.6L629.8,2239.7L630.5,2253.2L631.3,2240.4L632.0,2236.0L632.8,2238.1L633.5,2245.9L634.2,2237.4L635.0,2247.3L635.7,2252.1L636.5,2240.5L637.2,2249.4L638.0,2219.8L638.7,2237.1L639.5,2231.1L640.2,2236.3L641.0,2240.8L641.7,2098.8L642.5,2242.9L643.2,2150.4L644.0,2221.4L644.7,2246.0L645.5,2233.3L646.2,2194.8L646.9,2229.0L647.7,2241.6L648.4,2140.8L649.2,2219.2L649.9,2219.6L650.7,2240.7L651.4,2182.7L652.2,2214.8L652.9,2236.0L653.7,2214.3L654.4,2237.2L655.2,2245.0L655.9,2214.5L656.7,2244.1L657.4,2237.7L658.2,2223.4L658.9,2206.8L659.6,2202.3L660.4,2224.3L661.1,2210.8L661.9,2241.0L662.6,2246.2L663.4,2121.4L664.1,2230.2L664.9,2207.9L665.6,2232.1L666.4,2230.3L667.1,2246.8L667.9,2220.5L668.6,2214.6L669.4,2223.9L670.1,2241.5L670.9,2201.0L671.6,2176.2L672.3,2194.3L673.1,2111.8L673.8,2225.2L674.6,2246.1L675.3,2217.8L676.1,2137.5L676.8,2236.3L677.6,2189.1L678.3,2205.9L679.1,2240.2L679.8,2233.0L680.6,2223.9L681.3,2246.8L682.1,2240.4L682.8,2240.1L683.5,2231.4L684.3,2238.0L685.0,2185.9L685.8,2244.9L686.5,2213.9L687.3,2213.9L688.0,2182.7L688.8,2238.9L689.5,2235.4L690.3,2221.9L691.0,2221.2L691.8,2186.9L692.5,2240.5L693.3,2242.6L694.0,2233.2L694.8,2237.4L695.5,2239.1L696.2,2240.5L697.0,2242.2L697.7,2243.6L698.5,2230.1L699.2,2239.5L700.0,2218.4L700.7,2203.8L701.5,2231.6L702.2,2244.8L703.0,2219.4L703.7,2231.5L704.5,2243.6L705.2,2203.0L706.0,2210.5L706.7,2192.4L707.5,2238.1L708.2,2227.6" fill="none" stroke="#000" stroke-width="1.7" stroke-linejoin="round" clip-path="url(#ck2)"/>
<path d="M558.8,2210.2L559.5,2239.1L560.3,2259.2L561.0,2255.1L561.8,2230.1L562.5,2257.3L563.3,2230.2L564.0,2246.3L564.8,2235.8L565.5,2251.9L566.3,2252.5L567.0,2261.3L567.8,2265.9L568.5,2145.6L569.3,2252.9L570.0,2233.3L570.8,2250.5L571.5,2257.8L572.2,2250.8L573.0,2256.3L573.7,2151.5L574.5,2241.8L575.2,2166.7L576.0,2259.0L576.7,2264.9L577.5,2257.8L578.2,2252.6L579.0,2245.2L579.7,2216.5L580.5,2238.8L581.2,2259.9L582.0,2224.8L582.7,2241.1L583.5,2250.2L584.2,2195.5L584.9,2257.5L585.7,2260.5L586.4,2252.6L587.2,2192.8L587.9,2246.1L588.7,2228.0L589.4,2252.1L590.2,2210.4L590.9,2228.7L591.7,2249.3L592.4,2252.0L593.2,2248.6L593.9,2242.1L594.7,2262.3L595.4,2231.9L596.1,2140.3L596.9,2252.8L597.6,2171.8L598.4,2218.6L599.1,2249.4L599.9,2233.4L600.6,2250.8L601.4,2266.2L602.1,2243.3L602.9,2245.2L603.6,2249.7L604.4,2265.1L605.1,2250.4L605.9,2243.8L606.6,2247.9L607.4,2234.5L608.1,2228.6L608.8,2238.3L609.6,2261.0L610.3,2213.8L611.1,2203.3L611.8,2254.9L612.6,2248.2L613.3,2242.1L614.1,2173.0L614.8,2222.4L615.6,2205.8L616.3,2253.0L617.1,2260.3L617.8,2232.9L618.6,2256.8L619.3,2247.0L620.1,2205.6L620.8,2260.9L621.5,2241.0L622.3,2261.0L623.0,2248.4L623.8,2253.3L624.5,2256.5L625.3,2209.4L626.0,2227.6L626.8,2189.1L627.5,2253.7L628.3,2227.6L629.0,2248.4L629.8,2254.7L630.5,2263.0L631.3,2258.8L632.0,2241.8L632.8,2253.7L633.5,2254.9L634.2,2258.6L635.0,2253.6L635.7,2265.1L636.5,2252.7L637.2,2257.0L638.0,2222.1L638.7,2246.4L639.5,2238.6L640.2,2248.0L641.0,2257.7L641.7,2135.1L642.5,2245.3L643.2,2181.7L644.0,2221.7L644.7,2254.1L645.5,2239.4L646.2,2229.0L646.9,2243.8L647.7,2253.5L648.4,2164.2L649.2,2246.6L649.9,2252.7L650.7,2259.7L651.4,2194.8L652.2,2261.7L652.9,2247.2L653.7,2227.9L654.4,2238.4L655.2,2256.3L655.9,2261.1L656.7,2254.1L657.4,2239.4L658.2,2256.7L658.9,2237.7L659.6,2256.4L660.4,2251.6L661.1,2211.5L661.9,2259.0L662.6,2258.3L663.4,2260.5L664.1,2264.7L664.9,2242.7L665.6,2255.5L666.4,2248.3L667.1,2251.6L667.9,2225.3L668.6,2240.2L669.4,2230.9L670.1,2245.1L670.9,2258.9L671.6,2252.3L672.3,2265.9L673.1,2120.5L673.8,2232.4L674.6,2261.3L675.3,2237.0L676.1,2173.0L676.8,2237.2L677.6,2207.4L678.3,2265.2L679.1,2257.8L679.8,2253.1L680.6,2259.9L681.3,2258.9L682.1,2254.1L682.8,2263.4L683.5,2252.8L684.3,2248.8L685.0,2208.5L685.8,2263.8L686.5,2249.9L687.3,2238.7L688.0,2196.3L688.8,2242.5L689.5,2257.5L690.3,2226.8L691.0,2233.3L691.8,2262.7L692.5,2243.2L693.3,2251.3L694.0,2256.3L694.8,2255.3L695.5,2262.3L696.2,2253.6L697.0,2254.8L697.7,2262.1L698.5,2252.8L699.2,2242.6L700.0,2227.1L700.7,2254.8L701.5,2263.0L702.2,2257.0L703.0,2234.1L703.7,2252.9L704.5,2254.5L705.2,2241.9L706.0,2214.5L706.7,2199.2L707.5,2257.4L708.2,2243.1" fill="none" stroke="#ee2a2e" stroke-width="1.7" stroke-linejoin="round" clip-path="url(#ck2)"/>
<rect x="552.1" y="1884.4" width="163.6" height="188.8" fill="none" stroke="#d2d2d2" stroke-width="1.2" />
<rect x="552.1" y="2091.0" width="163.6" height="187.0" fill="none" stroke="#d2d2d2" stroke-width="1.2" />
<line x1="558.8" y1="2278.0" x2="558.8" y2="2281.5" stroke="#bbb" stroke-width="1" />
<line x1="596.1" y1="2278.0" x2="596.1" y2="2281.5" stroke="#bbb" stroke-width="1" />
<line x1="633.5" y1="2278.0" x2="633.5" y2="2281.5" stroke="#bbb" stroke-width="1" />
<line x1="670.9" y1="2278.0" x2="670.9" y2="2281.5" stroke="#bbb" stroke-width="1" />
<line x1="708.2" y1="2278.0" x2="708.2" y2="2281.5" stroke="#bbb" stroke-width="1" />
<text x="555.4" y="2069.3" font-size="16.5" font-style="italic">n</text>
<text x="567.5" y="2069.3" font-size="16.5">= 2179</text>
<text x="554.5" y="2274.5" font-size="16.5" font-style="italic">n</text>
<text x="566.6" y="2274.5" font-size="16.5">= 81</text>
<text x="549.0" y="2307.2" font-size="26.2" class="d" text-anchor="middle">–100</text>
<text x="633.5" y="2307.2" font-size="26.2" class="d" text-anchor="middle">0</text>
<text x="706.7" y="2307.2" font-size="26.2" class="d" text-anchor="middle">100</text>
<text x="502.3" y="1977.0" font-size="27.7" text-anchor="middle" fill="#0a8c0a" transform="rotate(-90 502.3 1977.0)">Neuro</text>
<text x="502.5" y="2169.8" font-size="27.7" text-anchor="middle" fill="#ffa500" transform="rotate(-90 502.5 2169.8)">Pancellular</text>
<rect x="784.4" y="1710.6" width="5.7" height="30.1" fill="#000" />
<rect x="854.5" y="1786.4" width="4.3" height="75.7" fill="#000" />
<text x="845.8" y="1826.6" font-size="26.0" class="d" text-anchor="middle" transform="rotate(-90 845.8 1826.6)" letter-spacing="1">CBP</text>
<rect x="854.5" y="1872.3" width="4.3" height="75.7" fill="#000" />
<text x="845.8" y="1909.6" font-size="26.0" class="d" text-anchor="middle" transform="rotate(-90 845.8 1909.6)" letter-spacing="1">P300</text>
<rect x="854.5" y="1955.5" width="4.3" height="75.8" fill="#000" />
<text x="845.8" y="1990.6" font-size="26.0" class="d" text-anchor="middle" transform="rotate(-90 845.8 1990.6)" letter-spacing="1">ATAC</text>
<rect x="854.5" y="2042.6" width="4.3" height="75.1" fill="#000" />
<text x="845.8" y="2081.5" font-size="22.5" class="d" text-anchor="middle" transform="rotate(-90 845.8 2081.5)" textLength="98" lengthAdjust="spacing">H3K27ac</text>
<rect x="854.5" y="2213.3" width="4.3" height="75.3" fill="#000" />
<text x="845.8" y="2251.2" font-size="26.0" class="d" text-anchor="middle" transform="rotate(-90 845.8 2251.2)" textLength="98" lengthAdjust="spacing">RNAseq</text>
<text x="946.6" y="1810.8" font-size="26.0" class="d" text-anchor="end" letter-spacing="0.8">wt</text>
<text x="861.0" y="1853.3" font-size="26.0" class="d" textLength="85.5" lengthAdjust="spacing">dKAT3</text>
<text x="946.6" y="1892.9" font-size="26.0" class="d" text-anchor="end" letter-spacing="0.8">wt</text>
<text x="861.0" y="1935.2" font-size="26.0" class="d" textLength="85.5" lengthAdjust="spacing">dKAT3</text>
<text x="946.6" y="1980.4" font-size="26.0" class="d" text-anchor="end" letter-spacing="0.8">wt</text>
<text x="861.0" y="2022.2" font-size="26.0" class="d" textLength="85.5" lengthAdjust="spacing">dKAT3</text>
<text x="946.6" y="2068.6" font-size="26.0" class="d" text-anchor="end" letter-spacing="0.8">wt</text>
<text x="861.0" y="2110.4" font-size="26.0" class="d" textLength="85.5" lengthAdjust="spacing">dKAT3</text>
<text x="946.6" y="2239.8" font-size="26.0" class="d" text-anchor="end" letter-spacing="0.8">wt</text>
<text x="861.0" y="2281.2" font-size="26.0" class="d" textLength="85.5" lengthAdjust="spacing">dKAT3</text>
<text x="781.5" y="2156.4" font-size="26.0" class="d" textLength="165" lengthAdjust="spacing">wt NeuroD2</text>
<text x="775.4" y="2190.1" font-size="20.3" class="d" textLength="171" lengthAdjust="spacing">bHLH footprint</text>
<text x="1359.3" y="1759.3" font-size="26.0" class="d" textLength="60" lengthAdjust="spacing">chr4</text>
<text x="1455.3" y="1739.0" font-size="26.0" class="d" textLength="53.8" lengthAdjust="spacing">5 kb</text>
<rect x="1425.7" y="1742.5" width="107.2" height="13.6" fill="#000" />
<text x="1704.8" y="1759.3" font-size="26.0" class="d" textLength="82" lengthAdjust="spacing">chr15</text>
<text x="1833.3" y="1738.5" font-size="26.0" class="d" textLength="58" lengthAdjust="spacing">5 kb</text>
<rect x="1791.7" y="1742.8" width="154.1" height="13.5" fill="#000" />
<text x="969.2" y="1789.9" font-size="21.2" class="d" fill="#0a9a0a" textLength="80.9" lengthAdjust="spacing">[0–4.2]</text>
<text x="969.2" y="1882.6" font-size="21.2" class="d" textLength="80.9" lengthAdjust="spacing">[0–4.2]</text>
<text x="969.2" y="1970.3" font-size="21.2" class="d" fill="#757575" textLength="80.9" lengthAdjust="spacing">[0–6.7]</text>
<text x="969.2" y="2057.9" font-size="21.2" class="d" fill="#ff00ff" textLength="80.9" lengthAdjust="spacing">[0–4.7]</text>
<text x="961.9" y="2146.1" font-size="21.2" class="d" fill="#ff6a00" textLength="88.2" lengthAdjust="spacing">[0–134]</text>
<text x="954.0" y="2235.6" font-size="21.2" class="d" textLength="96.1" lengthAdjust="spacing">[0–1.9K]</text>
<text x="1575.6" y="1789.3" font-size="21.2" class="d" fill="#0a9a0a" textLength="80.9" lengthAdjust="spacing">[0–2.9]</text>
<text x="1575.6" y="1879.8" font-size="21.2" class="d" fill="#0000b4" textLength="80.9" lengthAdjust="spacing">[0–2.9]</text>
<text x="1583.9" y="1970.1" font-size="21.2" class="d" fill="#757575" textLength="72.6" lengthAdjust="spacing">[0–15]</text>
<text x="1575.6" y="2059.5" font-size="21.2" class="d" fill="#ff00ff" textLength="80.9" lengthAdjust="spacing">[0–7.7]</text>
<text x="1583.9" y="2142.8" font-size="21.2" class="d" fill="#ff6a00" textLength="72.6" lengthAdjust="spacing">[0–21]</text>
<text x="1560.0" y="2238.1" font-size="21.2" class="d" textLength="96.5" lengthAdjust="spacing">[0–1.4K]</text>
<line x1="969.2" y1="1816.4" x2="1534.3" y2="1816.4" stroke="#0a9a0a" stroke-width="1.0" />
<path d="M969.7,1816.4V1815.4h1V1816.4ZM971.7,1816.4V1815.1h1V1815.2h1V1816.4ZM974.7,1816.4V1815.8h1V1816.0h1V1816.4ZM980.7,1816.4V1816.1h1V1816.4ZM983.7,1816.4V1815.7h1V1816.4ZM989.7,1816.4V1815.2h1V1816.4ZM992.7,1816.4V1815.0h1V1816.4ZM994.7,1816.4V1815.5h1V1816.4ZM997.7,1816.4V1815.5h1V1816.4ZM1005.7,1816.4V1815.4h1V1816.4ZM1010.7,1816.4V1816.0h1V1816.4ZM1014.7,1816.4V1815.9h1V1816.4ZM1016.7,1816.4V1815.0h1V1816.4ZM1018.7,1816.4V1814.3h1V1816.4ZM1020.7,1816.4V1815.3h1V1816.4ZM1022.7,1816.4V1815.9h1V1816.4ZM1024.7,1816.4V1816.1h1V1816.4ZM1028.7,1816.4V1815.2h1V1816.4ZM1032.7,1816.4V1814.9h1V1816.0h1V1815.5h1V1814.5h1V1813.4h1V1809.8h1V1808.1h1V1805.9h1V1802.8h1V1800.0h1V1797.1h1V1796.0h1V1797.9h1V1800.5h1V1802.3h1V1806.5h1V1808.2h1V1811.9h1V1813.7h1V1814.9h1V1815.6h1V1816.0h1V1815.8h1V1816.0h1V1816.0h1V1816.4ZM1062.7,1816.4V1815.6h1V1816.4ZM1066.7,1816.4V1816.0h1V1816.4ZM1069.7,1816.4V1816.1h1V1816.4ZM1071.7,1816.4V1815.1h1V1816.4ZM1074.7,1816.4V1815.9h1V1816.4ZM1077.7,1816.4V1815.9h1V1815.9h1V1816.4ZM1080.7,1816.4V1815.1h1V1814.6h1V1816.0h1V1816.4ZM1084.7,1816.4V1815.6h1V1816.4ZM1087.7,1816.4V1815.7h1V1816.1h1V1814.5h1V1816.4ZM1091.7,1816.4V1814.8h1V1816.1h1V1816.4ZM1095.7,1816.4V1814.9h1V1815.3h1V1814.4h1V1816.4ZM1099.7,1816.4V1814.3h1V1816.4ZM1102.7,1816.4V1814.2h1V1816.4ZM1105.7,1816.4V1815.8h1V1816.4ZM1107.7,1816.4V1815.0h1V1815.9h1V1815.4h1V1816.4ZM1114.7,1816.4V1814.8h1V1815.7h1V1816.4ZM1117.7,1816.4V1816.1h1V1814.4h1V1816.4ZM1121.7,1816.4V1815.2h1V1816.0h1V1816.4ZM1128.7,1816.4V1815.7h1V1816.4ZM1131.7,1816.4V1814.7h1V1816.4ZM1133.7,1816.4V1816.1h1V1816.1h1V1816.4ZM1137.7,1816.4V1816.0h1V1816.4ZM1142.7,1816.4V1815.1h1V1815.0h1V1815.1h1V1816.4ZM1146.7,1816.4V1815.0h1V1815.9h1V1815.3h1V1816.4ZM1151.7,1816.4V1814.8h1V1815.1h1V1815.3h1V1816.4ZM1157.7,1816.4V1815.6h1V1816.4ZM1159.7,1816.4V1815.7h1V1816.4ZM1161.7,1816.4V1815.7h1V1816.4ZM1166.7,1816.4V1814.2h1V1815.6h1V1816.1h1V1815.9h1V1815.3h1V1814.9h1V1813.3h1V1814.2h1V1814.1h1V1813.6h1V1812.7h1V1813.0h1V1812.9h1V1813.0h1V1812.1h1V1813.5h1V1813.7h1V1814.4h1V1814.9h1V1813.5h1V1815.6h1V1815.7h1V1814.5h1V1816.0h1V1816.0h1V1815.6h1V1815.9h1V1814.3h1V1815.2h1V1815.3h1V1815.1h1V1812.7h1V1814.4h1V1814.1h1V1813.7h1V1813.1h1V1812.8h1V1812.4h1V1811.9h1V1811.2h1V1811.2h1V1810.9h1V1810.6h1V1809.9h1V1810.6h1V1810.6h1V1810.8h1V1811.0h1V1809.5h1V1811.7h1V1811.8h1V1812.0h1V1812.8h1V1813.3h1V1813.7h1V1813.9h1V1814.1h1V1813.0h1V1813.6h1V1811.6h1V1813.0h1V1811.7h1V1812.8h1V1812.6h1V1811.8h1V1812.6h1V1812.4h1V1811.0h1V1809.8h1V1806.2h1V1800.9h1V1794.2h1V1787.3h1V1780.2h1V1780.3h1V1782.5h1V1788.0h1V1796.3h1V1802.4h1V1808.8h1V1812.5h1V1814.6h1V1815.7h1V1816.1h1V1814.5h1V1815.9h1V1816.0h1V1816.4ZM1254.7,1816.4V1815.4h1V1816.4ZM1257.7,1816.4V1816.1h1V1816.4ZM1260.7,1816.4V1814.7h1V1816.4ZM1262.7,1816.4V1815.4h1V1816.4ZM1267.7,1816.4V1814.7h1V1815.5h1V1816.0h1V1815.7h1V1815.0h1V1812.5h1V1812.4h1V1810.1h1V1807.2h1V1803.6h1V1799.7h1V1793.9h1V1791.4h1V1790.8h1V1791.0h1V1791.6h1V1794.8h1V1798.3h1V1802.1h1V1805.8h1V1809.0h1V1811.6h1V1813.3h1V1812.8h1V1814.7h1V1815.9h1V1816.4ZM1294.7,1816.4V1815.5h1V1816.4ZM1296.7,1816.4V1815.0h1V1816.4ZM1299.7,1816.4V1816.1h1V1816.4ZM1301.7,1816.4V1814.6h1V1816.4ZM1303.7,1816.4V1815.9h1V1816.4ZM1305.7,1816.4V1816.1h1V1816.4ZM1308.7,1816.4V1814.7h1V1816.4ZM1314.7,1816.4V1815.5h1V1816.4ZM1321.7,1816.4V1815.3h1V1816.4ZM1324.7,1816.4V1815.2h1V1815.1h1V1814.4h1V1815.6h1V1816.4ZM1331.7,1816.4V1815.7h1V1814.9h1V1814.5h1V1814.4h1V1816.4ZM1336.7,1816.4V1815.3h1V1816.4ZM1339.7,1816.4V1815.3h1V1815.6h1V1816.4ZM1343.7,1816.4V1814.9h1V1816.4ZM1347.7,1816.4V1814.0h1V1815.9h1V1813.9h1V1815.6h1V1815.5h1V1813.0h1V1814.6h1V1814.3h1V1813.8h1V1812.2h1V1813.0h1V1812.2h1V1812.6h1V1812.6h1V1812.7h1V1813.1h1V1813.5h1V1813.9h1V1814.4h1V1813.6h1V1813.6h1V1814.5h1V1815.7h1V1814.5h1V1816.1h1V1814.4h1V1815.1h1V1816.4ZM1376.7,1816.4V1815.1h1V1816.4ZM1378.7,1816.4V1814.3h1V1816.4ZM1380.7,1816.4V1815.8h1V1816.4ZM1383.7,1816.4V1815.6h1V1815.9h1V1815.6h1V1815.3h1V1815.0h1V1814.7h1V1812.4h1V1814.2h1V1814.2h1V1813.8h1V1814.5h1V1813.7h1V1815.1h1V1815.5h1V1813.9h1V1814.3h1V1816.1h1V1816.4ZM1402.7,1816.4V1816.1h1V1815.0h1V1815.2h1V1815.3h1V1816.1h1V1816.4ZM1409.7,1816.4V1816.1h1V1816.4ZM1411.7,1816.4V1815.9h1V1816.4ZM1414.7,1816.4V1814.3h1V1816.4ZM1417.7,1816.4V1815.6h1V1816.4ZM1419.7,1816.4V1814.4h1V1816.4ZM1423.7,1816.4V1815.8h1V1815.9h1V1816.4ZM1427.7,1816.4V1814.8h1V1816.4ZM1429.7,1816.4V1814.8h1V1814.4h1V1816.4ZM1433.7,1816.4V1815.4h1V1816.4ZM1442.7,1816.4V1815.8h1V1816.4ZM1445.7,1816.4V1815.9h1V1816.4ZM1448.7,1816.4V1816.0h1V1816.4ZM1454.7,1816.4V1815.8h1V1815.8h1V1816.4ZM1458.7,1816.4V1814.6h1V1814.8h1V1816.4ZM1461.7,1816.4V1814.5h1V1814.3h1V1814.4h1V1815.8h1V1814.9h1V1816.4ZM1470.7,1816.4V1814.9h1V1815.2h1V1816.4ZM1473.7,1816.4V1816.1h1V1815.3h1V1816.4ZM1477.7,1816.4V1816.1h1V1816.0h1V1815.4h1V1816.4ZM1484.7,1816.4V1815.2h1V1815.6h1V1816.4ZM1487.7,1816.4V1815.5h1V1816.4ZM1489.7,1816.4V1815.6h1V1816.4ZM1492.7,1816.4V1814.8h1V1816.0h1V1815.3h1V1813.6h1V1814.6h1V1815.6h1V1815.4h1V1815.2h1V1813.1h1V1814.8h1V1814.3h1V1814.2h1V1813.9h1V1814.2h1V1813.2h1V1811.8h1V1813.9h1V1813.9h1V1813.9h1V1812.9h1V1812.6h1V1814.0h1V1813.9h1V1813.4h1V1814.4h1V1814.1h1V1814.5h1V1814.5h1V1814.4h1V1814.3h1V1813.9h1V1813.6h1V1812.8h1V1813.2h1V1812.6h1V1810.6h1V1810.3h1V1811.7h1V1812.3h1V1812.4h1V1812.6h1V1812.8h1V1816.4Z" fill="#0a9a0a" />
<line x1="969.2" y1="1861.2" x2="1534.3" y2="1861.2" stroke="#0a9a0a" stroke-width="1.0" />
<path d="M969.7,1861.2V1859.9h1V1861.2ZM972.7,1861.2V1860.8h1V1861.2ZM978.7,1861.2V1860.3h1V1861.2ZM985.7,1861.2V1859.7h1V1861.2ZM991.7,1861.2V1860.1h1V1861.2ZM998.7,1861.2V1860.9h1V1861.2ZM1001.7,1861.2V1860.8h1V1861.2ZM1010.7,1861.2V1859.8h1V1861.2ZM1021.7,1861.2V1860.0h1V1861.2ZM1032.7,1861.2V1859.7h1V1861.2ZM1035.7,1861.2V1860.6h1V1860.2h1V1859.1h1V1859.2h1V1857.4h1V1857.5h1V1856.7h1V1856.2h1V1856.0h1V1856.3h1V1855.4h1V1857.7h1V1858.6h1V1859.4h1V1860.1h1V1860.5h1V1860.8h1V1860.9h1V1861.2ZM1055.7,1861.2V1860.9h1V1861.2ZM1058.7,1861.2V1860.1h1V1860.7h1V1861.2ZM1066.7,1861.2V1860.6h1V1861.2ZM1075.7,1861.2V1859.6h1V1861.2ZM1078.7,1861.2V1860.8h1V1861.2ZM1081.7,1861.2V1860.9h1V1860.6h1V1860.2h1V1859.8h1V1859.4h1V1859.1h1V1858.9h1V1859.1h1V1859.3h1V1858.8h1V1858.9h1V1860.7h1V1860.9h1V1861.2ZM1097.7,1861.2V1860.6h1V1860.9h1V1860.6h1V1858.9h1V1858.2h1V1859.4h1V1858.8h1V1858.0h1V1859.2h1V1858.1h1V1860.0h1V1860.4h1V1860.7h1V1859.4h1V1860.6h1V1861.2ZM1114.7,1861.2V1859.9h1V1861.2ZM1122.7,1861.2V1860.6h1V1861.2ZM1129.7,1861.2V1860.7h1V1861.2ZM1133.7,1861.2V1860.5h1V1861.2ZM1138.7,1861.2V1860.6h1V1860.9h1V1861.2ZM1141.7,1861.2V1860.6h1V1861.2ZM1143.7,1861.2V1860.0h1V1861.2ZM1154.7,1861.2V1860.6h1V1861.2ZM1158.7,1861.2V1860.1h1V1861.2ZM1169.7,1861.2V1860.2h1V1861.2ZM1172.7,1861.2V1860.8h1V1860.8h1V1860.2h1V1860.2h1V1860.5h1V1860.4h1V1860.2h1V1859.8h1V1859.5h1V1859.6h1V1858.8h1V1859.3h1V1859.1h1V1859.0h1V1858.8h1V1858.8h1V1858.7h1V1858.7h1V1858.7h1V1858.8h1V1858.9h1V1859.0h1V1859.2h1V1859.3h1V1859.3h1V1859.7h1V1858.8h1V1860.1h1V1860.3h1V1860.4h1V1860.6h1V1860.5h1V1860.1h1V1860.8h1V1860.8h1V1861.2ZM1221.7,1861.2V1860.4h1V1861.2ZM1232.7,1861.2V1859.9h1V1860.6h1V1861.2ZM1238.7,1861.2V1860.8h1V1861.2ZM1242.7,1861.2V1860.6h1V1861.2ZM1252.7,1861.2V1860.2h1V1860.9h1V1861.2ZM1261.7,1861.2V1860.7h1V1861.2ZM1267.7,1861.2V1860.6h1V1861.2ZM1272.7,1861.2V1860.9h1V1860.7h1V1860.4h1V1860.1h1V1858.9h1V1859.2h1V1858.7h1V1858.3h1V1858.0h1V1856.9h1V1858.1h1V1858.4h1V1858.6h1V1859.4h1V1858.6h1V1860.2h1V1860.6h1V1860.8h1V1861.2ZM1291.7,1861.2V1860.8h1V1861.2ZM1297.7,1861.2V1859.9h1V1861.2ZM1301.7,1861.2V1860.8h1V1860.6h1V1860.3h1V1860.0h1V1859.0h1V1859.3h1V1859.0h1V1858.8h1V1858.8h1V1857.4h1V1859.1h1V1859.5h1V1859.8h1V1860.2h1V1859.3h1V1860.7h1V1860.9h1V1861.2ZM1323.7,1861.2V1860.9h1V1861.2ZM1325.7,1861.2V1860.4h1V1861.2ZM1330.7,1861.2V1860.9h1V1861.2ZM1337.7,1861.2V1860.9h1V1861.2ZM1343.7,1861.2V1860.6h1V1861.2ZM1359.7,1861.2V1860.2h1V1861.2ZM1365.7,1861.2V1860.8h1V1860.9h1V1860.6h1V1861.2ZM1374.7,1861.2V1860.4h1V1860.7h1V1860.4h1V1859.6h1V1859.5h1V1859.0h1V1858.5h1V1857.4h1V1857.8h1V1857.7h1V1857.9h1V1858.2h1V1858.7h1V1859.2h1V1859.7h1V1860.1h1V1860.3h1V1860.7h1V1861.2ZM1400.7,1861.2V1860.3h1V1861.2ZM1402.7,1861.2V1860.8h1V1861.2ZM1404.7,1861.2V1860.5h1V1861.2ZM1410.7,1861.2V1860.8h1V1861.2ZM1417.7,1861.2V1860.4h1V1861.2ZM1430.7,1861.2V1860.4h1V1861.2ZM1434.7,1861.2V1859.8h1V1860.6h1V1861.2ZM1443.7,1861.2V1860.7h1V1861.2ZM1451.7,1861.2V1860.5h1V1861.2ZM1458.7,1861.2V1860.0h1V1860.9h1V1861.2ZM1465.7,1861.2V1859.7h1V1860.6h1V1861.2ZM1469.7,1861.2V1860.3h1V1861.2ZM1481.7,1861.2V1860.9h1V1860.7h1V1860.1h1V1860.1h1V1859.8h1V1859.5h1V1859.2h1V1859.0h1V1859.0h1V1858.9h1V1859.1h1V1859.6h1V1859.9h1V1860.3h1V1860.5h1V1860.4h1V1860.9h1V1861.2ZM1507.7,1861.2V1860.2h1V1861.2ZM1509.7,1861.2V1860.1h1V1861.2ZM1515.7,1861.2V1860.3h1V1861.2ZM1520.7,1861.2V1859.9h1V1861.2ZM1522.7,1861.2V1860.4h1V1860.2h1V1860.6h1V1861.2ZM1530.7,1861.2V1860.8h1V1861.2ZM1533.7,1861.2V1860.2h1V1861.2Z" fill="#0a9a0a" />
<line x1="969.2" y1="1905.3" x2="1534.3" y2="1905.3" stroke="#2a2ad0" stroke-width="1.0" />
<path d="M968.7,1905.3V1904.5h1V1905.3ZM970.7,1905.3V1904.5h1V1905.3ZM973.7,1905.3V1904.5h1V1905.3ZM975.7,1905.3V1903.4h1V1904.9h1V1905.3ZM983.7,1905.3V1903.9h1V1905.3ZM985.7,1905.3V1904.4h1V1905.3ZM993.7,1905.3V1904.7h1V1905.0h1V1905.3ZM996.7,1905.3V1903.8h1V1905.3ZM1002.7,1905.3V1904.4h1V1904.9h1V1904.7h1V1905.3ZM1007.7,1905.3V1905.0h1V1905.3ZM1009.7,1905.3V1903.8h1V1904.7h1V1905.3ZM1014.7,1905.3V1904.8h1V1905.3ZM1019.7,1905.3V1904.9h1V1905.3ZM1024.7,1905.3V1904.0h1V1905.3ZM1026.7,1905.3V1904.3h1V1905.3ZM1028.7,1905.3V1904.5h1V1905.3ZM1032.7,1905.3V1903.9h1V1905.3ZM1034.7,1905.3V1904.9h1V1904.6h1V1903.5h1V1903.1h1V1901.9h1V1900.5h1V1898.9h1V1896.9h1V1896.5h1V1894.5h1V1895.0h1V1897.8h1V1897.2h1V1900.8h1V1900.4h1V1901.6h1V1904.2h1V1904.7h1V1903.8h1V1905.3ZM1055.7,1905.3V1904.0h1V1905.3ZM1066.7,1905.3V1904.9h1V1905.3ZM1069.7,1905.3V1905.0h1V1904.0h1V1904.9h1V1905.3ZM1076.7,1905.3V1903.9h1V1904.9h1V1905.3ZM1081.7,1905.3V1903.4h1V1905.3ZM1086.7,1905.3V1904.0h1V1905.3ZM1089.7,1905.3V1904.1h1V1903.8h1V1904.5h1V1905.3ZM1094.7,1905.3V1904.0h1V1904.2h1V1905.3ZM1098.7,1905.3V1904.4h1V1905.3ZM1101.7,1905.3V1905.0h1V1904.1h1V1905.3ZM1105.7,1905.3V1904.8h1V1904.9h1V1905.3ZM1109.7,1905.3V1903.7h1V1905.3ZM1115.7,1905.3V1905.0h1V1904.1h1V1905.3ZM1118.7,1905.3V1904.8h1V1904.7h1V1905.3ZM1121.7,1905.3V1903.6h1V1905.3ZM1123.7,1905.3V1903.8h1V1903.9h1V1905.3ZM1128.7,1905.3V1904.9h1V1905.3ZM1130.7,1905.3V1904.6h1V1905.3ZM1140.7,1905.3V1904.4h1V1905.0h1V1903.8h1V1904.8h1V1903.4h1V1903.6h1V1901.7h1V1902.3h1V1902.3h1V1902.3h1V1901.9h1V1903.0h1V1903.6h1V1902.2h1V1904.3h1V1904.9h1V1905.3ZM1164.7,1905.3V1904.6h1V1903.8h1V1905.3ZM1169.7,1905.3V1905.0h1V1904.8h1V1904.4h1V1904.1h1V1903.7h1V1902.3h1V1902.3h1V1902.1h1V1901.7h1V1900.4h1V1899.8h1V1900.9h1V1901.6h1V1902.6h1V1903.1h1V1903.4h1V1903.4h1V1903.9h1V1904.0h1V1903.9h1V1903.9h1V1903.7h1V1903.6h1V1903.4h1V1903.3h1V1903.1h1V1901.6h1V1901.3h1V1902.5h1V1902.4h1V1902.2h1V1902.1h1V1901.8h1V1901.9h1V1901.8h1V1901.7h1V1901.7h1V1901.7h1V1901.7h1V1901.2h1V1901.8h1V1900.7h1V1901.9h1V1901.0h1V1901.3h1V1902.2h1V1902.6h1V1902.5h1V1902.9h1V1902.9h1V1903.1h1V1903.2h1V1902.0h1V1903.2h1V1903.1h1V1902.2h1V1902.4h1V1902.4h1V1900.7h1V1902.1h1V1901.8h1V1900.1h1V1901.6h1V1901.2h1V1898.7h1V1898.8h1V1894.5h1V1891.0h1V1884.0h1V1879.5h1V1875.4h1V1874.2h1V1875.5h1V1881.6h1V1887.9h1V1894.0h1V1898.7h1V1901.6h1V1903.8h1V1904.5h1V1905.0h1V1904.4h1V1905.3ZM1254.7,1905.3V1904.4h1V1905.3ZM1256.7,1905.3V1904.5h1V1903.9h1V1905.3ZM1262.7,1905.3V1903.8h1V1905.3ZM1268.7,1905.3V1903.6h1V1905.3ZM1270.7,1905.3V1905.0h1V1903.0h1V1904.1h1V1903.0h1V1901.2h1V1898.8h1V1895.5h1V1892.0h1V1887.8h1V1885.1h1V1883.1h1V1882.8h1V1883.5h1V1886.9h1V1890.1h1V1894.2h1V1896.5h1V1900.4h1V1900.4h1V1903.7h1V1902.5h1V1904.9h1V1905.3ZM1294.7,1905.3V1904.2h1V1904.8h1V1905.3ZM1299.7,1905.3V1904.9h1V1905.3ZM1302.7,1905.3V1904.5h1V1903.8h1V1903.7h1V1905.3ZM1309.7,1905.3V1904.1h1V1905.0h1V1905.3ZM1312.7,1905.3V1904.8h1V1904.4h1V1904.9h1V1904.4h1V1905.3ZM1317.7,1905.3V1903.5h1V1905.3ZM1319.7,1905.3V1904.7h1V1904.4h1V1903.7h1V1905.3ZM1324.7,1905.3V1903.9h1V1903.6h1V1905.3ZM1334.7,1905.3V1904.4h1V1905.3ZM1336.7,1905.3V1904.0h1V1903.8h1V1905.3ZM1340.7,1905.3V1904.2h1V1905.3ZM1348.7,1905.3V1903.5h1V1905.3ZM1350.7,1905.3V1904.0h1V1905.3ZM1352.7,1905.3V1904.9h1V1905.0h1V1904.9h1V1903.7h1V1904.4h1V1902.5h1V1903.1h1V1903.4h1V1902.9h1V1902.5h1V1902.1h1V1901.6h1V1902.2h1V1900.7h1V1902.5h1V1902.9h1V1903.2h1V1903.6h1V1903.1h1V1902.9h1V1903.7h1V1904.7h1V1904.9h1V1904.9h1V1904.6h1V1905.3ZM1379.7,1905.3V1904.0h1V1904.2h1V1903.5h1V1905.3ZM1384.7,1905.3V1903.7h1V1905.3ZM1387.7,1905.3V1904.4h1V1904.9h1V1904.9h1V1905.3ZM1391.7,1905.3V1903.6h1V1903.4h1V1904.4h1V1905.3ZM1397.7,1905.3V1903.4h1V1904.4h1V1905.3ZM1404.7,1905.3V1903.6h1V1905.3ZM1406.7,1905.3V1904.9h1V1905.3ZM1411.7,1905.3V1904.2h1V1905.3ZM1418.7,1905.3V1904.1h1V1905.3ZM1423.7,1905.3V1904.2h1V1905.3ZM1425.7,1905.3V1904.3h1V1905.3ZM1427.7,1905.3V1904.6h1V1905.3ZM1431.7,1905.3V1904.7h1V1905.3ZM1433.7,1905.3V1903.8h1V1905.3ZM1435.7,1905.3V1904.7h1V1903.9h1V1903.7h1V1905.3ZM1444.7,1905.3V1904.0h1V1904.6h1V1903.5h1V1905.3ZM1448.7,1905.3V1904.5h1V1905.3ZM1452.7,1905.3V1904.7h1V1905.3ZM1455.7,1905.3V1904.4h1V1904.5h1V1903.6h1V1905.3ZM1459.7,1905.3V1903.9h1V1905.0h1V1905.3ZM1464.7,1905.3V1904.4h1V1904.3h1V1905.3ZM1467.7,1905.3V1905.0h1V1905.3ZM1475.7,1905.3V1905.0h1V1904.9h1V1904.8h1V1904.4h1V1903.8h1V1903.7h1V1904.0h1V1902.6h1V1903.7h1V1903.5h1V1902.8h1V1903.3h1V1903.3h1V1901.8h1V1903.3h1V1903.6h1V1903.7h1V1903.9h1V1904.1h1V1904.1h1V1903.5h1V1904.7h1V1904.8h1V1904.5h1V1905.0h1V1905.3ZM1502.7,1905.3V1905.0h1V1904.7h1V1905.3ZM1505.7,1905.3V1903.4h1V1905.3ZM1507.7,1905.3V1904.6h1V1905.0h1V1903.0h1V1904.8h1V1904.2h1V1904.6h1V1903.8h1V1904.1h1V1904.2h1V1904.1h1V1903.8h1V1902.6h1V1903.0h1V1902.8h1V1903.3h1V1903.3h1V1903.3h1V1903.3h1V1902.1h1V1903.3h1V1903.0h1V1903.6h1V1903.4h1V1903.8h1V1904.0h1V1903.6h1V1902.3h1V1905.3Z" fill="#0000b4" />
<line x1="969.2" y1="1950.3" x2="1534.3" y2="1950.3" stroke="#2a2ad0" stroke-width="1.0" />
<path d="M977.7,1950.3V1949.9h1V1950.3ZM983.7,1950.3V1949.8h1V1950.3ZM990.7,1950.3V1949.8h1V1950.3ZM995.7,1950.3V1949.2h1V1950.3ZM1000.7,1950.3V1949.0h1V1950.3ZM1006.7,1950.3V1949.4h1V1950.3ZM1013.7,1950.3V1949.9h1V1950.3ZM1015.7,1950.3V1948.9h1V1950.3ZM1023.7,1950.3V1949.4h1V1950.3ZM1030.7,1950.3V1948.8h1V1950.3ZM1032.7,1950.3V1949.7h1V1949.9h1V1949.9h1V1949.7h1V1949.5h1V1949.3h1V1949.1h1V1948.1h1V1948.6h1V1947.0h1V1948.3h1V1948.3h1V1948.3h1V1948.5h1V1948.3h1V1948.9h1V1949.1h1V1948.4h1V1949.6h1V1949.8h1V1949.9h1V1950.0h1V1950.3ZM1061.7,1950.3V1950.0h1V1950.3ZM1067.7,1950.3V1949.1h1V1950.3ZM1077.7,1950.3V1949.1h1V1950.3ZM1088.7,1950.3V1949.1h1V1950.3ZM1092.7,1950.3V1949.9h1V1950.3ZM1094.7,1950.3V1949.1h1V1950.3ZM1102.7,1950.3V1950.0h1V1950.0h1V1950.3ZM1107.7,1950.3V1948.7h1V1950.3ZM1113.7,1950.3V1950.0h1V1950.3ZM1115.7,1950.3V1949.5h1V1950.3ZM1117.7,1950.3V1949.5h1V1948.9h1V1949.9h1V1950.3ZM1123.7,1950.3V1949.1h1V1950.3ZM1125.7,1950.3V1949.5h1V1950.3ZM1134.7,1950.3V1948.9h1V1950.3ZM1136.7,1950.3V1949.2h1V1950.3ZM1138.7,1950.3V1949.9h1V1950.3ZM1143.7,1950.3V1949.9h1V1950.3ZM1145.7,1950.3V1950.0h1V1948.6h1V1949.0h1V1948.5h1V1946.9h1V1948.6h1V1949.2h1V1949.7h1V1949.5h1V1950.3ZM1155.7,1950.3V1949.4h1V1949.4h1V1949.2h1V1949.9h1V1950.3ZM1176.7,1950.3V1949.9h1V1950.3ZM1178.7,1950.3V1949.8h1V1950.3ZM1181.7,1950.3V1949.3h1V1950.3ZM1193.7,1950.3V1950.0h1V1949.7h1V1949.3h1V1948.9h1V1948.5h1V1946.7h1V1947.7h1V1948.0h1V1948.5h1V1949.1h1V1949.5h1V1949.8h1V1950.0h1V1950.3ZM1211.7,1950.3V1948.9h1V1950.3ZM1223.7,1950.3V1949.1h1V1950.3ZM1238.7,1950.3V1949.3h1V1949.2h1V1950.3ZM1250.7,1950.3V1950.0h1V1950.3ZM1256.7,1950.3V1949.3h1V1950.3ZM1259.7,1950.3V1949.1h1V1950.3ZM1273.7,1950.3V1948.9h1V1950.3ZM1275.7,1950.3V1949.6h1V1950.3ZM1277.7,1950.3V1949.9h1V1949.9h1V1950.3ZM1283.7,1950.3V1948.8h1V1950.3ZM1294.7,1950.3V1949.7h1V1950.3ZM1313.7,1950.3V1948.8h1V1950.3ZM1315.7,1950.3V1950.0h1V1950.3ZM1325.7,1950.3V1949.5h1V1950.3ZM1334.7,1950.3V1949.9h1V1950.3ZM1336.7,1950.3V1949.1h1V1950.3ZM1344.7,1950.3V1949.6h1V1950.3ZM1348.7,1950.3V1950.0h1V1949.7h1V1949.4h1V1949.0h1V1948.6h1V1948.4h1V1948.3h1V1947.3h1V1948.8h1V1949.2h1V1949.5h1V1949.9h1V1950.0h1V1950.3ZM1363.7,1950.3V1949.9h1V1950.3ZM1367.7,1950.3V1950.0h1V1950.3ZM1374.7,1950.3V1949.7h1V1950.3ZM1383.7,1950.3V1949.9h1V1950.3ZM1392.7,1950.3V1948.9h1V1950.3ZM1395.7,1950.3V1949.2h1V1949.5h1V1949.1h1V1950.3ZM1415.7,1950.3V1949.6h1V1950.3ZM1447.7,1950.3V1949.2h1V1950.3ZM1450.7,1950.3V1949.4h1V1950.3ZM1457.7,1950.3V1949.6h1V1950.3ZM1460.7,1950.3V1948.9h1V1950.3ZM1464.7,1950.3V1949.0h1V1949.9h1V1950.3ZM1468.7,1950.3V1949.9h1V1950.3ZM1472.7,1950.3V1949.3h1V1950.3ZM1474.7,1950.3V1949.7h1V1950.3ZM1482.7,1950.3V1948.9h1V1950.0h1V1949.7h1V1949.3h1V1948.5h1V1947.7h1V1948.2h1V1947.1h1V1948.3h1V1948.6h1V1949.1h1V1949.5h1V1949.4h1V1950.0h1V1950.3ZM1502.7,1950.3V1949.9h1V1950.3ZM1504.7,1950.3V1948.9h1V1950.3ZM1512.7,1950.3V1949.2h1V1950.3ZM1518.7,1950.3V1949.1h1V1950.3ZM1521.7,1950.3V1949.6h1V1950.3ZM1523.7,1950.3V1950.0h1V1948.5h1V1948.9h1V1949.0h1V1948.6h1V1948.3h1V1948.3h1V1948.5h1V1948.8h1V1949.2h1V1949.0h1V1950.3Z" fill="#0000b4" />
<line x1="969.2" y1="1994.6" x2="1534.3" y2="1994.6" stroke="#c0c0c0" stroke-width="1.4" />
<path d="M969.7,1994.6V1993.9h1V1993.3h1V1992.6h1V1992.8h1V1991.2h1V1991.4h1V1990.4h1V1989.9h1V1989.4h1V1991.1h1V1990.8h1V1989.8h1V1990.1h1V1989.6h1V1990.7h1V1988.9h1V1991.6h1V1989.5h1V1990.5h1V1991.5h1V1989.5h1V1991.3h1V1990.8h1V1990.4h1V1990.9h1V1990.9h1V1991.1h1V1988.6h1V1991.0h1V1990.7h1V1990.9h1V1987.4h1V1988.2h1V1986.3h1V1984.9h1V1986.7h1V1986.6h1V1986.4h1V1987.8h1V1986.9h1V1986.2h1V1988.9h1V1988.7h1V1987.7h1V1987.4h1V1987.6h1V1987.7h1V1989.4h1V1987.7h1V1984.9h1V1986.6h1V1984.9h1V1987.0h1V1984.6h1V1986.6h1V1982.4h1V1981.7h1V1987.4h1V1985.1h1V1989.8h1V1988.1h1V1990.6h1V1990.7h1V1987.9h1V1988.8h1V1990.9h1V1989.1h1V1987.6h1V1990.1h1V1987.7h1V1987.9h1V1978.6h1V1970.1h1V1969.9h1V1962.1h1V1965.7h1V1974.7h1V1984.7h1V1989.2h1V1987.4h1V1988.9h1V1986.5h1V1990.0h1V1987.4h1V1990.3h1V1988.6h1V1989.5h1V1989.3h1V1988.7h1V1988.5h1V1991.2h1V1988.4h1V1989.3h1V1991.1h1V1989.3h1V1989.0h1V1990.4h1V1989.0h1V1991.2h1V1990.4h1V1991.1h1V1989.6h1V1991.0h1V1991.3h1V1989.4h1V1991.0h1V1990.9h1V1990.4h1V1991.7h1V1990.3h1V1990.7h1V1991.2h1V1990.5h1V1990.4h1V1992.1h1V1990.3h1V1991.3h1V1990.8h1V1991.0h1V1990.5h1V1990.9h1V1992.0h1V1992.3h1V1991.8h1V1992.1h1V1992.2h1V1991.6h1V1991.7h1V1991.9h1V1991.3h1V1992.5h1V1992.0h1V1992.0h1V1991.7h1V1991.3h1V1991.8h1V1992.9h1V1991.9h1V1992.6h1V1993.7h1V1994.6ZM1110.7,1994.6V1994.0h1V1993.0h1V1992.8h1V1992.3h1V1992.0h1V1992.8h1V1992.4h1V1991.3h1V1992.7h1V1992.3h1V1991.7h1V1992.1h1V1991.9h1V1991.5h1V1991.5h1V1992.2h1V1992.4h1V1992.9h1V1991.7h1V1992.7h1V1992.2h1V1992.7h1V1991.7h1V1992.2h1V1992.7h1V1992.0h1V1992.8h1V1992.3h1V1992.5h1V1991.7h1V1991.9h1V1992.6h1V1992.4h1V1992.2h1V1991.6h1V1992.3h1V1991.7h1V1992.8h1V1992.7h1V1991.6h1V1992.3h1V1992.9h1V1992.6h1V1992.2h1V1992.8h1V1992.3h1V1991.3h1V1992.8h1V1992.3h1V1992.4h1V1992.7h1V1991.4h1V1992.5h1V1992.6h1V1992.2h1V1992.8h1V1992.1h1V1992.6h1V1992.1h1V1992.6h1V1990.7h1V1991.0h1V1990.1h1V1990.8h1V1991.1h1V1990.5h1V1989.6h1V1991.2h1V1990.6h1V1988.2h1V1990.3h1V1990.6h1V1988.6h1V1990.3h1V1989.4h1V1989.5h1V1989.6h1V1991.1h1V1989.0h1V1990.2h1V1988.4h1V1988.1h1V1990.0h1V1988.4h1V1988.0h1V1990.1h1V1989.1h1V1985.8h1V1985.2h1V1987.8h1V1986.6h1V1980.3h1V1985.1h1V1982.9h1V1981.4h1V1976.4h1V1969.7h1V1971.7h1V1974.5h1V1969.7h1V1981.0h1V1981.9h1V1984.1h1V1979.7h1V1983.4h1V1985.2h1V1988.0h1V1985.4h1V1987.7h1V1985.1h1V1989.1h1V1987.3h1V1986.7h1V1987.7h1V1986.5h1V1986.7h1V1988.1h1V1990.7h1V1987.9h1V1989.5h1V1989.5h1V1989.3h1V1990.1h1V1988.9h1V1988.5h1V1987.8h1V1983.7h1V1986.9h1V1985.2h1V1981.7h1V1985.9h1V1982.3h1V1988.4h1V1986.7h1V1989.2h1V1990.5h1V1989.5h1V1991.0h1V1992.2h1V1993.3h1V1993.2h1V1993.5h1V1993.6h1V1993.1h1V1992.9h1V1993.3h1V1993.1h1V1993.1h1V1993.2h1V1993.4h1V1993.0h1V1993.2h1V1992.6h1V1991.6h1V1991.5h1V1990.6h1V1990.1h1V1990.0h1V1990.8h1V1988.2h1V1988.9h1V1987.0h1V1989.1h1V1984.8h1V1983.7h1V1980.4h1V1979.7h1V1977.3h1V1978.0h1V1971.7h1V1972.4h1V1978.0h1V1965.8h1V1977.6h1V1980.1h1V1980.9h1V1978.2h1V1981.9h1V1983.4h1V1986.4h1V1985.6h1V1985.1h1V1987.1h1V1988.9h1V1988.6h1V1990.9h1V1992.0h1V1991.3h1V1993.1h1V1993.5h1V1992.3h1V1992.3h1V1992.8h1V1992.0h1V1992.1h1V1991.1h1V1991.6h1V1990.9h1V1992.8h1V1992.1h1V1992.1h1V1993.1h1V1992.4h1V1992.4h1V1992.9h1V1992.9h1V1992.9h1V1993.0h1V1993.6h1V1993.8h1V1993.8h1V1993.6h1V1993.4h1V1993.2h1V1993.4h1V1993.4h1V1993.3h1V1993.8h1V1993.8h1V1993.8h1V1993.1h1V1993.1h1V1993.6h1V1993.0h1V1993.6h1V1993.4h1V1993.3h1V1992.8h1V1993.2h1V1993.6h1V1992.7h1V1992.8h1V1992.7h1V1992.6h1V1993.5h1V1993.2h1V1993.0h1V1992.3h1V1992.5h1V1992.5h1V1991.3h1V1990.4h1V1991.2h1V1991.4h1V1989.2h1V1987.5h1V1986.2h1V1987.3h1V1981.3h1V1985.1h1V1980.7h1V1982.4h1V1985.8h1V1988.8h1V1991.0h1V1988.3h1V1989.7h1V1990.4h1V1988.3h1V1989.6h1V1990.1h1V1991.3h1V1993.2h1V1992.4h1V1992.9h1V1992.6h1V1992.9h1V1992.6h1V1992.2h1V1992.0h1V1991.1h1V1992.5h1V1991.9h1V1992.4h1V1991.2h1V1991.1h1V1989.4h1V1987.8h1V1986.8h1V1984.8h1V1984.1h1V1984.3h1V1984.2h1V1985.9h1V1988.8h1V1991.4h1V1990.8h1V1991.5h1V1991.0h1V1990.1h1V1991.8h1V1991.0h1V1989.9h1V1992.1h1V1990.5h1V1990.4h1V1992.1h1V1992.0h1V1991.0h1V1992.3h1V1993.3h1V1993.7h1V1994.0h1V1993.6h1V1993.8h1V1993.8h1V1993.5h1V1993.8h1V1993.6h1V1994.0h1V1993.5h1V1993.8h1V1994.0h1V1993.6h1V1993.8h1V1993.7h1V1993.7h1V1993.9h1V1993.5h1V1993.7h1V1993.5h1V1994.0h1V1993.5h1V1993.6h1V1993.6h1V1993.9h1V1993.6h1V1993.7h1V1993.8h1V1993.8h1V1993.9h1V1993.7h1V1993.4h1V1993.4h1V1993.5h1V1993.8h1V1993.8h1V1993.5h1V1993.8h1V1993.4h1V1993.8h1V1993.7h1V1993.7h1V1993.9h1V1993.7h1V1993.2h1V1993.0h1V1992.9h1V1992.8h1V1993.0h1V1992.6h1V1992.0h1V1993.1h1V1992.8h1V1993.5h1V1993.7h1V1993.8h1V1993.8h1V1993.8h1V1993.5h1V1993.1h1V1993.1h1V1993.7h1V1993.1h1V1993.3h1V1992.9h1V1993.2h1V1993.0h1V1993.3h1V1993.2h1V1993.3h1V1992.6h1V1992.8h1V1991.2h1V1990.9h1V1988.9h1V1987.6h1V1987.8h1V1983.5h1V1986.0h1V1991.3h1V1992.3h1V1991.0h1V1992.1h1V1991.9h1V1992.9h1V1991.6h1V1992.3h1V1992.5h1V1992.2h1V1993.3h1V1992.4h1V1993.5h1V1993.2h1V1992.8h1V1993.6h1V1993.5h1V1993.6h1V1993.2h1V1992.7h1V1992.2h1V1991.0h1V1992.4h1V1991.4h1V1991.1h1V1989.2h1V1991.3h1V1990.6h1V1987.8h1V1988.1h1V1987.8h1V1987.0h1V1989.1h1V1990.2h1V1989.1h1V1988.2h1V1990.5h1V1988.6h1V1987.9h1V1988.6h1V1989.9h1V1986.7h1V1989.8h1V1988.9h1V1994.6Z" fill="#6e6e6e" />
<line x1="969.2" y1="2039.3" x2="1534.3" y2="2039.3" stroke="#8c8c8c" stroke-width="1.2" />
<path d="M1014.7,2039.3V2038.4h1V2038.1h1V2038.7h1V2039.3ZM1025.7,2039.3V2038.4h1V2038.1h1V2038.7h1V2039.3ZM1037.7,2039.3V2038.8h1V2038.1h1V2036.8h1V2034.7h1V2032.4h1V2030.4h1V2029.8h1V2030.7h1V2032.8h1V2035.2h1V2037.1h1V2038.3h1V2038.9h1V2039.3ZM1178.7,2039.3V2039.0h1V2038.6h1V2038.0h1V2037.8h1V2038.2h1V2038.8h1V2039.3ZM1201.7,2039.3V2039.0h1V2038.4h1V2037.2h1V2035.3h1V2033.2h1V2031.6h1V2031.4h1V2032.8h1V2034.9h1V2036.9h1V2038.2h1V2038.9h1V2039.3ZM1238.7,2039.3V2038.4h1V2038.1h1V2038.7h1V2039.3ZM1280.7,2039.3V2039.0h1V2038.5h1V2037.9h1V2037.7h1V2038.1h1V2038.8h1V2039.3ZM1356.7,2039.3V2038.8h1V2038.0h1V2036.9h1V2036.2h1V2036.3h1V2037.1h1V2038.2h1V2038.9h1V2039.3ZM1389.7,2039.3V2038.7h1V2037.9h1V2037.3h1V2037.5h1V2038.2h1V2038.9h1V2039.3ZM1485.7,2039.3V2038.6h1V2037.6h1V2036.5h1V2036.1h1V2036.9h1V2038.1h1V2038.9h1V2039.3ZM1515.7,2039.3V2039.0h1V2038.7h1V2038.3h1V2037.9h1V2037.5h1V2037.2h1V2037.1h1V2037.3h1V2037.6h1V2037.9h1V2037.9h1V2037.5h1V2036.7h1V2035.9h1V2035.8h1V2036.4h1V2037.4h1V2038.3h1V2038.9h1V2039.3Z" fill="#6e6e6e" />
<line x1="969.2" y1="2084.0" x2="1534.3" y2="2084.0" stroke="#ff7aff" stroke-width="1.0" />
<path d="M971.5,2084.0V2083.7h0.9V2083.6h0.9V2083.6h0.9V2083.5h0.9V2083.5h0.9V2083.4h0.9V2083.5h0.9V2083.2h0.9V2083.1h0.9V2083.2h0.9V2082.6h0.9V2081.1h0.9V2080.7h0.9V2079.8h0.9V2079.9h0.9V2080.3h0.9V2081.7h0.9V2081.8h0.9V2081.5h0.9V2081.5h0.9V2081.0h0.9V2080.9h0.9V2081.4h0.9V2081.4h0.9V2081.6h0.9V2082.4h0.9V2081.7h0.9V2082.1h0.9V2081.9h0.9V2082.4h0.9V2081.5h0.9V2081.2h0.9V2082.3h0.9V2081.6h0.9V2082.4h0.9V2081.9h0.9V2082.2h0.9V2081.2h0.9V2081.2h0.9V2080.7h0.9V2081.6h0.9V2080.4h0.9V2080.2h0.9V2080.4h0.9V2079.2h0.9V2079.6h0.9V2080.3h0.9V2078.9h0.9V2079.3h0.9V2079.9h0.9V2078.5h0.9V2080.1h0.9V2078.5h0.9V2077.9h0.9V2079.7h0.9V2077.1h0.9V2079.1h0.9V2076.6h0.9V2078.1h0.9V2079.5h0.9V2076.2h0.9V2079.8h0.9V2079.7h0.9V2078.8h0.9V2079.8h0.9V2079.3h0.9V2079.7h0.9V2079.7h0.9V2079.6h0.9V2080.1h0.9V2080.1h0.9V2078.6h0.9V2079.1h0.9V2078.6h0.9V2077.1h0.9V2079.9h0.9V2078.6h0.9V2077.1h0.9V2078.8h0.9V2075.3h0.9V2076.4h0.9V2076.3h0.9V2076.4h0.9V2071.4h0.9V2076.4h0.9V2070.8h0.9V2070.9h0.9V2068.8h0.9V2069.9h0.9V2072.5h0.9V2070.8h0.9V2067.7h0.9V2074.5h0.9V2067.9h0.9V2069.2h0.9V2072.9h0.9V2067.0h0.9V2072.5h0.9V2075.0h0.9V2073.1h0.9V2071.5h0.9V2075.3h0.9V2071.4h0.9V2072.7h0.9V2073.7h0.9V2071.0h0.9V2072.4h0.9V2070.8h0.9V2071.9h0.9V2072.5h0.9V2072.7h0.9V2073.7h0.9V2076.0h0.9V2078.0h0.9V2076.0h0.9V2074.9h0.9V2072.8h0.9V2074.2h0.9V2074.6h0.9V2077.3h0.9V2074.5h0.9V2077.8h0.9V2077.3h0.9V2077.9h0.9V2074.5h0.9V2073.6h0.9V2075.5h0.9V2078.0h0.9V2074.9h0.9V2077.5h0.9V2074.8h0.9V2074.8h0.9V2073.3h0.9V2077.2h0.9V2076.7h0.9V2076.2h0.9V2077.4h0.9V2072.6h0.9V2074.4h0.9V2077.3h0.9V2075.6h0.9V2077.7h0.9V2073.7h0.9V2076.8h0.9V2078.7h0.9V2075.6h0.9V2077.6h0.9V2076.5h0.9V2076.5h0.9V2079.9h0.9V2079.3h0.9V2079.3h0.9V2081.7h0.9V2082.4h0.9V2082.7h0.9V2082.9h0.9V2081.9h0.9V2081.5h0.9V2080.6h0.9V2079.4h0.9V2078.8h0.9V2078.1h0.9V2076.7h0.9V2075.4h0.9V2073.6h0.9V2077.5h0.9V2075.7h0.9V2075.8h0.9V2076.8h0.9V2077.1h0.9V2073.8h0.9V2074.7h0.9V2074.0h0.9V2076.4h0.9V2075.8h0.9V2077.8h0.9V2078.3h0.9V2078.8h0.9V2077.3h0.9V2077.2h0.9V2078.7h0.9V2078.1h0.9V2080.2h0.9V2078.7h0.9V2079.8h0.9V2078.5h0.9V2079.3h0.9V2079.2h0.9V2077.0h0.9V2078.4h0.9V2079.5h0.9V2078.9h0.9V2079.6h0.9V2078.3h0.9V2079.6h0.9V2078.5h0.9V2079.0h0.9V2078.5h0.9V2078.3h0.9V2078.1h0.9V2079.6h0.9V2076.7h0.9V2077.0h0.9V2078.3h0.9V2076.7h0.9V2074.1h0.9V2075.0h0.9V2075.1h0.9V2074.7h0.9V2076.9h0.9V2074.0h0.9V2074.0h0.9V2072.2h0.9V2073.6h0.9V2075.2h0.9V2070.7h0.9V2074.8h0.9V2075.1h0.9V2073.9h0.9V2070.8h0.9V2072.5h0.9V2075.6h0.9V2075.2h0.9V2071.5h0.9V2074.1h0.9V2072.0h0.9V2072.6h0.9V2065.4h0.9V2064.8h0.9V2064.5h0.9V2066.2h0.9V2071.9h0.9V2069.1h0.9V2062.3h0.9V2070.2h0.9V2064.1h0.9V2059.5h0.9V2065.5h0.9V2063.5h0.9V2058.8h0.9V2057.8h0.9V2064.5h0.9V2054.3h0.9V2064.5h0.9V2063.0h0.9V2060.3h0.9V2061.8h0.9V2057.3h0.9V2058.7h0.9V2052.0h0.9V2049.6h0.9V2049.4h0.9V2046.7h0.9V2057.1h0.9V2049.7h0.9V2047.7h0.9V2047.2h0.9V2055.2h0.9V2047.0h0.9V2057.0h0.9V2051.0h0.9V2059.1h0.9V2070.4h0.9V2066.3h0.9V2067.5h0.9V2068.8h0.9V2064.2h0.9V2064.1h0.9V2064.1h0.9V2063.5h0.9V2063.0h0.9V2069.0h0.9V2062.5h0.9V2069.0h0.9V2063.3h0.9V2068.3h0.9V2063.2h0.9V2062.2h0.9V2070.5h0.9V2068.1h0.9V2071.5h0.9V2065.7h0.9V2067.4h0.9V2068.7h0.9V2060.8h0.9V2061.1h0.9V2058.9h0.9V2058.4h0.9V2061.9h0.9V2062.6h0.9V2055.3h0.9V2063.5h0.9V2060.0h0.9V2058.0h0.9V2055.8h0.9V2065.9h0.9V2064.0h0.9V2068.3h0.9V2067.8h0.9V2060.9h0.9V2064.8h0.9V2072.2h0.9V2062.7h0.9V2068.6h0.9V2065.5h0.9V2062.5h0.9V2068.2h0.9V2067.0h0.9V2066.1h0.9V2062.8h0.9V2059.2h0.9V2069.1h0.9V2060.7h0.9V2065.6h0.9V2067.3h0.9V2071.8h0.9V2066.2h0.9V2072.5h0.9V2065.8h0.9V2071.3h0.9V2066.9h0.9V2067.9h0.9V2071.5h0.9V2072.5h0.9V2070.6h0.9V2071.8h0.9V2071.9h0.9V2066.8h0.9V2071.6h0.9V2071.1h0.9V2067.2h0.9V2069.4h0.9V2070.6h0.9V2068.6h0.9V2071.2h0.9V2070.3h0.9V2062.9h0.9V2066.1h0.9V2065.8h0.9V2065.3h0.9V2068.3h0.9V2069.0h0.9V2070.1h0.9V2063.2h0.9V2066.4h0.9V2061.9h0.9V2066.0h0.9V2060.3h0.9V2058.3h0.9V2064.8h0.9V2061.3h0.9V2066.8h0.9V2060.8h0.9V2064.6h0.9V2062.1h0.9V2053.9h0.9V2049.8h0.9V2058.4h0.9V2059.0h0.9V2061.1h0.9V2063.6h0.9V2067.7h0.9V2068.8h0.9V2068.9h0.9V2067.2h0.9V2069.9h0.9V2072.2h0.9V2072.4h0.9V2072.6h0.9V2070.3h0.9V2070.9h0.9V2071.8h0.9V2074.0h0.9V2077.4h0.9V2073.2h0.9V2073.4h0.9V2077.1h0.9V2076.4h0.9V2075.2h0.9V2076.5h0.9V2072.3h0.9V2074.3h0.9V2074.6h0.9V2076.4h0.9V2076.4h0.9V2076.6h0.9V2076.7h0.9V2079.1h0.9V2079.7h0.9V2080.2h0.9V2080.0h0.9V2080.6h0.9V2081.0h0.9V2080.6h0.9V2080.2h0.9V2080.4h0.9V2080.5h0.9V2081.5h0.9V2080.4h0.9V2081.8h0.9V2081.5h0.9V2081.6h0.9V2080.8h0.9V2081.4h0.9V2081.3h0.9V2081.6h0.9V2080.4h0.9V2080.5h0.9V2080.8h0.9V2080.4h0.9V2079.9h0.9V2079.0h0.9V2079.8h0.9V2076.6h0.9V2076.2h0.9V2074.5h0.9V2076.7h0.9V2071.2h0.9V2074.1h0.9V2075.4h0.9V2071.8h0.9V2072.6h0.9V2068.8h0.9V2068.8h0.9V2066.4h0.9V2065.2h0.9V2065.5h0.9V2069.6h0.9V2068.4h0.9V2068.7h0.9V2067.0h0.9V2068.0h0.9V2068.3h0.9V2070.7h0.9V2069.7h0.9V2070.9h0.9V2067.9h0.9V2066.9h0.9V2069.5h0.9V2072.4h0.9V2073.4h0.9V2068.5h0.9V2069.1h0.9V2070.3h0.9V2071.2h0.9V2074.4h0.9V2074.6h0.9V2076.9h0.9V2079.7h0.9V2078.1h0.9V2076.3h0.9V2078.3h0.9V2077.0h0.9V2078.9h0.9V2076.7h0.9V2077.6h0.9V2075.0h0.9V2076.7h0.9V2075.7h0.9V2077.2h0.9V2077.0h0.9V2074.7h0.9V2076.1h0.9V2075.5h0.9V2074.3h0.9V2078.0h0.9V2076.8h0.9V2074.2h0.9V2075.3h0.9V2074.6h0.9V2075.5h0.9V2075.0h0.9V2078.1h0.9V2078.0h0.9V2074.8h0.9V2075.0h0.9V2077.1h0.9V2077.8h0.9V2077.8h0.9V2079.4h0.9V2082.0h0.9V2082.4h0.9V2080.8h0.9V2080.7h0.9V2079.1h0.9V2079.9h0.9V2080.5h0.9V2082.3h0.9V2082.4h0.9V2081.8h0.9V2081.5h0.9V2081.9h0.9V2081.0h0.9V2082.2h0.9V2081.2h0.9V2080.6h0.9V2081.9h0.9V2081.9h0.9V2081.6h0.9V2082.0h0.9V2081.3h0.9V2081.9h0.9V2082.6h0.9V2082.4h0.9V2082.4h0.9V2082.3h0.9V2082.8h0.9V2082.5h0.9V2082.9h0.9V2082.7h0.9V2082.7h0.9V2082.1h0.9V2082.7h0.9V2081.9h0.9V2081.5h0.9V2081.2h0.9V2082.3h0.9V2081.9h0.9V2081.5h0.9V2080.5h0.9V2080.6h0.9V2080.8h0.9V2080.3h0.9V2080.4h0.9V2079.4h0.9V2080.2h0.9V2080.2h0.9V2081.2h0.9V2080.9h0.9V2082.5h0.9V2082.7h0.9V2082.9h0.9V2082.4h0.9V2082.1h0.9V2081.8h0.9V2081.9h0.9V2081.6h0.9V2082.2h0.9V2081.8h0.9V2082.2h0.9V2081.3h0.9V2081.5h0.9V2081.1h0.9V2081.8h0.9V2080.0h0.9V2080.1h0.9V2081.3h0.9V2080.2h0.9V2081.0h0.9V2081.1h0.9V2081.7h0.9V2081.5h0.9V2082.7h0.9V2082.3h0.9V2082.5h0.9V2081.9h0.9V2080.8h0.9V2080.1h0.9V2081.4h0.9V2080.4h0.9V2078.6h0.9V2078.2h0.9V2077.9h0.9V2077.7h0.9V2076.7h0.9V2078.8h0.9V2078.2h0.9V2077.7h0.9V2076.4h0.9V2075.9h0.9V2076.2h0.9V2076.3h0.9V2074.8h0.9V2077.5h0.9V2077.0h0.9V2073.2h0.9V2074.6h0.9V2077.3h0.9V2076.2h0.9V2076.8h0.9V2076.0h0.9V2074.2h0.9V2074.6h0.9V2078.3h0.9V2075.4h0.9V2074.1h0.9V2076.8h0.9V2077.3h0.9V2078.1h0.9V2077.7h0.9V2075.2h0.9V2077.8h0.9V2077.5h0.9V2075.3h0.9V2070.6h0.9V2075.3h0.9V2074.2h0.9V2067.2h0.9V2072.6h0.9V2069.8h0.9V2067.5h0.9V2066.5h0.9V2067.3h0.9V2062.5h0.9V2066.2h0.9V2061.4h0.9V2056.1h0.9V2056.4h0.9V2053.1h0.9V2063.6h0.9V2058.1h0.9V2053.1h0.9V2058.4h0.9V2060.8h0.9V2065.8h0.9V2064.2h0.9V2059.4h0.9V2066.3h0.9V2069.0h0.9V2064.1h0.9V2067.4h0.9V2055.0h0.9V2062.6h0.9V2056.1h0.9V2050.1h0.9V2084.0Z" fill="#ff00ff" />
<line x1="969.2" y1="2128.5" x2="1534.3" y2="2128.5" stroke="#ff4dff" stroke-width="1.0" />
<path d="M971.7,2128.5V2128.1h1V2128.5ZM994.7,2128.5V2128.0h1V2128.5ZM1007.7,2128.5V2127.8h1V2128.5ZM1012.7,2128.5V2128.0h1V2128.5ZM1022.7,2128.5V2128.2h1V2128.5ZM1031.7,2128.5V2127.9h1V2128.0h1V2127.6h1V2127.5h1V2127.8h1V2128.2h1V2128.5ZM1043.7,2128.5V2128.1h1V2128.5ZM1057.7,2128.5V2128.1h1V2128.5ZM1071.7,2128.5V2127.8h1V2128.5ZM1077.7,2128.5V2127.7h1V2128.5ZM1115.7,2128.5V2127.6h1V2128.0h1V2127.7h1V2127.4h1V2127.3h1V2127.5h1V2127.8h1V2128.1h1V2128.5ZM1130.7,2128.5V2128.1h1V2128.5ZM1145.7,2128.5V2127.6h1V2128.5ZM1147.7,2128.5V2128.0h1V2128.5ZM1157.7,2128.5V2128.1h1V2128.0h1V2127.1h1V2127.5h1V2127.3h1V2127.1h1V2126.2h1V2127.0h1V2127.1h1V2127.2h1V2127.4h1V2127.0h1V2127.8h1V2128.0h1V2128.2h1V2128.5ZM1174.7,2128.5V2127.5h1V2128.5ZM1178.7,2128.5V2128.2h1V2127.4h1V2128.0h1V2127.9h1V2127.0h1V2127.3h1V2127.1h1V2127.1h1V2126.3h1V2126.6h1V2126.4h1V2126.1h1V2125.8h1V2125.5h1V2125.3h1V2125.0h1V2124.8h1V2123.8h1V2124.5h1V2124.0h1V2124.3h1V2124.0h1V2124.4h1V2124.0h1V2123.7h1V2124.8h1V2125.0h1V2125.3h1V2125.5h1V2125.8h1V2126.1h1V2126.4h1V2126.6h1V2126.9h1V2127.1h1V2127.4h1V2127.5h1V2127.7h1V2127.9h1V2128.0h1V2128.1h1V2128.2h1V2128.5ZM1226.7,2128.5V2127.8h1V2128.5ZM1237.7,2128.5V2128.0h1V2128.5ZM1257.7,2128.5V2127.9h1V2128.5ZM1274.7,2128.5V2128.1h1V2128.5ZM1280.7,2128.5V2128.0h1V2128.5ZM1291.7,2128.5V2128.1h1V2128.5ZM1297.7,2128.5V2128.1h1V2128.5ZM1301.7,2128.5V2128.1h1V2128.5ZM1304.7,2128.5V2127.9h1V2128.5ZM1317.7,2128.5V2127.9h1V2128.5ZM1327.7,2128.5V2127.6h1V2128.5ZM1331.7,2128.5V2127.9h1V2128.5ZM1344.7,2128.5V2127.8h1V2127.7h1V2127.4h1V2127.3h1V2127.5h1V2127.8h1V2128.2h1V2128.5ZM1362.7,2128.5V2127.7h1V2128.5ZM1367.7,2128.5V2128.1h1V2128.5ZM1370.7,2128.5V2127.6h1V2128.5ZM1379.7,2128.5V2127.7h1V2128.5ZM1386.7,2128.5V2127.7h1V2128.5ZM1389.7,2128.5V2128.2h1V2128.0h1V2127.7h1V2127.5h1V2127.3h1V2127.3h1V2127.4h1V2127.6h1V2127.8h1V2128.0h1V2128.2h1V2128.5ZM1408.7,2128.5V2127.7h1V2128.5ZM1413.7,2128.5V2128.2h1V2128.5ZM1423.7,2128.5V2127.8h1V2128.5ZM1429.7,2128.5V2127.9h1V2128.5ZM1434.7,2128.5V2128.0h1V2128.5ZM1440.7,2128.5V2128.0h1V2128.5ZM1443.7,2128.5V2127.7h1V2128.5ZM1447.7,2128.5V2127.7h1V2128.5ZM1450.7,2128.5V2128.0h1V2128.5ZM1475.7,2128.5V2128.1h1V2127.8h1V2127.4h1V2126.9h1V2126.4h1V2126.1h1V2126.0h1V2126.2h1V2126.6h1V2127.1h1V2127.5h1V2127.9h1V2128.1h1V2128.2h1V2128.2h1V2128.1h1V2128.0h1V2127.8h1V2127.6h1V2127.4h1V2127.2h1V2127.0h1V2126.4h1V2126.7h1V2126.7h1V2126.8h1V2126.9h1V2127.0h1V2127.2h1V2127.4h1V2127.7h1V2127.8h1V2128.0h1V2128.1h1V2128.2h1V2128.1h1V2128.0h1V2127.2h1V2127.6h1V2127.3h1V2126.8h1V2126.5h1V2126.2h1V2126.0h1V2126.0h1V2126.1h1V2126.3h1V2126.6h1V2127.0h1V2127.2h1V2127.1h1V2126.8h1V2126.0h1V2124.7h1V2123.2h1V2121.8h1V2120.8h1V2120.5h1V2120.4h1V2128.5Z" fill="#ff00ff" />
<line x1="969.2" y1="2173.3" x2="1534.3" y2="2173.3" stroke="#ff6a00" stroke-width="1.2" />
<path d="M1007.7,2173.3V2172.9h1V2172.2h1V2171.4h1V2171.1h1V2171.7h1V2172.5h1V2173.3ZM1020.7,2173.3V2173.0h1V2172.7h1V2172.0h1V2170.9h1V2169.6h1V2168.4h1V2167.8h1V2168.1h1V2169.1h1V2170.4h1V2171.6h1V2172.4h1V2172.9h1V2173.3ZM1037.7,2173.3V2172.6h1V2170.9h1V2166.9h1V2159.4h1V2149.4h1V2140.5h1V2137.3h1V2141.9h1V2151.5h1V2161.2h1V2167.9h1V2171.4h1V2172.8h1V2173.3ZM1081.7,2173.3V2172.8h1V2172.4h1V2172.0h1V2171.9h1V2172.1h1V2172.5h1V2172.9h1V2173.3ZM1146.7,2173.3V2172.8h1V2172.5h1V2172.2h1V2172.1h1V2172.3h1V2172.6h1V2173.0h1V2173.3ZM1173.7,2173.3V2172.9h1V2172.5h1V2171.8h1V2171.2h1V2171.1h1V2171.4h1V2172.0h1V2172.5h1V2172.8h1V2172.9h1V2172.8h1V2172.6h1V2172.4h1V2172.2h1V2172.0h1V2171.7h1V2171.5h1V2171.3h1V2171.0h1V2170.9h1V2170.8h1V2170.7h1V2170.6h1V2170.5h1V2170.4h1V2170.2h1V2169.8h1V2169.2h1V2168.5h1V2167.8h1V2167.2h1V2166.7h1V2166.6h1V2166.8h1V2167.3h1V2168.1h1V2169.1h1V2170.1h1V2171.0h1V2171.7h1V2172.3h1V2172.6h1V2172.6h1V2172.2h1V2171.5h1V2171.0h1V2170.8h1V2171.2h1V2171.9h1V2172.6h1V2173.0h1V2173.3ZM1232.7,2173.3V2173.0h1V2172.5h1V2171.2h1V2168.6h1V2164.4h1V2158.5h1V2152.2h1V2147.4h1V2145.8h1V2148.2h1V2153.5h1V2159.8h1V2165.4h1V2169.3h1V2171.5h1V2172.6h1V2173.3ZM1270.7,2173.3V2172.9h1V2172.2h1V2170.6h1V2167.5h1V2162.7h1V2156.6h1V2150.3h1V2145.9h1V2144.5h1V2146.1h1V2148.8h1V2151.0h1V2151.8h1V2152.0h1V2153.0h1V2155.7h1V2159.8h1V2164.2h1V2167.9h1V2170.3h1V2171.6h1V2172.1h1V2172.1h1V2171.9h1V2171.7h1V2171.4h1V2171.1h1V2170.9h1V2170.7h1V2170.7h1V2170.8h1V2170.9h1V2171.2h1V2171.5h1V2171.8h1V2172.1h1V2172.4h1V2172.6h1V2172.8h1V2173.0h1V2173.3ZM1357.7,2173.3V2172.7h1V2172.3h1V2172.1h1V2172.4h1V2172.9h1V2173.3ZM1394.7,2173.3V2172.9h1V2172.7h1V2172.4h1V2172.1h1V2171.9h1V2171.9h1V2172.0h1V2172.2h1V2172.5h1V2172.8h1V2173.0h1V2173.3ZM1484.7,2173.3V2172.9h1V2172.7h1V2172.5h1V2172.2h1V2172.0h1V2172.0h1V2172.1h1V2172.3h1V2172.6h1V2172.8h1V2173.0h1V2173.3ZM1518.7,2173.3V2173.0h1V2172.7h1V2172.3h1V2171.9h1V2171.5h1V2171.2h1V2171.1h1V2171.3h1V2171.6h1V2172.0h1V2172.3h1V2172.2h1V2171.3h1V2170.1h1V2169.8h1V2170.7h1V2173.3Z" fill="#ff6a00" />
<rect x="1042.5" y="2181.2" width="3.0" height="11.0" fill="#ff6a00" />
<rect x="1238.9" y="2181.2" width="1.2" height="11.0" fill="#ff6a00" />
<rect x="1278.2" y="2181.2" width="1.2" height="11.0" fill="#ff6a00" />
<line x1="969.2" y1="2217.4" x2="1532.8" y2="2217.4" stroke="#f7a070" stroke-width="1.0" />
<line x1="969.2" y1="2262.4" x2="1532.8" y2="2262.4" stroke="#555" stroke-width="1.0" />
<path d="M989.1,2262.4V2241.1h0.7V2244.4h0.7V2244.2h0.7V2246.2h0.7V2249.6h0.7V2241.0h0.7V2241.1h0.7V2240.2h0.7V2243.4h0.7V2241.1h0.7V2239.6h0.7V2246.9h0.7V2241.4h0.7V2239.9h0.7V2239.6h0.7V2243.6h0.7V2243.5h0.7V2253.0h0.7V2255.3h0.7V2251.2h0.7V2249.4h0.7V2244.6h0.7V2262.4ZM1073.9,2262.4V2254.2h0.7V2249.1h0.7V2246.4h0.7V2251.0h0.7V2251.5h0.7V2255.1h0.7V2260.2h0.7V2262.4Z" fill="#000" />
<line x1="1401.5" y1="2262.0" x2="1402.5" y2="2262.0" stroke="#000" stroke-width="1.4" />
<line x1="969.2" y1="2306.7" x2="1532.8" y2="2306.7" stroke="#aaa" stroke-width="1.5" />
<path d="M989.1,2306.7V2306.2h0.7V2306.1h0.7V2305.2h0.7V2305.3h0.7V2305.0h0.7V2305.9h0.7V2305.6h0.7V2305.3h0.7V2305.3h0.7V2305.7h0.7V2305.0h0.7V2305.1h0.7V2305.7h0.7V2305.8h0.7V2305.4h0.7V2305.7h0.7V2305.5h0.7V2305.7h0.7V2305.8h0.7V2306.1h0.7V2306.3h0.7V2306.4h0.7V2306.7ZM1076.0,2306.7V2305.9h0.7V2306.7Z" fill="#000" />
<line x1="1027.0" y1="2324.6" x2="1220.5" y2="2324.6" stroke="#4682b4" stroke-width="1.2" />
<rect x="1007.5" y="2320.0" width="17.6" height="9.3" fill="#4682b4" />
<rect x="1025.1" y="2316.2" width="2.9" height="17.0" fill="#4682b4" />
<rect x="1030.6" y="2316.2" width="2.4" height="17.0" fill="#4682b4" />
<rect x="1147.7" y="2316.2" width="7.9" height="17.0" fill="#4682b4" />
<rect x="1205.8" y="2320.0" width="2.5" height="9.3" fill="#4682b4" />
<rect x="1213.2" y="2320.0" width="3.4" height="9.3" fill="#4682b4" />
<rect x="1217.8" y="2320.0" width="2.7" height="9.3" fill="#4682b4" />
<path d="M1220.5,2323V2350.6" fill="none" stroke="#000" stroke-width="1.0" />
<path d="M1208.3,2350.6L1221,2346.6L1217,2350.6L1221,2354.0Z" fill="#000" />
<text x="1116.5" y="2359.3" font-size="27.5" class="d" textLength="68" lengthAdjust="spacing">Hpca</text>
<line x1="1595.3" y1="1816.2" x2="1957.5" y2="1816.2" stroke="#0a9a0a" stroke-width="1.0" />
<path d="M1599.8,1816.2V1815.9h1V1815.8h1V1815.8h1V1815.6h1V1815.6h1V1815.6h1V1815.5h1V1815.4h1V1815.4h1V1815.2h1V1815.3h1V1815.1h1V1815.0h1V1815.2h1V1815.1h1V1814.9h1V1814.8h1V1814.9h1V1814.7h1V1814.7h1V1814.5h1V1814.4h1V1814.4h1V1814.6h1V1814.3h1V1814.4h1V1814.1h1V1814.2h1V1814.0h1V1813.9h1V1813.9h1V1813.8h1V1813.8h1V1813.8h1V1814.0h1V1813.5h1V1813.7h1V1813.9h1V1813.6h1V1813.4h1V1813.4h1V1812.7h1V1813.2h1V1812.5h1V1812.6h1V1812.8h1V1812.5h1V1812.2h1V1812.4h1V1811.6h1V1811.6h1V1811.1h1V1811.1h1V1810.9h1V1810.5h1V1810.4h1V1810.7h1V1810.6h1V1810.5h1V1810.3h1V1810.5h1V1810.9h1V1811.2h1V1812.4h1V1812.3h1V1812.9h1V1812.7h1V1813.0h1V1813.4h1V1813.4h1V1813.9h1V1813.6h1V1813.8h1V1814.1h1V1813.7h1V1814.3h1V1814.1h1V1814.1h1V1814.2h1V1814.1h1V1814.3h1V1814.3h1V1814.6h1V1814.6h1V1814.8h1V1814.5h1V1814.5h1V1814.2h1V1814.4h1V1814.1h1V1813.7h1V1814.1h1V1813.5h1V1813.4h1V1813.2h1V1813.2h1V1813.1h1V1812.7h1V1813.0h1V1812.6h1V1812.5h1V1812.3h1V1812.4h1V1812.8h1V1812.2h1V1812.8h1V1812.4h1V1812.4h1V1812.6h1V1813.0h1V1812.8h1V1813.3h1V1813.4h1V1813.3h1V1813.4h1V1813.4h1V1813.6h1V1813.7h1V1813.5h1V1813.7h1V1813.5h1V1813.9h1V1813.8h1V1813.4h1V1813.8h1V1813.7h1V1813.9h1V1813.4h1V1813.7h1V1813.9h1V1813.7h1V1813.3h1V1813.4h1V1813.9h1V1813.3h1V1813.9h1V1813.6h1V1813.6h1V1813.4h1V1813.8h1V1813.4h1V1813.7h1V1813.5h1V1813.4h1V1813.6h1V1814.0h1V1813.6h1V1813.8h1V1813.6h1V1813.6h1V1814.0h1V1813.8h1V1813.8h1V1813.6h1V1813.8h1V1813.8h1V1813.8h1V1814.1h1V1813.8h1V1814.0h1V1813.9h1V1814.2h1V1814.1h1V1814.1h1V1814.3h1V1813.9h1V1813.8h1V1813.8h1V1813.9h1V1812.4h1V1811.3h1V1808.7h1V1806.8h1V1804.2h1V1802.8h1V1801.2h1V1799.7h1V1795.8h1V1795.5h1V1798.4h1V1797.4h1V1797.6h1V1800.3h1V1802.5h1V1803.3h1V1798.9h1V1800.3h1V1796.3h1V1797.6h1V1796.1h1V1794.6h1V1788.4h1V1790.9h1V1786.1h1V1781.2h1V1782.2h1V1786.3h1V1786.1h1V1779.3h1V1783.5h1V1785.1h1V1781.3h1V1779.0h1V1782.9h1V1784.9h1V1786.1h1V1785.7h1V1785.3h1V1791.8h1V1789.3h1V1791.7h1V1794.8h1V1798.1h1V1801.9h1V1802.6h1V1805.4h1V1806.8h1V1809.8h1V1811.3h1V1813.2h1V1813.1h1V1813.5h1V1813.2h1V1813.3h1V1813.4h1V1813.6h1V1813.1h1V1813.5h1V1813.8h1V1813.5h1V1813.5h1V1813.7h1V1813.6h1V1813.7h1V1813.9h1V1814.3h1V1814.2h1V1814.2h1V1814.5h1V1814.4h1V1814.4h1V1814.5h1V1814.5h1V1814.6h1V1814.9h1V1814.9h1V1814.9h1V1814.8h1V1815.0h1V1815.0h1V1814.9h1V1814.9h1V1815.1h1V1814.9h1V1814.9h1V1815.0h1V1815.0h1V1815.1h1V1815.1h1V1815.0h1V1814.9h1V1815.2h1V1815.2h1V1815.1h1V1815.0h1V1815.2h1V1815.0h1V1815.0h1V1815.0h1V1815.0h1V1815.1h1V1815.2h1V1815.2h1V1815.2h1V1815.1h1V1815.2h1V1815.1h1V1815.2h1V1815.2h1V1815.2h1V1815.2h1V1815.0h1V1814.9h1V1815.2h1V1815.0h1V1815.2h1V1815.1h1V1815.1h1V1814.9h1V1814.9h1V1814.9h1V1815.0h1V1815.0h1V1815.0h1V1814.9h1V1815.0h1V1814.8h1V1814.9h1V1814.8h1V1814.6h1V1814.4h1V1814.6h1V1814.3h1V1814.4h1V1814.4h1V1813.9h1V1814.2h1V1814.0h1V1813.7h1V1813.5h1V1813.7h1V1812.6h1V1812.1h1V1811.8h1V1810.3h1V1810.1h1V1809.3h1V1806.8h1V1802.6h1V1800.7h1V1797.4h1V1792.2h1V1791.0h1V1787.2h1V1784.3h1V1785.1h1V1780.5h1V1782.7h1V1791.6h1V1793.7h1V1795.7h1V1794.2h1V1795.2h1V1792.9h1V1791.6h1V1794.4h1V1795.3h1V1795.6h1V1793.7h1V1796.3h1V1798.2h1V1799.9h1V1803.8h1V1804.8h1V1807.5h1V1809.4h1V1810.2h1V1812.2h1V1813.1h1V1813.3h1V1813.7h1V1814.0h1V1813.8h1V1814.0h1V1814.2h1V1814.6h1V1814.7h1V1814.8h1V1816.2Z" fill="#0a9a0a" />
<line x1="1595.3" y1="1861.4" x2="1957.5" y2="1861.4" stroke="#0a9a0a" stroke-width="1.0" />
<path d="M1602.8,1861.4V1861.1h1V1861.4ZM1606.8,1861.4V1861.1h1V1861.4ZM1608.8,1861.4V1861.1h1V1861.4ZM1610.8,1861.4V1861.1h1V1861.1h1V1861.0h1V1861.0h1V1860.8h1V1860.9h1V1860.7h1V1860.6h1V1860.6h1V1860.6h1V1860.7h1V1860.6h1V1860.5h1V1860.7h1V1860.9h1V1860.6h1V1860.6h1V1860.8h1V1860.8h1V1860.8h1V1860.4h1V1860.3h1V1860.4h1V1860.5h1V1860.8h1V1860.8h1V1860.3h1V1860.4h1V1860.4h1V1860.6h1V1860.6h1V1860.6h1V1860.6h1V1860.2h1V1860.4h1V1860.2h1V1860.2h1V1860.1h1V1859.9h1V1859.8h1V1860.5h1V1859.7h1V1859.8h1V1859.8h1V1860.2h1V1859.7h1V1859.9h1V1860.5h1V1860.0h1V1859.9h1V1860.0h1V1859.9h1V1860.3h1V1860.1h1V1860.7h1V1860.2h1V1860.6h1V1860.2h1V1860.0h1V1860.4h1V1860.6h1V1860.6h1V1860.1h1V1860.4h1V1859.7h1V1859.8h1V1859.9h1V1859.6h1V1860.2h1V1859.8h1V1860.3h1V1859.5h1V1859.1h1V1860.0h1V1859.1h1V1858.6h1V1859.6h1V1859.6h1V1859.3h1V1857.7h1V1859.2h1V1857.1h1V1858.3h1V1856.5h1V1855.7h1V1855.5h1V1857.7h1V1856.0h1V1856.7h1V1854.1h1V1857.3h1V1858.3h1V1858.1h1V1859.5h1V1859.7h1V1859.7h1V1860.2h1V1860.3h1V1859.4h1V1860.2h1V1859.4h1V1859.5h1V1859.6h1V1859.4h1V1859.4h1V1858.9h1V1859.1h1V1859.7h1V1859.0h1V1859.2h1V1858.4h1V1859.8h1V1859.1h1V1858.0h1V1859.7h1V1858.4h1V1858.1h1V1858.8h1V1859.9h1V1858.7h1V1859.7h1V1859.4h1V1859.1h1V1859.9h1V1860.1h1V1860.3h1V1860.1h1V1860.5h1V1859.9h1V1859.9h1V1860.7h1V1860.3h1V1860.1h1V1860.2h1V1860.6h1V1860.4h1V1860.3h1V1860.4h1V1860.1h1V1860.1h1V1860.1h1V1860.7h1V1860.8h1V1860.4h1V1860.4h1V1860.7h1V1860.7h1V1860.3h1V1860.3h1V1860.9h1V1860.8h1V1860.4h1V1860.6h1V1860.8h1V1860.3h1V1860.7h1V1860.9h1V1860.5h1V1860.1h1V1859.5h1V1859.0h1V1859.8h1V1858.7h1V1857.2h1V1857.8h1V1856.1h1V1855.6h1V1855.7h1V1856.5h1V1858.6h1V1856.0h1V1858.3h1V1858.5h1V1858.2h1V1857.9h1V1856.9h1V1857.2h1V1855.6h1V1855.6h1V1855.8h1V1857.0h1V1855.1h1V1855.4h1V1853.8h1V1856.3h1V1854.2h1V1855.1h1V1857.7h1V1855.2h1V1857.3h1V1857.9h1V1858.5h1V1858.8h1V1858.2h1V1858.1h1V1859.1h1V1859.1h1V1859.3h1V1860.0h1V1858.7h1V1859.5h1V1860.2h1V1859.8h1V1859.8h1V1859.0h1V1860.0h1V1860.0h1V1858.9h1V1859.8h1V1858.9h1V1860.3h1V1860.2h1V1860.0h1V1859.8h1V1859.6h1V1859.9h1V1859.1h1V1859.1h1V1859.7h1V1859.1h1V1859.3h1V1859.2h1V1859.7h1V1860.3h1V1859.8h1V1860.4h1V1860.0h1V1859.4h1V1860.1h1V1859.8h1V1859.5h1V1859.8h1V1860.2h1V1860.1h1V1860.5h1V1859.8h1V1860.0h1V1860.3h1V1860.2h1V1859.9h1V1860.6h1V1860.5h1V1860.1h1V1860.0h1V1860.3h1V1860.2h1V1860.8h1V1860.3h1V1860.3h1V1860.7h1V1860.4h1V1860.6h1V1860.6h1V1860.3h1V1860.3h1V1860.9h1V1860.8h1V1860.5h1V1860.3h1V1860.5h1V1860.7h1V1860.5h1V1860.3h1V1860.9h1V1860.9h1V1860.6h1V1860.4h1V1860.6h1V1860.6h1V1860.8h1V1860.8h1V1860.9h1V1860.6h1V1860.7h1V1860.5h1V1860.5h1V1860.6h1V1860.3h1V1860.6h1V1860.5h1V1860.5h1V1860.3h1V1860.1h1V1860.3h1V1860.8h1V1860.3h1V1860.4h1V1860.3h1V1860.8h1V1860.8h1V1860.8h1V1860.7h1V1860.7h1V1860.2h1V1860.2h1V1860.5h1V1860.6h1V1860.4h1V1860.7h1V1860.6h1V1860.3h1V1859.6h1V1859.6h1V1860.2h1V1859.1h1V1858.6h1V1858.6h1V1859.7h1V1858.7h1V1857.8h1V1859.2h1V1858.3h1V1858.0h1V1857.3h1V1857.7h1V1858.7h1V1858.5h1V1859.4h1V1858.2h1V1859.5h1V1858.8h1V1859.8h1V1858.9h1V1859.0h1V1860.2h1V1860.0h1V1860.4h1V1860.2h1V1860.7h1V1860.4h1V1860.7h1V1861.1h1V1861.0h1V1861.0h1V1861.1h1V1860.9h1V1860.9h1V1861.0h1V1861.0h1V1861.1h1V1861.1h1V1861.0h1V1861.4ZM1954.8,1861.4V1861.1h1V1861.1h1V1861.4Z" fill="#0a9a0a" />
<line x1="1595.3" y1="1905.5" x2="1957.5" y2="1905.5" stroke="#2a2ad0" stroke-width="1.0" />
<path d="M1598.8,1905.5V1905.2h1V1905.2h1V1905.1h1V1905.0h1V1904.9h1V1905.0h1V1904.9h1V1904.7h1V1904.7h1V1904.7h1V1904.5h1V1904.6h1V1904.5h1V1904.4h1V1904.5h1V1904.4h1V1904.2h1V1904.1h1V1904.2h1V1904.0h1V1903.8h1V1904.1h1V1904.0h1V1904.0h1V1903.7h1V1903.7h1V1903.7h1V1903.7h1V1903.4h1V1903.3h1V1903.4h1V1903.1h1V1903.5h1V1903.3h1V1902.9h1V1903.3h1V1903.3h1V1903.3h1V1902.8h1V1902.6h1V1903.1h1V1902.6h1V1902.6h1V1902.5h1V1902.5h1V1902.2h1V1902.4h1V1901.4h1V1902.1h1V1901.6h1V1901.4h1V1901.2h1V1901.3h1V1901.1h1V1900.5h1V1901.4h1V1901.2h1V1901.0h1V1900.2h1V1900.6h1V1900.5h1V1900.9h1V1900.7h1V1899.7h1V1900.3h1V1900.0h1V1900.7h1V1900.9h1V1901.4h1V1900.9h1V1901.6h1V1902.1h1V1902.7h1V1902.5h1V1903.1h1V1903.6h1V1903.6h1V1903.1h1V1903.4h1V1903.3h1V1903.5h1V1902.9h1V1903.3h1V1903.1h1V1902.9h1V1903.0h1V1903.1h1V1903.2h1V1902.8h1V1903.1h1V1902.8h1V1902.5h1V1902.5h1V1902.6h1V1902.6h1V1903.0h1V1902.4h1V1902.3h1V1902.7h1V1902.9h1V1902.5h1V1902.5h1V1902.1h1V1902.2h1V1902.5h1V1902.4h1V1902.6h1V1902.5h1V1902.5h1V1902.6h1V1903.0h1V1902.6h1V1903.2h1V1903.1h1V1902.9h1V1903.4h1V1903.0h1V1903.3h1V1903.3h1V1903.6h1V1903.4h1V1903.3h1V1903.7h1V1903.1h1V1903.0h1V1903.2h1V1903.2h1V1902.9h1V1903.0h1V1902.9h1V1903.0h1V1902.9h1V1903.0h1V1903.2h1V1902.6h1V1902.6h1V1903.1h1V1902.4h1V1902.2h1V1902.6h1V1902.1h1V1902.7h1V1902.3h1V1902.1h1V1902.5h1V1902.6h1V1902.7h1V1902.3h1V1902.6h1V1902.4h1V1902.3h1V1902.6h1V1902.5h1V1902.8h1V1902.2h1V1902.2h1V1902.6h1V1902.7h1V1902.3h1V1902.4h1V1902.1h1V1902.2h1V1902.4h1V1902.5h1V1902.3h1V1902.3h1V1902.4h1V1902.3h1V1902.5h1V1901.0h1V1899.8h1V1899.0h1V1896.3h1V1896.4h1V1895.7h1V1894.2h1V1892.5h1V1893.5h1V1892.8h1V1891.7h1V1891.6h1V1892.5h1V1892.6h1V1896.3h1V1895.6h1V1896.7h1V1895.8h1V1894.7h1V1892.5h1V1890.5h1V1889.6h1V1891.2h1V1888.0h1V1884.7h1V1886.0h1V1885.5h1V1884.2h1V1882.1h1V1883.8h1V1884.3h1V1885.1h1V1883.9h1V1879.5h1V1885.1h1V1884.3h1V1885.8h1V1883.6h1V1884.8h1V1890.3h1V1890.8h1V1891.2h1V1892.5h1V1892.0h1V1891.0h1V1894.0h1V1893.9h1V1895.3h1V1895.1h1V1897.4h1V1897.6h1V1899.6h1V1899.5h1V1900.5h1V1900.0h1V1900.1h1V1901.1h1V1901.0h1V1901.1h1V1901.9h1V1901.6h1V1902.8h1V1902.8h1V1902.7h1V1903.1h1V1903.5h1V1903.7h1V1903.7h1V1903.7h1V1903.8h1V1903.8h1V1903.9h1V1903.7h1V1904.2h1V1903.9h1V1904.1h1V1903.9h1V1904.0h1V1904.3h1V1904.7h1V1904.9h1V1905.2h1V1905.5ZM1855.8,1905.5V1905.2h1V1905.1h1V1905.1h1V1905.1h1V1905.1h1V1905.0h1V1904.9h1V1904.9h1V1904.9h1V1905.0h1V1905.0h1V1904.8h1V1904.8h1V1904.9h1V1904.8h1V1904.9h1V1904.9h1V1904.7h1V1904.9h1V1904.7h1V1904.8h1V1904.7h1V1904.8h1V1904.8h1V1904.6h1V1904.5h1V1904.6h1V1904.5h1V1904.6h1V1904.5h1V1904.6h1V1904.5h1V1904.5h1V1904.6h1V1904.5h1V1904.4h1V1904.6h1V1904.5h1V1904.6h1V1904.3h1V1904.4h1V1904.3h1V1904.4h1V1904.4h1V1904.3h1V1904.3h1V1904.4h1V1904.5h1V1904.3h1V1904.4h1V1904.3h1V1904.4h1V1904.2h1V1904.2h1V1904.3h1V1903.2h1V1902.5h1V1901.2h1V1901.1h1V1900.0h1V1899.4h1V1897.9h1V1897.7h1V1895.5h1V1894.3h1V1893.7h1V1888.9h1V1890.2h1V1885.6h1V1887.3h1V1888.7h1V1889.5h1V1890.7h1V1891.8h1V1891.5h1V1889.3h1V1893.2h1V1892.4h1V1893.1h1V1894.3h1V1896.0h1V1894.3h1V1895.7h1V1896.2h1V1897.3h1V1897.0h1V1898.5h1V1898.9h1V1900.4h1V1900.7h1V1900.9h1V1901.2h1V1902.0h1V1902.5h1V1903.4h1V1903.8h1V1904.2h1V1904.4h1V1904.7h1V1904.8h1V1905.0h1V1905.2h1V1905.5Z" fill="#0000b4" />
<line x1="1595.3" y1="1950.1" x2="1957.5" y2="1950.1" stroke="#2a2ad0" stroke-width="1.0" />
<path d="M1607.8,1950.1V1949.8h1V1950.1ZM1612.8,1950.1V1949.8h1V1950.1ZM1615.8,1950.1V1949.7h1V1950.1ZM1618.8,1950.1V1949.8h1V1949.6h1V1949.8h1V1950.1ZM1625.8,1950.1V1949.5h1V1949.6h1V1950.1ZM1628.8,1950.1V1949.8h1V1949.4h1V1949.6h1V1949.7h1V1949.6h1V1949.3h1V1949.8h1V1949.5h1V1950.1ZM1637.8,1950.1V1949.6h1V1949.7h1V1949.6h1V1949.5h1V1949.5h1V1949.0h1V1949.5h1V1949.8h1V1948.9h1V1948.8h1V1948.8h1V1949.4h1V1949.3h1V1948.7h1V1949.6h1V1949.6h1V1949.0h1V1949.3h1V1948.9h1V1949.4h1V1948.1h1V1948.8h1V1949.1h1V1949.2h1V1949.2h1V1948.5h1V1948.6h1V1948.6h1V1948.5h1V1948.9h1V1949.2h1V1949.2h1V1949.6h1V1949.3h1V1949.2h1V1948.8h1V1949.2h1V1949.7h1V1949.3h1V1949.5h1V1949.0h1V1948.9h1V1949.2h1V1949.1h1V1949.3h1V1949.4h1V1948.8h1V1948.8h1V1949.1h1V1948.6h1V1948.7h1V1948.8h1V1949.6h1V1948.6h1V1949.6h1V1949.5h1V1949.7h1V1949.6h1V1949.2h1V1949.4h1V1949.8h1V1949.7h1V1949.4h1V1949.7h1V1949.8h1V1949.6h1V1950.1ZM1705.8,1950.1V1949.8h1V1949.6h1V1950.1ZM1708.8,1950.1V1949.5h1V1949.7h1V1949.1h1V1949.4h1V1949.5h1V1949.4h1V1949.6h1V1949.7h1V1949.0h1V1949.0h1V1949.4h1V1949.4h1V1948.9h1V1948.1h1V1949.5h1V1948.4h1V1947.9h1V1949.0h1V1948.8h1V1948.5h1V1949.0h1V1949.4h1V1949.2h1V1947.7h1V1948.6h1V1947.6h1V1949.1h1V1947.8h1V1948.9h1V1948.6h1V1947.7h1V1947.1h1V1947.1h1V1947.4h1V1949.0h1V1947.8h1V1947.5h1V1948.6h1V1948.0h1V1948.6h1V1948.0h1V1948.1h1V1948.4h1V1949.3h1V1949.6h1V1949.4h1V1949.3h1V1949.8h1V1949.4h1V1949.3h1V1949.3h1V1949.4h1V1949.0h1V1949.4h1V1949.4h1V1948.9h1V1949.1h1V1949.1h1V1949.2h1V1949.4h1V1949.3h1V1949.1h1V1948.4h1V1948.9h1V1949.0h1V1949.2h1V1947.7h1V1948.5h1V1948.2h1V1949.0h1V1946.9h1V1947.9h1V1947.9h1V1947.5h1V1947.8h1V1947.2h1V1947.3h1V1947.2h1V1944.7h1V1943.7h1V1945.6h1V1947.4h1V1947.4h1V1946.8h1V1944.7h1V1945.1h1V1948.6h1V1948.9h1V1947.2h1V1948.2h1V1948.8h1V1948.6h1V1948.8h1V1949.4h1V1948.2h1V1949.6h1V1949.1h1V1949.6h1V1949.5h1V1949.4h1V1949.4h1V1948.4h1V1948.9h1V1948.8h1V1948.5h1V1948.9h1V1949.4h1V1949.4h1V1949.6h1V1949.1h1V1948.7h1V1948.5h1V1948.8h1V1949.4h1V1948.6h1V1948.8h1V1949.0h1V1948.5h1V1949.1h1V1948.5h1V1949.0h1V1948.8h1V1949.2h1V1949.3h1V1948.6h1V1948.4h1V1949.5h1V1949.2h1V1948.4h1V1948.1h1V1948.7h1V1948.1h1V1948.8h1V1948.2h1V1948.9h1V1949.1h1V1948.6h1V1948.5h1V1949.5h1V1949.5h1V1949.4h1V1949.6h1V1949.6h1V1949.3h1V1948.9h1V1949.1h1V1949.6h1V1949.6h1V1949.7h1V1949.4h1V1949.7h1V1949.8h1V1949.2h1V1949.2h1V1949.4h1V1949.5h1V1949.7h1V1949.4h1V1949.5h1V1949.0h1V1949.6h1V1948.9h1V1948.7h1V1948.7h1V1948.7h1V1949.6h1V1948.8h1V1949.1h1V1949.6h1V1949.5h1V1948.8h1V1948.5h1V1948.9h1V1949.3h1V1949.5h1V1948.7h1V1949.0h1V1949.5h1V1948.1h1V1948.7h1V1948.3h1V1949.3h1V1947.7h1V1948.3h1V1949.4h1V1948.1h1V1949.3h1V1948.9h1V1948.2h1V1947.5h1V1948.2h1V1949.3h1V1947.6h1V1948.6h1V1947.5h1V1948.1h1V1948.0h1V1949.1h1V1947.6h1V1948.7h1V1947.5h1V1947.9h1V1947.4h1V1947.2h1V1948.9h1V1947.3h1V1948.9h1V1949.2h1V1948.8h1V1948.0h1V1949.0h1V1948.1h1V1948.8h1V1947.5h1V1948.1h1V1948.1h1V1949.4h1V1948.6h1V1948.0h1V1948.0h1V1949.3h1V1948.1h1V1949.0h1V1948.1h1V1948.9h1V1948.6h1V1948.5h1V1948.3h1V1948.8h1V1949.0h1V1948.1h1V1948.3h1V1948.9h1V1948.5h1V1948.4h1V1948.5h1V1948.5h1V1948.7h1V1949.3h1V1948.9h1V1949.6h1V1949.0h1V1948.6h1V1948.9h1V1948.6h1V1948.5h1V1948.9h1V1948.8h1V1948.6h1V1950.1Z" fill="#0000b4" />
<line x1="1595.3" y1="1995.0" x2="1957.5" y2="1995.0" stroke="#b0b0b0" stroke-width="1.0" />
<path d="M1603.8,1995.0V1994.7h1V1994.7h1V1994.7h1V1994.7h1V1994.7h1V1994.6h1V1994.6h1V1994.6h1V1994.5h1V1994.5h1V1994.5h1V1994.0h1V1993.6h1V1993.6h1V1993.5h1V1993.7h1V1993.6h1V1993.5h1V1993.4h1V1993.5h1V1993.3h1V1993.4h1V1993.4h1V1993.2h1V1993.4h1V1993.1h1V1993.3h1V1993.2h1V1993.2h1V1993.1h1V1992.9h1V1993.1h1V1993.0h1V1993.0h1V1992.9h1V1992.8h1V1992.4h1V1992.4h1V1992.2h1V1991.9h1V1992.1h1V1991.4h1V1991.2h1V1991.5h1V1990.9h1V1990.8h1V1991.0h1V1990.8h1V1990.8h1V1990.4h1V1990.2h1V1989.9h1V1988.9h1V1985.8h1V1983.8h1V1983.2h1V1982.9h1V1983.8h1V1985.0h1V1985.4h1V1984.7h1V1985.7h1V1986.5h1V1987.7h1V1988.2h1V1988.3h1V1988.7h1V1988.8h1V1989.8h1V1989.2h1V1990.0h1V1990.1h1V1990.1h1V1989.9h1V1990.6h1V1990.6h1V1991.2h1V1990.8h1V1991.6h1V1991.6h1V1991.7h1V1991.5h1V1991.4h1V1990.9h1V1991.1h1V1989.9h1V1990.0h1V1989.2h1V1987.7h1V1985.3h1V1982.9h1V1983.0h1V1985.6h1V1987.3h1V1988.3h1V1990.3h1V1990.5h1V1990.8h1V1991.6h1V1991.5h1V1991.7h1V1991.5h1V1992.0h1V1991.9h1V1992.0h1V1992.2h1V1992.1h1V1992.2h1V1992.3h1V1992.1h1V1992.4h1V1992.6h1V1992.3h1V1992.5h1V1992.7h1V1992.3h1V1992.4h1V1992.4h1V1992.4h1V1992.7h1V1992.4h1V1992.7h1V1992.4h1V1992.4h1V1992.6h1V1992.7h1V1992.6h1V1992.6h1V1992.7h1V1992.9h1V1992.8h1V1992.7h1V1993.0h1V1992.9h1V1992.7h1V1992.8h1V1993.0h1V1993.1h1V1992.9h1V1992.8h1V1992.9h1V1992.8h1V1992.5h1V1992.6h1V1992.6h1V1992.8h1V1992.6h1V1992.8h1V1992.3h1V1992.4h1V1992.4h1V1992.3h1V1992.6h1V1992.1h1V1992.1h1V1992.5h1V1991.9h1V1991.9h1V1991.8h1V1992.3h1V1991.8h1V1991.8h1V1992.1h1V1992.2h1V1990.0h1V1988.5h1V1985.4h1V1982.2h1V1980.6h1V1978.2h1V1976.0h1V1977.7h1V1978.5h1V1977.3h1V1977.0h1V1977.1h1V1980.5h1V1979.8h1V1977.7h1V1979.1h1V1977.1h1V1976.1h1V1976.0h1V1976.5h1V1975.7h1V1974.8h1V1977.2h1V1975.4h1V1971.7h1V1970.8h1V1967.2h1V1963.9h1V1963.2h1V1963.9h1V1963.9h1V1963.6h1V1969.2h1V1970.2h1V1964.6h1V1962.6h1V1962.3h1V1962.1h1V1961.9h1V1959.4h1V1964.6h1V1966.6h1V1971.6h1V1974.2h1V1978.7h1V1978.6h1V1981.9h1V1982.7h1V1983.9h1V1985.2h1V1985.9h1V1988.1h1V1989.2h1V1988.6h1V1989.0h1V1989.1h1V1989.3h1V1989.7h1V1990.3h1V1990.4h1V1991.2h1V1991.2h1V1991.4h1V1991.4h1V1992.1h1V1992.1h1V1992.1h1V1992.2h1V1992.1h1V1991.9h1V1992.3h1V1992.5h1V1992.6h1V1992.3h1V1992.5h1V1992.3h1V1992.7h1V1992.4h1V1992.8h1V1992.5h1V1992.6h1V1992.9h1V1993.1h1V1992.9h1V1993.0h1V1993.0h1V1993.3h1V1993.1h1V1993.3h1V1993.4h1V1993.5h1V1993.6h1V1993.5h1V1993.7h1V1993.7h1V1993.7h1V1993.7h1V1993.9h1V1994.0h1V1993.9h1V1994.1h1V1994.0h1V1994.1h1V1994.2h1V1994.2h1V1994.2h1V1994.2h1V1994.2h1V1994.2h1V1994.2h1V1994.1h1V1994.2h1V1994.2h1V1994.1h1V1994.1h1V1994.1h1V1994.0h1V1994.1h1V1994.0h1V1994.1h1V1994.0h1V1994.1h1V1994.0h1V1994.1h1V1994.0h1V1993.9h1V1993.9h1V1993.9h1V1993.9h1V1994.0h1V1993.9h1V1993.7h1V1993.7h1V1993.7h1V1993.4h1V1993.4h1V1993.3h1V1993.3h1V1993.1h1V1993.2h1V1993.2h1V1992.9h1V1992.9h1V1992.2h1V1991.9h1V1991.0h1V1990.5h1V1990.3h1V1988.7h1V1988.6h1V1987.9h1V1987.1h1V1985.1h1V1984.2h1V1982.2h1V1980.6h1V1976.9h1V1976.6h1V1973.8h1V1974.3h1V1975.3h1V1975.3h1V1977.7h1V1978.5h1V1979.2h1V1979.0h1V1979.2h1V1979.9h1V1978.4h1V1978.1h1V1981.0h1V1983.6h1V1984.6h1V1987.2h1V1989.1h1V1989.7h1V1990.3h1V1990.7h1V1991.5h1V1991.9h1V1992.6h1V1992.9h1V1993.1h1V1993.4h1V1993.5h1V1993.7h1V1994.0h1V1994.0h1V1994.3h1V1994.4h1V1995.0Z" fill="#6e6e6e" />
<line x1="1595.3" y1="2039.8" x2="1957.5" y2="2039.8" stroke="#c4c4c4" stroke-width="1.6" />
<path d="M1653.8,2039.8V2039.3h1V2038.6h1V2037.9h1V2037.6h1V2036.9h1V2037.3h1V2037.7h1V2038.2h1V2038.9h1V2039.5h1V2039.8ZM1689.8,2039.8V2039.4h1V2038.7h1V2037.7h1V2036.9h1V2036.1h1V2036.3h1V2036.7h1V2037.2h1V2038.1h1V2038.6h1V2039.1h1V2039.8ZM1771.8,2039.8V2039.4h1V2039.2h1V2039.0h1V2038.7h1V2038.6h1V2038.6h1V2038.4h1V2038.3h1V2038.3h1V2038.1h1V2038.2h1V2038.0h1V2038.0h1V2038.0h1V2037.7h1V2037.7h1V2038.0h1V2038.0h1V2038.2h1V2038.4h1V2038.4h1V2038.4h1V2038.5h1V2038.6h1V2038.6h1V2038.7h1V2038.7h1V2038.5h1V2037.7h1V2037.2h1V2036.5h1V2036.0h1V2035.9h1V2035.5h1V2034.9h1V2035.0h1V2036.1h1V2036.3h1V2037.3h1V2038.0h1V2038.8h1V2039.4h1V2039.8ZM1921.8,2039.8V2039.3h1V2039.1h1V2038.7h1V2038.4h1V2038.3h1V2038.6h1V2038.6h1V2038.7h1V2038.9h1V2038.9h1V2038.9h1V2038.9h1V2038.8h1V2038.7h1V2038.8h1V2039.0h1V2039.3h1V2039.8Z" fill="#6e6e6e" />
<line x1="1595.3" y1="2084.4" x2="1959.0" y2="2084.4" stroke="#ff7aff" stroke-width="1.0" />
<path d="M1598.8,2084.4V2084.1h1V2084.1h1V2084.0h1V2084.0h1V2083.9h1V2083.9h1V2083.8h1V2083.7h1V2083.6h1V2083.6h1V2083.5h1V2083.4h1V2083.4h1V2083.3h1V2083.3h1V2083.2h1V2083.1h1V2083.0h1V2083.0h1V2082.8h1V2082.7h1V2082.6h1V2082.5h1V2082.3h1V2082.2h1V2082.1h1V2082.0h1V2081.9h1V2081.6h1V2081.5h1V2081.5h1V2081.5h1V2081.3h1V2081.1h1V2081.1h1V2080.8h1V2081.0h1V2080.7h1V2080.6h1V2080.6h1V2080.4h1V2080.2h1V2080.2h1V2079.8h1V2080.0h1V2079.9h1V2079.7h1V2079.8h1V2079.6h1V2079.6h1V2079.6h1V2079.2h1V2079.4h1V2079.7h1V2079.8h1V2079.9h1V2080.3h1V2080.2h1V2080.4h1V2080.5h1V2081.1h1V2081.2h1V2081.2h1V2080.9h1V2080.9h1V2080.4h1V2080.4h1V2080.0h1V2080.0h1V2079.7h1V2079.1h1V2079.0h1V2078.5h1V2078.3h1V2078.4h1V2078.2h1V2078.1h1V2078.1h1V2077.8h1V2077.4h1V2077.5h1V2077.0h1V2077.3h1V2077.2h1V2076.4h1V2076.8h1V2076.7h1V2075.9h1V2075.9h1V2075.9h1V2076.1h1V2076.8h1V2076.6h1V2076.7h1V2077.1h1V2077.0h1V2076.9h1V2076.0h1V2075.0h1V2073.8h1V2073.3h1V2071.7h1V2071.2h1V2071.0h1V2071.0h1V2070.8h1V2070.3h1V2070.4h1V2070.9h1V2071.4h1V2071.5h1V2070.4h1V2071.6h1V2071.2h1V2070.9h1V2071.6h1V2070.7h1V2070.3h1V2070.6h1V2070.5h1V2070.4h1V2070.4h1V2071.2h1V2071.2h1V2070.1h1V2070.0h1V2069.9h1V2069.9h1V2070.6h1V2070.8h1V2069.8h1V2070.1h1V2068.8h1V2068.9h1V2067.8h1V2067.3h1V2066.5h1V2066.8h1V2066.5h1V2066.6h1V2066.2h1V2066.6h1V2064.9h1V2066.5h1V2065.4h1V2066.8h1V2066.0h1V2066.6h1V2065.6h1V2066.8h1V2065.7h1V2065.6h1V2066.1h1V2066.2h1V2066.4h1V2066.0h1V2066.6h1V2065.9h1V2067.2h1V2067.3h1V2066.6h1V2067.9h1V2069.0h1V2069.4h1V2070.1h1V2072.4h1V2073.6h1V2075.6h1V2077.5h1V2079.3h1V2081.3h1V2082.7h1V2079.2h1V2076.4h1V2073.1h1V2069.1h1V2066.0h1V2063.5h1V2062.0h1V2059.6h1V2055.9h1V2054.5h1V2053.6h1V2051.9h1V2051.2h1V2050.8h1V2048.4h1V2050.5h1V2049.0h1V2051.8h1V2053.6h1V2053.2h1V2054.5h1V2056.1h1V2056.7h1V2057.7h1V2059.3h1V2059.3h1V2059.3h1V2062.0h1V2062.5h1V2062.6h1V2062.1h1V2063.8h1V2064.5h1V2067.2h1V2069.2h1V2071.3h1V2073.0h1V2073.2h1V2072.3h1V2071.6h1V2071.7h1V2070.9h1V2069.5h1V2068.7h1V2068.4h1V2068.4h1V2066.9h1V2066.1h1V2067.3h1V2065.9h1V2066.3h1V2064.7h1V2064.3h1V2064.2h1V2063.3h1V2063.4h1V2062.2h1V2063.7h1V2065.3h1V2065.4h1V2066.3h1V2066.1h1V2067.8h1V2068.0h1V2069.3h1V2068.5h1V2069.8h1V2070.4h1V2071.2h1V2072.0h1V2073.4h1V2073.9h1V2074.7h1V2075.1h1V2076.5h1V2077.3h1V2078.1h1V2078.9h1V2079.9h1V2079.6h1V2079.1h1V2078.9h1V2079.1h1V2078.4h1V2078.3h1V2078.0h1V2078.1h1V2077.5h1V2077.2h1V2077.4h1V2077.2h1V2077.3h1V2076.9h1V2077.4h1V2077.6h1V2077.6h1V2077.6h1V2077.7h1V2077.7h1V2077.4h1V2077.7h1V2077.2h1V2077.5h1V2077.7h1V2077.6h1V2077.8h1V2077.6h1V2077.5h1V2077.8h1V2077.5h1V2077.6h1V2077.7h1V2077.6h1V2077.8h1V2077.8h1V2076.8h1V2076.4h1V2076.5h1V2075.9h1V2075.4h1V2074.6h1V2074.8h1V2073.9h1V2073.8h1V2073.1h1V2074.1h1V2074.2h1V2073.8h1V2074.7h1V2074.6h1V2074.2h1V2075.2h1V2074.6h1V2075.6h1V2075.2h1V2074.8h1V2074.0h1V2074.1h1V2073.7h1V2073.1h1V2072.9h1V2073.4h1V2073.6h1V2074.8h1V2075.3h1V2075.8h1V2076.7h1V2077.2h1V2077.9h1V2078.2h1V2078.7h1V2078.3h1V2077.8h1V2077.5h1V2076.5h1V2075.3h1V2073.2h1V2072.3h1V2069.2h1V2067.0h1V2065.2h1V2062.9h1V2064.3h1V2064.2h1V2064.4h1V2065.5h1V2066.9h1V2066.3h1V2066.0h1V2064.5h1V2064.5h1V2063.2h1V2062.4h1V2062.5h1V2063.0h1V2061.6h1V2062.0h1V2064.0h1V2064.4h1V2065.7h1V2066.6h1V2068.9h1V2070.1h1V2072.7h1V2074.7h1V2077.0h1V2078.6h1V2080.0h1V2084.4Z" fill="#ff00ff" />
<line x1="1595.3" y1="2124.3" x2="1957.5" y2="2124.3" stroke="#ff4dff" stroke-width="1.0" />
<path d="M1611.8,2124.3V2124.0h1V2124.3ZM1613.8,2124.3V2124.0h1V2124.3ZM1615.8,2124.3V2124.0h1V2124.0h1V2124.0h1V2123.9h1V2124.0h1V2123.9h1V2123.9h1V2123.8h1V2123.8h1V2123.9h1V2123.9h1V2123.9h1V2123.8h1V2123.9h1V2123.8h1V2123.8h1V2123.7h1V2123.7h1V2123.6h1V2123.7h1V2123.7h1V2123.6h1V2123.7h1V2123.7h1V2123.7h1V2123.7h1V2123.5h1V2123.6h1V2123.6h1V2123.5h1V2123.7h1V2123.4h1V2123.5h1V2123.6h1V2123.3h1V2123.4h1V2123.2h1V2123.5h1V2123.0h1V2123.0h1V2123.4h1V2123.1h1V2123.4h1V2123.3h1V2123.2h1V2123.2h1V2122.6h1V2122.8h1V2122.8h1V2122.6h1V2122.9h1V2122.7h1V2122.4h1V2122.5h1V2122.7h1V2122.9h1V2122.1h1V2121.9h1V2121.9h1V2122.7h1V2122.6h1V2122.5h1V2121.8h1V2122.2h1V2121.8h1V2121.7h1V2122.0h1V2122.3h1V2121.3h1V2121.8h1V2121.5h1V2122.4h1V2121.7h1V2121.4h1V2121.8h1V2121.6h1V2120.7h1V2121.1h1V2120.7h1V2121.0h1V2121.4h1V2120.4h1V2120.0h1V2119.7h1V2120.2h1V2119.1h1V2118.9h1V2120.5h1V2120.2h1V2118.3h1V2118.5h1V2118.8h1V2120.6h1V2119.0h1V2120.9h1V2121.0h1V2120.2h1V2120.3h1V2121.7h1V2120.8h1V2121.9h1V2121.7h1V2122.1h1V2121.6h1V2122.2h1V2122.7h1V2121.7h1V2122.1h1V2121.5h1V2122.3h1V2122.2h1V2121.9h1V2121.7h1V2122.2h1V2121.2h1V2120.9h1V2121.1h1V2121.2h1V2120.5h1V2121.2h1V2121.5h1V2121.2h1V2120.0h1V2121.3h1V2120.7h1V2120.8h1V2119.7h1V2120.3h1V2120.8h1V2121.1h1V2121.3h1V2121.7h1V2121.2h1V2121.0h1V2121.0h1V2121.6h1V2122.0h1V2121.8h1V2121.1h1V2121.5h1V2121.3h1V2121.9h1V2122.0h1V2121.7h1V2122.6h1V2122.6h1V2122.7h1V2122.8h1V2123.0h1V2122.4h1V2122.9h1V2123.0h1V2122.8h1V2122.8h1V2122.5h1V2122.5h1V2121.1h1V2121.8h1V2121.3h1V2119.8h1V2119.8h1V2119.4h1V2120.6h1V2119.6h1V2118.0h1V2118.7h1V2117.7h1V2118.9h1V2118.6h1V2117.1h1V2117.5h1V2119.3h1V2116.6h1V2118.4h1V2119.2h1V2116.5h1V2116.1h1V2118.5h1V2117.3h1V2118.3h1V2118.3h1V2117.1h1V2119.3h1V2117.4h1V2118.7h1V2119.2h1V2119.4h1V2119.3h1V2120.5h1V2120.7h1V2120.3h1V2120.5h1V2119.7h1V2121.5h1V2120.7h1V2120.2h1V2120.1h1V2121.4h1V2121.0h1V2121.0h1V2120.3h1V2121.3h1V2121.5h1V2121.6h1V2121.1h1V2121.4h1V2121.0h1V2121.2h1V2121.8h1V2121.1h1V2121.6h1V2121.3h1V2122.2h1V2122.2h1V2121.6h1V2122.1h1V2122.6h1V2122.3h1V2122.6h1V2122.5h1V2122.4h1V2122.8h1V2122.5h1V2122.6h1V2123.2h1V2123.3h1V2123.0h1V2123.5h1V2123.5h1V2123.7h1V2123.5h1V2123.6h1V2123.6h1V2123.7h1V2123.6h1V2123.5h1V2123.5h1V2123.4h1V2123.7h1V2123.4h1V2123.5h1V2123.7h1V2123.6h1V2123.4h1V2123.6h1V2123.6h1V2123.4h1V2123.6h1V2123.6h1V2123.6h1V2123.6h1V2123.6h1V2123.5h1V2123.7h1V2123.7h1V2123.4h1V2123.3h1V2123.4h1V2123.3h1V2123.4h1V2123.4h1V2123.4h1V2123.7h1V2123.7h1V2123.6h1V2123.5h1V2123.5h1V2123.3h1V2123.4h1V2123.5h1V2123.7h1V2123.4h1V2123.7h1V2123.4h1V2123.3h1V2123.4h1V2123.7h1V2123.6h1V2123.6h1V2123.6h1V2123.6h1V2123.4h1V2123.5h1V2123.5h1V2123.5h1V2123.4h1V2123.5h1V2123.4h1V2123.0h1V2123.4h1V2123.1h1V2123.0h1V2123.0h1V2123.3h1V2123.3h1V2122.8h1V2123.1h1V2123.0h1V2122.8h1V2122.9h1V2122.9h1V2122.8h1V2122.8h1V2122.8h1V2122.7h1V2122.8h1V2122.5h1V2122.4h1V2122.5h1V2122.5h1V2122.1h1V2122.2h1V2122.1h1V2121.9h1V2122.0h1V2122.6h1V2122.6h1V2122.4h1V2122.4h1V2122.7h1V2122.1h1V2122.2h1V2122.2h1V2123.0h1V2122.5h1V2123.0h1V2122.8h1V2122.9h1V2122.8h1V2122.6h1V2122.7h1V2122.9h1V2123.1h1V2122.9h1V2123.0h1V2123.0h1V2123.4h1V2123.3h1V2123.4h1V2123.3h1V2123.3h1V2123.4h1V2124.3Z" fill="#ff00ff" />
<line x1="1595.3" y1="2174.5" x2="1959.0" y2="2174.5" stroke="#ff6a00" stroke-width="1.0" />
<path d="M1614.8,2174.5V2174.1h1V2167.4h1V2168.1h1V2168.4h1V2167.1h1V2167.3h1V2166.4h1V2167.5h1V2167.7h1V2166.7h1V2166.1h1V2166.6h1V2167.6h1V2167.3h1V2167.7h1V2167.3h1V2166.8h1V2167.4h1V2167.4h1V2168.0h1V2167.6h1V2166.9h1V2167.9h1V2168.1h1V2167.6h1V2167.4h1V2171.7h1V2171.3h1V2171.3h1V2171.3h1V2171.4h1V2171.3h1V2171.1h1V2171.6h1V2171.7h1V2171.7h1V2171.3h1V2171.6h1V2171.4h1V2167.2h1V2167.3h1V2167.0h1V2167.2h1V2167.2h1V2166.7h1V2167.5h1V2168.1h1V2166.5h1V2167.5h1V2169.9h1V2170.3h1V2169.7h1V2169.5h1V2170.3h1V2169.8h1V2170.3h1V2169.9h1V2170.2h1V2169.6h1V2169.3h1V2169.8h1V2174.5ZM1678.8,2174.5V2172.4h1V2171.9h1V2171.7h1V2171.5h1V2171.9h1V2171.4h1V2171.8h1V2171.5h1V2171.3h1V2171.2h1V2171.5h1V2163.5h1V2162.9h1V2161.8h1V2157.8h1V2157.6h1V2147.8h1V2155.9h1V2156.6h1V2156.9h1V2152.7h1V2151.6h1V2147.3h1V2146.5h1V2154.5h1V2163.5h1V2167.2h1V2171.1h1V2170.2h1V2166.6h1V2164.9h1V2165.0h1V2165.1h1V2165.2h1V2164.9h1V2163.7h1V2169.5h1V2171.9h1V2172.0h1V2171.7h1V2172.1h1V2171.8h1V2171.8h1V2171.8h1V2171.9h1V2172.1h1V2171.8h1V2172.4h1V2174.5ZM1731.8,2174.5V2169.9h1V2169.1h1V2167.9h1V2166.3h1V2166.0h1V2164.0h1V2164.3h1V2165.5h1V2166.8h1V2167.6h1V2167.0h1V2165.5h1V2166.2h1V2164.5h1V2167.0h1V2168.6h1V2168.8h1V2169.3h1V2169.2h1V2169.6h1V2168.9h1V2169.3h1V2169.7h1V2168.1h1V2168.4h1V2165.9h1V2165.0h1V2165.6h1V2163.6h1V2163.8h1V2165.4h1V2165.9h1V2166.3h1V2167.9h1V2170.3h1V2172.5h1V2173.2h1V2173.1h1V2173.1h1V2173.3h1V2168.7h1V2166.9h1V2165.2h1V2165.1h1V2162.9h1V2164.1h1V2163.2h1V2163.3h1V2165.4h1V2166.0h1V2170.1h1V2172.3h1V2173.1h1V2174.0h1V2174.5ZM1798.8,2174.5V2172.6h1V2170.8h1V2171.0h1V2170.3h1V2170.6h1V2170.6h1V2170.4h1V2170.8h1V2170.6h1V2172.1h1V2174.5ZM1813.8,2174.5V2171.2h1V2171.1h1V2171.3h1V2171.8h1V2171.4h1V2171.4h1V2174.5ZM1823.8,2174.5V2173.4h1V2170.9h1V2170.7h1V2170.5h1V2170.1h1V2170.6h1V2170.7h1V2171.4h1V2174.1h1V2174.5ZM1847.8,2174.5V2173.3h1V2173.3h1V2173.2h1V2173.2h1V2173.4h1V2173.5h1V2174.5ZM1858.8,2174.5V2173.9h1V2172.2h1V2172.2h1V2171.8h1V2171.9h1V2171.6h1V2171.4h1V2171.2h1V2171.6h1V2171.2h1V2171.8h1V2171.2h1V2171.9h1V2171.8h1V2171.9h1V2171.7h1V2172.0h1V2172.1h1V2174.5ZM1879.8,2174.5V2172.2h1V2171.1h1V2171.6h1V2171.5h1V2171.2h1V2171.6h1V2172.7h1V2173.9h1V2174.2h1V2174.5ZM1897.8,2174.5V2174.0h1V2173.1h1V2173.3h1V2173.1h1V2173.3h1V2173.1h1V2173.2h1V2173.7h1V2174.5ZM1923.8,2174.5V2173.0h1V2172.1h1V2172.3h1V2172.2h1V2172.3h1V2172.3h1V2172.0h1V2171.2h1V2170.5h1V2168.9h1V2169.0h1V2169.5h1V2170.2h1V2170.5h1V2169.7h1V2170.5h1V2170.1h1V2169.7h1V2170.3h1V2169.9h1V2170.4h1V2170.8h1V2170.8h1V2172.6h1V2174.5ZM1954.8,2174.5V2173.9h1V2173.2h1V2173.1h1V2172.9h1V2174.5Z" fill="#ff6a00" />
<rect x="1775.3" y="2181.5" width="1.2" height="11.6" fill="#ff6a00" />
<rect x="1804.6" y="2181.5" width="1.2" height="11.6" fill="#ff6a00" />
<rect x="1925.3" y="2181.5" width="1.2" height="11.6" fill="#ff6a00" />
<line x1="1597.1" y1="2218.3" x2="1959.1" y2="2218.3" stroke="#f7a070" stroke-width="1.0" />
<line x1="1595.3" y1="2263.3" x2="1957.5" y2="2263.3" stroke="#555" stroke-width="1.0" />
<path d="M1643.2,2263.3V2251.3h0.7V2254.4h0.7V2251.3h0.7V2254.4h0.7V2247.7h0.7V2247.5h0.7V2249.9h0.7V2247.1h0.7V2244.2h0.7V2248.2h0.7V2249.8h0.7V2247.0h0.7V2246.7h0.7V2246.3h0.7V2244.8h0.7V2240.8h0.7V2240.7h0.7V2248.8h0.7V2246.7h0.7V2245.5h0.7V2242.5h0.7V2248.3h0.7V2236.2h0.7V2236.1h0.7V2234.8h0.7V2220.7h0.7V2234.7h0.7V2239.1h0.7V2239.0h0.7V2242.3h0.7V2247.8h0.7V2244.4h0.7V2247.3h0.7V2241.8h0.7V2248.5h0.7V2238.5h0.7V2241.7h0.7V2244.7h0.7V2242.9h0.7V2237.4h0.7V2239.7h0.7V2246.7h0.7V2248.0h0.7V2250.4h0.7V2247.3h0.7V2245.4h0.7V2250.3h0.7V2242.9h0.7V2245.2h0.7V2241.8h0.7V2248.5h0.7V2249.8h0.7V2247.5h0.7V2245.7h0.7V2248.3h0.7V2247.5h0.7V2244.8h0.7V2249.8h0.7V2248.6h0.7V2247.3h0.7V2243.9h0.7V2247.5h0.7V2246.2h0.7V2250.9h0.7V2252.8h0.7V2252.9h0.7V2255.7h0.7V2252.3h0.7V2253.1h0.7V2251.3h0.7V2253.3h0.7V2256.4h0.7V2257.8h0.7V2257.4h0.7V2257.7h0.7V2257.6h0.7V2259.4h0.7V2259.9h0.7V2259.8h0.7V2258.1h0.7V2259.1h0.7V2260.1h0.7V2257.3h0.7V2256.6h0.7V2254.7h0.7V2256.7h0.7V2253.3h0.7V2255.3h0.7V2253.9h0.7V2256.6h0.7V2252.7h0.7V2252.1h0.7V2254.2h0.7V2253.6h0.7V2256.3h0.7V2253.1h0.7V2253.0h0.7V2252.1h0.7V2252.2h0.7V2255.1h0.7V2252.1h0.7V2253.0h0.7V2255.7h0.7V2256.0h0.7V2255.7h0.7V2256.3h0.7V2254.6h0.7V2255.2h0.7V2254.9h0.7V2256.0h0.7V2256.0h0.7V2256.0h0.7V2258.0h0.7V2256.4h0.7V2256.4h0.7V2257.7h0.7V2257.7h0.7V2255.1h0.7V2257.1h0.7V2258.5h0.7V2258.4h0.7V2256.9h0.7V2255.8h0.7V2258.4h0.7V2256.9h0.7V2257.4h0.7V2258.2h0.7V2259.1h0.7V2260.2h0.7V2260.6h0.7V2261.1h0.7V2260.1h0.7V2260.4h0.7V2259.5h0.7V2259.6h0.7V2260.2h0.7V2259.1h0.7V2259.4h0.7V2259.6h0.7V2259.9h0.7V2260.6h0.7V2259.6h0.7V2260.5h0.7V2261.1h0.7V2260.8h0.7V2260.4h0.7V2260.4h0.7V2261.2h0.7V2261.5h0.7V2261.3h0.7V2261.5h0.7V2262.5h0.7V2262.7h0.7V2263.3ZM1762.2,2263.3V2262.4h0.7V2262.9h0.7V2263.3Z" fill="#000" />
<line x1="1595.3" y1="2308.3" x2="1957.5" y2="2308.3" stroke="#555" stroke-width="1.0" />
<path d="M1653.0,2308.3V2307.9h0.7V2307.5h0.7V2307.6h0.7V2307.7h0.7V2307.7h0.7V2307.9h0.7V2308.3ZM1659.4,2308.3V2307.6h0.7V2307.5h0.7V2307.5h0.7V2307.5h0.7V2307.5h0.7V2307.5h0.7V2307.6h0.7V2308.0h0.7V2308.3Z" fill="#000" />
<rect x="1643.0" y="2321.3" width="46.7" height="9.4" fill="#4682b4" />
<rect x="1689.7" y="2317.9" width="60.5" height="15.9" fill="#4682b4" />
<line x1="1750.0" y1="2326.0" x2="1762.0" y2="2326.0" stroke="#8fb5d8" stroke-width="1.2" />
<rect x="1761.9" y="2317.9" width="7.0" height="15.9" fill="#4682b4" />
<rect x="1768.9" y="2321.3" width="3.9" height="9.4" fill="#4682b4" />
<path d="M1772.2,2328.6V2350.6" fill="none" stroke="#9a9a9a" stroke-width="1.0" />
<path d="M1766.0,2350.6L1772.6,2347.6L1770.6,2350.6L1772.6,2353.2Z" fill="#000" />
<text x="1688.3" y="2359.8" font-size="27.5" class="d" textLength="55" lengthAdjust="spacing">Ddn</text>
</svg>
</body></html>
